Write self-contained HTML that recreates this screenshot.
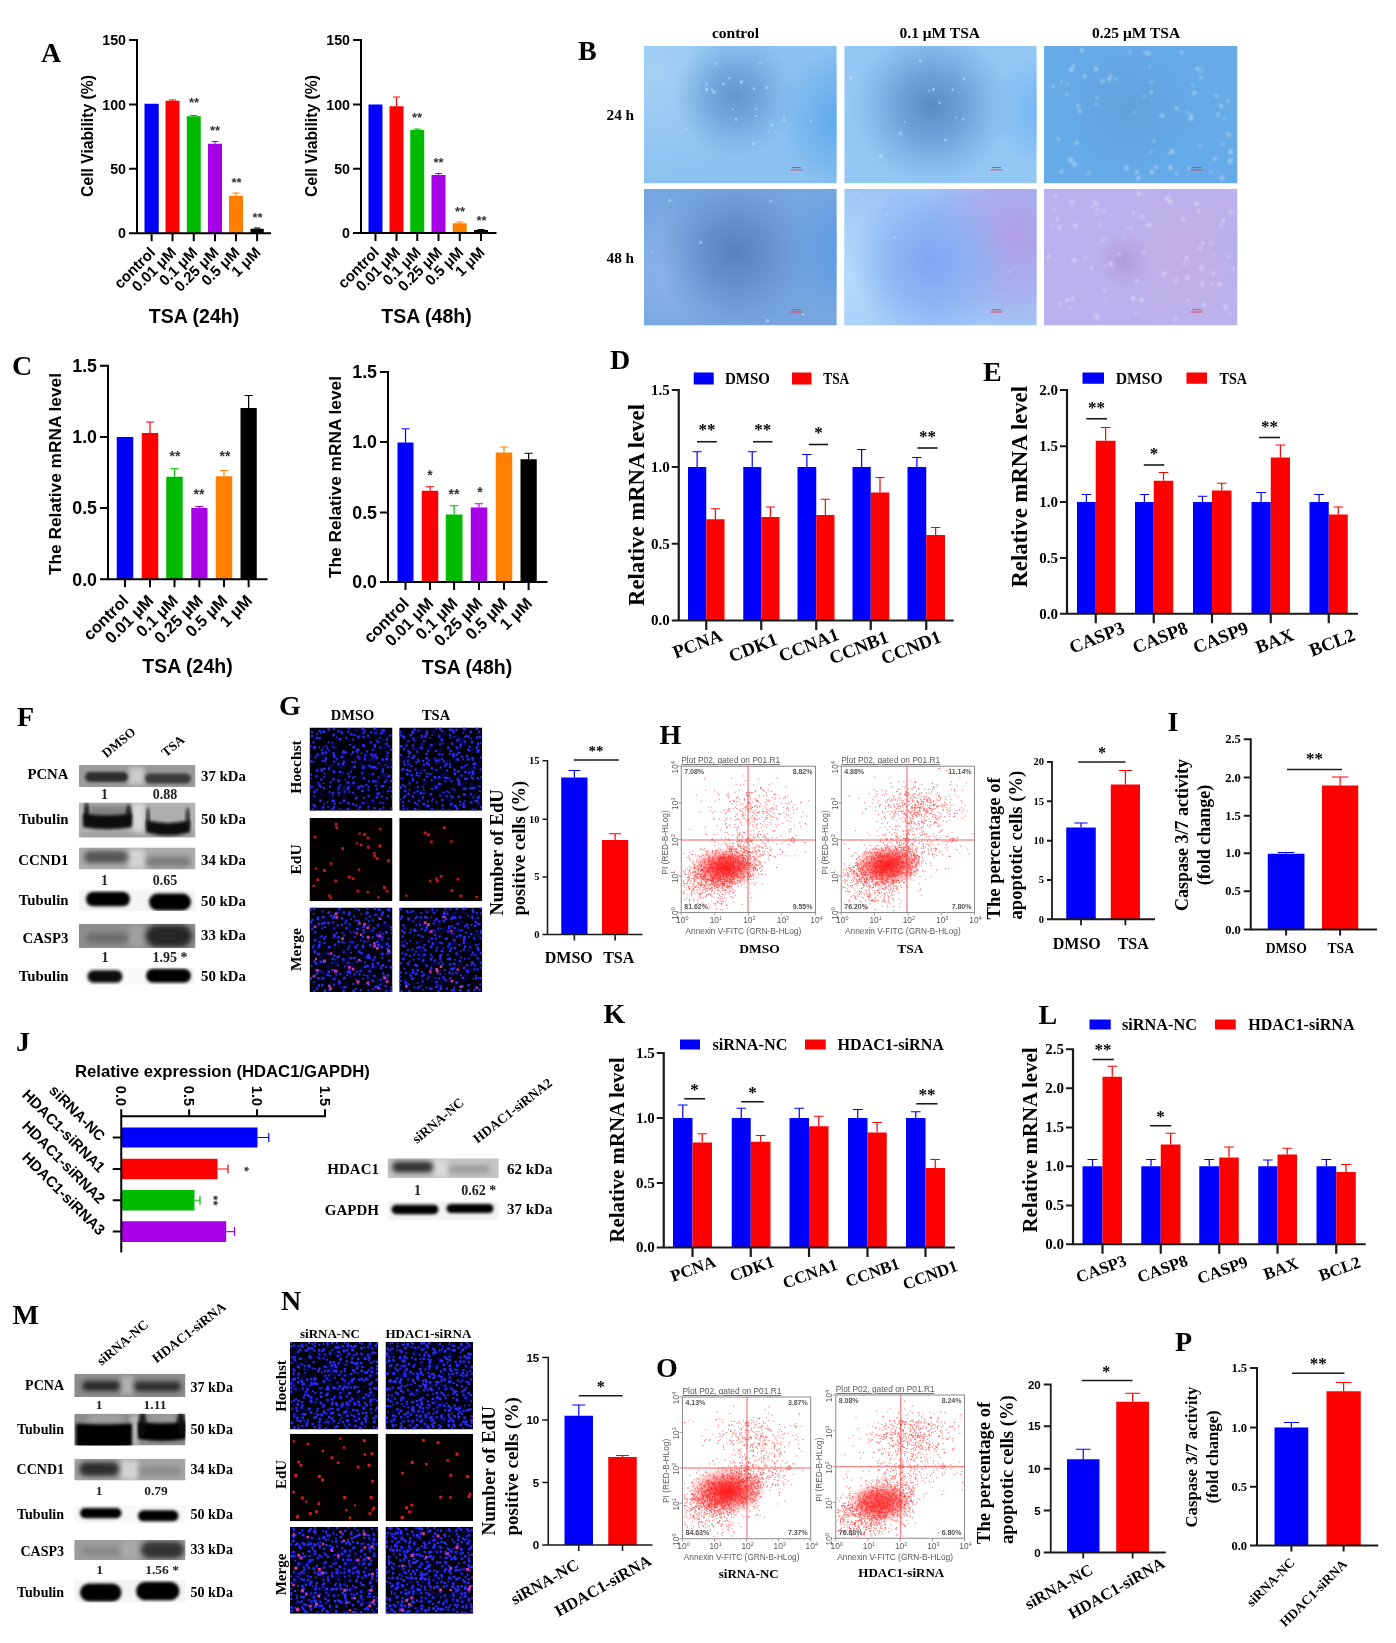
<!DOCTYPE html>
<html lang="en"><head><meta charset="utf-8"><title>Figure</title>
<style>html,body{margin:0;padding:0;background:#fff}svg{display:block;filter:blur(0.45px)}.se{font-family:"Liberation Serif",serif;font-weight:bold}.sa{font-family:"Liberation Sans",sans-serif;font-weight:bold}.san{font-family:"Liberation Sans",sans-serif;font-weight:normal}.sen{font-family:"Liberation Serif",serif;font-weight:normal}</style></head><body>
<svg width="1396" height="1643" viewBox="0 0 1396 1643">
<rect width="1396" height="1643" fill="#fff"/>
<defs><filter id="b1" x="-20%" y="-50%" width="140%" height="200%"><feGaussianBlur stdDeviation="1.6"/></filter><filter id="b2" x="-20%" y="-50%" width="140%" height="200%"><feGaussianBlur stdDeviation="2.6"/></filter><filter id="b3" x="-20%" y="-20%" width="140%" height="140%"><feGaussianBlur stdDeviation="6"/></filter><filter id="b0" x="-20%" y="-20%" width="140%" height="140%"><feGaussianBlur stdDeviation="0.6"/></filter><filter id="bd" x="-5%" y="-5%" width="110%" height="110%"><feGaussianBlur stdDeviation="0.85"/></filter><filter id="bs" x="-5%" y="-5%" width="110%" height="110%"><feGaussianBlur stdDeviation="1"/></filter></defs>
<text class="se" x="41" y="62" font-size="28">A</text>
<text class="se" x="578" y="60" font-size="28">B</text>
<text class="se" x="12" y="375" font-size="28">C</text>
<text class="se" x="610" y="369" font-size="28">D</text>
<text class="se" x="983" y="381" font-size="28">E</text>
<text class="se" x="17" y="726" font-size="28">F</text>
<text class="se" x="279" y="715" font-size="28">G</text>
<text class="se" x="659.5" y="743.75" font-size="28">H</text>
<text class="se" x="1167.5" y="731" font-size="28">I</text>
<text class="se" x="16" y="1051" font-size="28">J</text>
<text class="se" x="603.5" y="1022.5" font-size="28">K</text>
<text class="se" x="1038.5" y="1023.75" font-size="28">L</text>
<text class="se" x="12.5" y="1324" font-size="28">M</text>
<text class="se" x="281" y="1310" font-size="28">N</text>
<text class="se" x="656" y="1377" font-size="28">O</text>
<text class="se" x="1175" y="1351" font-size="28">P</text>
<rect x="144.5" y="103.75" width="14.25" height="129.45" fill="#0000FF"/>
<rect x="165.5" y="100.75" width="14" height="132.45" fill="#FF0000"/>
<path d="M172.5 100.75V100M169 100H176" stroke="#FF0000" stroke-width="1.2" fill="none"/>
<rect x="186.75" y="116.25" width="14" height="116.95" fill="#00BA00"/>
<path d="M193.75 116.25V115.5M190.25 115.5H197.25" stroke="#00BA00" stroke-width="1.2" fill="none"/>
<rect x="208" y="143.75" width="14" height="89.45" fill="#A800E6"/>
<path d="M215 143.75V141.5M211.5 141.5H218.5" stroke="#A800E6" stroke-width="1.2" fill="none"/>
<rect x="229" y="195.75" width="14" height="37.45" fill="#FF8000"/>
<path d="M236 195.75V193M232.5 193H239.5" stroke="#FF8000" stroke-width="1.2" fill="none"/>
<rect x="250.5" y="228.75" width="13.25" height="4.45" fill="#000000"/>
<path d="M257.12 228.75V228M253.81 228H260.44" stroke="#000000" stroke-width="1.2" fill="none"/>
<path d="M137 39V233.2H271M129 40H137M129 104.5H137M129 168.75H137M129 233.2H137M151.62 233.2V241.2M172.5 233.2V241.2M193.75 233.2V241.2M215 233.2V241.2M236 233.2V241.2M257.12 233.2V241.2" stroke="#000" stroke-width="2" fill="none"/>
<text class="sa" x="126" y="45.11" font-size="14.2" text-anchor="end">150</text>
<text class="sa" x="126" y="109.61" font-size="14.2" text-anchor="end">100</text>
<text class="sa" x="126" y="173.86" font-size="14.2" text-anchor="end">50</text>
<text class="sa" x="126" y="238.31" font-size="14.2" text-anchor="end">0</text>
<text class="sa" font-size="15" text-anchor="end" transform="translate(156.12 253.5) rotate(-45)">control</text>
<text class="sa" font-size="15" text-anchor="end" transform="translate(177 253.5) rotate(-45)">0.01 μM</text>
<text class="sa" font-size="15" text-anchor="end" transform="translate(198.25 253.5) rotate(-45)">0.1 μM</text>
<text class="sa" font-size="15" text-anchor="end" transform="translate(219.5 253.5) rotate(-45)">0.25 μM</text>
<text class="sa" font-size="15" text-anchor="end" transform="translate(240.5 253.5) rotate(-45)">0.5 μM</text>
<text class="sa" font-size="15" text-anchor="end" transform="translate(261.62 253.5) rotate(-45)">1 μM</text>
<text class="sa" font-size="15.7" text-anchor="middle" transform="translate(93 136) rotate(-90)">Cell Viability (%)</text>
<text class="sa" x="194" y="322.5" font-size="19.5" text-anchor="middle">TSA (24h)</text>
<text class="sa" x="194" y="107.2" font-size="13" text-anchor="middle" fill="#333">**</text>
<text class="sa" x="215" y="135.2" font-size="13" text-anchor="middle" fill="#333">**</text>
<text class="sa" x="236.5" y="187.2" font-size="13" text-anchor="middle" fill="#333">**</text>
<text class="sa" x="257.5" y="222.2" font-size="13" text-anchor="middle" fill="#333">**</text>
<rect x="368.5" y="104.5" width="14" height="128.5" fill="#0000FF"/>
<rect x="389.5" y="106.25" width="14" height="126.75" fill="#FF0000"/>
<path d="M396.5 106.25V97M393 97H400" stroke="#FF0000" stroke-width="1.2" fill="none"/>
<rect x="410.25" y="130" width="14" height="103" fill="#00BA00"/>
<path d="M417.25 130V129M413.75 129H420.75" stroke="#00BA00" stroke-width="1.2" fill="none"/>
<rect x="431.5" y="175" width="14" height="58" fill="#A800E6"/>
<path d="M438.5 175V173.5M435 173.5H442" stroke="#A800E6" stroke-width="1.2" fill="none"/>
<rect x="452.75" y="223.25" width="14" height="9.75" fill="#FF8000"/>
<path d="M459.75 223.25V222M456.25 222H463.25" stroke="#FF8000" stroke-width="1.2" fill="none"/>
<rect x="474" y="230" width="14" height="3" fill="#000000"/>
<path d="M481 230V229.5M477.5 229.5H484.5" stroke="#000000" stroke-width="1.2" fill="none"/>
<path d="M361 39V233H496.5M353 40H361M353 104.5H361M353 168.75H361M353 233H361M375.5 233V241M396.5 233V241M417.25 233V241M438.5 233V241M459.75 233V241M481 233V241" stroke="#000" stroke-width="2" fill="none"/>
<text class="sa" x="350" y="45.11" font-size="14.2" text-anchor="end">150</text>
<text class="sa" x="350" y="109.61" font-size="14.2" text-anchor="end">100</text>
<text class="sa" x="350" y="173.86" font-size="14.2" text-anchor="end">50</text>
<text class="sa" x="350" y="238.11" font-size="14.2" text-anchor="end">0</text>
<text class="sa" font-size="15" text-anchor="end" transform="translate(380 253.3) rotate(-45)">control</text>
<text class="sa" font-size="15" text-anchor="end" transform="translate(401 253.3) rotate(-45)">0.01 μM</text>
<text class="sa" font-size="15" text-anchor="end" transform="translate(421.75 253.3) rotate(-45)">0.1 μM</text>
<text class="sa" font-size="15" text-anchor="end" transform="translate(443 253.3) rotate(-45)">0.25 μM</text>
<text class="sa" font-size="15" text-anchor="end" transform="translate(464.25 253.3) rotate(-45)">0.5 μM</text>
<text class="sa" font-size="15" text-anchor="end" transform="translate(485.5 253.3) rotate(-45)">1 μM</text>
<text class="sa" font-size="15.7" text-anchor="middle" transform="translate(317 136) rotate(-90)">Cell Viability (%)</text>
<text class="sa" x="426.5" y="322.5" font-size="19.5" text-anchor="middle">TSA (48h)</text>
<text class="sa" x="417" y="122.2" font-size="13" text-anchor="middle" fill="#333">**</text>
<text class="sa" x="438.5" y="167.2" font-size="13" text-anchor="middle" fill="#333">**</text>
<text class="sa" x="460" y="216.2" font-size="13" text-anchor="middle" fill="#333">**</text>
<text class="sa" x="481.5" y="225.2" font-size="13" text-anchor="middle" fill="#333">**</text>
<rect x="116.75" y="437" width="16.5" height="142.25" fill="#0000FF"/>
<rect x="141.75" y="433" width="16.5" height="146.25" fill="#FF0000"/>
<path d="M150 433V422M145.88 422H154.12" stroke="#FF0000" stroke-width="1.2" fill="none"/>
<rect x="166.25" y="476.75" width="16.5" height="102.5" fill="#00BA00"/>
<path d="M174.5 476.75V468.75M170.38 468.75H178.62" stroke="#00BA00" stroke-width="1.2" fill="none"/>
<rect x="191.25" y="508" width="16.25" height="71.25" fill="#A800E6"/>
<path d="M199.38 508V506.5M195.31 506.5H203.44" stroke="#A800E6" stroke-width="1.2" fill="none"/>
<rect x="215.75" y="476.25" width="16.5" height="103" fill="#FF8000"/>
<path d="M224 476.25V470.5M219.88 470.5H228.12" stroke="#FF8000" stroke-width="1.2" fill="none"/>
<rect x="240.5" y="408" width="16.25" height="171.25" fill="#000000"/>
<path d="M248.62 408V395.5M244.56 395.5H252.69" stroke="#000000" stroke-width="1.2" fill="none"/>
<path d="M108 364.75V579.25H267.5M100 365.75H108M100 437H108M100 508H108M100 579.25H108M125 579.25V587.25M150 579.25V587.25M174.5 579.25V587.25M199.38 579.25V587.25M224 579.25V587.25M248.62 579.25V587.25" stroke="#000" stroke-width="2" fill="none"/>
<text class="sa" x="97" y="372.16" font-size="17.8" text-anchor="end">1.5</text>
<text class="sa" x="97" y="443.41" font-size="17.8" text-anchor="end">1.0</text>
<text class="sa" x="97" y="514.41" font-size="17.8" text-anchor="end">0.5</text>
<text class="sa" x="97" y="585.66" font-size="17.8" text-anchor="end">0.0</text>
<text class="sa" font-size="16.5" text-anchor="end" transform="translate(129.5 601.75) rotate(-45)">control</text>
<text class="sa" font-size="16.5" text-anchor="end" transform="translate(154.5 601.75) rotate(-45)">0.01 μM</text>
<text class="sa" font-size="16.5" text-anchor="end" transform="translate(179 601.75) rotate(-45)">0.1 μM</text>
<text class="sa" font-size="16.5" text-anchor="end" transform="translate(203.88 601.75) rotate(-45)">0.25 μM</text>
<text class="sa" font-size="16.5" text-anchor="end" transform="translate(228.5 601.75) rotate(-45)">0.5 μM</text>
<text class="sa" font-size="16.5" text-anchor="end" transform="translate(253.12 601.75) rotate(-45)">1 μM</text>
<text class="sa" font-size="17.3" text-anchor="middle" transform="translate(60.5 474) rotate(-90)">The Relative mRNA level</text>
<text class="sa" x="187.5" y="672.5" font-size="19.5" text-anchor="middle">TSA (24h)</text>
<text class="sa" x="175" y="461.2" font-size="14" text-anchor="middle" fill="#333">**</text>
<text class="sa" x="199" y="499.2" font-size="14" text-anchor="middle" fill="#333">**</text>
<text class="sa" x="225" y="461.2" font-size="14" text-anchor="middle" fill="#333">**</text>
<rect x="397.5" y="442.5" width="16" height="139.5" fill="#0000FF"/>
<path d="M405.5 442.5V428.75M401.5 428.75H409.5" stroke="#0000FF" stroke-width="1.2" fill="none"/>
<rect x="421.75" y="490.75" width="16.5" height="91.25" fill="#FF0000"/>
<path d="M430 490.75V486.75M425.88 486.75H434.12" stroke="#FF0000" stroke-width="1.2" fill="none"/>
<rect x="445.75" y="514.5" width="16.75" height="67.5" fill="#00BA00"/>
<path d="M454.12 514.5V505.75M449.94 505.75H458.31" stroke="#00BA00" stroke-width="1.2" fill="none"/>
<rect x="470.75" y="507.5" width="16.5" height="74.5" fill="#A800E6"/>
<path d="M479 507.5V503.75M474.88 503.75H483.12" stroke="#A800E6" stroke-width="1.2" fill="none"/>
<rect x="495.75" y="452.5" width="16.5" height="129.5" fill="#FF8000"/>
<path d="M504 452.5V447M499.88 447H508.12" stroke="#FF8000" stroke-width="1.2" fill="none"/>
<rect x="520.5" y="459.25" width="16.25" height="122.75" fill="#000000"/>
<path d="M528.62 459.25V453.25M524.56 453.25H532.69" stroke="#000000" stroke-width="1.2" fill="none"/>
<path d="M388 371V582H547.5M380 372H388M380 442H388M380 512.5H388M380 582H388M405.5 582V590M430 582V590M454.12 582V590M479 582V590M504 582V590M528.62 582V590" stroke="#000" stroke-width="2" fill="none"/>
<text class="sa" x="377" y="378.41" font-size="17.8" text-anchor="end">1.5</text>
<text class="sa" x="377" y="448.41" font-size="17.8" text-anchor="end">1.0</text>
<text class="sa" x="377" y="518.91" font-size="17.8" text-anchor="end">0.5</text>
<text class="sa" x="377" y="588.41" font-size="17.8" text-anchor="end">0.0</text>
<text class="sa" font-size="16.5" text-anchor="end" transform="translate(410 604.5) rotate(-45)">control</text>
<text class="sa" font-size="16.5" text-anchor="end" transform="translate(434.5 604.5) rotate(-45)">0.01 μM</text>
<text class="sa" font-size="16.5" text-anchor="end" transform="translate(458.62 604.5) rotate(-45)">0.1 μM</text>
<text class="sa" font-size="16.5" text-anchor="end" transform="translate(483.5 604.5) rotate(-45)">0.25 μM</text>
<text class="sa" font-size="16.5" text-anchor="end" transform="translate(508.5 604.5) rotate(-45)">0.5 μM</text>
<text class="sa" font-size="16.5" text-anchor="end" transform="translate(533.12 604.5) rotate(-45)">1 μM</text>
<text class="sa" font-size="17.3" text-anchor="middle" transform="translate(340.5 477) rotate(-90)">The Relative mRNA level</text>
<text class="sa" x="467" y="673.75" font-size="19.5" text-anchor="middle">TSA (48h)</text>
<text class="sa" x="430" y="480.2" font-size="14" text-anchor="middle" fill="#333">*</text>
<text class="sa" x="454" y="499.2" font-size="14" text-anchor="middle" fill="#333">**</text>
<text class="sa" x="480" y="496.7" font-size="14" text-anchor="middle" fill="#333">*</text>
<text class="se" x="735.5" y="37.5" font-size="15.5" text-anchor="middle">control</text>
<text class="se" x="939.75" y="37.5" font-size="15.5" text-anchor="middle">0.1 μM TSA</text>
<text class="se" x="1136" y="37.5" font-size="15.5" text-anchor="middle">0.25 μM TSA</text>
<text class="se" x="606.5" y="120" font-size="15.3">24 h</text>
<text class="se" x="606.5" y="262.5" font-size="15.3">48 h</text>
<defs>
<radialGradient id="g11" gradientUnits="userSpaceOnUse" cx="735" cy="96" r="62"><stop offset="0" stop-color="#6296cc" stop-opacity="1"/><stop offset="0.45" stop-color="#70a4da" stop-opacity="0.85"/><stop offset="1" stop-color="#78acde" stop-opacity="0"/></radialGradient>
<radialGradient id="g11b" gradientUnits="userSpaceOnUse" cx="655" cy="70" r="110"><stop offset="0" stop-color="#a6d2f5" stop-opacity="0.9"/><stop offset="1" stop-color="#a6d2f5" stop-opacity="0"/></radialGradient>
<radialGradient id="g11c" gradientUnits="userSpaceOnUse" cx="850" cy="120" r="75"><stop offset="0" stop-color="#5aa4ec" stop-opacity="1"/><stop offset="1" stop-color="#5aa4ec" stop-opacity="0"/></radialGradient>
<radialGradient id="g12" gradientUnits="userSpaceOnUse" cx="932" cy="106" r="82"><stop offset="0" stop-color="#5a8cc4" stop-opacity="1"/><stop offset="0.4" stop-color="#6a9ed4" stop-opacity="0.9"/><stop offset="1" stop-color="#76aade" stop-opacity="0"/></radialGradient>
<radialGradient id="g12c" gradientUnits="userSpaceOnUse" cx="1050" cy="110" r="60"><stop offset="0" stop-color="#6eb2f4" stop-opacity="1"/><stop offset="1" stop-color="#6eb2f4" stop-opacity="0"/></radialGradient>
<radialGradient id="g13" gradientUnits="userSpaceOnUse" cx="1130" cy="110" r="70"><stop offset="0" stop-color="#5d9ad6" stop-opacity="0.55"/><stop offset="1" stop-color="#5d9ad6" stop-opacity="0"/></radialGradient>
<radialGradient id="g21" gradientUnits="userSpaceOnUse" cx="735" cy="252" r="80"><stop offset="0" stop-color="#5582be" stop-opacity="1"/><stop offset="0.45" stop-color="#6290cc" stop-opacity="0.85"/><stop offset="1" stop-color="#6a98d4" stop-opacity="0"/></radialGradient>
<radialGradient id="g21b" gradientUnits="userSpaceOnUse" cx="670" cy="270" r="70"><stop offset="0" stop-color="#8db6ea" stop-opacity="0.9"/><stop offset="1" stop-color="#8db6ea" stop-opacity="0"/></radialGradient>
<radialGradient id="g21c" gradientUnits="userSpaceOnUse" cx="850" cy="250" r="70"><stop offset="0" stop-color="#5a98e6" stop-opacity="0.9"/><stop offset="1" stop-color="#5a98e6" stop-opacity="0"/></radialGradient>
<radialGradient id="g22" gradientUnits="userSpaceOnUse" cx="930" cy="262" r="80"><stop offset="0" stop-color="#7ea6f4" stop-opacity="1"/><stop offset="0.5" stop-color="#88b0f4" stop-opacity="0.8"/><stop offset="1" stop-color="#88b0f4" stop-opacity="0"/></radialGradient>
<radialGradient id="g22b" gradientUnits="userSpaceOnUse" cx="1015" cy="235" r="95"><stop offset="0" stop-color="#b09fe4" stop-opacity="1"/><stop offset="0.55" stop-color="#aca6ea" stop-opacity="0.75"/><stop offset="1" stop-color="#aca6ea" stop-opacity="0"/></radialGradient>
<radialGradient id="g22c" gradientUnits="userSpaceOnUse" cx="850" cy="280" r="90"><stop offset="0" stop-color="#b4dcfb" stop-opacity="1"/><stop offset="1" stop-color="#b4dcfb" stop-opacity="0"/></radialGradient>
<radialGradient id="g23" gradientUnits="userSpaceOnUse" cx="1124" cy="261" r="30"><stop offset="0" stop-color="#ab98d8" stop-opacity="0.9"/><stop offset="0.5" stop-color="#b2a2de" stop-opacity="0.6"/><stop offset="1" stop-color="#b2a2de" stop-opacity="0"/></radialGradient>
<radialGradient id="g23b" gradientUnits="userSpaceOnUse" cx="1190" cy="255" r="80"><stop offset="0" stop-color="#c4aee2" stop-opacity="0.8"/><stop offset="1" stop-color="#c4aee2" stop-opacity="0"/></radialGradient>
<radialGradient id="g23c" gradientUnits="userSpaceOnUse" cx="1245" cy="250" r="40"><stop offset="0" stop-color="#a4b0f6" stop-opacity="0.9"/><stop offset="1" stop-color="#a4b0f6" stop-opacity="0"/></radialGradient>
<clipPath id="cb11"><rect x="644" y="46" width="192.75" height="137.5"/></clipPath>
<clipPath id="cb21"><rect x="644" y="189" width="192.75" height="136.5"/></clipPath>
<clipPath id="cb12"><rect x="844.25" y="46" width="192.5" height="137.5"/></clipPath>
<clipPath id="cb22"><rect x="844.25" y="189" width="192.5" height="136.5"/></clipPath>
<clipPath id="cb13"><rect x="1044" y="46" width="193.5" height="137.5"/></clipPath>
<clipPath id="cb23"><rect x="1044" y="189" width="193.5" height="136.5"/></clipPath>
</defs>
<g clip-path="url(#cb11)">
<rect x="644" y="46" width="192.75" height="137.5" fill="#8cc2f0"/>
<rect x="644" y="46" width="192.75" height="137.5" fill="url(#g11b)"/>
<rect x="644" y="46" width="192.75" height="137.5" fill="url(#g11c)"/>
<rect x="644" y="46" width="192.75" height="137.5" fill="url(#g11)"/>
<path d="M734.49 119.32a1.55 1.55 0 1 0 3.1 0a1.55 1.55 0 1 0 -3.1 0M782.69 120.25a1.27 1.27 0 1 0 2.53 0a1.27 1.27 0 1 0 -2.53 0M782.98 116.88a0.94 0.94 0 1 0 1.87 0a0.94 0.94 0 1 0 -1.87 0M731.83 109.32a0.99 0.99 0 1 0 1.98 0a0.99 0.99 0 1 0 -1.98 0M685.66 128.95a1.02 1.02 0 1 0 2.05 0a1.02 1.02 0 1 0 -2.05 0M751.38 143.79a1.85 1.85 0 1 0 3.7 0a1.85 1.85 0 1 0 -3.7 0M711.99 91.89a1.88 1.88 0 1 0 3.75 0a1.88 1.88 0 1 0 -3.75 0M810.08 120.98a1.19 1.19 0 1 0 2.38 0a1.19 1.19 0 1 0 -2.38 0M754.6 116.04a1.21 1.21 0 1 0 2.42 0a1.21 1.21 0 1 0 -2.42 0M752.44 88.82a1.48 1.48 0 1 0 2.96 0a1.48 1.48 0 1 0 -2.96 0M721.84 84.29a1.45 1.45 0 1 0 2.9 0a1.45 1.45 0 1 0 -2.9 0M755.22 108.77a1.11 1.11 0 1 0 2.21 0a1.11 1.11 0 1 0 -2.21 0M728.13 78.21a1.21 1.21 0 1 0 2.43 0a1.21 1.21 0 1 0 -2.43 0M710.77 89.25a1.2 1.2 0 1 0 2.4 0a1.2 1.2 0 1 0 -2.4 0M758.78 63.29a1.14 1.14 0 1 0 2.29 0a1.14 1.14 0 1 0 -2.29 0M705.09 89.6a1.78 1.78 0 1 0 3.55 0a1.78 1.78 0 1 0 -3.55 0M739.4 82.12a1.88 1.88 0 1 0 3.76 0a1.88 1.88 0 1 0 -3.76 0M770.2 124.69a1.66 1.66 0 1 0 3.31 0a1.66 1.66 0 1 0 -3.31 0M767.49 131.48a0.94 0.94 0 1 0 1.88 0a0.94 0.94 0 1 0 -1.88 0M714.27 63.53a1.47 1.47 0 1 0 2.95 0a1.47 1.47 0 1 0 -2.95 0M764.95 87.87a1.6 1.6 0 1 0 3.19 0a1.6 1.6 0 1 0 -3.19 0M705.42 84.39a1.36 1.36 0 1 0 2.71 0a1.36 1.36 0 1 0 -2.71 0" fill="#c4e2ff" opacity="0.5" filter="url(#b0)"/>
<path d="M790.27 169.88h12M791.77 167.57h9" stroke="#e8304a" stroke-width="1" opacity="0.85"/>
</g>
<g clip-path="url(#cb21)">
<rect x="644" y="189" width="192.75" height="136.5" fill="#76a6e0"/>
<rect x="644" y="189" width="192.75" height="136.5" fill="url(#g21b)"/>
<rect x="644" y="189" width="192.75" height="136.5" fill="url(#g21c)"/>
<rect x="644" y="189" width="192.75" height="136.5" fill="url(#g21)"/>
<path d="M801.81 314.39a1.37 1.37 0 1 0 2.75 0a1.37 1.37 0 1 0 -2.75 0M769.1 200.8a1.6 1.6 0 1 0 3.2 0a1.6 1.6 0 1 0 -3.2 0M765.84 320.61a1.72 1.72 0 1 0 3.44 0a1.72 1.72 0 1 0 -3.44 0M699.01 242.57a1.57 1.57 0 1 0 3.14 0a1.57 1.57 0 1 0 -3.14 0M651.1 252.33a1.07 1.07 0 1 0 2.14 0a1.07 1.07 0 1 0 -2.14 0M667.97 200.58a1.67 1.67 0 1 0 3.34 0a1.67 1.67 0 1 0 -3.34 0" fill="#c4e2ff" opacity="0.5" filter="url(#b0)"/>
<path d="M790.27 311.99h12M791.77 309.69h9" stroke="#e8304a" stroke-width="1" opacity="0.85"/>
</g>
<g clip-path="url(#cb12)">
<rect x="844.25" y="46" width="192.5" height="137.5" fill="#94c8f4"/>
<rect x="844.25" y="46" width="192.5" height="137.5" fill="url(#g12c)"/>
<rect x="844.25" y="46" width="192.5" height="137.5" fill="url(#g12)"/>
<path d="M962.05 119.17a1.29 1.29 0 1 0 2.58 0a1.29 1.29 0 1 0 -2.58 0M951.4 89.63a1.35 1.35 0 1 0 2.7 0a1.35 1.35 0 1 0 -2.7 0M849.46 77.82a1.72 1.72 0 1 0 3.44 0a1.72 1.72 0 1 0 -3.44 0M962.55 78.67a1.32 1.32 0 1 0 2.63 0a1.32 1.32 0 1 0 -2.63 0M879.14 156.35a1.86 1.86 0 1 0 3.72 0a1.86 1.86 0 1 0 -3.72 0M955.21 117.7a1.13 1.13 0 1 0 2.26 0a1.13 1.13 0 1 0 -2.26 0M943.93 140.1a1.49 1.49 0 1 0 2.98 0a1.49 1.49 0 1 0 -2.98 0M938.35 103.16a1.32 1.32 0 1 0 2.64 0a1.32 1.32 0 1 0 -2.64 0M898.53 133.13a1.85 1.85 0 1 0 3.71 0a1.85 1.85 0 1 0 -3.71 0M918.7 60.78a1.52 1.52 0 1 0 3.04 0a1.52 1.52 0 1 0 -3.04 0M931.49 89.57a1.8 1.8 0 1 0 3.6 0a1.8 1.8 0 1 0 -3.6 0M955.46 29.95a1.7 1.7 0 1 0 3.4 0a1.7 1.7 0 1 0 -3.4 0M903.58 122.1a1 1 0 1 0 2.01 0a1 1 0 1 0 -2.01 0M928.31 90.62a0.97 0.97 0 1 0 1.93 0a0.97 0.97 0 1 0 -1.93 0" fill="#c4e2ff" opacity="0.5" filter="url(#b0)"/>
<path d="M990.33 169.88h12M991.83 167.57h9" stroke="#e8304a" stroke-width="1" opacity="0.85"/>
</g>
<g clip-path="url(#cb22)">
<rect x="844.25" y="189" width="192.5" height="136.5" fill="#a0c6f6"/>
<rect x="844.25" y="189" width="192.5" height="136.5" fill="url(#g22c)"/>
<rect x="844.25" y="189" width="192.5" height="136.5" fill="url(#g22b)"/>
<rect x="844.25" y="189" width="192.5" height="136.5" fill="url(#g22)"/>
<path d="M885.53 213.86a1.24 1.24 0 1 0 2.48 0a1.24 1.24 0 1 0 -2.48 0M856.9 193.03a1.05 1.05 0 1 0 2.1 0a1.05 1.05 0 1 0 -2.1 0M866.04 239.72a0.93 0.93 0 1 0 1.85 0a0.93 0.93 0 1 0 -1.85 0M1008.52 271.91a1.05 1.05 0 1 0 2.1 0a1.05 1.05 0 1 0 -2.1 0M893.53 237.64a1.26 1.26 0 1 0 2.53 0a1.26 1.26 0 1 0 -2.53 0" fill="#c4e2ff" opacity="0.5" filter="url(#b0)"/>
<path d="M990.33 311.99h12M991.83 309.69h9" stroke="#e8304a" stroke-width="1" opacity="0.85"/>
</g>
<g clip-path="url(#cb13)">
<rect x="1044" y="46" width="193.5" height="137.5" fill="#66aae8"/>
<rect x="1044" y="46" width="193.5" height="137.5" fill="url(#g13)"/>
<path d="M1068.2 159.94a2.59 2.59 0 1 0 5.18 0a2.59 2.59 0 1 0 -5.18 0M1133.03 112.66a1.41 1.41 0 1 0 2.82 0a1.41 1.41 0 1 0 -2.82 0M1065.31 94.37a1.64 1.64 0 1 0 3.29 0a1.64 1.64 0 1 0 -3.29 0M1200.42 70.91a1.33 1.33 0 1 0 2.66 0a1.33 1.33 0 1 0 -2.66 0M1222.92 118.41a1.49 1.49 0 1 0 2.98 0a1.49 1.49 0 1 0 -2.98 0M1146.77 53.5a1.99 1.99 0 1 0 3.97 0a1.99 1.99 0 1 0 -3.97 0M1227.31 161.8a2.21 2.21 0 1 0 4.41 0a2.21 2.21 0 1 0 -4.41 0M1094.92 97.49a1.52 1.52 0 1 0 3.03 0a1.52 1.52 0 1 0 -3.03 0M1188.88 118.97a2.31 2.31 0 1 0 4.63 0a2.31 2.31 0 1 0 -4.63 0M1106.8 78.88a2.35 2.35 0 1 0 4.71 0a2.35 2.35 0 1 0 -4.71 0M1228.36 160.42a2.35 2.35 0 1 0 4.7 0a2.35 2.35 0 1 0 -4.7 0M1198.21 145.81a1.59 1.59 0 1 0 3.19 0a1.59 1.59 0 1 0 -3.19 0M1142.68 96.05a1.34 1.34 0 1 0 2.68 0a1.34 1.34 0 1 0 -2.68 0M1051.55 86.18a1.64 1.64 0 1 0 3.27 0a1.64 1.64 0 1 0 -3.27 0M1174.58 173.87a1.88 1.88 0 1 0 3.76 0a1.88 1.88 0 1 0 -3.76 0M1219.28 177.95a2.54 2.54 0 1 0 5.08 0a2.54 2.54 0 1 0 -5.08 0M1114.05 78.55a1.59 1.59 0 1 0 3.19 0a1.59 1.59 0 1 0 -3.19 0M1082.38 76.47a2.11 2.11 0 1 0 4.22 0a2.11 2.11 0 1 0 -4.22 0M1213.08 158.84a1.92 1.92 0 1 0 3.85 0a1.92 1.92 0 1 0 -3.85 0M1167.72 153.55a1.41 1.41 0 1 0 2.82 0a1.41 1.41 0 1 0 -2.82 0M1168.22 167.82a2.32 2.32 0 1 0 4.63 0a2.32 2.32 0 1 0 -4.63 0M1185.62 111.91a1.53 1.53 0 1 0 3.06 0a1.53 1.53 0 1 0 -3.06 0M1192.04 93.06a2.34 2.34 0 1 0 4.68 0a2.34 2.34 0 1 0 -4.68 0M1226.42 101.26a1.82 1.82 0 1 0 3.64 0a1.82 1.82 0 1 0 -3.64 0M1222.11 143.86a1.52 1.52 0 1 0 3.04 0a1.52 1.52 0 1 0 -3.04 0M1069.09 69.57a2.48 2.48 0 1 0 4.95 0a2.48 2.48 0 1 0 -4.95 0M1195.23 68.93a2.37 2.37 0 1 0 4.75 0a2.37 2.37 0 1 0 -4.75 0M1228.09 135.12a1.76 1.76 0 1 0 3.51 0a1.76 1.76 0 1 0 -3.51 0M1148.46 66.96a1.32 1.32 0 1 0 2.64 0a1.32 1.32 0 1 0 -2.64 0M1226.12 134.13a1.98 1.98 0 1 0 3.97 0a1.98 1.98 0 1 0 -3.97 0M1218.75 106.18a2.43 2.43 0 1 0 4.87 0a2.43 2.43 0 1 0 -4.87 0M1199.62 77.33a1.63 1.63 0 1 0 3.25 0a1.63 1.63 0 1 0 -3.25 0M1100.28 81.15a2.06 2.06 0 1 0 4.12 0a2.06 2.06 0 1 0 -4.12 0M1094.64 104.26a1.47 1.47 0 1 0 2.94 0a1.47 1.47 0 1 0 -2.94 0M1214.91 95.82a1.9 1.9 0 1 0 3.79 0a1.9 1.9 0 1 0 -3.79 0M1154.36 167.11a1.85 1.85 0 1 0 3.69 0a1.85 1.85 0 1 0 -3.69 0M1216.25 114.96a1.99 1.99 0 1 0 3.98 0a1.99 1.99 0 1 0 -3.98 0M1143.24 52.42a1.87 1.87 0 1 0 3.74 0a1.87 1.87 0 1 0 -3.74 0M1079.63 50.51a2.34 2.34 0 1 0 4.68 0a2.34 2.34 0 1 0 -4.68 0M1077.73 111.32a2.24 2.24 0 1 0 4.49 0a2.24 2.24 0 1 0 -4.49 0M1149.25 92.21a1.97 1.97 0 1 0 3.95 0a1.97 1.97 0 1 0 -3.95 0M1149.6 151.56a1.44 1.44 0 1 0 2.88 0a1.44 1.44 0 1 0 -2.88 0M1150.27 82.18a1.66 1.66 0 1 0 3.32 0a1.66 1.66 0 1 0 -3.32 0M1189.22 115.75a2.03 2.03 0 1 0 4.06 0a2.03 2.03 0 1 0 -4.06 0M1187.1 168.17a1.88 1.88 0 1 0 3.75 0a1.88 1.88 0 1 0 -3.75 0M1159.66 115.47a1.97 1.97 0 1 0 3.93 0a1.97 1.97 0 1 0 -3.93 0M1174.51 108.58a1.99 1.99 0 1 0 3.99 0a1.99 1.99 0 1 0 -3.99 0M1134.47 171.92a2.21 2.21 0 1 0 4.42 0a2.21 2.21 0 1 0 -4.42 0M1208.96 172.01a1.64 1.64 0 1 0 3.27 0a1.64 1.64 0 1 0 -3.27 0M1149.4 172.15a2.39 2.39 0 1 0 4.78 0a2.39 2.39 0 1 0 -4.78 0M1071.56 65.75a1.87 1.87 0 1 0 3.75 0a1.87 1.87 0 1 0 -3.75 0M1060.06 81.16a1.4 1.4 0 1 0 2.79 0a1.4 1.4 0 1 0 -2.79 0M1169.72 151.52a2.47 2.47 0 1 0 4.93 0a2.47 2.47 0 1 0 -4.93 0M1074.49 142.74a2.16 2.16 0 1 0 4.32 0a2.16 2.16 0 1 0 -4.32 0M1071.96 164.33a2.56 2.56 0 1 0 5.12 0a2.56 2.56 0 1 0 -5.12 0M1086.92 173.35a1.82 1.82 0 1 0 3.64 0a1.82 1.82 0 1 0 -3.64 0M1136 178.19a2.38 2.38 0 1 0 4.76 0a2.38 2.38 0 1 0 -4.76 0M1075.98 105.88a1.97 1.97 0 1 0 3.94 0a1.97 1.97 0 1 0 -3.94 0M1109.19 75.35a1.71 1.71 0 1 0 3.43 0a1.71 1.71 0 1 0 -3.43 0M1179.94 52.52a2.02 2.02 0 1 0 4.04 0a2.02 2.02 0 1 0 -4.04 0M1127.97 52.34a1.73 1.73 0 1 0 3.46 0a1.73 1.73 0 1 0 -3.46 0M1162.35 116.34a1.38 1.38 0 1 0 2.77 0a1.38 1.38 0 1 0 -2.77 0M1228.17 152.09a2.56 2.56 0 1 0 5.13 0a2.56 2.56 0 1 0 -5.13 0M1066.09 84.39a1.35 1.35 0 1 0 2.7 0a1.35 1.35 0 1 0 -2.7 0M1191.04 85.02a1.47 1.47 0 1 0 2.94 0a1.47 1.47 0 1 0 -2.94 0M1123.96 168.03a2.36 2.36 0 1 0 4.73 0a2.36 2.36 0 1 0 -4.73 0M1093.48 69.34a2.49 2.49 0 1 0 4.99 0a2.49 2.49 0 1 0 -4.99 0M1152.43 140.7a1.42 1.42 0 1 0 2.83 0a1.42 1.42 0 1 0 -2.83 0M1056.82 139.12a1.85 1.85 0 1 0 3.71 0a1.85 1.85 0 1 0 -3.71 0M1059.31 171.52a2.12 2.12 0 1 0 4.25 0a2.12 2.12 0 1 0 -4.25 0" fill="#c4e2ff" opacity="0.5" filter="url(#bs)"/>
<path d="M1190.87 169.88h12M1192.37 167.57h9" stroke="#e8304a" stroke-width="1" opacity="0.85"/>
</g>
<g clip-path="url(#cb23)">
<rect x="1044" y="189" width="193.5" height="136.5" fill="#bab2ee"/>
<rect x="1044" y="189" width="193.5" height="136.5" fill="url(#g23c)"/>
<rect x="1044" y="189" width="193.5" height="136.5" fill="url(#g23b)"/>
<rect x="1044" y="189" width="193.5" height="136.5" fill="url(#g23)"/>
<path d="M1194.29 203.76a2.41 2.41 0 1 0 4.83 0a2.41 2.41 0 1 0 -4.83 0M1058.47 303.87a1.89 1.89 0 1 0 3.78 0a1.89 1.89 0 1 0 -3.78 0M1108.41 264.07a2.5 2.5 0 1 0 5.01 0a2.5 2.5 0 1 0 -5.01 0M1095.7 209.61a1.98 1.98 0 1 0 3.97 0a1.98 1.98 0 1 0 -3.97 0M1090.72 207.06a1.51 1.51 0 1 0 3.02 0a1.51 1.51 0 1 0 -3.02 0M1055.64 218.93a1.71 1.71 0 1 0 3.41 0a1.71 1.71 0 1 0 -3.41 0M1102.9 290.6a1.68 1.68 0 1 0 3.35 0a1.68 1.68 0 1 0 -3.35 0M1139.02 215.86a1.75 1.75 0 1 0 3.5 0a1.75 1.75 0 1 0 -3.5 0M1050.05 225.18a1.32 1.32 0 1 0 2.64 0a1.32 1.32 0 1 0 -2.64 0M1182.44 263.81a1.55 1.55 0 1 0 3.09 0a1.55 1.55 0 1 0 -3.09 0M1134.63 313.1a1.44 1.44 0 1 0 2.88 0a1.44 1.44 0 1 0 -2.88 0M1197.97 248.53a1.94 1.94 0 1 0 3.89 0a1.94 1.94 0 1 0 -3.89 0M1200.86 243.51a1.96 1.96 0 1 0 3.92 0a1.96 1.96 0 1 0 -3.92 0M1173.83 319.24a1.75 1.75 0 1 0 3.49 0a1.75 1.75 0 1 0 -3.49 0M1200.26 283.81a2.13 2.13 0 1 0 4.25 0a2.13 2.13 0 1 0 -4.25 0M1121.7 237.66a1.37 1.37 0 1 0 2.74 0a1.37 1.37 0 1 0 -2.74 0M1069.82 202.09a2.26 2.26 0 1 0 4.53 0a2.26 2.26 0 1 0 -4.53 0M1094 213.98a1.41 1.41 0 1 0 2.82 0a1.41 1.41 0 1 0 -2.82 0M1201.88 304.86a2.17 2.17 0 1 0 4.34 0a2.17 2.17 0 1 0 -4.34 0M1098.62 224.12a1.68 1.68 0 1 0 3.36 0a1.68 1.68 0 1 0 -3.36 0M1131.35 213.24a1.88 1.88 0 1 0 3.76 0a1.88 1.88 0 1 0 -3.76 0M1094.27 316.59a2.56 2.56 0 1 0 5.13 0a2.56 2.56 0 1 0 -5.13 0M1146.93 224.41a2.56 2.56 0 1 0 5.11 0a2.56 2.56 0 1 0 -5.11 0M1104.12 238.82a1.3 1.3 0 1 0 2.6 0a1.3 1.3 0 1 0 -2.6 0M1116.84 253.99a1.95 1.95 0 1 0 3.91 0a1.95 1.95 0 1 0 -3.91 0M1083.98 257.86a1.31 1.31 0 1 0 2.61 0a1.31 1.31 0 1 0 -2.61 0M1095.18 204.53a1.82 1.82 0 1 0 3.64 0a1.82 1.82 0 1 0 -3.64 0M1054.03 195.89a1.7 1.7 0 1 0 3.39 0a1.7 1.7 0 1 0 -3.39 0M1089.2 268.25a1.99 1.99 0 1 0 3.98 0a1.99 1.99 0 1 0 -3.98 0M1184.99 277.49a2.23 2.23 0 1 0 4.46 0a2.23 2.23 0 1 0 -4.46 0M1209.35 243.05a1.72 1.72 0 1 0 3.45 0a1.72 1.72 0 1 0 -3.45 0M1228.43 212.21a2.24 2.24 0 1 0 4.48 0a2.24 2.24 0 1 0 -4.48 0M1164.93 198.63a2.39 2.39 0 1 0 4.77 0a2.39 2.39 0 1 0 -4.77 0M1211.2 273.61a2.25 2.25 0 1 0 4.51 0a2.25 2.25 0 1 0 -4.51 0M1196.69 210.9a1.98 1.98 0 1 0 3.96 0a1.98 1.98 0 1 0 -3.96 0M1139.21 300.29a2.35 2.35 0 1 0 4.69 0a2.35 2.35 0 1 0 -4.69 0M1198.84 268.05a2.46 2.46 0 1 0 4.92 0a2.46 2.46 0 1 0 -4.92 0M1173.08 282.09a1.6 1.6 0 1 0 3.2 0a1.6 1.6 0 1 0 -3.2 0M1052.01 210.1a1.77 1.77 0 1 0 3.54 0a1.77 1.77 0 1 0 -3.54 0M1065.44 300.4a2.03 2.03 0 1 0 4.05 0a2.03 2.03 0 1 0 -4.05 0M1162.27 273.47a2.18 2.18 0 1 0 4.37 0a2.18 2.18 0 1 0 -4.37 0M1136.43 193.43a2.34 2.34 0 1 0 4.67 0a2.34 2.34 0 1 0 -4.67 0M1184.81 257.63a2 2 0 1 0 3.99 0a2 2 0 1 0 -3.99 0M1168.04 201.49a2.26 2.26 0 1 0 4.52 0a2.26 2.26 0 1 0 -4.52 0M1093.14 202.57a1.65 1.65 0 1 0 3.29 0a1.65 1.65 0 1 0 -3.29 0M1181.03 219.37a2.26 2.26 0 1 0 4.52 0a2.26 2.26 0 1 0 -4.52 0M1227.2 256.47a1.8 1.8 0 1 0 3.59 0a1.8 1.8 0 1 0 -3.59 0M1134.56 280.86a2.3 2.3 0 1 0 4.59 0a2.3 2.3 0 1 0 -4.59 0M1161.05 275.6a1.4 1.4 0 1 0 2.8 0a1.4 1.4 0 1 0 -2.8 0M1073.08 225.63a2.27 2.27 0 1 0 4.53 0a2.27 2.27 0 1 0 -4.53 0M1103.15 265.96a1.32 1.32 0 1 0 2.63 0a1.32 1.32 0 1 0 -2.63 0M1057.08 227.54a2.17 2.17 0 1 0 4.35 0a2.17 2.17 0 1 0 -4.35 0M1174.72 279.83a1.68 1.68 0 1 0 3.36 0a1.68 1.68 0 1 0 -3.36 0M1141.91 252.71a1.91 1.91 0 1 0 3.81 0a1.91 1.91 0 1 0 -3.81 0M1068.42 307.84a1.56 1.56 0 1 0 3.12 0a1.56 1.56 0 1 0 -3.12 0M1228.12 313.31a1.32 1.32 0 1 0 2.65 0a1.32 1.32 0 1 0 -2.65 0M1130.58 298.36a2.56 2.56 0 1 0 5.12 0a2.56 2.56 0 1 0 -5.12 0M1129.8 227.52a1.57 1.57 0 1 0 3.15 0a1.57 1.57 0 1 0 -3.15 0M1221.35 220.08a2.06 2.06 0 1 0 4.11 0a2.06 2.06 0 1 0 -4.11 0M1071.75 260.34a2.54 2.54 0 1 0 5.08 0a2.54 2.54 0 1 0 -5.08 0M1070.64 298.4a1.96 1.96 0 1 0 3.92 0a1.96 1.96 0 1 0 -3.92 0M1210.91 283.38a1.6 1.6 0 1 0 3.2 0a1.6 1.6 0 1 0 -3.2 0M1213.19 255.47a1.33 1.33 0 1 0 2.66 0a1.33 1.33 0 1 0 -2.66 0M1046.78 256.18a1.89 1.89 0 1 0 3.77 0a1.89 1.89 0 1 0 -3.77 0M1102.26 211.08a1.75 1.75 0 1 0 3.49 0a1.75 1.75 0 1 0 -3.49 0M1105.33 300.97a1.3 1.3 0 1 0 2.6 0a1.3 1.3 0 1 0 -2.6 0M1185.81 300.83a1.46 1.46 0 1 0 2.91 0a1.46 1.46 0 1 0 -2.91 0M1217.37 284.62a2.47 2.47 0 1 0 4.94 0a2.47 2.47 0 1 0 -4.94 0M1099.95 240.83a1.81 1.81 0 1 0 3.62 0a1.81 1.81 0 1 0 -3.62 0M1231.51 268.71a1.77 1.77 0 1 0 3.54 0a1.77 1.77 0 1 0 -3.54 0M1126.04 228.36a1.36 1.36 0 1 0 2.73 0a1.36 1.36 0 1 0 -2.73 0M1065.2 300.26a1.67 1.67 0 1 0 3.34 0a1.67 1.67 0 1 0 -3.34 0M1219.91 225.04a1.65 1.65 0 1 0 3.29 0a1.65 1.65 0 1 0 -3.29 0M1141 217.4a1.79 1.79 0 1 0 3.57 0a1.79 1.79 0 1 0 -3.57 0M1223.01 306.63a2.36 2.36 0 1 0 4.71 0a2.36 2.36 0 1 0 -4.71 0" fill="#e2e2ff" opacity="0.5" filter="url(#bs)"/>
<path d="M1190.87 311.99h12M1192.37 309.69h9" stroke="#e8304a" stroke-width="1" opacity="0.85"/>
</g>
<rect x="688" y="467" width="18.25" height="153.5" fill="#0000FF"/>
<path d="M697.12 467V451.75M692.56 451.75H701.69" stroke="#0000FF" stroke-width="1.2" fill="none"/>
<rect x="706.25" y="519.25" width="18.25" height="101.25" fill="#FF0000"/>
<path d="M715.38 519.25V508.75M710.81 508.75H719.94" stroke="#FF0000" stroke-width="1.2" fill="none"/>
<rect x="743.25" y="467" width="18" height="153.5" fill="#0000FF"/>
<path d="M752.25 467V451.75M747.75 451.75H756.75" stroke="#0000FF" stroke-width="1.2" fill="none"/>
<rect x="761.25" y="517" width="18.25" height="103.5" fill="#FF0000"/>
<path d="M770.38 517V507M765.81 507H774.94" stroke="#FF0000" stroke-width="1.2" fill="none"/>
<rect x="797.5" y="467" width="18.75" height="153.5" fill="#0000FF"/>
<path d="M806.88 467V454.5M802.19 454.5H811.56" stroke="#0000FF" stroke-width="1.2" fill="none"/>
<rect x="816.25" y="515" width="18.25" height="105.5" fill="#FF0000"/>
<path d="M825.38 515V499.25M820.81 499.25H829.94" stroke="#FF0000" stroke-width="1.2" fill="none"/>
<rect x="852.5" y="467" width="18.25" height="153.5" fill="#0000FF"/>
<path d="M861.62 467V449.5M857.06 449.5H866.19" stroke="#0000FF" stroke-width="1.2" fill="none"/>
<rect x="870.75" y="492.5" width="18.5" height="128" fill="#FF0000"/>
<path d="M880 492.5V477.5M875.38 477.5H884.62" stroke="#FF0000" stroke-width="1.2" fill="none"/>
<rect x="907.5" y="467" width="18.75" height="153.5" fill="#0000FF"/>
<path d="M916.88 467V457.5M912.19 457.5H921.56" stroke="#0000FF" stroke-width="1.2" fill="none"/>
<rect x="926.25" y="535" width="18.75" height="85.5" fill="#FF0000"/>
<path d="M935.62 535V527.5M930.94 527.5H940.31" stroke="#FF0000" stroke-width="1.2" fill="none"/>
<path d="M678.75 388.9V620.5H953.75M671.75 390H678.75M671.75 467H678.75M671.75 543.75H678.75M671.75 620.5H678.75M706.25 620.5V630M761.25 620.5V630M816.25 620.5V630M870.75 620.5V630M926.25 620.5V630" stroke="#1a1a1a" stroke-width="2.2" fill="none"/>
<text class="se" x="669.75" y="394.8" font-size="15" text-anchor="end">1.5</text>
<text class="se" x="669.75" y="471.8" font-size="15" text-anchor="end">1.0</text>
<text class="se" x="669.75" y="548.55" font-size="15" text-anchor="end">0.5</text>
<text class="se" x="669.75" y="625.3" font-size="15" text-anchor="end">0.0</text>
<path d="M697 441.75L716.75 441.75" stroke="#1a1a1a" stroke-width="1.6"/>
<text class="se" x="706.88" y="435.32" font-size="17" text-anchor="middle">**</text>
<path d="M753 441.75L772.5 441.75" stroke="#1a1a1a" stroke-width="1.6"/>
<text class="se" x="762.75" y="435.32" font-size="17" text-anchor="middle">**</text>
<path d="M808.75 444.5L828 444.5" stroke="#1a1a1a" stroke-width="1.6"/>
<text class="se" x="818.38" y="438.32" font-size="17" text-anchor="middle">*</text>
<path d="M917.5 448L937.5 448" stroke="#1a1a1a" stroke-width="1.6"/>
<text class="se" x="927.5" y="441.82" font-size="17" text-anchor="middle">**</text>
<text class="se" font-size="18.5" text-anchor="middle" transform="translate(697.5 643.75) rotate(-21.5)" dy="6.11">PCNA</text>
<text class="se" font-size="18.5" text-anchor="middle" transform="translate(753 647.5) rotate(-21.5)" dy="6.11">CDK1</text>
<text class="se" font-size="18.5" text-anchor="middle" transform="translate(808.75 645) rotate(-21.5)" dy="6.11">CCNA1</text>
<text class="se" font-size="18.5" text-anchor="middle" transform="translate(858.75 647.5) rotate(-21.5)" dy="6.11">CCNB1</text>
<text class="se" font-size="18.5" text-anchor="middle" transform="translate(911 647.5) rotate(-21.5)" dy="6.11">CCND1</text>
<text class="se" font-size="22.5" text-anchor="middle" textLength="202" lengthAdjust="spacingAndGlyphs" transform="translate(643.5 505) rotate(-90)">Relative mRNA level</text>
<rect x="693.75" y="372.5" width="20" height="12" fill="#0000FF"/>
<rect x="792" y="372.5" width="19.5" height="12" fill="#FF0000"/>
<text class="se" x="725" y="384" font-size="16" textLength="45" lengthAdjust="spacingAndGlyphs">DMSO</text>
<text class="se" x="823.25" y="384" font-size="16" textLength="26" lengthAdjust="spacingAndGlyphs">TSA</text>
<rect x="1077" y="502" width="18.75" height="111.75" fill="#0000FF"/>
<path d="M1086.38 502V494.5M1081.69 494.5H1091.06" stroke="#0000FF" stroke-width="1.2" fill="none"/>
<rect x="1095.75" y="440.75" width="19.75" height="173" fill="#FF0000"/>
<path d="M1105.62 440.75V427.5M1100.69 427.5H1110.56" stroke="#FF0000" stroke-width="1.2" fill="none"/>
<rect x="1135" y="502" width="18.75" height="111.75" fill="#0000FF"/>
<path d="M1144.38 502V494.5M1139.69 494.5H1149.06" stroke="#0000FF" stroke-width="1.2" fill="none"/>
<rect x="1153.75" y="480.75" width="19.5" height="133" fill="#FF0000"/>
<path d="M1163.5 480.75V472.5M1158.62 472.5H1168.38" stroke="#FF0000" stroke-width="1.2" fill="none"/>
<rect x="1193" y="502" width="19" height="111.75" fill="#0000FF"/>
<path d="M1202.5 502V496.25M1197.75 496.25H1207.25" stroke="#0000FF" stroke-width="1.2" fill="none"/>
<rect x="1212" y="490.5" width="19.5" height="123.25" fill="#FF0000"/>
<path d="M1221.75 490.5V483.25M1216.88 483.25H1226.62" stroke="#FF0000" stroke-width="1.2" fill="none"/>
<rect x="1251.5" y="502" width="19.25" height="111.75" fill="#0000FF"/>
<path d="M1261.12 502V492.5M1256.31 492.5H1265.94" stroke="#0000FF" stroke-width="1.2" fill="none"/>
<rect x="1270.75" y="457.5" width="19.25" height="156.25" fill="#FF0000"/>
<path d="M1280.38 457.5V445M1275.56 445H1285.19" stroke="#FF0000" stroke-width="1.2" fill="none"/>
<rect x="1309.5" y="502" width="19.25" height="111.75" fill="#0000FF"/>
<path d="M1319.12 502V494.5M1314.31 494.5H1323.94" stroke="#0000FF" stroke-width="1.2" fill="none"/>
<rect x="1328.75" y="514.5" width="19" height="99.25" fill="#FF0000"/>
<path d="M1338.25 514.5V507M1333.5 507H1343" stroke="#FF0000" stroke-width="1.2" fill="none"/>
<path d="M1067 388.9V613.75H1358M1060 390H1067M1060 446.25H1067M1060 502H1067M1060 558H1067M1060 613.75H1067M1095.75 613.75V623.25M1153.75 613.75V623.25M1212 613.75V623.25M1270.75 613.75V623.25M1328.75 613.75V623.25" stroke="#1a1a1a" stroke-width="2.2" fill="none"/>
<text class="se" x="1058" y="394.8" font-size="15" text-anchor="end">2.0</text>
<text class="se" x="1058" y="451.05" font-size="15" text-anchor="end">1.5</text>
<text class="se" x="1058" y="506.8" font-size="15" text-anchor="end">1.0</text>
<text class="se" x="1058" y="562.8" font-size="15" text-anchor="end">0.5</text>
<text class="se" x="1058" y="618.55" font-size="15" text-anchor="end">0.0</text>
<path d="M1086.25 418.75L1107 418.75" stroke="#1a1a1a" stroke-width="1.6"/>
<text class="se" x="1096.62" y="413.32" font-size="17" text-anchor="middle">**</text>
<path d="M1143.75 465L1164.25 465" stroke="#1a1a1a" stroke-width="1.6"/>
<text class="se" x="1154" y="458.57" font-size="17" text-anchor="middle">*</text>
<path d="M1259 437.5L1280 437.5" stroke="#1a1a1a" stroke-width="1.6"/>
<text class="se" x="1269.5" y="431.57" font-size="17" text-anchor="middle">**</text>
<text class="se" font-size="18.5" text-anchor="middle" transform="translate(1096.75 637.5) rotate(-21.5)" dy="6.11">CASP3</text>
<text class="se" font-size="18.5" text-anchor="middle" transform="translate(1160 637.5) rotate(-21.5)" dy="6.11">CASP8</text>
<text class="se" font-size="18.5" text-anchor="middle" transform="translate(1220.5 637.5) rotate(-21.5)" dy="6.11">CASP9</text>
<text class="se" font-size="18.5" text-anchor="middle" transform="translate(1274.5 641) rotate(-21.5)" dy="6.11">BAX</text>
<text class="se" font-size="18.5" text-anchor="middle" transform="translate(1332 642.5) rotate(-21.5)" dy="6.11">BCL2</text>
<text class="se" font-size="22.5" text-anchor="middle" textLength="201.5" lengthAdjust="spacingAndGlyphs" transform="translate(1027 486.75) rotate(-90)">Relative mRNA level</text>
<rect x="1082.5" y="372.5" width="21.5" height="11.25" fill="#0000FF"/>
<rect x="1186.5" y="372.5" width="20.5" height="11.25" fill="#FF0000"/>
<text class="se" x="1115.75" y="384" font-size="16" textLength="47" lengthAdjust="spacingAndGlyphs">DMSO</text>
<text class="se" x="1219.5" y="384" font-size="16" textLength="27.5" lengthAdjust="spacingAndGlyphs">TSA</text>
<rect x="673" y="1118" width="19.5" height="129.5" fill="#0000FF"/>
<path d="M682.75 1118V1105M677.88 1105H687.62" stroke="#0000FF" stroke-width="1.2" fill="none"/>
<rect x="692.5" y="1142.5" width="19.5" height="105" fill="#FF0000"/>
<path d="M702.25 1142.5V1133.75M697.38 1133.75H707.12" stroke="#FF0000" stroke-width="1.2" fill="none"/>
<rect x="731.75" y="1118" width="19" height="129.5" fill="#0000FF"/>
<path d="M741.25 1118V1108.25M736.5 1108.25H746" stroke="#0000FF" stroke-width="1.2" fill="none"/>
<rect x="750.75" y="1141.75" width="19.75" height="105.75" fill="#FF0000"/>
<path d="M760.62 1141.75V1135.5M755.69 1135.5H765.56" stroke="#FF0000" stroke-width="1.2" fill="none"/>
<rect x="789.5" y="1118" width="19.5" height="129.5" fill="#0000FF"/>
<path d="M799.25 1118V1108.25M794.38 1108.25H804.12" stroke="#0000FF" stroke-width="1.2" fill="none"/>
<rect x="809" y="1126.25" width="19.5" height="121.25" fill="#FF0000"/>
<path d="M818.75 1126.25V1116.25M813.88 1116.25H823.62" stroke="#FF0000" stroke-width="1.2" fill="none"/>
<rect x="848" y="1118" width="19.5" height="129.5" fill="#0000FF"/>
<path d="M857.75 1118V1109.5M852.88 1109.5H862.62" stroke="#0000FF" stroke-width="1.2" fill="none"/>
<rect x="867.5" y="1132.5" width="19.25" height="115" fill="#FF0000"/>
<path d="M877.12 1132.5V1122.5M872.31 1122.5H881.94" stroke="#FF0000" stroke-width="1.2" fill="none"/>
<rect x="906" y="1118" width="19.5" height="129.5" fill="#0000FF"/>
<path d="M915.75 1118V1111.75M910.88 1111.75H920.62" stroke="#0000FF" stroke-width="1.2" fill="none"/>
<rect x="925.5" y="1168" width="19.5" height="79.5" fill="#FF0000"/>
<path d="M935.25 1168V1159.5M930.38 1159.5H940.12" stroke="#FF0000" stroke-width="1.2" fill="none"/>
<path d="M663.75 1051.9V1247.5H955M656.75 1053H663.75M656.75 1118H663.75M656.75 1183H663.75M656.75 1247.5H663.75M692.5 1247.5V1257M750.75 1247.5V1257M809 1247.5V1257M867.5 1247.5V1257M925.5 1247.5V1257" stroke="#1a1a1a" stroke-width="2.2" fill="none"/>
<text class="se" x="654.75" y="1057.8" font-size="15" text-anchor="end">1.5</text>
<text class="se" x="654.75" y="1122.8" font-size="15" text-anchor="end">1.0</text>
<text class="se" x="654.75" y="1187.8" font-size="15" text-anchor="end">0.5</text>
<text class="se" x="654.75" y="1252.3" font-size="15" text-anchor="end">0.0</text>
<path d="M684.25 1098.75L705 1098.75" stroke="#1a1a1a" stroke-width="1.6"/>
<text class="se" x="694.62" y="1094.82" font-size="17" text-anchor="middle">*</text>
<path d="M741.25 1101.75L763.75 1101.75" stroke="#1a1a1a" stroke-width="1.6"/>
<text class="se" x="752.5" y="1098.32" font-size="17" text-anchor="middle">*</text>
<path d="M916.25 1103.75L937.5 1103.75" stroke="#1a1a1a" stroke-width="1.6"/>
<text class="se" x="926.88" y="1100.32" font-size="17" text-anchor="middle">**</text>
<text class="se" font-size="16.8" text-anchor="middle" transform="translate(693 1268.75) rotate(-20)" dy="5.54">PCNA</text>
<text class="se" font-size="16.8" text-anchor="middle" transform="translate(751.75 1268.75) rotate(-20)" dy="5.54">CDK1</text>
<text class="se" font-size="16.8" text-anchor="middle" transform="translate(810 1273.75) rotate(-20)" dy="5.54">CCNA1</text>
<text class="se" font-size="16.8" text-anchor="middle" transform="translate(872.5 1272.5) rotate(-20)" dy="5.54">CCNB1</text>
<text class="se" font-size="16.8" text-anchor="middle" transform="translate(930 1275) rotate(-20)" dy="5.54">CCND1</text>
<text class="se" font-size="20.7" text-anchor="middle" textLength="185" lengthAdjust="spacingAndGlyphs" transform="translate(623.5 1150) rotate(-90)">Relative mRNA level</text>
<rect x="680" y="1039.5" width="20" height="10" fill="#0000FF"/>
<rect x="805" y="1039.5" width="20.75" height="10" fill="#FF0000"/>
<text class="se" x="712.5" y="1050" font-size="16" textLength="75" lengthAdjust="spacingAndGlyphs">siRNA-NC</text>
<text class="se" x="837.5" y="1050" font-size="16" textLength="106.5" lengthAdjust="spacingAndGlyphs">HDAC1-siRNA</text>
<rect x="1082.5" y="1166.25" width="20" height="78" fill="#0000FF"/>
<path d="M1092.5 1166.25V1159.5M1087.5 1159.5H1097.5" stroke="#0000FF" stroke-width="1.2" fill="none"/>
<rect x="1102.5" y="1076.75" width="19.5" height="167.5" fill="#FF0000"/>
<path d="M1112.25 1076.75V1066.25M1107.38 1066.25H1117.12" stroke="#FF0000" stroke-width="1.2" fill="none"/>
<rect x="1141.25" y="1166.25" width="19.5" height="78" fill="#0000FF"/>
<path d="M1151 1166.25V1159.5M1146.12 1159.5H1155.88" stroke="#0000FF" stroke-width="1.2" fill="none"/>
<rect x="1160.75" y="1144.5" width="19.75" height="99.75" fill="#FF0000"/>
<path d="M1170.62 1144.5V1133.25M1165.69 1133.25H1175.56" stroke="#FF0000" stroke-width="1.2" fill="none"/>
<rect x="1199.25" y="1166.25" width="20" height="78" fill="#0000FF"/>
<path d="M1209.25 1166.25V1159.5M1204.25 1159.5H1214.25" stroke="#0000FF" stroke-width="1.2" fill="none"/>
<rect x="1219.25" y="1157.5" width="19.5" height="86.75" fill="#FF0000"/>
<path d="M1229 1157.5V1147M1224.12 1147H1233.88" stroke="#FF0000" stroke-width="1.2" fill="none"/>
<rect x="1258.25" y="1166.25" width="19.25" height="78" fill="#0000FF"/>
<path d="M1267.88 1166.25V1160M1263.06 1160H1272.69" stroke="#0000FF" stroke-width="1.2" fill="none"/>
<rect x="1277.5" y="1154.5" width="19.5" height="89.75" fill="#FF0000"/>
<path d="M1287.25 1154.5V1148.25M1282.38 1148.25H1292.12" stroke="#FF0000" stroke-width="1.2" fill="none"/>
<rect x="1316.5" y="1166.25" width="19.75" height="78" fill="#0000FF"/>
<path d="M1326.38 1166.25V1159.5M1321.44 1159.5H1331.31" stroke="#0000FF" stroke-width="1.2" fill="none"/>
<rect x="1336.25" y="1172" width="19.5" height="72.25" fill="#FF0000"/>
<path d="M1346 1172V1164.5M1341.12 1164.5H1350.88" stroke="#FF0000" stroke-width="1.2" fill="none"/>
<path d="M1073 1048.15V1244.25H1365.75M1066 1049.25H1073M1066 1088.25H1073M1066 1127.5H1073M1066 1166.25H1073M1066 1205.5H1073M1066 1244.25H1073M1102.5 1244.25V1253.75M1160.75 1244.25V1253.75M1219.25 1244.25V1253.75M1277.5 1244.25V1253.75M1336.25 1244.25V1253.75" stroke="#1a1a1a" stroke-width="2.2" fill="none"/>
<text class="se" x="1064" y="1054.05" font-size="15" text-anchor="end">2.5</text>
<text class="se" x="1064" y="1093.05" font-size="15" text-anchor="end">2.0</text>
<text class="se" x="1064" y="1132.3" font-size="15" text-anchor="end">1.5</text>
<text class="se" x="1064" y="1171.05" font-size="15" text-anchor="end">1.0</text>
<text class="se" x="1064" y="1210.3" font-size="15" text-anchor="end">0.5</text>
<text class="se" x="1064" y="1249.05" font-size="15" text-anchor="end">0.0</text>
<path d="M1092.5 1059.5L1113.75 1059.5" stroke="#1a1a1a" stroke-width="1.6"/>
<text class="se" x="1103.12" y="1055.32" font-size="17" text-anchor="middle">**</text>
<path d="M1150 1125.75L1171.25 1125.75" stroke="#1a1a1a" stroke-width="1.6"/>
<text class="se" x="1160.62" y="1121.57" font-size="17" text-anchor="middle">*</text>
<text class="se" font-size="16.8" text-anchor="middle" transform="translate(1101.25 1268.75) rotate(-20)" dy="5.54">CASP3</text>
<text class="se" font-size="16.8" text-anchor="middle" transform="translate(1162.5 1268.75) rotate(-20)" dy="5.54">CASP8</text>
<text class="se" font-size="16.8" text-anchor="middle" transform="translate(1222.5 1270) rotate(-20)" dy="5.54">CASP9</text>
<text class="se" font-size="16.8" text-anchor="middle" transform="translate(1280.75 1268.75) rotate(-20)" dy="5.54">BAX</text>
<text class="se" font-size="16.8" text-anchor="middle" transform="translate(1339.5 1268.75) rotate(-20)" dy="5.54">BCL2</text>
<text class="se" font-size="20.7" text-anchor="middle" textLength="185" lengthAdjust="spacingAndGlyphs" transform="translate(1037 1140) rotate(-90)">Relative mRNA level</text>
<rect x="1089.5" y="1019.5" width="21.25" height="10" fill="#0000FF"/>
<rect x="1215" y="1019.5" width="20.75" height="10" fill="#FF0000"/>
<text class="se" x="1122" y="1030" font-size="16" textLength="75" lengthAdjust="spacingAndGlyphs">siRNA-NC</text>
<text class="se" x="1248.25" y="1030" font-size="16" textLength="106.25" lengthAdjust="spacingAndGlyphs">HDAC1-siRNA</text>
<clipPath id="bl1"><rect x="78.75" y="765" width="116.75" height="22"/></clipPath>
<g clip-path="url(#bl1)">
<rect x="78.75" y="765" width="116.75" height="22" fill="#9a9a9a"/>
<rect x="129" y="767" width="15" height="18" fill="#d0d0d0" opacity="0.9" filter="url(#b2)"/>
<rect x="85" y="772" width="43" height="10" rx="5" fill="#242424" opacity="0.9" filter="url(#b1)"/>
<rect x="145" y="773.5" width="46" height="10" rx="5" fill="#2c2c2c" opacity="0.85" filter="url(#b1)"/>
</g>
<clipPath id="bl2"><rect x="78.75" y="802.5" width="116.75" height="35"/></clipPath>
<g clip-path="url(#bl2)">
<rect x="78.75" y="802.5" width="116.75" height="35" fill="#b4b4b4"/>
<rect x="88" y="805" width="40" height="12" fill="#7c7c7c" opacity="0.85" filter="url(#b2)"/>
<rect x="150" y="806" width="36" height="16" fill="#aaaaaa" opacity="0.6" filter="url(#b2)"/>
<rect x="132" y="803" width="13" height="35" fill="#dcdcdc" opacity="0.9" filter="url(#b2)"/>
<rect x="80" y="832" width="115" height="8" fill="#9a9a9a" opacity="0.8" filter="url(#b2)"/>
<path d="M84 814.75Q107.5 817.75 131 814.75L131 826.25Q107.5 830.25 84 826.25Z" fill="#080808" opacity="1" stroke="#080808" stroke-width="2" stroke-linejoin="round" filter="url(#b1)"/>
<path d="M147 821.5Q168 826.5 189 821.5L189 831.5Q168 837.5 147 831.5Z" fill="#080808" opacity="1" stroke="#080808" stroke-width="2" stroke-linejoin="round" filter="url(#b1)"/>
<rect x="84" y="802" width="5" height="20" rx="10" fill="#101010" opacity="0.9" filter="url(#b1)"/>
<rect x="126" y="804" width="5.5" height="18" rx="9" fill="#101010" opacity="0.85" filter="url(#b1)"/>
<rect x="146" y="807" width="4" height="22" rx="11" fill="#181818" opacity="0.8" filter="url(#b1)"/>
<rect x="185.5" y="807" width="4.5" height="22" rx="11" fill="#181818" opacity="0.8" filter="url(#b1)"/>
</g>
<clipPath id="bl3"><rect x="78.75" y="847.5" width="116.75" height="22"/></clipPath>
<g clip-path="url(#bl3)">
<rect x="78.75" y="847.5" width="116.75" height="22" fill="#adadad"/>
<rect x="129" y="849" width="16" height="20" fill="#d8d8d8" opacity="0.9" filter="url(#b2)"/>
<rect x="84" y="851" width="44" height="12" rx="6" fill="#404040" opacity="0.8" filter="url(#b2)"/>
<rect x="146" y="856" width="45" height="11" rx="5.5" fill="#6c6c6c" opacity="0.7" filter="url(#b2)"/>
</g>
<clipPath id="bl4"><rect x="78.75" y="890" width="116.75" height="21"/></clipPath>
<g clip-path="url(#bl4)">
<rect x="78.75" y="890" width="116.75" height="21" fill="#f4f4f4"/>
<rect x="86" y="891.7" width="44" height="14.6" rx="7.3" fill="#000" opacity="1" filter="url(#b1)"/>
<rect x="149" y="893.5" width="42" height="17" rx="8.5" fill="#000" opacity="1" filter="url(#b1)"/>
</g>
<clipPath id="bl5"><rect x="78.75" y="923.75" width="116.75" height="24.25"/></clipPath>
<g clip-path="url(#bl5)">
<rect x="78.75" y="923.75" width="116.75" height="24.25" fill="#8e8e8e"/>
<rect x="129" y="925" width="14" height="22" fill="#a8a8a8" opacity="0.7" filter="url(#b2)"/>
<rect x="86" y="933" width="42" height="10" rx="5" fill="#5e5e5e" opacity="0.7" filter="url(#b2)"/>
<rect x="146" y="925" width="46" height="22" rx="11" fill="#1a1a1a" opacity="0.9" filter="url(#b2)"/>
</g>
<clipPath id="bl6"><rect x="78.75" y="967.5" width="116.75" height="17.5"/></clipPath>
<g clip-path="url(#bl6)">
<rect x="78.75" y="967.5" width="116.75" height="17.5" fill="#fafafa"/>
<rect x="87.5" y="970.25" width="35" height="12.5" rx="6.25" fill="#0a0a0a" opacity="1" filter="url(#b1)"/>
<rect x="146" y="968.8" width="45" height="14" rx="7" fill="#050505" opacity="1" filter="url(#b1)"/>
</g>
<text class="se" x="68.5" y="778.78" font-size="14.8" text-anchor="end">PCNA</text>
<text class="se" x="68.5" y="823.78" font-size="14.8" text-anchor="end">Tubulin</text>
<text class="se" x="68.5" y="865.03" font-size="14.8" text-anchor="end">CCND1</text>
<text class="se" x="68.5" y="904.53" font-size="14.8" text-anchor="end">Tubulin</text>
<text class="se" x="68.5" y="943.03" font-size="14.8" text-anchor="end">CASP3</text>
<text class="se" x="68.5" y="980.53" font-size="14.8" text-anchor="end">Tubulin</text>
<text class="se" x="201" y="781.03" font-size="14.8">37 kDa</text>
<text class="se" x="201" y="824.03" font-size="14.8">50 kDa</text>
<text class="se" x="201" y="865.03" font-size="14.8">34 kDa</text>
<text class="se" x="201" y="906.03" font-size="14.8">50 kDa</text>
<text class="se" x="201" y="940.03" font-size="14.8">33 kDa</text>
<text class="se" x="201" y="981.03" font-size="14.8">50 kDa</text>
<text class="se" x="104.5" y="799.3" font-size="14" text-anchor="middle" fill="#222">1</text>
<text class="se" x="165" y="799.3" font-size="14" text-anchor="middle" fill="#222">0.88</text>
<text class="se" x="104.5" y="884.8" font-size="14" text-anchor="middle" fill="#222">1</text>
<text class="se" x="165" y="884.8" font-size="14" text-anchor="middle" fill="#222">0.65</text>
<text class="se" x="105" y="962.3" font-size="14" text-anchor="middle" fill="#222">1</text>
<text class="se" x="170" y="962.3" font-size="14" text-anchor="middle" fill="#222">1.95 *</text>
<text class="se" font-size="13" text-anchor="middle" transform="translate(118.75 742.5) rotate(-40)" dy="4.3">DMSO</text>
<text class="se" font-size="13" text-anchor="middle" transform="translate(173 746) rotate(-40)" dy="4.3">TSA</text>
<clipPath id="bl7"><rect x="74.25" y="1373.75" width="111.25" height="23.25"/></clipPath>
<g clip-path="url(#bl7)">
<rect x="74.25" y="1373.75" width="111.25" height="23.25" fill="#8e8e8e"/>
<rect x="121" y="1376" width="12" height="18" fill="#bcbcbc" opacity="0.8" filter="url(#b2)"/>
<rect x="82" y="1381" width="38" height="10" rx="5" fill="#1c1c1c" opacity="0.9" filter="url(#b2)"/>
<rect x="134" y="1381.5" width="47" height="10" rx="5" fill="#222" opacity="0.9" filter="url(#b2)"/>
</g>
<clipPath id="bl8"><rect x="74.25" y="1413.75" width="111.25" height="31.75"/></clipPath>
<g clip-path="url(#bl8)">
<rect x="74.25" y="1413.75" width="111.25" height="31.75" fill="#8c8c8c"/>
<rect x="130.5" y="1414" width="8" height="32" fill="#c4c4c4" opacity="0.9" filter="url(#b2)"/>
<rect x="88" y="1414" width="34" height="8" fill="#b0b0b0" opacity="0.6" filter="url(#b2)"/>
<rect x="150" y="1414" width="24" height="7" fill="#b0b0b0" opacity="0.5" filter="url(#b2)"/>
<path d="M77 1424.5Q104 1426.5 131 1424.5L131 1445.5Q104 1448.5 77 1445.5Z" fill="#030303" opacity="1" stroke="#030303" stroke-width="2" stroke-linejoin="round" filter="url(#b1)"/>
<path d="M139 1423Q162 1426 185 1423L185 1438Q162 1442 139 1438Z" fill="#030303" opacity="1" stroke="#030303" stroke-width="2" stroke-linejoin="round" filter="url(#b1)"/>
<rect x="139" y="1411" width="7" height="26" rx="13" fill="#080808" opacity="0.9" filter="url(#b1)"/>
<rect x="177" y="1411" width="8" height="26" rx="13" fill="#080808" opacity="0.9" filter="url(#b1)"/>
</g>
<clipPath id="bl9"><rect x="74.25" y="1458.75" width="111.25" height="21.75"/></clipPath>
<g clip-path="url(#bl9)">
<rect x="74.25" y="1458.75" width="111.25" height="21.75" fill="#a4a4a4"/>
<rect x="121" y="1460" width="17" height="20" fill="#d8d8d8" opacity="0.9" filter="url(#b2)"/>
<rect x="79" y="1462" width="40" height="14" rx="7" fill="#242424" opacity="0.9" filter="url(#b2)"/>
<rect x="139" y="1466" width="42" height="10" rx="5" fill="#808080" opacity="0.6" filter="url(#b2)"/>
</g>
<clipPath id="bl10"><rect x="74.25" y="1505" width="111.25" height="18.75"/></clipPath>
<g clip-path="url(#bl10)">
<rect x="74.25" y="1505" width="111.25" height="18.75" fill="#f8f8f8"/>
<rect x="80" y="1508.1" width="41.5" height="10.2" rx="5.1" fill="#000" opacity="1" filter="url(#b1)"/>
<rect x="138" y="1510.3" width="40.5" height="11" rx="5.5" fill="#000" opacity="1" filter="url(#b1)"/>
</g>
<clipPath id="bl11"><rect x="74.25" y="1540" width="111.25" height="20"/></clipPath>
<g clip-path="url(#bl11)">
<rect x="74.25" y="1540" width="111.25" height="20" fill="#9c9c9c"/>
<rect x="121" y="1541" width="17" height="18" fill="#b4b4b4" opacity="0.6" filter="url(#b2)"/>
<rect x="82" y="1547" width="38" height="8" rx="4" fill="#7c7c7c" opacity="0.6" filter="url(#b2)"/>
<rect x="141" y="1541.5" width="43" height="17" rx="8.5" fill="#2c2c2c" opacity="0.9" filter="url(#b2)"/>
</g>
<clipPath id="bl12"><rect x="74.25" y="1580" width="111.25" height="22.5"/></clipPath>
<g clip-path="url(#bl12)">
<rect x="74.25" y="1580" width="111.25" height="22.5" fill="#f4f4f4"/>
<rect x="80" y="1583.5" width="41.5" height="18" rx="9" fill="#000" opacity="1" filter="url(#b1)"/>
<rect x="136" y="1581.75" width="43.5" height="18.5" rx="9.25" fill="#000" opacity="1" filter="url(#b1)"/>
</g>
<text class="se" x="64" y="1389.76" font-size="14" text-anchor="end">PCNA</text>
<text class="se" x="64" y="1433.76" font-size="14" text-anchor="end">Tubulin</text>
<text class="se" x="64" y="1474.26" font-size="14" text-anchor="end">CCND1</text>
<text class="se" x="64" y="1519.01" font-size="14" text-anchor="end">Tubulin</text>
<text class="se" x="64" y="1555.51" font-size="14" text-anchor="end">CASP3</text>
<text class="se" x="64" y="1596.51" font-size="14" text-anchor="end">Tubulin</text>
<text class="se" x="190.5" y="1391.76" font-size="14">37 kDa</text>
<text class="se" x="190.5" y="1434.01" font-size="14">50 kDa</text>
<text class="se" x="190.5" y="1474.26" font-size="14">34 kDa</text>
<text class="se" x="190.5" y="1519.26" font-size="14">50 kDa</text>
<text class="se" x="190.5" y="1554.01" font-size="14">33 kDa</text>
<text class="se" x="190.5" y="1596.76" font-size="14">50 kDa</text>
<text class="se" x="99" y="1408.8" font-size="13.5" text-anchor="middle" fill="#222">1</text>
<text class="se" x="155" y="1408.8" font-size="13.5" text-anchor="middle" fill="#222">1.11</text>
<text class="se" x="99" y="1494.55" font-size="13.5" text-anchor="middle" fill="#222">1</text>
<text class="se" x="156" y="1494.55" font-size="13.5" text-anchor="middle" fill="#222">0.79</text>
<text class="se" x="99.5" y="1574.3" font-size="13.5" text-anchor="middle" fill="#222">1</text>
<text class="se" x="162" y="1574.3" font-size="13.5" text-anchor="middle" fill="#222">1.56 *</text>
<text class="se" font-size="13.5" text-anchor="middle" transform="translate(122.5 1342.5) rotate(-40)" dy="4.5">siRNA-NC</text>
<text class="se" font-size="13.5" text-anchor="middle" transform="translate(189 1332.5) rotate(-38)" dy="4.5">HDAC1-siRNA</text>
<clipPath id="bl13"><rect x="387.5" y="1158.25" width="111.25" height="20"/></clipPath>
<g clip-path="url(#bl13)">
<rect x="387.5" y="1158.25" width="111.25" height="20" fill="#c4c4c4"/>
<rect x="434" y="1159" width="14" height="18" fill="#dedede" opacity="0.8" filter="url(#b2)"/>
<rect x="392" y="1161.5" width="41" height="11" rx="5.5" fill="#222" opacity="0.9" filter="url(#b2)"/>
<rect x="449" y="1165.5" width="41" height="8" rx="4" fill="#8c8c8c" opacity="0.7" filter="url(#b2)"/>
</g>
<clipPath id="bl14"><rect x="387.5" y="1201.25" width="111.25" height="18.75"/></clipPath>
<g clip-path="url(#bl14)">
<rect x="387.5" y="1201.25" width="111.25" height="18.75" fill="#f3f3f3"/>
<rect x="391.5" y="1204.75" width="47" height="9.5" rx="4.75" fill="#000" opacity="1" filter="url(#b1)"/>
<rect x="446.5" y="1204" width="47" height="9" rx="4.5" fill="#000" opacity="1" filter="url(#b1)"/>
</g>
<text class="se" x="379" y="1174.35" font-size="15" text-anchor="end">HDAC1</text>
<text class="se" x="379" y="1215.1" font-size="15" text-anchor="end">GAPDH</text>
<text class="se" x="507" y="1174.1" font-size="15">62 kDa</text>
<text class="se" x="507" y="1213.85" font-size="15">37 kDa</text>
<text class="se" x="417.5" y="1194.8" font-size="14" text-anchor="middle" fill="#222">1</text>
<text class="se" x="478.75" y="1194.8" font-size="14" text-anchor="middle" fill="#222">0.62 *</text>
<text class="se" font-size="13.5" text-anchor="middle" transform="translate(438 1120.6) rotate(-40)" dy="4.5">siRNA-NC</text>
<text class="se" font-size="13.5" text-anchor="middle" transform="translate(512.5 1110.6) rotate(-38)" dy="4.5">HDAC1-siRNA2</text>
<clipPath id="fl1"><rect x="309.5" y="727.5" width="83" height="83.25"/></clipPath><g clip-path="url(#fl1)">
<rect x="309.5" y="727.5" width="83" height="83.25" fill="#010108"/>
<path d="M339.4 764.06h3.84v3.84h-3.84zM360.83 775.13h3.28v3.28h-3.28zM358.9 802.67h3.34v3.34h-3.34zM343.88 785.12h3.26v3.26h-3.26zM333.63 806.11h2.86v2.86h-2.86zM353.22 728.42h3.28v3.28h-3.28zM355.83 729.11h3.12v3.12h-3.12zM359.81 732.3h3.42v3.42h-3.42zM346.59 781.71h3.44v3.44h-3.44zM366.04 786.71h3.03v3.03h-3.03zM314.37 782.07h2.53v2.53h-2.53zM329.35 763.69h3.94v3.94h-3.94zM334.98 756.57h3.39v3.39h-3.39zM339.04 775.32h2.97v2.97h-2.97zM339.69 789.51h2.95v2.95h-2.95zM355.3 786.84h2.54v2.54h-2.54zM327.31 792.03h2.97v2.97h-2.97zM324.52 762.49h2.86v2.86h-2.86zM317.59 753.16h3.55v3.55h-3.55zM376.18 762.68h3v3h-3zM322.91 754.26h3.78v3.78h-3.78zM379.87 763.49h3.48v3.48h-3.48zM319.19 770.09h2.84v2.84h-2.84zM374.21 794.97h2.79v2.79h-2.79zM331.85 792.46h2.78v2.78h-2.78zM373.63 755.05h3.46v3.46h-3.46zM332.94 791.45h2.69v2.69h-2.69zM337.24 761h2.91v2.91h-2.91zM342.21 801.26h3.13v3.13h-3.13zM309.87 803.45h2.73v2.73h-2.73zM387.64 762h3.82v3.82h-3.82zM382.83 745.12h3.93v3.93h-3.93zM375.92 780.29h3.62v3.62h-3.62zM332.54 754.78h3.28v3.28h-3.28zM314.96 774.83h2.84v2.84h-2.84zM374.37 731.12h2.93v2.93h-2.93zM364.4 800.85h3.86v3.86h-3.86zM380.71 773.31h3.84v3.84h-3.84zM369.48 741.37h2.52v2.52h-2.52zM362.56 769.65h2.95v2.95h-2.95zM384.51 776.55h3.12v3.12h-3.12zM329.69 796.64h3.01v3.01h-3.01zM371.92 755.66h3.22v3.22h-3.22zM352.38 793.22h2.8v2.8h-2.8zM373.03 801.7h2.76v2.76h-2.76zM374.8 728.1h3.71v3.71h-3.71zM378.12 731.48h3.44v3.44h-3.44zM331.01 769.86h2.91v2.91h-2.91zM347.27 789.71h3.13v3.13h-3.13zM313.91 737.74h2.5v2.5h-2.5zM314.99 806.02h2.69v2.69h-2.69zM316.32 767.4h3.78v3.78h-3.78zM334.67 755.7h2.97v2.97h-2.97zM356.15 756.29h3.47v3.47h-3.47zM335.87 737.46h2.79v2.79h-2.79zM366.54 757.89h3.33v3.33h-3.33zM323.85 757.6h2.62v2.62h-2.62zM371.79 757.86h3.41v3.41h-3.41zM358.9 761.83h3.7v3.7h-3.7zM349.16 783.86h3.06v3.06h-3.06zM364.94 764.42h3.13v3.13h-3.13zM352.44 783.38h2.87v2.87h-2.87zM343.66 761.84h2.61v2.61h-2.61zM383.65 757.23h3.82v3.82h-3.82zM372.1 748.32h3.85v3.85h-3.85zM319.33 792.6h3.2v3.2h-3.2zM380.05 790.7h3.49v3.49h-3.49zM367.83 772.47h3.5v3.5h-3.5zM356.72 727.9h2.65v2.65h-2.65zM371.66 731.07h2.72v2.72h-2.72zM317.48 798.48h2.64v2.64h-2.64zM311.38 795.23h2.77v2.77h-2.77zM377.28 781.77h2.68v2.68h-2.68zM384.97 773.53h3.75v3.75h-3.75zM312.38 788.55h3.7v3.7h-3.7zM366.52 736.04h3.27v3.27h-3.27zM383.68 732.37h3.62v3.62h-3.62zM354.63 793.96h2.99v2.99h-2.99zM323.91 747.59h2.86v2.86h-2.86zM369.46 758.93h3.42v3.42h-3.42zM341.21 755.59h3.05v3.05h-3.05zM316.15 767.59h3.13v3.13h-3.13zM342.13 786.76h3.96v3.96h-3.96zM364.95 788.37h2.74v2.74h-2.74zM350.6 766.07h3.51v3.51h-3.51zM380.88 739.41h3.46v3.46h-3.46zM369.62 801.38h2.64v2.64h-2.64zM344.82 784.99h3.28v3.28h-3.28zM330.95 743.53h2.78v2.78h-2.78zM334.57 746.05h3.38v3.38h-3.38zM385.26 751.08h3.54v3.54h-3.54zM342.33 795.53h3.56v3.56h-3.56zM330.77 744.88h3.38v3.38h-3.38zM348.08 758.39h2.53v2.53h-2.53zM338.42 753.42h2.76v2.76h-2.76zM320.89 806.39h3.66v3.66h-3.66z" fill="#1212b0" opacity="0.5" filter="url(#bd)"/>
<path d="M310.65 730.88h2.2v2.2h-2.2zM310.75 735.11h2.16v2.16h-2.16zM312.36 741.54h2v2h-2zM309.5 745.05h1.83v1.83h-1.83zM312.8 746.69h2.56v2.56h-2.56zM309.5 754.75h1.86v1.86h-1.86zM309.5 760.3h2.5v2.5h-2.5zM312.32 760.7h2.02v2.02h-2.02zM310.13 773.56h1.89v1.89h-1.89zM310.14 777.73h1.61v1.61h-1.61zM311.55 785.68h1.81v1.81h-1.81zM309.5 786.27h2.14v2.14h-2.14zM313.43 795.24h1.71v1.71h-1.71zM312.6 803.98h1.97v1.97h-1.97zM311.74 808.47h2.28v2.28h-2.28zM318.44 729.82h2.35v2.35h-2.35zM315.93 733.09h1.71v1.71h-1.71zM316.09 736.67h2.28v2.28h-2.28zM313.77 745.89h2.23v2.23h-2.23zM318.58 746.5h1.72v1.72h-1.72zM316.25 753.61h2.32v2.32h-2.32zM314.66 756.34h2.06v2.06h-2.06zM315.91 769.4h2.35v2.35h-2.35zM315.18 775.35h1.87v1.87h-1.87zM317.53 782.01h1.85v1.85h-1.85zM316.07 789.36h2v2h-2zM313.25 790.99h2.45v2.45h-2.45zM313.75 805.25h2.33v2.33h-2.33zM322.45 730.29h2.34v2.34h-2.34zM320.22 732.11h1.75v1.75h-1.75zM318.82 737.14h2.17v2.17h-2.17zM322.73 746.2h1.63v1.63h-1.63zM321.03 749.05h1.98v1.98h-1.98zM321.55 751.93h2.58v2.58h-2.58zM321.28 759.67h2.08v2.08h-2.08zM320.53 768.14h2.26v2.26h-2.26zM320.99 770.31h1.79v1.79h-1.79zM320.25 778.2h2.25v2.25h-2.25zM318.25 784.35h2.49v2.49h-2.49zM320.03 786.27h1.65v1.65h-1.65zM319.37 799.49h2.53v2.53h-2.53zM323.01 803.15h1.73v1.73h-1.73zM322 806.19h2.32v2.32h-2.32zM327.51 728.3h2.53v2.53h-2.53zM323.18 731.03h2.09v2.09h-2.09zM325.69 744.97h1.76v1.76h-1.76zM326.48 747.34h2.02v2.02h-2.02zM324.81 751.32h2.36v2.36h-2.36zM324.62 757.39h2.32v2.32h-2.32zM323.82 760.11h2.2v2.2h-2.2zM323.24 767.69h2.38v2.38h-2.38zM323.69 772.53h1.81v1.81h-1.81zM323.41 776.09h1.63v1.63h-1.63zM322.87 782.67h1.66v1.66h-1.66zM322.72 786.97h2.3v2.3h-2.3zM328.59 791.09h1.63v1.63h-1.63zM326.45 801.59h1.76v1.76h-1.76zM327.14 806.11h1.65v1.65h-1.65zM333.06 727.7h2.07v2.07h-2.07zM332.44 734.7h1.87v1.87h-1.87zM331.73 741.75h1.69v1.69h-1.69zM327.83 741.35h1.6v1.6h-1.6zM327.95 749.66h1.64v1.64h-1.64zM333.44 753.39h1.8v1.8h-1.8zM332.88 755.24h2.52v2.52h-2.52zM333.07 760.62h2.21v2.21h-2.21zM327.91 767.23h2.45v2.45h-2.45zM332.92 770.91h2.28v2.28h-2.28zM332.34 778.08h2.33v2.33h-2.33zM329.97 781.19h1.96v1.96h-1.96zM329.03 785.67h2.08v2.08h-2.08zM331.64 791.82h2.21v2.21h-2.21zM331.87 794.73h1.75v1.75h-1.75zM331.36 799.78h2.36v2.36h-2.36zM331.11 808.31h2.44v2.44h-2.44zM337.73 730.34h2.05v2.05h-2.05zM332.78 733.25h1.97v1.97h-1.97zM335.92 736.52h1.7v1.7h-1.7zM332.7 746.51h1.84v1.84h-1.84zM332.3 751.7h2.19v2.19h-2.19zM335.82 757.93h1.82v1.82h-1.82zM337 763.34h2.2v2.2h-2.2zM332.92 770.21h1.78v1.78h-1.78zM337.83 780.4h1.8v1.8h-1.8zM337.44 788.5h1.82v1.82h-1.82zM337.42 791.49h2.36v2.36h-2.36zM332.97 799.52h2.05v2.05h-2.05zM333.37 802.43h2.41v2.41h-2.41zM332.63 806.2h2.33v2.33h-2.33zM340.72 730.54h1.67v1.67h-1.67zM340.75 731.99h2.25v2.25h-2.25zM338.94 738.02h2.6v2.6h-2.6zM342.96 750.03h1.77v1.77h-1.77zM340.62 755.76h2.59v2.59h-2.59zM342.94 760.77h2.02v2.02h-2.02zM341.85 762.62h2.08v2.08h-2.08zM338.72 770.5h2.52v2.52h-2.52zM341.73 771.93h1.7v1.7h-1.7zM337.33 779.29h2.24v2.24h-2.24zM339.28 784.27h2.03v2.03h-2.03zM337.89 786.55h1.89v1.89h-1.89zM338.3 794.37h1.68v1.68h-1.68zM342.85 799.5h2.58v2.58h-2.58zM339.22 802.3h1.76v1.76h-1.76zM339.31 808.61h2.14v2.14h-2.14zM347.43 730.78h2.06v2.06h-2.06zM347.05 730.95h1.84v1.84h-1.84zM345.27 736.65h2.13v2.13h-2.13zM344.73 751.26h2.37v2.37h-2.37zM342.01 751.23h2.58v2.58h-2.58zM342.43 763.54h1.94v1.94h-1.94zM347.02 772.6h1.85v1.85h-1.85zM344.87 778.87h1.64v1.64h-1.64zM346.73 781.03h2.51v2.51h-2.51zM346.69 787.59h2.36v2.36h-2.36zM343.71 790.52h2.15v2.15h-2.15zM347.33 801.96h2.5v2.5h-2.5zM346.75 807.66h2.53v2.53h-2.53zM347.95 727.5h2.12v2.12h-2.12zM349.99 732.99h2.59v2.59h-2.59zM351.81 738.43h2.05v2.05h-2.05zM349 743.9h1.76v1.76h-1.76zM351.76 750.93h2.45v2.45h-2.45zM350.64 753.92h1.63v1.63h-1.63zM351.33 760.89h1.88v1.88h-1.88zM350.1 770.54h1.97v1.97h-1.97zM348.03 775.45h2.24v2.24h-2.24zM352 776.81h1.98v1.98h-1.98zM352.41 781.43h2.55v2.55h-2.55zM347.83 786.26h1.88v1.88h-1.88zM348.52 790.95h1.68v1.68h-1.68zM351.88 803.03h2.34v2.34h-2.34zM348.88 809.14h1.61v1.61h-1.61zM353.44 734.08h2.08v2.08h-2.08zM352.45 745.82h2.56v2.56h-2.56zM355.64 749.13h2.59v2.59h-2.59zM356.63 751.64h1.65v1.65h-1.65zM356.94 755.38h2.42v2.42h-2.42zM354.1 760.77h2.13v2.13h-2.13zM353.26 765.59h2.59v2.59h-2.59zM354.13 775.68h1.73v1.73h-1.73zM357.62 785.46h2.54v2.54h-2.54zM357.63 787.65h1.95v1.95h-1.95zM352.03 791.71h1.91v1.91h-1.91zM355.11 797.1h2.38v2.38h-2.38zM355.07 804.41h2.04v2.04h-2.04zM357.41 808.56h2.19v2.19h-2.19zM361.54 727.5h2.56v2.56h-2.56zM357.16 736.85h1.8v1.8h-1.8zM357.19 735.55h2.47v2.47h-2.47zM362.54 744.57h2.39v2.39h-2.39zM357.11 748.6h2.37v2.37h-2.37zM360.5 752.49h1.75v1.75h-1.75zM358.68 757.48h1.97v1.97h-1.97zM362.11 765.14h2.58v2.58h-2.58zM362.71 766.78h1.89v1.89h-1.89zM361.12 772.01h2.1v2.1h-2.1zM362.65 777.69h1.88v1.88h-1.88zM361.97 785.7h2.13v2.13h-2.13zM360.46 785.08h2.04v2.04h-2.04zM361.22 789.71h2.45v2.45h-2.45zM362.69 796.71h1.98v1.98h-1.98zM362.01 801.91h2.15v2.15h-2.15zM358.77 805.93h2.31v2.31h-2.31zM363.88 729.87h2v2h-2zM362.41 732.05h2.18v2.18h-2.18zM362.36 736.09h2.21v2.21h-2.21zM361.86 743.93h1.88v1.88h-1.88zM366.02 750.46h2.13v2.13h-2.13zM364.04 754.29h2.51v2.51h-2.51zM363.67 757.94h2.48v2.48h-2.48zM362.83 765.25h1.89v1.89h-1.89zM361.95 767.38h1.68v1.68h-1.68zM363.39 777.35h1.78v1.78h-1.78zM365.41 783.77h2.03v2.03h-2.03zM367.7 789.03h1.7v1.7h-1.7zM367.45 794.7h2.35v2.35h-2.35zM367.02 808.73h2.02v2.02h-2.02zM370.02 731.27h2.02v2.02h-2.02zM367.04 734.71h1.99v1.99h-1.99zM369.91 741.06h2.12v2.12h-2.12zM371.66 748.74h2.07v2.07h-2.07zM370.22 753.32h2.58v2.58h-2.58zM372 756.15h1.9v1.9h-1.9zM368.54 764.75h2.22v2.22h-2.22zM370.74 766.1h2.46v2.46h-2.46zM367.72 780.22h1.91v1.91h-1.91zM371.97 780.3h2.42v2.42h-2.42zM367.79 785.81h2v2h-2zM371.66 799.54h1.98v1.98h-1.98zM367.58 805.79h1.99v1.99h-1.99zM373.3 727.5h2.29v2.29h-2.29zM374.78 732.28h2.04v2.04h-2.04zM375.54 739.5h1.82v1.82h-1.82zM373.6 743.7h2.35v2.35h-2.35zM373.95 745.73h2.23v2.23h-2.23zM374.12 753.68h2.46v2.46h-2.46zM375.29 756.39h2.5v2.5h-2.5zM373.19 765.94h2.59v2.59h-2.59zM375.84 767.26h1.78v1.78h-1.78zM371.94 773.1h2.18v2.18h-2.18zM374.61 780.09h2.08v2.08h-2.08zM374.87 784.74h2.09v2.09h-2.09zM376.15 788.19h1.69v1.69h-1.69zM376.49 792.62h2.49v2.49h-2.49zM375.7 796.02h2.44v2.44h-2.44zM373.34 807h2.34v2.34h-2.34zM380.57 729.4h1.85v1.85h-1.85zM379.77 732.9h1.71v1.71h-1.71zM378.77 737.01h1.77v1.77h-1.77zM376.83 740.85h2.18v2.18h-2.18zM379.42 746.61h1.8v1.8h-1.8zM381.26 758.16h2.52v2.52h-2.52zM378.11 762.27h1.67v1.67h-1.67zM382.15 768.13h1.72v1.72h-1.72zM382.16 771.18h1.86v1.86h-1.86zM377.42 776.18h2.11v2.11h-2.11zM380.51 785.07h2.39v2.39h-2.39zM377.46 792.17h2.35v2.35h-2.35zM380.92 795.51h1.93v1.93h-1.93zM379.41 801.69h1.87v1.87h-1.87zM379.15 808.27h2.34v2.34h-2.34zM382.51 729.01h2.4v2.4h-2.4zM381.44 731.85h1.99v1.99h-1.99zM385.83 738.87h1.81v1.81h-1.81zM385.33 742.64h2.45v2.45h-2.45zM386.55 751.46h2.35v2.35h-2.35zM385.34 757.95h2.58v2.58h-2.58zM384.57 764.38h1.75v1.75h-1.75zM382.1 769h1.76v1.76h-1.76zM381.32 770.62h1.74v1.74h-1.74zM383.91 780.92h1.99v1.99h-1.99zM385.46 779.86h1.86v1.86h-1.86zM382.03 784.73h2.3v2.3h-2.3zM387.07 790.23h1.93v1.93h-1.93zM386.03 797.18h1.99v1.99h-1.99zM382.55 802.15h1.93v1.93h-1.93zM382.57 806.82h1.95v1.95h-1.95zM389.25 734.35h2.17v2.17h-2.17zM386.38 737.95h1.62v1.62h-1.62zM387.55 745.15h2.17v2.17h-2.17zM390.24 748.54h2.26v2.26h-2.26zM386.46 755.27h1.91v1.91h-1.91zM390.8 758.98h1.7v1.7h-1.7zM386.78 766.24h2.04v2.04h-2.04zM390.53 765.85h1.97v1.97h-1.97zM387.49 775.56h2.08v2.08h-2.08zM389.09 775.11h1.61v1.61h-1.61zM390.03 779.84h2.47v2.47h-2.47zM388.94 786.55h1.9v1.9h-1.9zM389.95 790.25h1.73v1.73h-1.73zM390.86 795.81h1.64v1.64h-1.64zM390.37 807.29h2.13v2.13h-2.13z" fill="#2a2cff" filter="url(#b0)"/>
</g>
<clipPath id="fl2"><rect x="309.5" y="818" width="83" height="83.25"/></clipPath><g clip-path="url(#fl2)">
<rect x="309.5" y="818" width="83" height="83.25" fill="#030000"/>
<path d="M329.82 862.18h2.5v2.5h-2.5zM358 868.42h2.25v2.25h-2.25zM312.51 884.64h2.41v2.41h-2.41zM329.54 896.75h2.58v2.58h-2.58zM375.91 856.98h2.71v2.71h-2.71zM323.1 869.12h2.89v2.89h-2.89zM351.78 877.27h2.74v2.74h-2.74zM316.43 878.57h2.67v2.67h-2.67zM334.7 822.87h2.89v2.89h-2.89zM347.9 875.55h2.9v2.9h-2.9zM366.49 891.04h2.52v2.52h-2.52zM373.17 854.55h2.95v2.95h-2.95zM379.17 827.96h2.31v2.31h-2.31zM328.21 894.44h2.55v2.55h-2.55zM359.75 843.55h2.61v2.61h-2.61zM341.21 847.37h2.67v2.67h-2.67zM356.49 889.75h2.75v2.75h-2.75zM383.03 886.09h2.99v2.99h-2.99zM363.19 832.99h2.89v2.89h-2.89zM385.78 889.79h2.66v2.66h-2.66zM366.46 836.67h2.87v2.87h-2.87zM355.66 842.32h2.25v2.25h-2.25zM377.25 896.31h2.27v2.27h-2.27zM373.15 851.93h2.32v2.32h-2.32zM334.13 879.38h2.9v2.9h-2.9zM314.9 867.56h2.24v2.24h-2.24zM366.82 845.85h2.9v2.9h-2.9zM387.01 859.21h3v3h-3zM335.34 826.39h2.68v2.68h-2.68zM313.92 835.62h2.53v2.53h-2.53zM358.51 832.46h2.23v2.23h-2.23zM378.32 844.53h2.97v2.97h-2.97z" fill="#c41818" filter="url(#b0)"/>
</g>
<clipPath id="fl3"><rect x="309.5" y="907.5" width="83" height="84.5"/></clipPath><g clip-path="url(#fl3)">
<rect x="309.5" y="907.5" width="83" height="84.5" fill="#010108"/>
<path d="M316.08 962.12h3.45v3.45h-3.45zM386.22 908h3.27v3.27h-3.27zM363.87 983.35h2.6v2.6h-2.6zM366.28 953.11h3.13v3.13h-3.13zM346.69 956.48h3.09v3.09h-3.09zM334.09 967.99h2.54v2.54h-2.54zM347.41 928.45h2.89v2.89h-2.89zM361.52 968.08h3.04v3.04h-3.04zM347.2 923.84h3.94v3.94h-3.94zM314.18 927.02h3.01v3.01h-3.01zM358.16 927.09h3.38v3.38h-3.38zM317.37 922.1h2.77v2.77h-2.77zM329.85 979.3h3.25v3.25h-3.25zM336.6 942.48h3.35v3.35h-3.35zM368.45 969.04h2.56v2.56h-2.56zM367.51 929.69h3.05v3.05h-3.05zM327.8 923.56h2.83v2.83h-2.83zM360.61 966.51h3.41v3.41h-3.41zM371.07 946.64h2.66v2.66h-2.66zM349.71 942.74h3.07v3.07h-3.07zM341.18 960.28h2.8v2.8h-2.8zM382.18 923.23h3.57v3.57h-3.57zM372.86 965.01h3.84v3.84h-3.84zM320.4 970.04h3.97v3.97h-3.97zM319.16 955.46h3.85v3.85h-3.85zM332.67 976.42h3.92v3.92h-3.92zM343.93 919.21h3.86v3.86h-3.86zM376.03 941.98h2.82v2.82h-2.82zM344.94 983.17h2.97v2.97h-2.97zM310.97 984.97h2.88v2.88h-2.88zM340.35 987.06h2.98v2.98h-2.98zM316.37 979.92h2.92v2.92h-2.92zM327.26 984.05h2.87v2.87h-2.87zM381.73 934.7h2.84v2.84h-2.84zM326.78 951.72h2.95v2.95h-2.95zM341.23 948.68h3.34v3.34h-3.34zM376.56 983.66h2.95v2.95h-2.95zM374.57 913.22h3.63v3.63h-3.63zM325.82 920.14h2.88v2.88h-2.88zM381.06 981.13h3.95v3.95h-3.95zM318.78 942.16h3.34v3.34h-3.34zM382.25 929.25h2.58v2.58h-2.58zM385.23 923.85h2.93v2.93h-2.93zM334.12 961.1h3.88v3.88h-3.88zM381.68 940.12h2.66v2.66h-2.66zM361.84 955.85h3.02v3.02h-3.02zM319.45 954.47h2.88v2.88h-2.88zM379.62 935.67h2.54v2.54h-2.54zM335.81 916.8h2.75v2.75h-2.75zM352.97 940.67h2.97v2.97h-2.97zM332.76 947.15h3v3h-3zM344.23 969.57h3.67v3.67h-3.67zM319.1 921.34h3.22v3.22h-3.22zM347.47 938.37h3.77v3.77h-3.77zM376.97 937.99h3.27v3.27h-3.27zM338.76 908.38h3.04v3.04h-3.04zM347.68 947.75h3.32v3.32h-3.32zM347.21 965.68h3.18v3.18h-3.18zM388.23 916.87h2.78v2.78h-2.78zM323.36 971.67h3.8v3.8h-3.8zM315.77 951.62h2.89v2.89h-2.89zM376.5 978.31h3.76v3.76h-3.76zM313.7 938.02h3.97v3.97h-3.97zM370.17 944.45h2.66v2.66h-2.66zM372.67 988.3h3.62v3.62h-3.62zM379.07 951.92h3.52v3.52h-3.52zM381.13 914.96h2.62v2.62h-2.62zM376.23 930.47h2.63v2.63h-2.63zM311.78 924.58h3.49v3.49h-3.49zM312.49 948.82h3.57v3.57h-3.57zM326.45 964.3h3.91v3.91h-3.91zM358.72 969.48h3.62v3.62h-3.62zM310.63 923.03h3.55v3.55h-3.55zM386.79 925.12h3.3v3.3h-3.3zM319.72 976.19h3.38v3.38h-3.38zM351.17 961.94h3.17v3.17h-3.17zM368.02 972.93h2.7v2.7h-2.7zM331.79 926.41h3.79v3.79h-3.79zM381.68 943.31h2.75v2.75h-2.75zM351.09 964.37h3.08v3.08h-3.08zM336.41 969.96h2.98v2.98h-2.98zM332.98 913.45h3.67v3.67h-3.67zM367.23 955.4h3.89v3.89h-3.89zM386.1 942.55h3.11v3.11h-3.11zM317.55 936.17h2.82v2.82h-2.82zM338.52 984.31h3.4v3.4h-3.4zM345.94 961h3.47v3.47h-3.47zM358.66 947.66h3.4v3.4h-3.4zM348.66 975.02h3.28v3.28h-3.28zM372.5 931.88h2.79v2.79h-2.79zM315.27 946.65h3.77v3.77h-3.77zM366.31 923.96h3.16v3.16h-3.16zM320.15 953.32h2.89v2.89h-2.89zM309.54 921.93h3.36v3.36h-3.36zM386.27 944.67h2.8v2.8h-2.8zM332.57 961.04h3.35v3.35h-3.35z" fill="#1212b0" opacity="0.5" filter="url(#bd)"/>
<path d="M309.5 908.48h2.27v2.27h-2.27zM312.87 913.02h1.64v1.64h-1.64zM311.34 918.79h2.23v2.23h-2.23zM309.93 921.15h2.12v2.12h-2.12zM311.18 927.95h1.96v1.96h-1.96zM313.22 944.43h1.69v1.69h-1.69zM311.6 945.9h2.31v2.31h-2.31zM314.04 951.6h1.83v1.83h-1.83zM313.21 960.73h1.85v1.85h-1.85zM310.63 965.03h1.75v1.75h-1.75zM313.33 974.61h2.44v2.44h-2.44zM309.5 977.09h2.58v2.58h-2.58zM312.86 981.16h1.78v1.78h-1.78zM313.23 990h2v2h-2zM312.83 907.5h2.45v2.45h-2.45zM316.84 916.28h2.03v2.03h-2.03zM316.75 917.78h2.53v2.53h-2.53zM317.56 922.92h2.35v2.35h-2.35zM314.07 931.12h2.21v2.21h-2.21zM313.93 939.2h2.09v2.09h-2.09zM317.87 944.03h2.56v2.56h-2.56zM313.55 950.53h2.48v2.48h-2.48zM317.1 952.76h2.59v2.59h-2.59zM313.95 960.15h2.25v2.25h-2.25zM314.74 962.23h2.43v2.43h-2.43zM314.96 968.87h2.26v2.26h-2.26zM315.8 972.16h2.24v2.24h-2.24zM317.15 976.96h2.49v2.49h-2.49zM317.61 984.32h2.33v2.33h-2.33zM315.8 987.57h2.32v2.32h-2.32zM321.58 910.51h2.05v2.05h-2.05zM321.28 916.85h1.71v1.71h-1.71zM322.75 915.95h2.18v2.18h-2.18zM321.1 922.62h2.22v2.22h-2.22zM321 927.51h1.73v1.73h-1.73zM320.34 935.21h2.4v2.4h-2.4zM318.59 940.95h2.12v2.12h-2.12zM318 945.57h2.36v2.36h-2.36zM317.99 953.19h2.09v2.09h-2.09zM319.47 960.52h2.22v2.22h-2.22zM319.86 960.81h2.5v2.5h-2.5zM319.38 970.47h1.67v1.67h-1.67zM321.02 977.41h2.46v2.46h-2.46zM320.97 984.11h2.43v2.43h-2.43zM323.68 989.99h2.01v2.01h-2.01zM327.45 912.2h1.83v1.83h-1.83zM323.4 921.69h2.37v2.37h-2.37zM327.27 921.84h2.5v2.5h-2.5zM323.9 926.06h2.01v2.01h-2.01zM324.32 935.81h2.16v2.16h-2.16zM323.07 937.86h2.04v2.04h-2.04zM323.44 942.11h2.1v2.1h-2.1zM327.99 946.1h1.88v1.88h-1.88zM327.43 952.71h2.22v2.22h-2.22zM322.6 961.15h2.23v2.23h-2.23zM327.51 970.47h2.48v2.48h-2.48zM326.55 973.72h2.48v2.48h-2.48zM323.29 977.22h1.62v1.62h-1.62zM328.58 984.16h1.72v1.72h-1.72zM323.68 989.51h2.49v2.49h-2.49zM328.27 910.9h1.87v1.87h-1.87zM329.72 914.39h2.4v2.4h-2.4zM331.94 921.35h2.02v2.02h-2.02zM333.5 927.43h1.63v1.63h-1.63zM333.01 933.45h2.42v2.42h-2.42zM332.54 936.45h1.89v1.89h-1.89zM327.72 946.4h2.19v2.19h-2.19zM329.18 946h1.67v1.67h-1.67zM333.27 954.38h2.31v2.31h-2.31zM331.56 957.77h2.42v2.42h-2.42zM330.88 961.96h1.76v1.76h-1.76zM330.99 968.96h1.92v1.92h-1.92zM329.12 974.89h1.76v1.76h-1.76zM333.15 977.75h2.27v2.27h-2.27zM333.05 983.6h2.21v2.21h-2.21zM328.48 988.48h2.28v2.28h-2.28zM336.29 911.48h2.06v2.06h-2.06zM332.99 915h2.41v2.41h-2.41zM332.07 916.64h2.54v2.54h-2.54zM336.61 924.48h1.97v1.97h-1.97zM335.71 931.84h2.04v2.04h-2.04zM333.97 934.95h2.39v2.39h-2.39zM337.48 936.05h2.34v2.34h-2.34zM333.79 943.45h2.21v2.21h-2.21zM336.41 955.76h2.44v2.44h-2.44zM334.77 958.81h1.71v1.71h-1.71zM336.84 964.23h1.9v1.9h-1.9zM332.58 969.01h2.39v2.39h-2.39zM335.4 973.9h1.64v1.64h-1.64zM337.97 980.34h1.98v1.98h-1.98zM338.34 983.19h1.6v1.6h-1.6zM338.13 908.05h2.3v2.3h-2.3zM341.19 916.74h1.95v1.95h-1.95zM340.88 917.64h2.23v2.23h-2.23zM340.64 923.72h2.25v2.25h-2.25zM341.63 931.91h1.8v1.8h-1.8zM337.41 940.47h2.59v2.59h-2.59zM341.19 940.91h1.67v1.67h-1.67zM342.85 951.25h1.9v1.9h-1.9zM338.13 955.31h2v2h-2zM339.24 973.35h1.85v1.85h-1.85zM342.94 977.58h2.01v2.01h-2.01zM338.45 981.3h2.46v2.46h-2.46zM342.65 990.08h1.92v1.92h-1.92zM342.74 911.32h1.93v1.93h-1.93zM343.19 912.3h1.94v1.94h-1.94zM345.58 919.83h1.73v1.73h-1.73zM344.45 921.95h2.1v2.1h-2.1zM345.26 927.09h2.5v2.5h-2.5zM343.22 934.71h1.8v1.8h-1.8zM342.67 941.67h2.17v2.17h-2.17zM348.1 945.61h1.94v1.94h-1.94zM347.41 948.3h1.68v1.68h-1.68zM342.11 958.14h2.53v2.53h-2.53zM343.96 965.41h1.93v1.93h-1.93zM346.97 970.54h2.6v2.6h-2.6zM346.35 974.19h1.79v1.79h-1.79zM343.86 976.63h2.17v2.17h-2.17zM342.75 986.5h1.97v1.97h-1.97zM344.01 986.21h2.28v2.28h-2.28zM348.41 911.31h2.43v2.43h-2.43zM347.81 913.36h2.5v2.5h-2.5zM350.26 918.22h1.75v1.75h-1.75zM348.94 922.89h1.82v1.82h-1.82zM349.65 931.21h1.68v1.68h-1.68zM353.08 931.5h1.86v1.86h-1.86zM349.82 941.21h1.62v1.62h-1.62zM351.86 941.23h1.89v1.89h-1.89zM350.32 951.69h1.69v1.69h-1.69zM349.49 957.07h2.45v2.45h-2.45zM347.17 961.91h2.3v2.3h-2.3zM348.58 969.55h2.11v2.11h-2.11zM348.85 971.63h2.5v2.5h-2.5zM352.41 983.12h1.82v1.82h-1.82zM352.55 989.44h2.56v2.56h-2.56zM354.95 907.53h1.93v1.93h-1.93zM353.41 915.59h1.81v1.81h-1.81zM354.69 919.6h2.05v2.05h-2.05zM357.15 923.86h1.62v1.62h-1.62zM356.16 927.67h2.56v2.56h-2.56zM354.1 936.31h2.04v2.04h-2.04zM356.54 944.03h1.85v1.85h-1.85zM354.35 945.98h2.43v2.43h-2.43zM354.63 956.41h1.65v1.65h-1.65zM352.66 956.96h2.25v2.25h-2.25zM355.73 960.73h1.97v1.97h-1.97zM355.85 970.63h2.03v2.03h-2.03zM353.4 973.22h2.2v2.2h-2.2zM355.14 978.76h1.65v1.65h-1.65zM356.92 982.69h1.85v1.85h-1.85zM355.07 987.95h1.88v1.88h-1.88zM358.09 909.05h1.92v1.92h-1.92zM360.47 912.93h1.69v1.69h-1.69zM357.26 919.87h2.54v2.54h-2.54zM362.18 926.56h1.71v1.71h-1.71zM362.54 929.09h2.24v2.24h-2.24zM361.81 935.91h2.25v2.25h-2.25zM360.14 939.46h1.81v1.81h-1.81zM361.65 944.7h2.46v2.46h-2.46zM357.77 950.5h2.3v2.3h-2.3zM360.27 952.1h2.5v2.5h-2.5zM359.45 959.8h2.2v2.2h-2.2zM359.39 970.09h2.03v2.03h-2.03zM358.49 973.37h2.04v2.04h-2.04zM357.25 980.78h2.43v2.43h-2.43zM359.96 989.07h1.97v1.97h-1.97zM366.32 907.5h1.92v1.92h-1.92zM365.45 912.79h1.91v1.91h-1.91zM365.28 917.83h1.98v1.98h-1.98zM362.65 925.29h2.38v2.38h-2.38zM362.85 931.61h1.84v1.84h-1.84zM366.45 936.62h1.73v1.73h-1.73zM363.23 940.39h2.38v2.38h-2.38zM362.34 944.68h2.07v2.07h-2.07zM361.95 946.28h1.89v1.89h-1.89zM365.82 955.86h2.6v2.6h-2.6zM364.09 961.6h1.73v1.73h-1.73zM366.29 964.67h2.59v2.59h-2.59zM363.96 965.5h2.51v2.51h-2.51zM363.46 974.35h1.61v1.61h-1.61zM362.27 977.78h1.85v1.85h-1.85zM367.23 980.8h2.19v2.19h-2.19zM367.41 989.49h1.68v1.68h-1.68zM366.31 911.26h2.41v2.41h-2.41zM368.83 915.36h2.23v2.23h-2.23zM368.08 920.37h1.88v1.88h-1.88zM368.78 924.44h1.76v1.76h-1.76zM371.51 929.64h2.19v2.19h-2.19zM371.81 936.6h1.9v1.9h-1.9zM367.21 940.58h1.62v1.62h-1.62zM369.41 943.87h2.32v2.32h-2.32zM367.45 954.1h2.6v2.6h-2.6zM368.5 956.95h2.25v2.25h-2.25zM371.55 962.79h2.53v2.53h-2.53zM368.57 970h2.41v2.41h-2.41zM366.6 975.09h1.8v1.8h-1.8zM367.06 977.63h1.64v1.64h-1.64zM367.49 983.9h2.33v2.33h-2.33zM371.7 988.15h1.95v1.95h-1.95zM373.7 907.5h2.27v2.27h-2.27zM374.51 913.76h2.35v2.35h-2.35zM371.88 919.26h1.9v1.9h-1.9zM377.47 923.27h1.7v1.7h-1.7zM372.85 926.91h2.37v2.37h-2.37zM375.97 934.07h2.58v2.58h-2.58zM376.17 940.68h2.38v2.38h-2.38zM376.94 944.02h2.43v2.43h-2.43zM373.83 956.17h2.25v2.25h-2.25zM372.15 958.69h2.3v2.3h-2.3zM376.59 961.95h2.52v2.52h-2.52zM371.64 965.7h2.58v2.58h-2.58zM373.19 974.72h2.33v2.33h-2.33zM371.42 979.53h2.41v2.41h-2.41zM376.46 985.35h2.3v2.3h-2.3zM374.45 985.87h2.47v2.47h-2.47zM378.04 908.54h2.53v2.53h-2.53zM380.91 913.63h2.29v2.29h-2.29zM377.64 916.98h1.68v1.68h-1.68zM376.64 924.66h2.13v2.13h-2.13zM379.33 931.84h1.63v1.63h-1.63zM381.31 938.47h1.96v1.96h-1.96zM377.71 943.65h2.44v2.44h-2.44zM380.23 945.69h2.59v2.59h-2.59zM381.17 952.64h2.55v2.55h-2.55zM380.92 956.79h1.87v1.87h-1.87zM380.51 964.92h1.87v1.87h-1.87zM380.01 967.15h2.12v2.12h-2.12zM381.95 972.16h2.23v2.23h-2.23zM379.83 978.44h2.11v2.11h-2.11zM379.44 983.47h1.8v1.8h-1.8zM378.98 987.72h2.05v2.05h-2.05zM386.72 907.5h2.59v2.59h-2.59zM381.38 911.15h2.55v2.55h-2.55zM383.72 921.37h2.11v2.11h-2.11zM385.02 931.11h2.59v2.59h-2.59zM382.28 932.67h1.91v1.91h-1.91zM381.45 935.99h1.97v1.97h-1.97zM385.86 942.64h2.45v2.45h-2.45zM385.84 947.47h2.14v2.14h-2.14zM386.17 952.72h2.15v2.15h-2.15zM381.97 964.2h2.48v2.48h-2.48zM385 966.25h1.87v1.87h-1.87zM383.41 975.09h2.19v2.19h-2.19zM385.82 980.21h1.88v1.88h-1.88zM384.49 984.93h2.19v2.19h-2.19zM385.15 989.88h1.87v1.87h-1.87zM387.69 909.05h2.5v2.5h-2.5zM387.04 914.89h2.2v2.2h-2.2zM390.22 926.08h2.05v2.05h-2.05zM390.67 928.78h1.83v1.83h-1.83zM390.86 932.34h1.64v1.64h-1.64zM387.5 937.56h1.91v1.91h-1.91zM388.14 945.29h2.13v2.13h-2.13zM388.04 949.61h2.53v2.53h-2.53zM388.29 951.66h2.32v2.32h-2.32zM388.03 959.59h2.26v2.26h-2.26zM390 966h2.5v2.5h-2.5zM386.7 974.09h2.38v2.38h-2.38zM386.29 977.31h1.82v1.82h-1.82zM390.31 986.35h2.19v2.19h-2.19zM390.05 989.21h2.45v2.45h-2.45z" fill="#2a2cff" filter="url(#b0)"/>
<path d="M329.82 952.34h2.5v2.5h-2.5zM358 958.68h2.25v2.25h-2.25zM312.51 975.14h2.41v2.41h-2.41zM329.54 987.44h2.58v2.58h-2.58zM375.91 947.07h2.71v2.71h-2.71zM323.1 959.39h2.89v2.89h-2.89zM351.78 967.66h2.74v2.74h-2.74zM316.43 968.98h2.67v2.67h-2.67zM334.7 912.45h2.89v2.89h-2.89zM347.9 965.92h2.9v2.9h-2.9zM366.49 981.64h2.52v2.52h-2.52zM373.17 944.6h2.95v2.95h-2.95zM379.17 917.61h2.31v2.31h-2.31zM328.21 985.09h2.55v2.55h-2.55zM359.75 933.44h2.61v2.61h-2.61zM341.21 937.31h2.67v2.67h-2.67zM356.49 980.33h2.75v2.75h-2.75zM383.03 976.61h2.99v2.99h-2.99zM363.19 922.71h2.89v2.89h-2.89zM385.78 980.37h2.66v2.66h-2.66zM366.46 926.45h2.87v2.87h-2.87zM355.66 932.19h2.25v2.25h-2.25zM377.25 986.98h2.27v2.27h-2.27zM373.15 941.94h2.32v2.32h-2.32zM334.13 969.8h2.9v2.9h-2.9zM314.9 957.81h2.24v2.24h-2.24zM366.82 935.76h2.9v2.9h-2.9zM387.01 949.33h3v3h-3zM335.34 916.02h2.68v2.68h-2.68zM313.92 925.38h2.53v2.53h-2.53zM358.51 922.18h2.23v2.23h-2.23zM378.32 934.43h2.97v2.97h-2.97z" fill="#c834a2" filter="url(#b0)"/>
</g>
<clipPath id="fl4"><rect x="399.25" y="727.5" width="83" height="83.25"/></clipPath><g clip-path="url(#fl4)">
<rect x="399.25" y="727.5" width="83" height="83.25" fill="#010108"/>
<path d="M433.33 783.69h2.99v2.99h-2.99zM444.08 773.06h2.97v2.97h-2.97zM436.54 760.95h3.69v3.69h-3.69zM435.96 785.96h3.33v3.33h-3.33zM413.53 730.6h2.66v2.66h-2.66zM467.04 775.56h3.12v3.12h-3.12zM473.67 793.05h3.45v3.45h-3.45zM417.04 770.67h2.94v2.94h-2.94zM447.04 733.87h2.84v2.84h-2.84zM456.94 747.93h3.09v3.09h-3.09zM459.34 743.09h2.72v2.72h-2.72zM447.77 798.08h3.85v3.85h-3.85zM438.22 748.12h3.3v3.3h-3.3zM475.92 745.16h2.59v2.59h-2.59zM474.2 770.79h2.62v2.62h-2.62zM472.43 785.98h3.37v3.37h-3.37zM421.93 780.25h2.89v2.89h-2.89zM417.15 747.41h3.52v3.52h-3.52zM403.99 791.86h3.26v3.26h-3.26zM411.25 773.73h3.49v3.49h-3.49zM406.33 761.83h3.39v3.39h-3.39zM435.34 785.34h3.69v3.69h-3.69zM479.26 781.23h2.85v2.85h-2.85zM400.13 755.93h3.34v3.34h-3.34zM434.59 741.8h2.5v2.5h-2.5zM423.75 739.12h2.87v2.87h-2.87zM439.59 738.29h2.93v2.93h-2.93zM474.86 785.13h3.34v3.34h-3.34zM407.85 779.92h3.93v3.93h-3.93zM474.17 767.36h2.86v2.86h-2.86zM460.89 738.06h3.58v3.58h-3.58zM464.38 793.51h2.65v2.65h-2.65zM401.21 729.44h3.15v3.15h-3.15zM454.38 757.22h3.7v3.7h-3.7zM463.47 728.07h3.52v3.52h-3.52zM476.89 796.71h3.62v3.62h-3.62zM434.08 775.67h3.83v3.83h-3.83zM462.91 780.68h2.67v2.67h-2.67zM403.21 741.86h3.11v3.11h-3.11zM472.82 765.29h3.1v3.1h-3.1zM414.08 747.62h3.8v3.8h-3.8zM422.29 791.43h2.85v2.85h-2.85zM424.84 782.13h3.05v3.05h-3.05zM469.4 783.22h3.17v3.17h-3.17zM433.12 758.89h3.75v3.75h-3.75zM478.09 803.09h3.18v3.18h-3.18zM438.56 733.27h3.35v3.35h-3.35zM447.57 760.24h3.79v3.79h-3.79zM437.03 784.55h2.75v2.75h-2.75zM420.51 768.58h2.9v2.9h-2.9zM399.81 732.52h3.24v3.24h-3.24zM455.94 758.12h3.06v3.06h-3.06zM418.84 743.26h2.52v2.52h-2.52zM417.33 805.59h3.65v3.65h-3.65zM413.67 729.02h2.93v2.93h-2.93zM440.39 790h3.24v3.24h-3.24zM442.41 731.73h3.5v3.5h-3.5zM418.86 746.11h3.89v3.89h-3.89zM446.42 780.21h2.76v2.76h-2.76zM419.82 728.38h2.97v2.97h-2.97zM455.91 737.06h3.39v3.39h-3.39zM459.48 784.58h2.86v2.86h-2.86zM478.58 785.22h2.71v2.71h-2.71zM424.74 804.51h3.57v3.57h-3.57zM450.09 806.19h3.16v3.16h-3.16zM413.18 737.84h3.75v3.75h-3.75zM408.83 798.71h2.81v2.81h-2.81zM437.2 756.99h3.31v3.31h-3.31zM434.11 785.53h3.25v3.25h-3.25zM468.5 795.28h3.12v3.12h-3.12zM458.64 741.2h3.8v3.8h-3.8zM466.38 756.05h3.13v3.13h-3.13zM416.08 793.38h3.36v3.36h-3.36zM428.18 793.09h3v3h-3zM399.79 761.74h2.63v2.63h-2.63zM408.25 758.92h3.17v3.17h-3.17zM469.34 800.9h3.65v3.65h-3.65zM405.12 756.59h3.69v3.69h-3.69zM401.5 790.01h3.17v3.17h-3.17zM461.71 781.77h2.92v2.92h-2.92zM426.65 763.65h2.9v2.9h-2.9zM400.18 761.42h2.79v2.79h-2.79zM419.66 790.78h2.84v2.84h-2.84zM431.87 729.47h3.61v3.61h-3.61zM420.13 735.49h3.65v3.65h-3.65zM471.12 747.88h3.63v3.63h-3.63zM469.98 769.04h3.32v3.32h-3.32zM411.73 729.72h3.02v3.02h-3.02zM463.51 741.93h3.84v3.84h-3.84zM414.54 787.11h3.47v3.47h-3.47zM454.9 770.35h3.06v3.06h-3.06zM445 780.25h2.62v2.62h-2.62zM402.2 749.27h2.57v2.57h-2.57zM476.85 763.1h3.58v3.58h-3.58zM455.53 749.19h3.79v3.79h-3.79zM466.72 766.14h3.17v3.17h-3.17zM456.81 739.35h3.26v3.26h-3.26zM440.76 772.94h3.19v3.19h-3.19zM420.79 765.27h3.54v3.54h-3.54zM407.5 790.49h3.19v3.19h-3.19zM443.51 760.07h3.94v3.94h-3.94zM435.49 757.19h3.05v3.05h-3.05zM475.21 756.93h2.91v2.91h-2.91zM452.08 727.93h2.82v2.82h-2.82zM444.1 793.22h3.03v3.03h-3.03zM403.42 805.2h2.95v2.95h-2.95zM432.92 768.79h2.52v2.52h-2.52zM427.4 746.67h3.98v3.98h-3.98z" fill="#1212b0" opacity="0.5" filter="url(#bd)"/>
<path d="M399.25 731.12h1.98v1.98h-1.98zM399.25 734.23h2.33v2.33h-2.33zM403.25 736.91h1.83v1.83h-1.83zM400.08 744.89h2.54v2.54h-2.54zM402.96 747.88h2.04v2.04h-2.04zM399.57 753.96h2.13v2.13h-2.13zM402.9 760.46h1.93v1.93h-1.93zM402.41 768.12h2.02v2.02h-2.02zM400.79 769.15h1.85v1.85h-1.85zM399.25 777.74h1.61v1.61h-1.61zM401.29 777.13h1.84v1.84h-1.84zM401.71 783.8h2.21v2.21h-2.21zM399.31 786.31h2.42v2.42h-2.42zM399.25 798.62h1.88v1.88h-1.88zM402.11 801.27h2.03v2.03h-2.03zM402.4 808.22h2.53v2.53h-2.53zM403.09 736.14h2.16v2.16h-2.16zM402.19 735.35h2.58v2.58h-2.58zM405.55 744.4h2.21v2.21h-2.21zM407.81 752.7h1.92v1.92h-1.92zM407.67 755.49h1.73v1.73h-1.73zM406.77 760.16h2.02v2.02h-2.02zM403.62 763.52h2.2v2.2h-2.2zM406.03 768.63h2.31v2.31h-2.31zM406.11 773.03h2.44v2.44h-2.44zM403.72 785.54h2.31v2.31h-2.31zM404.25 789.79h2.23v2.23h-2.23zM404.17 794.93h1.98v1.98h-1.98zM402.79 796.82h1.89v1.89h-1.89zM402.39 804.8h1.96v1.96h-1.96zM406.75 807.65h1.67v1.67h-1.67zM411.41 730.79h2.43v2.43h-2.43zM409.55 734.1h2.41v2.41h-2.41zM407.23 740.02h2.23v2.23h-2.23zM411.65 744.48h2.17v2.17h-2.17zM407.31 750.08h2.03v2.03h-2.03zM409.03 751.37h2.46v2.46h-2.46zM411.31 756.99h2.15v2.15h-2.15zM407.39 763.15h2.13v2.13h-2.13zM410.31 764.92h1.96v1.96h-1.96zM408.62 769.83h2.39v2.39h-2.39zM410.5 774.07h2.11v2.11h-2.11zM411.97 778.74h2.19v2.19h-2.19zM408.67 782.87h1.81v1.81h-1.81zM408.72 788.91h1.7v1.7h-1.7zM407.48 792.8h2.26v2.26h-2.26zM407.74 800.17h1.74v1.74h-1.74zM413.3 728.19h2.44v2.44h-2.44zM411.52 731.43h2.49v2.49h-2.49zM412.17 737.57h2.24v2.24h-2.24zM413.59 740.34h1.66v1.66h-1.66zM412.64 748.16h1.61v1.61h-1.61zM413.39 754.66h2.17v2.17h-2.17zM412.59 756.48h1.95v1.95h-1.95zM415.4 761.12h2.32v2.32h-2.32zM414.66 768.42h2v2h-2zM416.04 771.96h2.07v2.07h-2.07zM415.86 774.34h2v2h-2zM411.9 778.25h2.14v2.14h-2.14zM416.22 781.55h1.85v1.85h-1.85zM413.26 791.42h2.12v2.12h-2.12zM412.37 796.02h1.9v1.9h-1.9zM411.81 795.32h2.12v2.12h-2.12zM414.05 801.71h2.29v2.29h-2.29zM413.94 808.1h1.97v1.97h-1.97zM417.46 729.76h1.94v1.94h-1.94zM420.66 734.38h1.78v1.78h-1.78zM421.05 736.18h1.74v1.74h-1.74zM416.16 750.69h1.98v1.98h-1.98zM416.95 758.52h2.07v2.07h-2.07zM418.03 759.84h1.87v1.87h-1.87zM419.98 772.44h1.87v1.87h-1.87zM418.29 774.98h1.89v1.89h-1.89zM416.82 786.27h1.91v1.91h-1.91zM416.52 790.2h2.09v2.09h-2.09zM419.6 791.83h2.48v2.48h-2.48zM418.07 799.79h2.19v2.19h-2.19zM416.52 803.59h1.74v1.74h-1.74zM416.54 808.99h1.76v1.76h-1.76zM425.63 730.41h2.46v2.46h-2.46zM424.04 735.15h2.54v2.54h-2.54zM422.94 740.38h1.92v1.92h-1.92zM421.12 743.16h1.7v1.7h-1.7zM420.54 746.45h2.55v2.55h-2.55zM425.41 752.69h2.21v2.21h-2.21zM425.4 756.87h2.57v2.57h-2.57zM421.95 759.72h2.13v2.13h-2.13zM422.95 763.41h2.04v2.04h-2.04zM423.53 769.6h1.93v1.93h-1.93zM425.93 775.46h2.38v2.38h-2.38zM423.47 778.77h1.97v1.97h-1.97zM422.17 785.98h1.73v1.73h-1.73zM423.03 788.9h1.67v1.67h-1.67zM422.82 792.43h1.83v1.83h-1.83zM422 796.37h2.11v2.11h-2.11zM422.68 802.74h2.49v2.49h-2.49zM425.54 732.91h2.55v2.55h-2.55zM428.91 736.89h1.61v1.61h-1.61zM430.2 744.09h2.42v2.42h-2.42zM427.01 750.14h2.16v2.16h-2.16zM427.68 759.15h2.02v2.02h-2.02zM425.97 762.05h2.46v2.46h-2.46zM428.1 763.71h1.99v1.99h-1.99zM426.46 772.41h2.01v2.01h-2.01zM429.22 773.01h2.23v2.23h-2.23zM430.89 787.88h2.09v2.09h-2.09zM430.08 793.02h2.25v2.25h-2.25zM426.75 800.54h1.96v1.96h-1.96zM426.14 804.92h2.04v2.04h-2.04zM427.57 804.86h2.35v2.35h-2.35zM435.48 727.5h1.71v1.71h-1.71zM431.43 734.5h1.6v1.6h-1.6zM434.37 757.67h1.83v1.83h-1.83zM435.26 759.82h2.53v2.53h-2.53zM430.9 767.3h2.29v2.29h-2.29zM433.44 775.94h2.51v2.51h-2.51zM430.6 778.98h2.01v2.01h-2.01zM434.8 786.8h2.41v2.41h-2.41zM434.89 785.94h2.49v2.49h-2.49zM430.58 793.39h1.7v1.7h-1.7zM431.92 798.2h1.78v1.78h-1.78zM431.1 800.16h1.72v1.72h-1.72zM430.74 808.16h2.59v2.59h-2.59zM438.95 727.5h2.46v2.46h-2.46zM438.06 735.26h2.43v2.43h-2.43zM439.09 743.17h2v2h-2zM434.67 749.75h2.13v2.13h-2.13zM438.16 753.17h2.25v2.25h-2.25zM438.37 759.42h1.84v1.84h-1.84zM435.33 759.91h2.4v2.4h-2.4zM439.65 766.42h2.16v2.16h-2.16zM435.58 769.08h2.03v2.03h-2.03zM438.06 775.88h2.51v2.51h-2.51zM434.91 777.11h1.62v1.62h-1.62zM437.6 782.42h2.58v2.58h-2.58zM435.51 801.29h1.94v1.94h-1.94zM435.5 809.02h1.73v1.73h-1.73zM440.71 729.83h2.23v2.23h-2.23zM440.64 738.61h2.46v2.46h-2.46zM441.77 742.59h1.71v1.71h-1.71zM441.24 753.41h2.02v2.02h-2.02zM440.93 758.11h2.01v2.01h-2.01zM442.65 760.22h2.11v2.11h-2.11zM444.02 764.58h2.18v2.18h-2.18zM443.69 776.38h2.19v2.19h-2.19zM444.16 780.38h1.96v1.96h-1.96zM439.86 782.88h1.77v1.77h-1.77zM442.78 791.61h1.93v1.93h-1.93zM439.12 794.55h2.26v2.26h-2.26zM441.01 798.82h2.38v2.38h-2.38zM441.49 804.49h2.38v2.38h-2.38zM442 808.55h2.13v2.13h-2.13zM448.86 728.51h2.57v2.57h-2.57zM449.13 734.27h1.71v1.71h-1.71zM447.15 746.58h2.38v2.38h-2.38zM448.95 752.64h2.08v2.08h-2.08zM448.91 763.33h1.68v1.68h-1.68zM445.6 763.28h2.03v2.03h-2.03zM446.06 769.54h1.94v1.94h-1.94zM445.75 776.65h2.46v2.46h-2.46zM448.43 777.4h1.87v1.87h-1.87zM446.11 790.46h2.07v2.07h-2.07zM448.43 791.45h1.97v1.97h-1.97zM446.01 795.4h2.01v2.01h-2.01zM447.73 809.04h1.71v1.71h-1.71zM451.58 729.32h2.35v2.35h-2.35zM453.12 731.44h2.08v2.08h-2.08zM449.49 736.44h2.13v2.13h-2.13zM451.14 742.57h2.24v2.24h-2.24zM449.57 749.71h2.23v2.23h-2.23zM452.29 752.74h2.38v2.38h-2.38zM452.2 754.35h2.58v2.58h-2.58zM448.75 763.37h2.03v2.03h-2.03zM448.95 765.93h2.02v2.02h-2.02zM453.66 772.44h2.42v2.42h-2.42zM453.79 773.5h2v2h-2zM450.44 779.99h2.16v2.16h-2.16zM451.07 787.64h1.62v1.62h-1.62zM449.59 794.88h1.86v1.86h-1.86zM451.23 795.92h2.44v2.44h-2.44zM449.88 802.83h2.6v2.6h-2.6zM453.79 804.65h2.55v2.55h-2.55zM455.22 728.66h2.41v2.41h-2.41zM453.44 735.91h1.61v1.61h-1.61zM456.2 739.48h2.04v2.04h-2.04zM456.8 740h1.68v1.68h-1.68zM455.56 746.35h2.42v2.42h-2.42zM458.11 752.03h2.29v2.29h-2.29zM455.67 753.56h2.29v2.29h-2.29zM456.44 758.23h2.56v2.56h-2.56zM453.12 768.44h2.36v2.36h-2.36zM457.05 770.32h2.11v2.11h-2.11zM456.6 777.62h2.08v2.08h-2.08zM457.34 779.26h2.59v2.59h-2.59zM458.04 782.92h2.51v2.51h-2.51zM453.37 788.81h1.95v1.95h-1.95zM457.62 795.45h2.13v2.13h-2.13zM458.29 795.86h1.9v1.9h-1.9zM455.38 805.19h1.68v1.68h-1.68zM455.94 807.26h2.59v2.59h-2.59zM462.78 727.85h2.09v2.09h-2.09zM462.27 731.71h1.9v1.9h-1.9zM458.24 738.62h1.72v1.72h-1.72zM459.8 743.76h2.31v2.31h-2.31zM459.33 745.78h1.93v1.93h-1.93zM461.04 755.54h2.14v2.14h-2.14zM462.3 758.43h1.93v1.93h-1.93zM460.7 766.35h2.5v2.5h-2.5zM458.31 770.61h1.74v1.74h-1.74zM460.35 774.61h2.14v2.14h-2.14zM457.8 780.34h2.48v2.48h-2.48zM462.28 787.97h1.86v1.86h-1.86zM463.05 793.35h2.11v2.11h-2.11zM459.02 800.67h2.1v2.1h-2.1zM458.96 804.19h1.75v1.75h-1.75zM463.01 805.76h2.19v2.19h-2.19zM463.29 727.5h2.37v2.37h-2.37zM465.04 734.7h2.02v2.02h-2.02zM464.23 736.19h1.85v1.85h-1.85zM463.71 740.5h2.2v2.2h-2.2zM467.32 748.13h1.69v1.69h-1.69zM467.28 749.39h1.61v1.61h-1.61zM466.13 754.78h2.13v2.13h-2.13zM465.7 763.93h1.86v1.86h-1.86zM463.76 765.4h1.76v1.76h-1.76zM464.29 770.74h2.4v2.4h-2.4zM464.02 777.57h2.09v2.09h-2.09zM465.85 778.12h1.92v1.92h-1.92zM464.14 787.48h2.43v2.43h-2.43zM463.69 793.65h2.2v2.2h-2.2zM464.27 800.21h1.64v1.64h-1.64zM462.51 802.57h2.35v2.35h-2.35zM462.15 805.15h2.25v2.25h-2.25zM469.47 730.62h2.52v2.52h-2.52zM467.01 735.26h2.59v2.59h-2.59zM469.96 737.68h1.82v1.82h-1.82zM470.74 740.96h2.54v2.54h-2.54zM468.68 745.68h2.04v2.04h-2.04zM468.64 749.77h1.86v1.86h-1.86zM471.37 756.96h2.55v2.55h-2.55zM467.12 758.32h2.54v2.54h-2.54zM472.5 763.03h2.13v2.13h-2.13zM468.17 771.77h2.39v2.39h-2.39zM470.78 775.06h1.69v1.69h-1.69zM470.78 777.01h1.75v1.75h-1.75zM469.36 787.3h1.95v1.95h-1.95zM469.7 792.74h2.01v2.01h-2.01zM472.31 796.54h1.77v1.77h-1.77zM470.28 801.28h2.03v2.03h-2.03zM471.45 808.44h1.82v1.82h-1.82zM475.76 727.5h2.59v2.59h-2.59zM476.26 736.01h1.7v1.7h-1.7zM476.29 737.38h1.64v1.64h-1.64zM476.65 742.58h2.42v2.42h-2.42zM475.63 746.31h2.51v2.51h-2.51zM476.62 751.26h2.02v2.02h-2.02zM472.26 759.2h1.64v1.64h-1.64zM474.02 762.32h2.33v2.33h-2.33zM473.41 766.71h1.74v1.74h-1.74zM471.55 770.53h2.54v2.54h-2.54zM472.14 772.64h2.33v2.33h-2.33zM472.03 777.54h2.01v2.01h-2.01zM473.31 787.03h1.63v1.63h-1.63zM471.4 786.99h2.45v2.45h-2.45zM475.78 799.91h2.17v2.17h-2.17zM474.24 800.28h1.71v1.71h-1.71zM474.14 808.77h1.98v1.98h-1.98zM478.2 730.85h2.2v2.2h-2.2zM478.77 736.1h1.81v1.81h-1.81zM478.61 735.87h2.51v2.51h-2.51zM479.63 742.15h1.81v1.81h-1.81zM478.26 749.33h1.97v1.97h-1.97zM476.47 749.52h2.6v2.6h-2.6zM480.15 756.31h2.1v2.1h-2.1zM480.4 767.66h1.85v1.85h-1.85zM479.45 768.85h1.71v1.71h-1.71zM479.93 776.44h1.75v1.75h-1.75zM476.69 777.03h2.18v2.18h-2.18zM478.76 785.5h1.68v1.68h-1.68zM478.88 790.09h1.86v1.86h-1.86zM478.25 795.52h1.91v1.91h-1.91zM476.74 796.9h2.37v2.37h-2.37zM477.07 802.3h1.83v1.83h-1.83zM479.99 806.25h2.26v2.26h-2.26z" fill="#2a2cff" filter="url(#b0)"/>
</g>
<clipPath id="fl5"><rect x="399.25" y="818" width="83" height="83.25"/></clipPath><g clip-path="url(#fl5)">
<rect x="399.25" y="818" width="83" height="83.25" fill="#030000"/>
<path d="M426.95 833.94h2.55v2.55h-2.55zM429.93 840.45h2.74v2.74h-2.74zM450.16 840.29h2.34v2.34h-2.34zM439.68 874.95h2.73v2.73h-2.73zM450.6 889.19h2.81v2.81h-2.81zM435.3 877.61h2.73v2.73h-2.73zM427.52 833.31h2.5v2.5h-2.5zM456.54 878h2.44v2.44h-2.44zM442.95 826.23h2.68v2.68h-2.68zM435.82 879.31h2.89v2.89h-2.89zM405.3 894.42h2.34v2.34h-2.34zM475.47 895.96h2.38v2.38h-2.38zM423.71 831.62h2.93v2.93h-2.93zM459.51 894.5h2.85v2.85h-2.85zM428.95 879.78h2.48v2.48h-2.48z" fill="#c41818" filter="url(#b0)"/>
</g>
<clipPath id="fl6"><rect x="399.25" y="907.5" width="83" height="84.5"/></clipPath><g clip-path="url(#fl6)">
<rect x="399.25" y="907.5" width="83" height="84.5" fill="#010108"/>
<path d="M418.61 947.69h2.96v2.96h-2.96zM463.8 942.13h2.69v2.69h-2.69zM439.93 942.68h2.56v2.56h-2.56zM423.55 962.23h2.79v2.79h-2.79zM446.96 928.2h4v4h-4zM425.38 927.18h2.55v2.55h-2.55zM435.17 930.29h3.13v3.13h-3.13zM473.89 985.02h2.75v2.75h-2.75zM472.97 953.45h3.59v3.59h-3.59zM434.27 961.1h3.61v3.61h-3.61zM455.23 971.83h3.77v3.77h-3.77zM426.68 972.57h3.42v3.42h-3.42zM417.8 920.88h3.84v3.84h-3.84zM418.94 922.31h2.51v2.51h-2.51zM412.56 933.39h2.8v2.8h-2.8zM476.35 913.24h2.75v2.75h-2.75zM473.42 938.85h2.52v2.52h-2.52zM424.58 908.6h3.62v3.62h-3.62zM473.47 911.57h2.56v2.56h-2.56zM420.21 959.9h3.17v3.17h-3.17zM463.85 924.94h3.07v3.07h-3.07zM477.34 950.68h3.31v3.31h-3.31zM403.13 978.43h3.93v3.93h-3.93zM478.92 964.54h3.09v3.09h-3.09zM460.86 921.17h2.88v2.88h-2.88zM458.27 921.07h3.29v3.29h-3.29zM466.85 922.95h2.59v2.59h-2.59zM436.64 923.21h3.64v3.64h-3.64zM428.73 928.69h3.79v3.79h-3.79zM477.52 934.21h3.85v3.85h-3.85zM407.85 971.36h3.96v3.96h-3.96zM418.68 939.74h3.38v3.38h-3.38zM453.19 941.92h2.98v2.98h-2.98zM452.5 935.8h3.14v3.14h-3.14zM438.9 978.39h2.62v2.62h-2.62zM420.87 982.09h2.86v2.86h-2.86zM476.26 932.29h2.74v2.74h-2.74zM457.24 980.24h2.81v2.81h-2.81zM420.84 917.96h3.2v3.2h-3.2zM455.95 968.22h2.51v2.51h-2.51zM437.15 969.86h2.97v2.97h-2.97zM453.34 981.81h3.55v3.55h-3.55zM477.23 958.65h2.86v2.86h-2.86zM453.77 932.37h2.98v2.98h-2.98zM464.99 973.15h3.12v3.12h-3.12zM463.47 977.71h3.4v3.4h-3.4zM405.29 984.07h3.08v3.08h-3.08zM435.02 915.84h2.59v2.59h-2.59zM461.42 910.35h3.31v3.31h-3.31zM431.4 961.89h3.24v3.24h-3.24zM452.51 912.36h3.85v3.85h-3.85zM436.4 920.72h3.03v3.03h-3.03zM427.75 936.51h3.79v3.79h-3.79zM442.31 973.42h2.82v2.82h-2.82zM439.36 931.8h2.67v2.67h-2.67zM431.23 959.66h2.59v2.59h-2.59zM478.47 964.48h3.42v3.42h-3.42zM456.77 962.69h3.89v3.89h-3.89zM467.71 968.38h3.85v3.85h-3.85zM421.83 978.04h2.99v2.99h-2.99zM430.61 976.16h2.54v2.54h-2.54zM439.11 935.84h2.94v2.94h-2.94zM465.2 912.33h3.46v3.46h-3.46zM467.62 941.1h3.11v3.11h-3.11zM420.69 948.13h3.97v3.97h-3.97zM468.91 946.72h2.76v2.76h-2.76zM453.8 928.75h3.74v3.74h-3.74zM404.61 982.21h3.78v3.78h-3.78zM418.7 954h3.68v3.68h-3.68zM436.7 984.74h3.02v3.02h-3.02zM445.64 911.16h3.18v3.18h-3.18zM437.56 942.01h2.59v2.59h-2.59zM444.37 979.12h3.9v3.9h-3.9zM473.43 933.44h3.36v3.36h-3.36zM459.74 961.2h2.54v2.54h-2.54zM416.58 946.03h2.79v2.79h-2.79zM452.23 942.34h3.85v3.85h-3.85zM426.96 939.49h3.36v3.36h-3.36zM455.05 909.46h2.77v2.77h-2.77zM406.29 919.06h3.29v3.29h-3.29zM467.74 948.71h3.64v3.64h-3.64zM455.3 950.92h3.94v3.94h-3.94zM399.93 915.36h3.41v3.41h-3.41zM428.98 985.6h3.62v3.62h-3.62zM421.91 924.78h2.89v2.89h-2.89zM442.45 928.17h3.9v3.9h-3.9zM446.11 908.77h2.6v2.6h-2.6zM411.8 969.02h3.79v3.79h-3.79zM422.16 954.71h3.79v3.79h-3.79zM435.5 940.87h3.53v3.53h-3.53zM419.55 953.16h3.83v3.83h-3.83zM445.06 987.07h2.51v2.51h-2.51zM458 934.09h3.09v3.09h-3.09zM430.69 979.18h3.07v3.07h-3.07zM402.86 952.05h2.99v2.99h-2.99zM447.49 945.52h3.37v3.37h-3.37zM456.57 927.81h2.95v2.95h-2.95zM413.53 912.27h2.89v2.89h-2.89zM453.39 939.91h2.81v2.81h-2.81zM417.69 928.47h3.19v3.19h-3.19zM473.85 918.85h3.53v3.53h-3.53zM475.56 951.63h3.53v3.53h-3.53zM413.57 970.78h3.84v3.84h-3.84zM416.62 915.4h2.66v2.66h-2.66zM460.29 936.16h2.5v2.5h-2.5zM457.84 928.05h3.04v3.04h-3.04zM413.9 986.25h3.79v3.79h-3.79zM438.85 983.02h3.81v3.81h-3.81z" fill="#1212b0" opacity="0.5" filter="url(#bd)"/>
<path d="M399.25 908.07h2.55v2.55h-2.55zM400.85 915.61h2.04v2.04h-2.04zM399.25 917.84h2.16v2.16h-2.16zM400.97 929.66h2.22v2.22h-2.22zM403.19 931.81h1.88v1.88h-1.88zM401.65 935.6h2.11v2.11h-2.11zM401.04 941.14h1.68v1.68h-1.68zM401.31 944.49h1.76v1.76h-1.76zM401.53 952.59h1.71v1.71h-1.71zM402.07 957.71h2.43v2.43h-2.43zM400.05 962.19h2.05v2.05h-2.05zM403.48 967.79h1.84v1.84h-1.84zM399.25 971.25h2.43v2.43h-2.43zM399.34 975.65h1.9v1.9h-1.9zM399.25 979.58h2.35v2.35h-2.35zM399.25 984.5h1.83v1.83h-1.83zM400.59 990.06h1.94v1.94h-1.94zM405.92 910.23h2.18v2.18h-2.18zM407.33 911.15h1.83v1.83h-1.83zM407.28 917.18h2.34v2.34h-2.34zM402.43 924.24h2.3v2.3h-2.3zM404.27 927.37h1.74v1.74h-1.74zM403.08 931.43h2.56v2.56h-2.56zM403.71 939.72h1.65v1.65h-1.65zM405.97 942.61h1.8v1.8h-1.8zM402.6 944.86h2.45v2.45h-2.45zM404.69 953.2h2.4v2.4h-2.4zM407.09 962.87h2.38v2.38h-2.38zM406.85 963.03h2.09v2.09h-2.09zM404.87 972.09h1.91v1.91h-1.91zM404.4 981.4h2.41v2.41h-2.41zM405.21 983.2h1.83v1.83h-1.83zM405.02 986.03h2.31v2.31h-2.31zM410.65 910.84h1.78v1.78h-1.78zM410.23 911.38h1.65v1.65h-1.65zM408 918.78h1.81v1.81h-1.81zM412.35 920.42h2.04v2.04h-2.04zM410.03 928.65h1.92v1.92h-1.92zM409.09 931.38h2.03v2.03h-2.03zM409.52 940.3h1.63v1.63h-1.63zM411.33 948.4h2.3v2.3h-2.3zM407.03 949.11h1.88v1.88h-1.88zM409.1 954.95h1.98v1.98h-1.98zM408.63 960.42h1.79v1.79h-1.79zM407.73 962.59h1.66v1.66h-1.66zM411.83 969.17h2.25v2.25h-2.25zM409.79 974.61h2.39v2.39h-2.39zM410.94 977.98h2.28v2.28h-2.28zM407.63 983.07h1.81v1.81h-1.81zM408.36 990.01h1.99v1.99h-1.99zM412 910.16h1.88v1.88h-1.88zM415.29 916.1h2.32v2.32h-2.32zM414.36 917.77h1.72v1.72h-1.72zM415.24 924.25h1.76v1.76h-1.76zM413.39 928.52h2.22v2.22h-2.22zM413.91 929.38h2.56v2.56h-2.56zM416.05 941.83h1.69v1.69h-1.69zM416.35 946.63h2.01v2.01h-2.01zM414.8 950.8h2.07v2.07h-2.07zM413.15 953.58h2.01v2.01h-2.01zM412.76 958.69h1.78v1.78h-1.78zM414.2 963.63h2.51v2.51h-2.51zM411.8 971.64h2.06v2.06h-2.06zM414.86 972.78h2.59v2.59h-2.59zM412.62 977.34h1.71v1.71h-1.71zM416.81 982.02h1.73v1.73h-1.73zM413.44 986.4h1.74v1.74h-1.74zM420.35 911.76h1.88v1.88h-1.88zM419.64 916.34h2.07v2.07h-2.07zM419.01 924.1h2v2h-2zM420.8 928.1h1.99v1.99h-1.99zM417.38 934.24h1.79v1.79h-1.79zM419.64 934.66h1.76v1.76h-1.76zM418.52 945.95h2.16v2.16h-2.16zM417.78 953.64h1.98v1.98h-1.98zM418.34 957.94h1.78v1.78h-1.78zM416.22 964.58h2.21v2.21h-2.21zM416.64 969.33h2.17v2.17h-2.17zM420.89 974.91h2.4v2.4h-2.4zM421.73 980.52h2.01v2.01h-2.01zM420.23 985.06h1.76v1.76h-1.76zM417.2 986.19h2.49v2.49h-2.49zM426.38 911.34h1.82v1.82h-1.82zM424.06 915.74h2.41v2.41h-2.41zM426.52 916.97h1.8v1.8h-1.8zM425.57 925.87h2.25v2.25h-2.25zM424.21 929.29h2.43v2.43h-2.43zM421.55 936.02h1.97v1.97h-1.97zM423.45 944.09h1.92v1.92h-1.92zM422.67 946.7h1.97v1.97h-1.97zM424.28 949.09h2.32v2.32h-2.32zM423.42 953.53h2.4v2.4h-2.4zM422.07 959.21h2.46v2.46h-2.46zM425.34 964.4h2.34v2.34h-2.34zM421.12 971.06h1.83v1.83h-1.83zM422.37 973.4h2.48v2.48h-2.48zM426.48 978.45h1.63v1.63h-1.63zM422.33 988.8h1.72v1.72h-1.72zM431.17 907.5h1.79v1.79h-1.79zM430.58 916.43h1.6v1.6h-1.6zM426.08 927.47h1.94v1.94h-1.94zM428.43 930.96h1.68v1.68h-1.68zM430.99 937.59h2.09v2.09h-2.09zM428.05 940.39h1.9v1.9h-1.9zM429.88 945.62h2.53v2.53h-2.53zM429.94 953.77h1.9v1.9h-1.9zM431.2 956.37h1.68v1.68h-1.68zM429.74 957.95h2.45v2.45h-2.45zM430.37 966.54h1.97v1.97h-1.97zM430.05 972.19h1.74v1.74h-1.74zM427.97 976.6h1.71v1.71h-1.71zM425.8 986.81h1.77v1.77h-1.77zM429.25 987.5h2.53v2.53h-2.53zM431.56 909.29h1.97v1.97h-1.97zM432.69 911.63h2.19v2.19h-2.19zM433.62 919.57h1.89v1.89h-1.89zM432.51 922.4h2.18v2.18h-2.18zM433.36 929.77h1.66v1.66h-1.66zM433.88 933.93h2.08v2.08h-2.08zM434.53 937.59h2.2v2.2h-2.2zM431.64 942.28h2.6v2.6h-2.6zM435.08 949.45h2.15v2.15h-2.15zM433.87 959.36h2.03v2.03h-2.03zM429.93 967.78h2.45v2.45h-2.45zM434.71 977.36h1.68v1.68h-1.68zM435.41 980.75h2.17v2.17h-2.17zM435.19 986.09h2.06v2.06h-2.06zM430.29 987.96h2.18v2.18h-2.18zM435.9 909.41h1.64v1.64h-1.64zM435.47 918.04h2.35v2.35h-2.35zM438.46 920.34h2.13v2.13h-2.13zM437.28 927.44h2.13v2.13h-2.13zM438.63 935.61h1.95v1.95h-1.95zM439.31 941.8h2.06v2.06h-2.06zM436.17 946.56h2.04v2.04h-2.04zM440.36 953.89h1.87v1.87h-1.87zM439.2 956.48h2.17v2.17h-2.17zM439.11 957.9h2.1v2.1h-2.1zM437.97 962.58h1.68v1.68h-1.68zM436.67 972.77h1.73v1.73h-1.73zM439.19 972.88h1.97v1.97h-1.97zM438.08 977.54h2.02v2.02h-2.02zM436.29 983.49h1.66v1.66h-1.66zM437.65 990.1h1.9v1.9h-1.9zM443.37 911.16h2.32v2.32h-2.32zM442.72 912.73h2.24v2.24h-2.24zM441.37 916.16h1.79v1.79h-1.79zM442.62 919.86h2.5v2.5h-2.5zM440.48 927.68h1.66v1.66h-1.66zM444.57 937.72h2.29v2.29h-2.29zM441.1 942.54h1.83v1.83h-1.83zM442.31 947.38h1.79v1.79h-1.79zM440.65 950.05h2.31v2.31h-2.31zM439.15 954.4h2.55v2.55h-2.55zM440.42 960.47h2.11v2.11h-2.11zM441.66 963.16h2.15v2.15h-2.15zM443.84 968.95h1.93v1.93h-1.93zM442.97 977.39h1.85v1.85h-1.85zM442.15 976.17h2.41v2.41h-2.41zM439.61 985.74h1.98v1.98h-1.98zM439.68 987.58h2.54v2.54h-2.54zM444.55 908.12h1.95v1.95h-1.95zM446.29 913.03h2.09v2.09h-2.09zM445.09 917.98h2.28v2.28h-2.28zM448.11 925.23h2.38v2.38h-2.38zM448.11 926.57h2.44v2.44h-2.44zM447 930.3h2.08v2.08h-2.08zM446.3 937.2h1.93v1.93h-1.93zM448.48 942.39h2.58v2.58h-2.58zM447.31 945.47h2.14v2.14h-2.14zM446.86 953.9h1.91v1.91h-1.91zM449.06 958.31h2.02v2.02h-2.02zM446.92 957.93h2.3v2.3h-2.3zM448.81 963.28h2.48v2.48h-2.48zM448.51 971.74h2.42v2.42h-2.42zM444.64 979.32h1.94v1.94h-1.94zM446.08 987.61h2.03v2.03h-2.03zM449.23 907.5h2.11v2.11h-2.11zM451.6 916.07h1.62v1.62h-1.62zM450.29 917.7h2.48v2.48h-2.48zM451.24 925.35h2.04v2.04h-2.04zM451.31 932.66h1.9v1.9h-1.9zM453.78 939.7h1.89v1.89h-1.89zM452.87 939.01h2.21v2.21h-2.21zM450.26 947.44h2.05v2.05h-2.05zM448.78 949.47h2.49v2.49h-2.49zM449.22 956.95h1.74v1.74h-1.74zM452.57 962.7h1.73v1.73h-1.73zM449.92 967.46h2.22v2.22h-2.22zM451.3 968.1h2.41v2.41h-2.41zM451.99 972.49h1.98v1.98h-1.98zM449.13 977.22h2.15v2.15h-2.15zM453.1 986.74h2.05v2.05h-2.05zM450.72 989.15h2.24v2.24h-2.24zM455.71 907.5h2.47v2.47h-2.47zM452.99 916.19h2.44v2.44h-2.44zM454.58 916.73h2.1v2.1h-2.1zM456.47 922.76h2.33v2.33h-2.33zM453.84 926.9h2.02v2.02h-2.02zM458.62 929.7h1.62v1.62h-1.62zM456.15 935.68h1.89v1.89h-1.89zM458.34 944.34h1.64v1.64h-1.64zM453.66 946.98h2.3v2.3h-2.3zM455.47 952.56h2.4v2.4h-2.4zM454.1 958.84h1.63v1.63h-1.63zM454.11 963.26h1.74v1.74h-1.74zM453.31 966.92h2.04v2.04h-2.04zM455.07 971.74h2.02v2.02h-2.02zM455.37 981.22h2.47v2.47h-2.47zM455.52 982.17h1.93v1.93h-1.93zM452.98 989.39h2.12v2.12h-2.12zM462.33 907.94h1.95v1.95h-1.95zM458.91 915.93h2.46v2.46h-2.46zM460.7 929.22h2.22v2.22h-2.22zM459.01 934.2h2.47v2.47h-2.47zM462.89 938.51h2.5v2.5h-2.5zM462.83 941.35h2.06v2.06h-2.06zM458.37 943.91h2.07v2.07h-2.07zM460.15 950.22h1.61v1.61h-1.61zM460.18 956.61h1.96v1.96h-1.96zM458.71 959.87h2.08v2.08h-2.08zM462.81 966.65h2.54v2.54h-2.54zM459.81 974.37h1.97v1.97h-1.97zM461.22 976.88h1.61v1.61h-1.61zM461.19 985.29h2.53v2.53h-2.53zM459.03 989.04h2.51v2.51h-2.51zM464.62 907.5h2.12v2.12h-2.12zM467.5 915.41h1.63v1.63h-1.63zM465.62 923.61h2.48v2.48h-2.48zM464.17 925.23h1.99v1.99h-1.99zM464.8 931.68h1.81v1.81h-1.81zM463.27 936.07h2.59v2.59h-2.59zM462.55 942.09h1.96v1.96h-1.96zM463.95 945.23h2.4v2.4h-2.4zM462.87 948.44h2.23v2.23h-2.23zM467.68 957.68h1.85v1.85h-1.85zM463.89 957.84h1.68v1.68h-1.68zM466.32 964.28h2.16v2.16h-2.16zM465.95 969.66h2.47v2.47h-2.47zM462.22 976.79h2.11v2.11h-2.11zM467.17 984.56h1.97v1.97h-1.97zM467.03 989.2h2.59v2.59h-2.59zM471.99 910.12h1.83v1.83h-1.83zM472.32 911.07h2.01v2.01h-2.01zM471.01 916.09h2.54v2.54h-2.54zM470.56 924.13h1.82v1.82h-1.82zM467.23 926.65h2v2h-2zM470.1 932.66h2.34v2.34h-2.34zM468.23 936.11h1.62v1.62h-1.62zM469.25 945.94h1.92v1.92h-1.92zM471.93 951.41h2.12v2.12h-2.12zM470.74 953.73h2.05v2.05h-2.05zM470.75 961.3h2.56v2.56h-2.56zM470.25 964.71h1.61v1.61h-1.61zM467.12 971.01h1.99v1.99h-1.99zM472.7 977.87h1.69v1.69h-1.69zM468.72 983.63h1.62v1.62h-1.62zM471.55 908.42h2.25v2.25h-2.25zM475.88 911.82h2.02v2.02h-2.02zM475 920.97h2.09v2.09h-2.09zM476.55 922.76h2.33v2.33h-2.33zM473.9 924.73h2.38v2.38h-2.38zM475.86 930.55h1.74v1.74h-1.74zM472.97 937.36h2.12v2.12h-2.12zM475.01 944.31h1.92v1.92h-1.92zM476.5 946.91h2.48v2.48h-2.48zM474.49 954.16h1.83v1.83h-1.83zM471.64 962.06h2.57v2.57h-2.57zM473.99 964.3h2.12v2.12h-2.12zM473.18 968.2h2.19v2.19h-2.19zM475.18 974.97h1.79v1.79h-1.79zM474.92 977.57h2.24v2.24h-2.24zM476.18 986.53h1.7v1.7h-1.7zM473.23 988.85h2.11v2.11h-2.11zM479.39 907.5h2.1v2.1h-2.1zM480.1 912.19h2.15v2.15h-2.15zM476.77 917.06h1.93v1.93h-1.93zM478.67 923.09h1.97v1.97h-1.97zM479.92 929.78h2.22v2.22h-2.22zM480.08 931.91h2.17v2.17h-2.17zM479.87 937.67h1.68v1.68h-1.68zM477.63 943.38h1.67v1.67h-1.67zM477.3 948.73h2.27v2.27h-2.27zM479.81 951.83h2.44v2.44h-2.44zM476.66 957.12h2.26v2.26h-2.26zM479.67 961.8h2.21v2.21h-2.21zM480.51 967.01h1.74v1.74h-1.74zM476.61 968.32h2.15v2.15h-2.15zM480.16 977.1h2.09v2.09h-2.09zM477.98 976.94h1.92v1.92h-1.92zM479.32 983.5h1.98v1.98h-1.98zM478.3 988.44h2.36v2.36h-2.36z" fill="#2a2cff" filter="url(#b0)"/>
<path d="M426.95 923.68h2.55v2.55h-2.55zM429.93 930.29h2.74v2.74h-2.74zM450.16 930.12h2.34v2.34h-2.34zM439.68 965.3h2.73v2.73h-2.73zM450.6 979.76h2.81v2.81h-2.81zM435.3 968.01h2.73v2.73h-2.73zM427.52 923.04h2.5v2.5h-2.5zM456.54 968.4h2.44v2.44h-2.44zM442.95 915.85h2.68v2.68h-2.68zM435.82 969.73h2.89v2.89h-2.89zM405.3 985.06h2.34v2.34h-2.34zM475.47 986.63h2.38v2.38h-2.38zM423.71 921.33h2.93v2.93h-2.93zM459.51 985.15h2.85v2.85h-2.85zM428.95 970.21h2.48v2.48h-2.48z" fill="#c834a2" filter="url(#b0)"/>
</g>
<text class="se" x="352.5" y="720" font-size="14.5" text-anchor="middle">DMSO</text>
<text class="se" x="436" y="720" font-size="14.5" text-anchor="middle">TSA</text>
<text class="se" font-size="15.5" text-anchor="middle" transform="translate(301 767) rotate(-90)">Hoechst</text>
<text class="se" font-size="15.5" text-anchor="middle" transform="translate(301 859.5) rotate(-90)">EdU</text>
<text class="se" font-size="15.5" text-anchor="middle" transform="translate(301 949.5) rotate(-90)">Merge</text>
<rect x="561.25" y="777.5" width="26.25" height="157" fill="#0000FF"/>
<path d="M574.38 777.5V770.5M568.47 770.5H580.28" stroke="#0000FF" stroke-width="1.2" fill="none"/>
<rect x="602" y="840" width="26.25" height="94.5" fill="#FF0000"/>
<path d="M615.12 840V833.75M609.22 833.75H621.03" stroke="#FF0000" stroke-width="1.2" fill="none"/>
<path d="M547.5 759.95V934.5H642.5M542.5 760.75H547.5M542.5 819.25H547.5M542.5 877H547.5M542.5 934.5H547.5M574.38 934.5V940.5M615.12 934.5V940.5" stroke="#1a1a1a" stroke-width="1.6" fill="none"/>
<text class="se" x="539.5" y="764.22" font-size="10.5" text-anchor="end">15</text>
<text class="se" x="539.5" y="822.72" font-size="10.5" text-anchor="end">10</text>
<text class="se" x="539.5" y="880.47" font-size="10.5" text-anchor="end">5</text>
<text class="se" x="539.5" y="937.97" font-size="10.5" text-anchor="end">0</text>
<path d="M573.75 760L618.75 760" stroke="#1a1a1a" stroke-width="1.5"/>
<text class="se" x="596" y="755.65" font-size="15" text-anchor="middle">**</text>
<text class="se" font-size="18.5" transform="translate(502.5 915.5) rotate(-90)">Number of EdU</text>
<text class="se" font-size="18.5" transform="translate(525 915.5) rotate(-90)">positive cells (%)</text>
<text class="se" x="568.75" y="962.5" font-size="16" text-anchor="middle">DMSO</text>
<text class="se" x="618.75" y="962.5" font-size="16" text-anchor="middle">TSA</text>
<clipPath id="fl7"><rect x="290" y="1342" width="88.25" height="87.5"/></clipPath><g clip-path="url(#fl7)">
<rect x="290" y="1342" width="88.25" height="87.5" fill="#010108"/>
<path d="M310.21 1392.12h3.11v3.11h-3.11zM328.51 1377.33h3.74v3.74h-3.74zM368.48 1344.78h2.58v2.58h-2.58zM361.27 1353h3.24v3.24h-3.24zM370.4 1394.89h3.6v3.6h-3.6zM299.02 1378.42h3.68v3.68h-3.68zM362.25 1366.99h2.72v2.72h-2.72zM375.01 1413.86h3.18v3.18h-3.18zM328.23 1382.78h3.96v3.96h-3.96zM330.55 1366.42h3.59v3.59h-3.59zM302.47 1373.82h3.11v3.11h-3.11zM370.88 1394.36h3.98v3.98h-3.98zM318.77 1349.51h3.25v3.25h-3.25zM356.74 1415.37h2.91v2.91h-2.91zM356.98 1407.45h3.04v3.04h-3.04zM346.25 1405.78h3.54v3.54h-3.54zM350.02 1365.72h3.05v3.05h-3.05zM355.45 1400.22h3.23v3.23h-3.23zM370.66 1396.94h2.94v2.94h-2.94zM290.98 1388.02h3.37v3.37h-3.37zM347.34 1381.18h2.88v2.88h-2.88zM344.72 1408.82h3.73v3.73h-3.73zM344.89 1404.33h3.02v3.02h-3.02zM319.58 1412.6h3.74v3.74h-3.74zM348.13 1423.7h3.8v3.8h-3.8zM333.69 1386.23h3.93v3.93h-3.93zM361.53 1421.44h2.75v2.75h-2.75zM348.79 1402.66h3.22v3.22h-3.22zM304.55 1407.48h3.6v3.6h-3.6zM346.49 1377.4h3.37v3.37h-3.37zM355.71 1395.54h3.44v3.44h-3.44zM292.34 1355.43h3.58v3.58h-3.58zM345.32 1360.47h3.16v3.16h-3.16zM343.45 1345.52h3.53v3.53h-3.53zM309.24 1346.56h3.21v3.21h-3.21zM317.15 1357.4h2.7v2.7h-2.7zM293.05 1381.42h2.79v2.79h-2.79zM342.11 1391.83h3.07v3.07h-3.07zM367.13 1342.06h2.86v2.86h-2.86zM313.71 1376.6h3.11v3.11h-3.11zM361.15 1373.72h2.67v2.67h-2.67zM342.58 1350.05h2.55v2.55h-2.55zM318.82 1390.9h3.32v3.32h-3.32zM359.01 1377.02h3.94v3.94h-3.94zM344.29 1372.95h3.72v3.72h-3.72zM340.97 1389.81h2.71v2.71h-2.71zM371.62 1392.86h3.94v3.94h-3.94zM366.14 1342.08h3.03v3.03h-3.03zM338.43 1394.19h2.66v2.66h-2.66zM343.84 1417.57h2.71v2.71h-2.71zM326.77 1361.11h3.06v3.06h-3.06zM372.96 1374.12h2.94v2.94h-2.94zM367.04 1391.78h3.94v3.94h-3.94zM373.74 1383.99h2.89v2.89h-2.89zM317.17 1425.05h3.12v3.12h-3.12zM314.35 1382.19h3.24v3.24h-3.24zM343.2 1379.61h2.68v2.68h-2.68zM356.69 1411.91h2.94v2.94h-2.94zM335.66 1365.27h2.52v2.52h-2.52zM355.95 1362.54h3.9v3.9h-3.9zM303.21 1425.65h2.9v2.9h-2.9zM341.87 1382.13h2.94v2.94h-2.94zM341.2 1404.48h3.47v3.47h-3.47zM355.07 1367.51h2.68v2.68h-2.68zM318.55 1366.99h3.3v3.3h-3.3zM329.45 1372.4h3.29v3.29h-3.29zM340 1345.06h3.62v3.62h-3.62zM328.9 1419.56h2.88v2.88h-2.88zM336.06 1343.22h3.83v3.83h-3.83zM326.18 1390.26h3.67v3.67h-3.67zM343.54 1382.45h3.56v3.56h-3.56zM322.53 1374.77h3.87v3.87h-3.87zM306.6 1366.82h3.78v3.78h-3.78zM295.58 1412.04h3.75v3.75h-3.75zM326.66 1366.04h3.54v3.54h-3.54zM367.02 1353.96h3.67v3.67h-3.67zM336.69 1383.95h3.22v3.22h-3.22zM303.09 1391.51h3v3h-3zM295.78 1361.27h3.72v3.72h-3.72zM356.92 1397.59h3.73v3.73h-3.73zM351.94 1425.15h2.54v2.54h-2.54zM349.08 1346.08h4v4h-4zM308.52 1396.07h3.76v3.76h-3.76zM350.07 1353.25h3.93v3.93h-3.93zM368.32 1354.66h2.94v2.94h-2.94zM325.12 1355.55h3.42v3.42h-3.42zM293.69 1351.1h3.43v3.43h-3.43zM296.13 1346.86h3.07v3.07h-3.07zM353.01 1415.91h3.36v3.36h-3.36zM326.93 1368.68h2.7v2.7h-2.7zM331.54 1420.93h3.4v3.4h-3.4zM294.75 1400.88h3.06v3.06h-3.06zM343.99 1384.88h2.73v2.73h-2.73zM336.82 1393.93h3.87v3.87h-3.87zM337.09 1363.51h2.89v2.89h-2.89zM333.75 1353.22h3.63v3.63h-3.63zM321.7 1404.36h2.85v2.85h-2.85zM350.97 1397.5h2.77v2.77h-2.77zM347.19 1349.74h2.63v2.63h-2.63zM340.82 1362.24h2.69v2.69h-2.69zM330.57 1369.05h3.82v3.82h-3.82zM292.49 1402.76h3.69v3.69h-3.69zM302.92 1422.85h2.58v2.58h-2.58zM308.9 1351.75h3.52v3.52h-3.52zM346.06 1410.55h3.96v3.96h-3.96zM343.45 1372.04h2.71v2.71h-2.71zM318.46 1393.95h2.85v2.85h-2.85zM322.88 1353.52h3.02v3.02h-3.02zM344.75 1409.38h3.75v3.75h-3.75zM362.47 1385.65h3.15v3.15h-3.15zM338.65 1404.26h3.39v3.39h-3.39zM298.26 1344.8h3.09v3.09h-3.09zM293.37 1417.32h2.8v2.8h-2.8zM354.65 1342.04h3.22v3.22h-3.22zM365.67 1394.22h3.21v3.21h-3.21zM329.62 1350.41h3.14v3.14h-3.14zM303.6 1373.76h2.73v2.73h-2.73zM364.98 1354.84h3.08v3.08h-3.08zM313.68 1355.67h2.88v2.88h-2.88zM310.06 1382.77h2.93v2.93h-2.93zM369.23 1373.34h2.55v2.55h-2.55zM348 1398.33h3.91v3.91h-3.91zM370.4 1351.94h3.21v3.21h-3.21zM314.67 1398.65h3.5v3.5h-3.5zM303.82 1358.87h3.59v3.59h-3.59zM309.75 1348.64h2.54v2.54h-2.54zM372.9 1372.74h3.1v3.1h-3.1zM329.92 1365.93h2.97v2.97h-2.97zM350.77 1355.71h3.6v3.6h-3.6zM347.4 1421.6h2.86v2.86h-2.86zM326.51 1423.97h3.47v3.47h-3.47zM295.22 1408.23h2.51v2.51h-2.51zM293.83 1388.28h3.12v3.12h-3.12zM333.73 1371.23h3.98v3.98h-3.98zM296.1 1418.27h2.64v2.64h-2.64zM369.55 1346.53h3.24v3.24h-3.24zM294.31 1375.63h2.87v2.87h-2.87zM311.88 1376.6h2.59v2.59h-2.59zM294.38 1345.18h2.96v2.96h-2.96zM305.12 1384.49h3.96v3.96h-3.96zM335.24 1349.12h3.1v3.1h-3.1zM299.21 1387.81h2.97v2.97h-2.97zM340.48 1413.64h3.88v3.88h-3.88zM291.49 1387.7h2.82v2.82h-2.82zM338.58 1373.74h3.23v3.23h-3.23zM351.54 1418.75h3.44v3.44h-3.44zM328.3 1411.86h2.96v2.96h-2.96z" fill="#1212b0" opacity="0.5" filter="url(#bd)"/>
<path d="M290.21 1342h1.82v1.82h-1.82zM290 1345.08h2.52v2.52h-2.52zM290.84 1356.09h1.78v1.78h-1.78zM292.27 1357.53h1.76v1.76h-1.76zM290.45 1361.85h1.99v1.99h-1.99zM292.41 1368.37h2.01v2.01h-2.01zM292.28 1372.46h2.35v2.35h-2.35zM291.65 1378.51h2.52v2.52h-2.52zM290 1382h2.4v2.4h-2.4zM290 1383.13h1.83v1.83h-1.83zM290 1386.47h2.38v2.38h-2.38zM290 1390.63h2.26v2.26h-2.26zM292.95 1399.54h2.06v2.06h-2.06zM290.77 1400.74h1.93v1.93h-1.93zM291.68 1407.42h1.71v1.71h-1.71zM291.36 1408.15h1.8v1.8h-1.8zM293.31 1415.37h2.15v2.15h-2.15zM290.59 1421.6h2.61v2.61h-2.61zM293.14 1426.35h2.47v2.47h-2.47zM293.09 1344.56h2.3v2.3h-2.3zM297.92 1344.96h1.75v1.75h-1.75zM297.2 1350.77h2.18v2.18h-2.18zM293.76 1355.92h1.98v1.98h-1.98zM293.73 1358.76h2.45v2.45h-2.45zM296.74 1365.38h2.68v2.68h-2.68zM293.39 1369.75h2.1v2.1h-2.1zM293.71 1370.31h1.74v1.74h-1.74zM293.44 1377.65h2.6v2.6h-2.6zM297 1381.03h2.38v2.38h-2.38zM292.71 1384.77h2.08v2.08h-2.08zM294.78 1388.03h1.88v1.88h-1.88zM295.14 1398.26h2.08v2.08h-2.08zM296.61 1403.27h2.68v2.68h-2.68zM295.31 1406.94h2.37v2.37h-2.37zM296.09 1409.72h2.29v2.29h-2.29zM293.26 1413.28h1.78v1.78h-1.78zM296.19 1416.86h2.46v2.46h-2.46zM296.44 1420.05h1.97v1.97h-1.97zM297.5 1427.13h2.37v2.37h-2.37zM300.48 1343.39h2.54v2.54h-2.54zM301.46 1345.79h2.22v2.22h-2.22zM298.83 1348.73h2.24v2.24h-2.24zM300.36 1357.71h1.88v1.88h-1.88zM298.76 1357.57h2.31v2.31h-2.31zM300.5 1363.14h2.25v2.25h-2.25zM298.54 1366.93h1.91v1.91h-1.91zM297.47 1372.64h2.6v2.6h-2.6zM297.26 1376.79h1.92v1.92h-1.92zM300.4 1379.86h2.58v2.58h-2.58zM301.5 1383.61h2.23v2.23h-2.23zM301.78 1387.15h2.31v2.31h-2.31zM297.71 1399.66h2.3v2.3h-2.3zM300.32 1406.59h2.35v2.35h-2.35zM301.62 1412.71h2.53v2.53h-2.53zM301.56 1416.51h2.35v2.35h-2.35zM299.11 1419.92h2.54v2.54h-2.54zM297.46 1424.69h1.86v1.86h-1.86zM305.15 1344.4h1.8v1.8h-1.8zM304.57 1349.19h2.5v2.5h-2.5zM305.97 1349.2h2.33v2.33h-2.33zM303.46 1364.81h2.07v2.07h-2.07zM303.31 1368.42h1.78v1.78h-1.78zM304.31 1371.69h1.82v1.82h-1.82zM306.02 1378.62h2.2v2.2h-2.2zM302.43 1382.56h2.42v2.42h-2.42zM304.92 1391.05h2.05v2.05h-2.05zM303.71 1394.11h1.99v1.99h-1.99zM302.51 1396.27h2.28v2.28h-2.28zM301.26 1400.9h2.22v2.22h-2.22zM301.3 1404.22h2.37v2.37h-2.37zM303.58 1412.99h2.68v2.68h-2.68zM303.06 1419.79h1.79v1.79h-1.79zM301.16 1425.1h2.06v2.06h-2.06zM307.96 1342h2.08v2.08h-2.08zM307.27 1346.77h2.67v2.67h-2.67zM308.56 1355.3h2.65v2.65h-2.65zM307.33 1364.16h2.48v2.48h-2.48zM308.45 1365.51h2.35v2.35h-2.35zM309.8 1378.04h2.11v2.11h-2.11zM310.47 1381.87h2.08v2.08h-2.08zM309.45 1384.42h1.85v1.85h-1.85zM306.09 1388.16h2.69v2.69h-2.69zM306.71 1393.86h2.17v2.17h-2.17zM307.76 1395.11h1.87v1.87h-1.87zM309.62 1399.55h2.6v2.6h-2.6zM308.1 1407.54h2.66v2.66h-2.66zM309.88 1411.18h2.62v2.62h-2.62zM306.63 1419.33h2.13v2.13h-2.13zM305.86 1422.11h2.48v2.48h-2.48zM305.57 1424.21h2.4v2.4h-2.4zM311.39 1342.93h2.07v2.07h-2.07zM310.43 1347.27h2.67v2.67h-2.67zM313.2 1349.4h2.25v2.25h-2.25zM309.35 1356.78h2.41v2.41h-2.41zM312.59 1361.16h2.2v2.2h-2.2zM311.65 1367.42h1.74v1.74h-1.74zM312.85 1378.54h2.15v2.15h-2.15zM313.11 1382.73h2.23v2.23h-2.23zM310.74 1382.68h2.69v2.69h-2.69zM311.96 1390.25h1.78v1.78h-1.78zM314.28 1392h2.09v2.09h-2.09zM309.96 1396.22h2.53v2.53h-2.53zM310.46 1401.05h2.27v2.27h-2.27zM314.63 1412.77h1.84v1.84h-1.84zM313.13 1416.61h2.48v2.48h-2.48zM311.37 1422.75h2.33v2.33h-2.33zM314.09 1426.12h1.96v1.96h-1.96zM314.49 1342h1.88v1.88h-1.88zM313.63 1344.76h2.26v2.26h-2.26zM318.15 1348.94h2.19v2.19h-2.19zM317.56 1356.25h1.82v1.82h-1.82zM318.69 1357.78h1.92v1.92h-1.92zM314.16 1367.98h1.79v1.79h-1.79zM317.17 1369.73h2.59v2.59h-2.59zM314.07 1377.46h2.54v2.54h-2.54zM313.72 1381.92h2v2h-2zM315.83 1382.67h2.6v2.6h-2.6zM318.66 1387.41h1.96v1.96h-1.96zM316.04 1397.99h1.78v1.78h-1.78zM314.5 1401.43h1.87v1.87h-1.87zM316.62 1407.64h2.15v2.15h-2.15zM316.3 1409.95h1.97v1.97h-1.97zM317.03 1413.37h2.26v2.26h-2.26zM314.97 1415.79h2.54v2.54h-2.54zM318.32 1421h2.06v2.06h-2.06zM318.52 1424.26h2.34v2.34h-2.34zM318.43 1343.75h2.04v2.04h-2.04zM318.03 1349.55h2.28v2.28h-2.28zM321.52 1350.01h2.34v2.34h-2.34zM318.4 1353.32h2.03v2.03h-2.03zM322.39 1357.44h2.11v2.11h-2.11zM322.89 1365.48h1.88v1.88h-1.88zM318.35 1367.55h2.21v2.21h-2.21zM320.99 1371.3h1.73v1.73h-1.73zM322.53 1380.09h2.63v2.63h-2.63zM320.81 1386.86h1.81v1.81h-1.81zM320.07 1391.78h2.24v2.24h-2.24zM319.81 1395.41h2.67v2.67h-2.67zM319.59 1401.8h2.62v2.62h-2.62zM322.13 1405.72h2.03v2.03h-2.03zM322.93 1409.7h1.75v1.75h-1.75zM320.59 1413.61h2.62v2.62h-2.62zM319.03 1417.71h2.44v2.44h-2.44zM318.46 1420.56h2.3v2.3h-2.3zM318.23 1427.07h2.43v2.43h-2.43zM322.65 1342.87h1.87v1.87h-1.87zM322.69 1348h2.56v2.56h-2.56zM324 1353.3h1.95v1.95h-1.95zM326.19 1358.99h1.82v1.82h-1.82zM324.49 1365.68h2.34v2.34h-2.34zM323.86 1370.04h1.98v1.98h-1.98zM324.22 1374.65h2.12v2.12h-2.12zM325.88 1377.42h2.36v2.36h-2.36zM326.55 1385.58h2.01v2.01h-2.01zM325.37 1387.82h2.54v2.54h-2.54zM325.72 1393.57h2.21v2.21h-2.21zM324.76 1394.74h1.86v1.86h-1.86zM326.24 1398.82h2.47v2.47h-2.47zM322.65 1403.96h2.18v2.18h-2.18zM323.08 1411.17h2.55v2.55h-2.55zM325.43 1412.47h2.08v2.08h-2.08zM325.68 1418.65h1.71v1.71h-1.71zM324.28 1421.15h2.2v2.2h-2.2zM325.19 1427.43h2.07v2.07h-2.07zM326.44 1342h2.39v2.39h-2.39zM326.69 1344.82h1.85v1.85h-1.85zM328.8 1351.2h1.81v1.81h-1.81zM328.95 1353.04h2.18v2.18h-2.18zM329.33 1361.25h2.47v2.47h-2.47zM330.54 1364.32h2.42v2.42h-2.42zM327.02 1369.66h2.69v2.69h-2.69zM328.34 1374.39h1.8v1.8h-1.8zM328.7 1379.7h1.7v1.7h-1.7zM327.14 1387.05h2.09v2.09h-2.09zM327.25 1388.22h2.39v2.39h-2.39zM326.4 1392.8h2.11v2.11h-2.11zM330.6 1398h2.39v2.39h-2.39zM330.81 1402.65h2.57v2.57h-2.57zM329.57 1407.38h2.36v2.36h-2.36zM327.24 1408.79h2.14v2.14h-2.14zM330.14 1412.13h2.38v2.38h-2.38zM327.95 1415.72h2.54v2.54h-2.54zM327.04 1421.12h2.06v2.06h-2.06zM331 1342h2.13v2.13h-2.13zM334.54 1346.02h2.66v2.66h-2.66zM331.41 1348.98h1.78v1.78h-1.78zM332.78 1361.09h2.46v2.46h-2.46zM333.38 1363.8h2.62v2.62h-2.62zM332.75 1369.69h2.13v2.13h-2.13zM334.78 1370.04h1.99v1.99h-1.99zM334.03 1376.94h1.92v1.92h-1.92zM332.14 1386.54h2.11v2.11h-2.11zM334.05 1386.97h2.01v2.01h-2.01zM333.97 1395.34h1.78v1.78h-1.78zM333.32 1397.22h1.74v1.74h-1.74zM332.04 1401.23h1.85v1.85h-1.85zM332.06 1407.66h1.94v1.94h-1.94zM331.72 1411.51h2.63v2.63h-2.63zM330.66 1416.95h2.65v2.65h-2.65zM332.73 1419.98h2.38v2.38h-2.38zM334.08 1426.16h2.03v2.03h-2.03zM336.03 1342.1h1.76v1.76h-1.76zM337.08 1346.2h2.52v2.52h-2.52zM337.42 1350.89h2.55v2.55h-2.55zM336.68 1355.05h2.32v2.32h-2.32zM339.23 1358.68h2.14v2.14h-2.14zM337.65 1362.09h2.3v2.3h-2.3zM334.72 1365.85h2.43v2.43h-2.43zM334.77 1369.78h2.61v2.61h-2.61zM338.15 1374.02h1.98v1.98h-1.98zM336.52 1381.65h1.86v1.86h-1.86zM338.83 1385.09h2.55v2.55h-2.55zM337.26 1388.05h1.88v1.88h-1.88zM339.43 1392.51h1.81v1.81h-1.81zM339.3 1396.36h2.64v2.64h-2.64zM335.05 1402.35h2.7v2.7h-2.7zM336.09 1403.82h2.16v2.16h-2.16zM336.5 1408.17h2.63v2.63h-2.63zM337.85 1413.61h2.14v2.14h-2.14zM339.12 1419.04h1.74v1.74h-1.74zM337.65 1422.17h2.2v2.2h-2.2zM336.08 1425.34h2.48v2.48h-2.48zM343.86 1342h1.86v1.86h-1.86zM341.68 1344.92h1.97v1.97h-1.97zM342.69 1349.63h2.69v2.69h-2.69zM339.69 1354.12h1.73v1.73h-1.73zM340.21 1357.5h2.01v2.01h-2.01zM343.5 1369.6h2.44v2.44h-2.44zM339.83 1371.08h1.96v1.96h-1.96zM341.27 1377.84h2.42v2.42h-2.42zM343.08 1385.66h2.55v2.55h-2.55zM341.52 1388.01h2.61v2.61h-2.61zM339.12 1391.85h1.98v1.98h-1.98zM339.43 1396.03h1.82v1.82h-1.82zM341.13 1402.83h2.66v2.66h-2.66zM340.46 1404.88h2.29v2.29h-2.29zM343.21 1411.08h2.33v2.33h-2.33zM339.05 1414.43h1.85v1.85h-1.85zM340.65 1416.83h1.71v1.71h-1.71zM341.79 1420.94h2.36v2.36h-2.36zM343.77 1424.49h1.91v1.91h-1.91zM346.74 1342.81h2.4v2.4h-2.4zM346.56 1344.91h2.33v2.33h-2.33zM345.89 1349.24h2.17v2.17h-2.17zM345.58 1355.67h2.05v2.05h-2.05zM346.04 1360.29h2v2h-2zM344.57 1363.76h2.01v2.01h-2.01zM343.65 1367.63h2.34v2.34h-2.34zM343.71 1374.52h1.89v1.89h-1.89zM343.29 1379.4h1.99v1.99h-1.99zM347.82 1382.53h2.1v2.1h-2.1zM346.19 1386.24h2.39v2.39h-2.39zM347.8 1392.79h1.98v1.98h-1.98zM345.56 1395.35h2.18v2.18h-2.18zM345.4 1401.4h2.42v2.42h-2.42zM345.99 1402.9h2.66v2.66h-2.66zM344.67 1410.52h2.36v2.36h-2.36zM346.17 1414.64h2.32v2.32h-2.32zM346.62 1418.93h2.41v2.41h-2.41zM346.2 1419.82h2.31v2.31h-2.31zM345.73 1426.58h1.93v1.93h-1.93zM349.54 1345.12h2.47v2.47h-2.47zM352.36 1346.21h2.27v2.27h-2.27zM347.44 1352.52h2.66v2.66h-2.66zM351.32 1357.32h2.24v2.24h-2.24zM350.44 1360.68h2.19v2.19h-2.19zM351.39 1361.42h2.5v2.5h-2.5zM351.95 1369.1h2.61v2.61h-2.61zM349.86 1372.88h2.47v2.47h-2.47zM350.77 1378.56h2.57v2.57h-2.57zM350.66 1380.81h2.19v2.19h-2.19zM349.92 1386.54h2.02v2.02h-2.02zM348.46 1391.73h2.63v2.63h-2.63zM350.84 1397.63h1.94v1.94h-1.94zM348.95 1400.08h2.18v2.18h-2.18zM348.1 1403.92h1.7v1.7h-1.7zM352 1408.76h2.47v2.47h-2.47zM350.61 1413.81h1.99v1.99h-1.99zM348.1 1423.74h1.97v1.97h-1.97zM354.13 1344.78h2.47v2.47h-2.47zM351.44 1348.97h2.65v2.65h-2.65zM353.03 1354.09h1.7v1.7h-1.7zM355.54 1352.81h2.44v2.44h-2.44zM356.19 1361.78h2.17v2.17h-2.17zM354.08 1362.56h2.69v2.69h-2.69zM353.78 1371.16h2.22v2.22h-2.22zM353.05 1377.76h2.18v2.18h-2.18zM352.01 1379.17h2.12v2.12h-2.12zM354.1 1385.48h2.32v2.32h-2.32zM353.33 1386.98h2.22v2.22h-2.22zM351.53 1398.1h2.11v2.11h-2.11zM353.2 1401.41h1.93v1.93h-1.93zM353.77 1403.08h2.55v2.55h-2.55zM352.91 1414.88h2.28v2.28h-2.28zM354.68 1419.61h2.64v2.64h-2.64zM354.36 1424.64h2.54v2.54h-2.54zM358.57 1342h1.76v1.76h-1.76zM360.13 1346.91h2.6v2.6h-2.6zM360.76 1353.39h1.83v1.83h-1.83zM356.99 1357.77h2.59v2.59h-2.59zM359.78 1361.68h2.62v2.62h-2.62zM357.3 1364.83h1.77v1.77h-1.77zM355.75 1367.11h2.38v2.38h-2.38zM356.97 1372.4h1.87v1.87h-1.87zM357.9 1378.74h1.97v1.97h-1.97zM360.37 1377.93h2.45v2.45h-2.45zM356.86 1386.09h1.8v1.8h-1.8zM358.06 1389.91h2.31v2.31h-2.31zM356.93 1391.14h1.89v1.89h-1.89zM357.23 1400.64h2.65v2.65h-2.65zM358.06 1403.64h2.48v2.48h-2.48zM355.66 1409.22h2.63v2.63h-2.63zM357.43 1412.7h2.34v2.34h-2.34zM358.2 1417.87h2.31v2.31h-2.31zM360.58 1421.85h2.17v2.17h-2.17zM358.66 1426.56h2.63v2.63h-2.63zM360.74 1342.45h2.41v2.41h-2.41zM363.66 1346.5h1.72v1.72h-1.72zM360.19 1352.44h1.73v1.73h-1.73zM363.39 1357.62h2.14v2.14h-2.14zM365.13 1358.16h1.92v1.92h-1.92zM361.26 1365.75h2.34v2.34h-2.34zM360.45 1369.6h2.41v2.41h-2.41zM363.62 1371.17h2.32v2.32h-2.32zM365.02 1377.22h2.03v2.03h-2.03zM363.22 1379.22h2.26v2.26h-2.26zM364.88 1393.56h2.3v2.3h-2.3zM362.18 1396.5h2.69v2.69h-2.69zM363.86 1401.77h2.07v2.07h-2.07zM362.35 1406.54h2.66v2.66h-2.66zM362.79 1407.61h2.29v2.29h-2.29zM361.54 1411.78h2.43v2.43h-2.43zM363.69 1417.28h2.45v2.45h-2.45zM360.83 1422.89h2.46v2.46h-2.46zM359.96 1426.9h1.97v1.97h-1.97zM369.12 1342h2.29v2.29h-2.29zM367.09 1346.16h2.14v2.14h-2.14zM367.18 1353.41h2.25v2.25h-2.25zM367.43 1356.14h2.2v2.2h-2.2zM367.71 1359.18h1.97v1.97h-1.97zM367.69 1368.86h2.06v2.06h-2.06zM365.58 1371.22h2.52v2.52h-2.52zM366.17 1378.24h2.38v2.38h-2.38zM368.44 1382.89h2.56v2.56h-2.56zM368.9 1387.91h2.23v2.23h-2.23zM369.13 1392.08h2.34v2.34h-2.34zM367.79 1395.12h1.82v1.82h-1.82zM365.21 1403.82h1.85v1.85h-1.85zM365.71 1404.03h2.45v2.45h-2.45zM364.8 1411.5h2.68v2.68h-2.68zM365.33 1414.92h2.38v2.38h-2.38zM365.14 1418.5h2.29v2.29h-2.29zM364.77 1420.57h2.29v2.29h-2.29zM364.27 1425.89h1.75v1.75h-1.75zM368.63 1343.29h2.19v2.19h-2.19zM371.36 1347.38h2.02v2.02h-2.02zM371.53 1351.61h2.28v2.28h-2.28zM369.04 1357.57h1.8v1.8h-1.8zM373.15 1360.46h1.71v1.71h-1.71zM370.1 1361.72h2.4v2.4h-2.4zM370.59 1366.69h2.41v2.41h-2.41zM370.44 1370.43h2.64v2.64h-2.64zM368.92 1374.51h2.68v2.68h-2.68zM370.77 1381.49h2.09v2.09h-2.09zM369.26 1383.16h2.29v2.29h-2.29zM372.94 1387.01h2.13v2.13h-2.13zM370.15 1391.07h1.96v1.96h-1.96zM369.89 1398.65h2.68v2.68h-2.68zM369.1 1400.86h2.4v2.4h-2.4zM370.11 1403.88h1.95v1.95h-1.95zM369.75 1408.37h2.22v2.22h-2.22zM370.72 1411.81h1.81v1.81h-1.81zM372.39 1416.9h1.96v1.96h-1.96zM372.86 1420.52h2.65v2.65h-2.65zM372.86 1426.15h2.17v2.17h-2.17zM376.29 1342.42h1.96v1.96h-1.96zM374.57 1344.62h2.41v2.41h-2.41zM374.41 1351.79h2.12v2.12h-2.12zM375.66 1360.43h2.59v2.59h-2.59zM375.95 1365.26h2.3v2.3h-2.3zM376.05 1368.25h2.2v2.2h-2.2zM376 1372.19h2.01v2.01h-2.01zM375.55 1378.4h2.7v2.7h-2.7zM375.19 1387.4h2.53v2.53h-2.53zM373.38 1398.6h1.83v1.83h-1.83zM375.84 1399.57h1.87v1.87h-1.87zM375.9 1406.58h2.35v2.35h-2.35zM374.76 1409.15h1.97v1.97h-1.97zM374.51 1415.16h2.61v2.61h-2.61zM373.75 1418.59h1.78v1.78h-1.78zM373.88 1421.65h1.93v1.93h-1.93zM376.13 1426.92h2.12v2.12h-2.12z" fill="#2a2cff" filter="url(#b0)"/>
</g>
<clipPath id="fl8"><rect x="290" y="1433.75" width="88.25" height="87.5"/></clipPath><g clip-path="url(#fl8)">
<rect x="290" y="1433.75" width="88.25" height="87.5" fill="#030000"/>
<path d="M343.23 1496.09h2.92v2.92h-2.92zM369.52 1495.94h3.03v3.03h-3.03zM294.39 1473.86h3.05v3.05h-3.05zM345.38 1508.9h2.3v2.3h-2.3zM330.58 1456.22h2.69v2.69h-2.69zM339.21 1437.43h2.4v2.4h-2.4zM314.99 1510.14h2.89v2.89h-2.89zM305.13 1500.55h2.32v2.32h-2.32zM342.79 1446.57h2.2v2.2h-2.2zM363.67 1453.24h2.39v2.39h-2.39zM372.8 1506.6h2.46v2.46h-2.46zM371.08 1479.78h2.81v2.81h-2.81zM308.84 1512.12h2.82v2.82h-2.82zM371.5 1508.32h2.47v2.47h-2.47zM321.71 1449.73h2.33v2.33h-2.33zM297.36 1460.63h2.74v2.74h-2.74zM292.28 1490.95h2.5v2.5h-2.5zM317.49 1502.27h2.63v2.63h-2.63zM317.97 1475.11h2.83v2.83h-2.83zM296.69 1514.87h2.22v2.22h-2.22zM353.67 1504.39h2.22v2.22h-2.22zM356.79 1465.85h2.72v2.72h-2.72zM292.75 1440.14h2.36v2.36h-2.36zM370.56 1452.19h2.88v2.88h-2.88zM368.46 1512.21h2.51v2.51h-2.51zM321.18 1478.61h2.9v2.9h-2.9zM300.89 1496.62h2.92v2.92h-2.92zM362.71 1439.32h3.05v3.05h-3.05zM299.5 1463.8h2.75v2.75h-2.75zM367.51 1463.74h3.03v3.03h-3.03zM336.84 1461.53h2.49v2.49h-2.49zM306.6 1442.67h2.33v2.33h-2.33zM348.68 1516.61h2.35v2.35h-2.35zM295.99 1515.8h2.68v2.68h-2.68z" fill="#e01a1a" filter="url(#b0)"/>
</g>
<clipPath id="fl9"><rect x="290" y="1527" width="88.25" height="86.75"/></clipPath><g clip-path="url(#fl9)">
<rect x="290" y="1527" width="88.25" height="86.75" fill="#010108"/>
<path d="M319.36 1569.56h2.92v2.92h-2.92zM323.52 1532.45h2.74v2.74h-2.74zM363.51 1601.84h3.48v3.48h-3.48zM322.64 1573.67h3.4v3.4h-3.4zM304.99 1572.08h3.33v3.33h-3.33zM306.77 1563.98h3.25v3.25h-3.25zM344.2 1554.31h3.75v3.75h-3.75zM343.82 1573.37h2.86v2.86h-2.86zM330.19 1561.09h2.95v2.95h-2.95zM364.49 1558.06h3.44v3.44h-3.44zM337.74 1582.68h3.31v3.31h-3.31zM311.08 1604.38h2.87v2.87h-2.87zM348.25 1548.86h2.72v2.72h-2.72zM328.37 1546.97h3.24v3.24h-3.24zM371.84 1530.24h2.76v2.76h-2.76zM353.2 1558.2h2.71v2.71h-2.71zM356.34 1609.41h2.79v2.79h-2.79zM350.4 1560.28h2.81v2.81h-2.81zM340.28 1601.05h4v4h-4zM301.16 1563.78h3.49v3.49h-3.49zM302.95 1534.32h3.56v3.56h-3.56zM367.83 1580.86h3.99v3.99h-3.99zM350.05 1610.22h2.6v2.6h-2.6zM350.5 1563.54h3.67v3.67h-3.67zM368.56 1568.61h3.45v3.45h-3.45zM302.44 1607.13h2.61v2.61h-2.61zM369.2 1539.31h3.56v3.56h-3.56zM348.47 1563.01h2.66v2.66h-2.66zM309.79 1590.77h3.19v3.19h-3.19zM351.4 1562.71h3.67v3.67h-3.67zM323.63 1565.87h3.24v3.24h-3.24zM329.98 1607.6h2.99v2.99h-2.99zM301.43 1582.69h3.7v3.7h-3.7zM319.14 1600.8h3.73v3.73h-3.73zM295.96 1578.79h3.91v3.91h-3.91zM329.73 1572.88h3.07v3.07h-3.07zM343.28 1600.7h3.79v3.79h-3.79zM358.04 1559.86h2.87v2.87h-2.87zM358.65 1575.48h2.77v2.77h-2.77zM366.31 1568.25h2.84v2.84h-2.84zM373.5 1554.2h3.51v3.51h-3.51zM336.41 1550.81h3.32v3.32h-3.32zM372.06 1585.19h3.3v3.3h-3.3zM348.33 1578.6h2.9v2.9h-2.9zM347.18 1558.46h3.05v3.05h-3.05zM322.8 1595.47h3.67v3.67h-3.67zM304.65 1554.6h2.95v2.95h-2.95zM364.86 1610.7h2.69v2.69h-2.69zM310.44 1600.75h3.12v3.12h-3.12zM310.64 1552.35h3.78v3.78h-3.78zM301.23 1544.6h3.25v3.25h-3.25zM300.17 1539.08h3.1v3.1h-3.1zM315.51 1603.29h3.41v3.41h-3.41zM346.49 1549.76h3.94v3.94h-3.94zM318.66 1599.3h3.64v3.64h-3.64zM348.88 1589.78h3.14v3.14h-3.14zM353.75 1555.48h3.55v3.55h-3.55zM321.51 1607.54h2.73v2.73h-2.73zM314.18 1553.05h2.56v2.56h-2.56zM364.08 1541.37h3.16v3.16h-3.16zM291.52 1555.57h2.66v2.66h-2.66zM328.33 1580.72h3.59v3.59h-3.59zM320.63 1561.02h3.27v3.27h-3.27zM371.57 1588.68h2.56v2.56h-2.56zM307.37 1592.87h2.65v2.65h-2.65zM353.63 1589.76h3.26v3.26h-3.26zM360.35 1543.91h2.72v2.72h-2.72zM353.92 1595.51h2.71v2.71h-2.71zM322.87 1588.53h2.95v2.95h-2.95zM327.94 1610.16h2.94v2.94h-2.94zM370.71 1601.58h2.69v2.69h-2.69zM310.66 1543.41h4v4h-4zM304.55 1604.29h3.16v3.16h-3.16zM361.47 1567.98h3.36v3.36h-3.36zM371.25 1537.44h3.25v3.25h-3.25zM363.15 1576.44h2.84v2.84h-2.84zM374.16 1591.13h3.67v3.67h-3.67zM353.74 1571.35h3.42v3.42h-3.42zM317.78 1604.6h2.83v2.83h-2.83zM292.73 1580.54h3.29v3.29h-3.29zM342.75 1567.73h3.99v3.99h-3.99zM343.65 1578.38h3.18v3.18h-3.18zM366.81 1601.06h3.23v3.23h-3.23zM351.35 1586.71h3.67v3.67h-3.67zM331.92 1549.38h2.8v2.8h-2.8zM371.17 1546.38h2.81v2.81h-2.81zM360.49 1560.6h3.72v3.72h-3.72zM305.2 1581.35h2.54v2.54h-2.54zM320.05 1576.86h3.56v3.56h-3.56zM346.25 1592.67h2.74v2.74h-2.74zM337.61 1574.64h3.67v3.67h-3.67zM312.84 1561.24h2.5v2.5h-2.5zM296.29 1607.55h2.61v2.61h-2.61zM337.65 1584.38h3.53v3.53h-3.53zM343.62 1562.42h3.8v3.8h-3.8zM372.65 1606.82h3.09v3.09h-3.09zM359.99 1581h2.73v2.73h-2.73zM349.2 1549.99h3.02v3.02h-3.02zM337.31 1575.63h3.62v3.62h-3.62zM367.38 1607.46h2.58v2.58h-2.58zM314.82 1587.05h3.64v3.64h-3.64zM336.77 1556.04h2.67v2.67h-2.67zM314.63 1532.91h3.21v3.21h-3.21zM310.21 1541.65h3.15v3.15h-3.15zM300.62 1528.85h3v3h-3zM294.66 1600.94h3.96v3.96h-3.96zM300.26 1562.87h3.13v3.13h-3.13zM294.73 1572.31h3.26v3.26h-3.26zM315.6 1586.89h2.51v2.51h-2.51zM305.04 1560.75h3.77v3.77h-3.77zM316.57 1536.77h3.92v3.92h-3.92zM363.9 1555.92h2.87v2.87h-2.87zM369.48 1578.75h3.5v3.5h-3.5zM331.09 1554.33h2.8v2.8h-2.8zM342.3 1608.53h3.22v3.22h-3.22zM333.08 1594.49h3.53v3.53h-3.53zM306.42 1582.96h3.26v3.26h-3.26zM308.11 1559.6h2.91v2.91h-2.91zM292.74 1557.13h3.23v3.23h-3.23zM332.98 1557.47h3.94v3.94h-3.94zM349.41 1569.02h3.19v3.19h-3.19zM339.43 1550.04h3.11v3.11h-3.11zM325.92 1585.71h3.52v3.52h-3.52zM344.41 1543.43h3.02v3.02h-3.02zM331.86 1528.27h3.23v3.23h-3.23zM329.39 1591.32h2.69v2.69h-2.69zM361.34 1593.93h3.72v3.72h-3.72zM306.5 1539.51h3.95v3.95h-3.95zM357.8 1542.94h2.71v2.71h-2.71zM301.81 1603.14h2.98v2.98h-2.98zM310.12 1576.89h2.81v2.81h-2.81zM293.26 1575.24h3.55v3.55h-3.55zM337.08 1570.02h3.29v3.29h-3.29zM359.55 1598.5h3.7v3.7h-3.7zM293.56 1566.42h3v3h-3zM344.56 1567.41h2.54v2.54h-2.54zM360.52 1587.9h3.62v3.62h-3.62zM318.2 1587.42h3.54v3.54h-3.54zM308.57 1599.38h3.46v3.46h-3.46zM335.16 1543.51h3.21v3.21h-3.21zM330.03 1588.61h3.75v3.75h-3.75zM333.86 1575.56h3.76v3.76h-3.76zM310.21 1593.77h3.2v3.2h-3.2zM292.93 1529.74h3.88v3.88h-3.88zM296.79 1563.64h3.2v3.2h-3.2zM310.53 1591.94h3.01v3.01h-3.01zM368.23 1543.21h3.37v3.37h-3.37z" fill="#1212b0" opacity="0.5" filter="url(#bd)"/>
<path d="M292.36 1527.54h2.32v2.32h-2.32zM291.41 1534.55h2.09v2.09h-2.09zM292.57 1535.69h2.54v2.54h-2.54zM292 1539.68h2.53v2.53h-2.53zM290 1543.17h2.43v2.43h-2.43zM291.67 1550.77h2.39v2.39h-2.39zM293.01 1550.91h2.18v2.18h-2.18zM290 1554.86h2.69v2.69h-2.69zM292.72 1571.04h2.11v2.11h-2.11zM290 1575.24h1.96v1.96h-1.96zM290.83 1581.91h2.04v2.04h-2.04zM290 1588.06h1.81v1.81h-1.81zM290 1591.94h2.24v2.24h-2.24zM290 1593.37h2.27v2.27h-2.27zM290 1597.63h2.27v2.27h-2.27zM290.25 1606.12h2.52v2.52h-2.52zM290.46 1609.89h2.41v2.41h-2.41zM293.1 1528.79h2v2h-2zM294.62 1534.3h1.75v1.75h-1.75zM293.32 1535.19h2.11v2.11h-2.11zM295.84 1542.55h2.62v2.62h-2.62zM294.59 1544.02h1.77v1.77h-1.77zM293.09 1554.54h2.6v2.6h-2.6zM294.34 1559.78h1.87v1.87h-1.87zM295.24 1566.79h1.73v1.73h-1.73zM296.89 1575.66h1.83v1.83h-1.83zM293.32 1578.63h2.23v2.23h-2.23zM297.35 1584.8h2v2h-2zM293.85 1589.89h2.2v2.2h-2.2zM295.62 1594.4h1.86v1.86h-1.86zM295.88 1596.73h2.04v2.04h-2.04zM296.82 1600.87h1.94v1.94h-1.94zM294.37 1606.88h1.77v1.77h-1.77zM297.44 1609.8h1.82v1.82h-1.82zM301.23 1529.28h2.1v2.1h-2.1zM298.52 1532.08h2.25v2.25h-2.25zM301.4 1541.88h2.54v2.54h-2.54zM298.17 1544.66h2.5v2.5h-2.5zM299.25 1546.74h2.64v2.64h-2.64zM297.85 1554.46h2.32v2.32h-2.32zM301.31 1555.88h2.32v2.32h-2.32zM297.82 1562h2.27v2.27h-2.27zM297.6 1563.56h1.9v1.9h-1.9zM300.75 1570.85h2.61v2.61h-2.61zM298.37 1572.58h2.5v2.5h-2.5zM300.17 1578h1.96v1.96h-1.96zM301.28 1585.23h2.5v2.5h-2.5zM301.76 1591.09h1.74v1.74h-1.74zM299.89 1595.75h2.15v2.15h-2.15zM300.88 1600.28h1.88v1.88h-1.88zM299.42 1601.33h2.25v2.25h-2.25zM300.97 1606.11h1.98v1.98h-1.98zM297.34 1608.31h2.66v2.66h-2.66zM302.05 1534.59h1.73v1.73h-1.73zM302.01 1533.63h2.42v2.42h-2.42zM303.16 1542.98h2.65v2.65h-2.65zM302.03 1552.52h2.02v2.02h-2.02zM304.01 1555.37h2.04v2.04h-2.04zM306.04 1563.44h1.74v1.74h-1.74zM303.09 1566.43h2.17v2.17h-2.17zM303.21 1568.66h2.41v2.41h-2.41zM302.94 1572.24h1.88v1.88h-1.88zM302.45 1578.57h2.56v2.56h-2.56zM304.9 1583.8h2.17v2.17h-2.17zM302.35 1587.69h2.51v2.51h-2.51zM304.84 1591.69h2.47v2.47h-2.47zM302.3 1595.86h2.62v2.62h-2.62zM303.17 1603.17h2.52v2.52h-2.52zM301.82 1607.46h2.54v2.54h-2.54zM303.58 1609.9h2.49v2.49h-2.49zM309.15 1527.75h2.69v2.69h-2.69zM307.65 1530.02h2.57v2.57h-2.57zM307.13 1536.76h1.83v1.83h-1.83zM309.41 1542.58h2.34v2.34h-2.34zM306.66 1543.49h2.65v2.65h-2.65zM307.61 1549.9h2.68v2.68h-2.68zM308.51 1555.09h2.01v2.01h-2.01zM307.97 1560.42h2.57v2.57h-2.57zM305.96 1564.4h2.14v2.14h-2.14zM307.72 1566.7h2.34v2.34h-2.34zM306.87 1575.1h1.78v1.78h-1.78zM307.1 1578.71h2.39v2.39h-2.39zM309.26 1581.9h2.28v2.28h-2.28zM309.38 1583.91h1.96v1.96h-1.96zM309.99 1592.71h1.75v1.75h-1.75zM307.84 1598.91h1.96v1.96h-1.96zM310.25 1600.51h2.24v2.24h-2.24zM305.91 1604.11h1.9v1.9h-1.9zM305.18 1611.09h2.66v2.66h-2.66zM314.15 1527h1.91v1.91h-1.91zM312.96 1530.66h2.37v2.37h-2.37zM310.87 1536.7h2.33v2.33h-2.33zM313.42 1543.05h1.73v1.73h-1.73zM311.09 1546.4h2.27v2.27h-2.27zM312.23 1548.53h1.8v1.8h-1.8zM314.39 1553.08h1.9v1.9h-1.9zM309.48 1558.92h2.45v2.45h-2.45zM311.89 1558.77h1.96v1.96h-1.96zM312.28 1567.36h2.67v2.67h-2.67zM313.62 1571.27h2.57v2.57h-2.57zM309.59 1575.71h2.21v2.21h-2.21zM310.26 1580.85h2.3v2.3h-2.3zM311.74 1585.44h1.71v1.71h-1.71zM314.25 1591.73h2.4v2.4h-2.4zM312.96 1595.48h2.31v2.31h-2.31zM312.69 1597.33h2.03v2.03h-2.03zM313.14 1600.15h2.11v2.11h-2.11zM314.2 1605.4h2.67v2.67h-2.67zM309.72 1608.16h2.68v2.68h-2.68zM313.53 1529.45h2.69v2.69h-2.69zM314.37 1532.14h2.18v2.18h-2.18zM318.45 1537.61h1.9v1.9h-1.9zM316.67 1542.54h2.32v2.32h-2.32zM313.7 1543.89h2.59v2.59h-2.59zM313.91 1550.18h2.45v2.45h-2.45zM318.46 1554.57h2.34v2.34h-2.34zM316.4 1556.91h2.33v2.33h-2.33zM315.68 1564.8h2.39v2.39h-2.39zM317.46 1570.89h2.09v2.09h-2.09zM316.91 1573.37h1.93v1.93h-1.93zM314.81 1576.44h1.79v1.79h-1.79zM315.46 1582.07h2.48v2.48h-2.48zM314.98 1584.98h2.24v2.24h-2.24zM314.05 1587.79h2.58v2.58h-2.58zM316.97 1594.62h2.14v2.14h-2.14zM314.21 1599.84h2.61v2.61h-2.61zM315.37 1602.61h1.78v1.78h-1.78zM318.62 1604.82h2.28v2.28h-2.28zM316.65 1611.48h2.27v2.27h-2.27zM322.09 1529.67h1.8v1.8h-1.8zM321.63 1537.1h1.71v1.71h-1.71zM319.36 1541.2h1.79v1.79h-1.79zM318.55 1544.95h2.51v2.51h-2.51zM319.02 1546.86h1.74v1.74h-1.74zM323.13 1552.26h1.74v1.74h-1.74zM320.51 1555.65h2.12v2.12h-2.12zM322.96 1562.59h1.91v1.91h-1.91zM323.16 1566.13h1.8v1.8h-1.8zM320.1 1571.56h2.27v2.27h-2.27zM318.32 1573.33h2.65v2.65h-2.65zM322.61 1578.99h1.88v1.88h-1.88zM321.46 1583.72h2v2h-2zM322.28 1586.35h1.98v1.98h-1.98zM318.49 1587.68h1.94v1.94h-1.94zM319.06 1593.34h1.82v1.82h-1.82zM319.3 1600.78h1.9v1.9h-1.9zM320.57 1604.62h2.32v2.32h-2.32zM322.14 1607.46h2.63v2.63h-2.63zM321.06 1609.8h2.03v2.03h-2.03zM327.34 1527h1.97v1.97h-1.97zM324.87 1530.51h2.44v2.44h-2.44zM322.91 1536.09h2.58v2.58h-2.58zM324.51 1538.64h2.19v2.19h-2.19zM325.44 1543.89h2.3v2.3h-2.3zM323.01 1547.94h2.08v2.08h-2.08zM324.51 1553.39h2.56v2.56h-2.56zM327.03 1555.54h2.35v2.35h-2.35zM324.86 1561.36h2.45v2.45h-2.45zM322.42 1567.39h1.72v1.72h-1.72zM324.27 1571.16h2.3v2.3h-2.3zM325.41 1572.01h2.07v2.07h-2.07zM326.94 1577.89h1.86v1.86h-1.86zM322.81 1582.34h2.68v2.68h-2.68zM326.32 1587.98h1.83v1.83h-1.83zM325.28 1588.09h2.37v2.37h-2.37zM325.43 1591.72h2.03v2.03h-2.03zM324.47 1597.74h2.22v2.22h-2.22zM325.62 1601.82h1.72v1.72h-1.72zM325.81 1610.07h2.37v2.37h-2.37zM328.69 1534.45h2.3v2.3h-2.3zM326.36 1534.34h2.22v2.22h-2.22zM327.28 1538.51h1.89v1.89h-1.89zM328.73 1544.76h2.29v2.29h-2.29zM329.87 1548.06h2.57v2.57h-2.57zM328.79 1565.47h1.73v1.73h-1.73zM331.22 1571.7h2v2h-2zM331.16 1574.42h2.24v2.24h-2.24zM327.16 1575.69h1.84v1.84h-1.84zM327.25 1579.47h2.31v2.31h-2.31zM330.82 1587.82h2.16v2.16h-2.16zM330.63 1588.93h1.96v1.96h-1.96zM327.41 1594.25h2.23v2.23h-2.23zM327.29 1599.49h2.5v2.5h-2.5zM328.75 1604.52h1.71v1.71h-1.71zM328.98 1605.71h1.95v1.95h-1.95zM327.2 1611.76h1.99v1.99h-1.99zM332.24 1532.46h2.02v2.02h-2.02zM334.92 1537.47h1.86v1.86h-1.86zM331.17 1540.58h1.87v1.87h-1.87zM331.55 1546.25h2.42v2.42h-2.42zM331.06 1546.96h2.17v2.17h-2.17zM333.89 1554.08h1.77v1.77h-1.77zM332.83 1562.94h1.94v1.94h-1.94zM330.54 1565.41h2.09v2.09h-2.09zM335.38 1568.29h1.99v1.99h-1.99zM335.19 1571.07h2.37v2.37h-2.37zM331 1575.42h2.36v2.36h-2.36zM334.14 1584.15h2.04v2.04h-2.04zM335.65 1588.06h2.13v2.13h-2.13zM333.13 1587.92h2.17v2.17h-2.17zM332.79 1594.39h2.41v2.41h-2.41zM333.95 1600.09h2.32v2.32h-2.32zM335.43 1604.63h2.16v2.16h-2.16zM335.17 1611.48h1.87v1.87h-1.87zM336.19 1527h2.05v2.05h-2.05zM335.7 1533.93h1.81v1.81h-1.81zM339.58 1535.74h2.56v2.56h-2.56zM335.01 1540.23h2.6v2.6h-2.6zM336.21 1545.45h1.82v1.82h-1.82zM337.39 1554.05h2.45v2.45h-2.45zM337.26 1556.11h2.55v2.55h-2.55zM334.87 1562.05h2.16v2.16h-2.16zM336.91 1569h1.92v1.92h-1.92zM336.39 1571.95h2.34v2.34h-2.34zM337.88 1578.92h1.77v1.77h-1.77zM335.29 1582.63h1.73v1.73h-1.73zM339.69 1586.76h2.33v2.33h-2.33zM335.63 1587.71h2.66v2.66h-2.66zM337.82 1594.47h1.73v1.73h-1.73zM337.01 1599.16h2.31v2.31h-2.31zM338.03 1600.12h2.5v2.5h-2.5zM335.56 1605.71h2.37v2.37h-2.37zM335.17 1609.6h1.97v1.97h-1.97zM343.82 1529.6h2.47v2.47h-2.47zM341.25 1532.46h2.68v2.68h-2.68zM340.46 1540.75h2.54v2.54h-2.54zM341.25 1547.23h2.13v2.13h-2.13zM340.75 1552.64h2.65v2.65h-2.65zM341.95 1558.55h2.4v2.4h-2.4zM338.72 1565.55h2.67v2.67h-2.67zM340.58 1571.84h1.82v1.82h-1.82zM343.35 1571.42h2.17v2.17h-2.17zM338.96 1583.34h2.32v2.32h-2.32zM340.04 1587.92h2.3v2.3h-2.3zM341.45 1591.77h2.7v2.7h-2.7zM343.68 1593.69h2.31v2.31h-2.31zM343.77 1596.05h2.67v2.67h-2.67zM339.79 1600.83h2.46v2.46h-2.46zM343.39 1611.97h1.78v1.78h-1.78zM347.44 1527h1.81v1.81h-1.81zM347.05 1538.9h1.84v1.84h-1.84zM347.73 1541.1h2.12v2.12h-2.12zM345.26 1542.07h2.39v2.39h-2.39zM343.62 1549.47h2.45v2.45h-2.45zM343.88 1550.64h2.14v2.14h-2.14zM346.62 1558.57h2.41v2.41h-2.41zM344.2 1562.3h2.45v2.45h-2.45zM343.3 1567.45h1.82v1.82h-1.82zM347.78 1568.68h2.57v2.57h-2.57zM343.64 1575.42h1.77v1.77h-1.77zM344.15 1575.49h1.96v1.96h-1.96zM343.42 1583.44h1.97v1.97h-1.97zM346.14 1585.28h1.87v1.87h-1.87zM345.87 1588.76h2.16v2.16h-2.16zM343.9 1593.42h2.66v2.66h-2.66zM344.84 1598.87h2.15v2.15h-2.15zM345.53 1604.96h1.85v1.85h-1.85zM345.73 1611.68h2.07v2.07h-2.07zM350.78 1530.68h1.77v1.77h-1.77zM349.69 1532.8h2.64v2.64h-2.64zM350.49 1537.05h2.47v2.47h-2.47zM351.95 1541.04h1.95v1.95h-1.95zM348.96 1543.09h2.33v2.33h-2.33zM349.24 1549.23h1.91v1.91h-1.91zM348.85 1554.32h1.79v1.79h-1.79zM347.81 1554.72h2.18v2.18h-2.18zM349.7 1558.86h2.14v2.14h-2.14zM352.07 1567.38h2.22v2.22h-2.22zM348.37 1570.98h2.21v2.21h-2.21zM348.33 1574.73h2.01v2.01h-2.01zM348.98 1579.7h2.14v2.14h-2.14zM352.05 1584.64h2.02v2.02h-2.02zM348.69 1588.24h2.55v2.55h-2.55zM350.45 1593.29h1.78v1.78h-1.78zM351.02 1597.2h1.81v1.81h-1.81zM347.99 1601.32h2.42v2.42h-2.42zM351.78 1603.95h2.39v2.39h-2.39zM351.91 1610.66h2.05v2.05h-2.05zM353.92 1527.31h1.86v1.86h-1.86zM353.35 1535.78h2.59v2.59h-2.59zM356.21 1541.39h2.65v2.65h-2.65zM353.27 1546.1h2.06v2.06h-2.06zM352.07 1547.06h2.52v2.52h-2.52zM354.61 1552.46h2.04v2.04h-2.04zM355.89 1559.23h1.71v1.71h-1.71zM355.12 1559.61h2.05v2.05h-2.05zM354.38 1566.29h2.5v2.5h-2.5zM356 1570.47h2.47v2.47h-2.47zM351.76 1571.76h2.41v2.41h-2.41zM356.16 1578.86h1.79v1.79h-1.79zM354.97 1580.02h2.59v2.59h-2.59zM354.6 1586.13h2.38v2.38h-2.38zM355.98 1592.4h2.02v2.02h-2.02zM352.74 1594.1h2.14v2.14h-2.14zM351.81 1597.05h2.37v2.37h-2.37zM354.35 1608.04h2.01v2.01h-2.01zM353.83 1611.16h2.59v2.59h-2.59zM356.56 1529.54h2.02v2.02h-2.02zM358 1533.23h2.65v2.65h-2.65zM355.8 1534.42h2.63v2.63h-2.63zM360.84 1543.1h1.77v1.77h-1.77zM360.54 1548.68h2.49v2.49h-2.49zM359.56 1550.58h2.12v2.12h-2.12zM359.54 1555.91h1.91v1.91h-1.91zM358.41 1562.75h1.93v1.93h-1.93zM357.65 1569.98h1.92v1.92h-1.92zM357.87 1572.32h2.18v2.18h-2.18zM356.76 1575.5h2.44v2.44h-2.44zM359.69 1582.07h1.97v1.97h-1.97zM359.76 1590.49h2.63v2.63h-2.63zM359.48 1595.72h2.69v2.69h-2.69zM356.93 1600.27h2.59v2.59h-2.59zM360.48 1603.09h2.52v2.52h-2.52zM359.61 1604.53h1.81v1.81h-1.81zM360.05 1611.24h2.51v2.51h-2.51zM362.33 1529.84h2.3v2.3h-2.3zM363.62 1533.57h2.11v2.11h-2.11zM363.37 1536.65h2.07v2.07h-2.07zM362.68 1542.68h1.85v1.85h-1.85zM360.51 1549.61h2.29v2.29h-2.29zM363.89 1552.85h1.73v1.73h-1.73zM362.85 1558.19h2.62v2.62h-2.62zM363.36 1562.17h2.44v2.44h-2.44zM361.95 1563.57h1.93v1.93h-1.93zM362.98 1570.66h2.38v2.38h-2.38zM363.94 1574.02h2.31v2.31h-2.31zM361.56 1576.68h1.99v1.99h-1.99zM360.98 1584.03h2.08v2.08h-2.08zM361.88 1583.64h2.61v2.61h-2.61zM360.46 1594.8h1.73v1.73h-1.73zM361.84 1598.87h1.74v1.74h-1.74zM361.18 1602.41h2.07v2.07h-2.07zM363.73 1608.03h2.29v2.29h-2.29zM366.21 1533.96h2.19v2.19h-2.19zM368.22 1537.31h2.18v2.18h-2.18zM367.05 1543.78h2.56v2.56h-2.56zM368.62 1547.44h2.23v2.23h-2.23zM364.12 1553.62h2.08v2.08h-2.08zM365.77 1556.54h2.03v2.03h-2.03zM367.6 1563.05h2.67v2.67h-2.67zM365.08 1567.12h1.73v1.73h-1.73zM367.89 1573.11h2.69v2.69h-2.69zM364.86 1574.84h2.54v2.54h-2.54zM369.02 1581.53h2.62v2.62h-2.62zM367.48 1589.33h2.14v2.14h-2.14zM368.02 1592.6h2.55v2.55h-2.55zM366.89 1595.92h1.74v1.74h-1.74zM368.95 1602.41h2.09v2.09h-2.09zM365.95 1606.61h2.46v2.46h-2.46zM366.84 1608.33h2.1v2.1h-2.1zM371.05 1528.09h1.77v1.77h-1.77zM368.36 1534.46h2.06v2.06h-2.06zM373.5 1537.5h2.01v2.01h-2.01zM371.99 1542.14h2.01v2.01h-2.01zM372.82 1543.07h2.15v2.15h-2.15zM368.22 1546.67h2.68v2.68h-2.68zM368.88 1550.21h2.38v2.38h-2.38zM372.75 1554.4h2.69v2.69h-2.69zM370.19 1560.02h2.14v2.14h-2.14zM369.16 1562.8h2.1v2.1h-2.1zM371.12 1575.67h2.43v2.43h-2.43zM370.85 1577.42h2.59v2.59h-2.59zM369.08 1581.84h2.33v2.33h-2.33zM370.79 1585.84h2.19v2.19h-2.19zM369.13 1592.57h2.01v2.01h-2.01zM372.67 1595.63h1.98v1.98h-1.98zM369.37 1595.83h1.98v1.98h-1.98zM373.1 1602.79h2.61v2.61h-2.61zM371.32 1609.09h1.75v1.75h-1.75zM373.34 1611.38h1.72v1.72h-1.72zM376.47 1528.61h1.78v1.78h-1.78zM372.68 1532.87h2.01v2.01h-2.01zM373.42 1534.31h1.86v1.86h-1.86zM372.78 1538.64h2.48v2.48h-2.48zM375.64 1543.02h1.94v1.94h-1.94zM372.86 1547.75h2.28v2.28h-2.28zM373.26 1552.35h1.94v1.94h-1.94zM375.73 1568.58h2.52v2.52h-2.52zM375.73 1571.82h2.52v2.52h-2.52zM375.65 1574.99h2.6v2.6h-2.6zM375.42 1579.18h2.47v2.47h-2.47zM372.92 1595.73h2.3v2.3h-2.3zM375.68 1597.16h1.84v1.84h-1.84zM376.34 1600.41h1.91v1.91h-1.91zM376.1 1607.54h1.84v1.84h-1.84zM372.72 1611.9h1.85v1.85h-1.85z" fill="#2a2cff" filter="url(#b0)"/>
<path d="M343.23 1588.8h2.92v2.92h-2.92zM369.52 1588.65h3.03v3.03h-3.03zM294.39 1566.76h3.05v3.05h-3.05zM345.38 1601.5h2.3v2.3h-2.3zM330.58 1549.28h2.69v2.69h-2.69zM339.21 1530.65h2.4v2.4h-2.4zM314.99 1602.74h2.89v2.89h-2.89zM305.13 1593.22h2.32v2.32h-2.32zM342.79 1539.71h2.2v2.2h-2.2zM363.67 1546.32h2.39v2.39h-2.39zM372.8 1599.23h2.46v2.46h-2.46zM371.08 1572.64h2.81v2.81h-2.81zM308.84 1604.7h2.82v2.82h-2.82zM371.5 1600.93h2.47v2.47h-2.47zM321.71 1542.85h2.33v2.33h-2.33zM297.36 1553.65h2.74v2.74h-2.74zM292.28 1583.71h2.5v2.5h-2.5zM317.49 1594.93h2.63v2.63h-2.63zM317.97 1568.01h2.83v2.83h-2.83zM296.69 1607.43h2.22v2.22h-2.22zM353.67 1597.03h2.22v2.22h-2.22zM356.79 1558.83h2.72v2.72h-2.72zM292.75 1533.33h2.36v2.36h-2.36zM370.56 1545.29h2.88v2.88h-2.88zM368.46 1604.79h2.51v2.51h-2.51zM321.18 1571.48h2.9v2.9h-2.9zM300.89 1589.33h2.92v2.92h-2.92zM362.71 1532.53h3.05v3.05h-3.05zM299.5 1556.8h2.75v2.75h-2.75zM367.51 1556.73h3.03v3.03h-3.03zM336.84 1554.54h2.49v2.49h-2.49zM306.6 1535.84h2.33v2.33h-2.33zM348.68 1609.15h2.35v2.35h-2.35zM295.99 1608.35h2.68v2.68h-2.68z" fill="#e436a4" filter="url(#b0)"/>
</g>
<clipPath id="fl10"><rect x="385.5" y="1342" width="87.5" height="87.5"/></clipPath><g clip-path="url(#fl10)">
<rect x="385.5" y="1342" width="87.5" height="87.5" fill="#010108"/>
<path d="M431.4 1342.76h2.93v2.93h-2.93zM433.36 1420.25h3.01v3.01h-3.01zM460.42 1359.31h3.53v3.53h-3.53zM403.8 1363.07h3.81v3.81h-3.81zM406.07 1343.03h3.49v3.49h-3.49zM390.91 1395.67h3.55v3.55h-3.55zM428.46 1418.25h2.66v2.66h-2.66zM402.73 1417.22h3.13v3.13h-3.13zM425.19 1403.75h3.88v3.88h-3.88zM387.16 1361.03h2.87v2.87h-2.87zM451.45 1354.17h3.39v3.39h-3.39zM410.74 1364.04h2.71v2.71h-2.71zM448.8 1372.78h3.03v3.03h-3.03zM440.31 1418.74h3.62v3.62h-3.62zM467.29 1373.39h3.38v3.38h-3.38zM402.32 1359.22h3.32v3.32h-3.32zM457.6 1418.25h3.03v3.03h-3.03zM415.18 1369.64h3.19v3.19h-3.19zM424.16 1425.56h3.35v3.35h-3.35zM415.72 1389.41h3.53v3.53h-3.53zM466.38 1357.53h3.2v3.2h-3.2zM409.23 1374.91h3.71v3.71h-3.71zM406.76 1369.09h2.56v2.56h-2.56zM439.1 1352.3h2.9v2.9h-2.9zM431.4 1387.05h2.96v2.96h-2.96zM400.09 1363.92h3.38v3.38h-3.38zM468.55 1356.12h3.65v3.65h-3.65zM460.2 1426.69h2.63v2.63h-2.63zM466.79 1392.16h3.1v3.1h-3.1zM389.07 1343.84h3.85v3.85h-3.85zM424.62 1351.01h3.76v3.76h-3.76zM385.6 1358.22h3.66v3.66h-3.66zM447.77 1385.1h3.61v3.61h-3.61zM435.54 1363.84h3.41v3.41h-3.41zM438.03 1361.77h3.03v3.03h-3.03zM462.35 1394.58h3.68v3.68h-3.68zM409.57 1391.88h2.75v2.75h-2.75zM418.71 1343.57h3.17v3.17h-3.17zM417.13 1351.6h3.08v3.08h-3.08zM450.15 1422.62h3.98v3.98h-3.98zM443.23 1402.81h2.87v2.87h-2.87zM435.83 1403.15h2.87v2.87h-2.87zM431.37 1363.29h3.39v3.39h-3.39zM412.67 1384.32h2.9v2.9h-2.9zM402.9 1346.81h3.13v3.13h-3.13zM415.3 1415.97h3.99v3.99h-3.99zM399.1 1357.68h3.84v3.84h-3.84zM385.74 1360.73h2.85v2.85h-2.85zM444.43 1356.56h3.42v3.42h-3.42zM439.65 1402.9h3.29v3.29h-3.29zM449.04 1349.3h3.53v3.53h-3.53zM446.98 1379.89h2.69v2.69h-2.69zM446.55 1406.82h3.56v3.56h-3.56zM421.18 1417.64h3.57v3.57h-3.57zM426 1411.24h3.51v3.51h-3.51zM414.63 1392.19h3.01v3.01h-3.01zM401.4 1366.26h3.97v3.97h-3.97zM440.68 1382.48h2.65v2.65h-2.65zM415.62 1372.91h3.22v3.22h-3.22zM398.87 1382.3h3.37v3.37h-3.37zM428.75 1384.06h2.72v2.72h-2.72zM412.11 1409.51h3.12v3.12h-3.12zM430.13 1423.71h2.85v2.85h-2.85zM421.01 1399.65h3.05v3.05h-3.05zM451.32 1416.76h3.25v3.25h-3.25zM428.03 1382.07h2.85v2.85h-2.85zM439.22 1358.16h3.19v3.19h-3.19zM406.28 1378.85h2.92v2.92h-2.92zM410.77 1421.99h2.97v2.97h-2.97zM412.05 1350.18h3.43v3.43h-3.43zM436.09 1389.99h3.45v3.45h-3.45zM436.92 1409.71h2.57v2.57h-2.57zM441.79 1371.79h3.35v3.35h-3.35zM407.47 1406.52h3.07v3.07h-3.07zM430.81 1384.79h3.62v3.62h-3.62zM467.79 1345.29h2.94v2.94h-2.94zM411.45 1409.5h3.35v3.35h-3.35zM434.37 1402.3h3.95v3.95h-3.95zM469.3 1380.25h2.81v2.81h-2.81zM387.78 1369.74h3.81v3.81h-3.81zM399.94 1342.82h3.55v3.55h-3.55zM444.36 1414.86h2.99v2.99h-2.99zM435.8 1415.65h2.78v2.78h-2.78zM438.92 1383.16h3.64v3.64h-3.64zM408.83 1389.75h2.84v2.84h-2.84zM444.86 1362.97h2.95v2.95h-2.95zM403.22 1399.69h3.44v3.44h-3.44zM460.06 1377.08h3.83v3.83h-3.83zM397.17 1374.83h3.89v3.89h-3.89zM418.45 1346.69h2.93v2.93h-2.93zM435.88 1405.35h3.04v3.04h-3.04zM463.35 1398.91h3.17v3.17h-3.17zM455.85 1371.83h3.61v3.61h-3.61zM425.92 1366.1h3.65v3.65h-3.65zM444.82 1346.1h3.5v3.5h-3.5zM465.61 1344.8h3.57v3.57h-3.57zM421.07 1419.8h3.92v3.92h-3.92zM423.91 1397.35h3.09v3.09h-3.09zM405.25 1397.53h2.95v2.95h-2.95zM387.66 1366.55h3.01v3.01h-3.01zM447.05 1353.19h3.84v3.84h-3.84zM436.04 1356.67h3.26v3.26h-3.26zM467.11 1397.11h3.73v3.73h-3.73zM419.42 1362.82h3.68v3.68h-3.68zM458.96 1403.74h3.51v3.51h-3.51zM470.08 1418.75h2.73v2.73h-2.73zM403.48 1356.46h3.54v3.54h-3.54zM451.94 1388.63h2.68v2.68h-2.68zM400.04 1372.12h3.98v3.98h-3.98zM457.45 1406.73h2.92v2.92h-2.92zM427.1 1364.59h3.59v3.59h-3.59zM395.14 1402.14h3.1v3.1h-3.1zM430.9 1415.27h3.41v3.41h-3.41zM438.83 1351.13h2.7v2.7h-2.7zM440.7 1385.36h2.88v2.88h-2.88zM404.3 1372.07h3.81v3.81h-3.81zM410.55 1399.03h3.07v3.07h-3.07zM419.31 1408.35h3v3h-3zM440.99 1384.07h2.62v2.62h-2.62zM422.67 1356.44h3.12v3.12h-3.12zM446.44 1369.47h2.69v2.69h-2.69zM402.58 1395.34h2.87v2.87h-2.87zM436.48 1344.06h3.55v3.55h-3.55zM420.51 1356.86h3.16v3.16h-3.16zM419.32 1412.77h3.62v3.62h-3.62zM405.82 1415.1h3.24v3.24h-3.24zM415.11 1372.81h2.59v2.59h-2.59zM439.65 1367.56h2.66v2.66h-2.66zM461.65 1345.42h3.91v3.91h-3.91zM441.98 1401.8h2.79v2.79h-2.79zM414.01 1425.45h2.84v2.84h-2.84zM415.95 1400.72h3.9v3.9h-3.9zM440.33 1377.03h3.96v3.96h-3.96zM434.18 1398.44h3.9v3.9h-3.9zM390.01 1351.09h3.85v3.85h-3.85zM409.04 1424.48h2.6v2.6h-2.6zM415.98 1392.44h3.57v3.57h-3.57zM426.57 1371.24h3.16v3.16h-3.16zM447.99 1346.88h3.89v3.89h-3.89zM464.26 1374.4h3.41v3.41h-3.41zM389.77 1387.64h2.69v2.69h-2.69zM431.81 1399.74h3.06v3.06h-3.06zM436.74 1392.3h3.15v3.15h-3.15zM428.99 1359.72h3.36v3.36h-3.36zM442.58 1421.36h2.91v2.91h-2.91zM389.92 1380.27h2.66v2.66h-2.66zM459.09 1360.5h3.91v3.91h-3.91zM391.61 1409.73h3.42v3.42h-3.42zM465.58 1372.19h2.6v2.6h-2.6zM414.45 1351.69h2.96v2.96h-2.96zM403.33 1344.76h3.04v3.04h-3.04zM455.78 1405.89h3.2v3.2h-3.2zM395.75 1380.46h3.31v3.31h-3.31zM424.55 1416.49h2.88v2.88h-2.88zM430.66 1381.7h2.79v2.79h-2.79zM391.42 1419.21h3.16v3.16h-3.16zM403.63 1414.37h3.84v3.84h-3.84zM457.89 1368.04h3.18v3.18h-3.18zM469.35 1372.68h2.58v2.58h-2.58zM404.29 1370.3h2.56v2.56h-2.56zM466.47 1365h3.75v3.75h-3.75z" fill="#1212b0" opacity="0.5" filter="url(#bd)"/>
<path d="M388.98 1342.95h1.82v1.82h-1.82zM386.55 1347.59h2.01v2.01h-2.01zM385.99 1352.39h2.47v2.47h-2.47zM385.5 1353.87h2.31v2.31h-2.31zM388.03 1359.61h2.57v2.57h-2.57zM385.5 1360.88h1.84v1.84h-1.84zM388.92 1364.87h1.99v1.99h-1.99zM385.5 1372.37h2.01v2.01h-2.01zM386.32 1372.82h2.18v2.18h-2.18zM388.17 1380.14h2.45v2.45h-2.45zM388.62 1380.79h1.89v1.89h-1.89zM387.41 1387.3h2.25v2.25h-2.25zM385.8 1388.26h2.41v2.41h-2.41zM387.42 1394.08h2.28v2.28h-2.28zM386.79 1398.29h2.55v2.55h-2.55zM385.96 1405.09h1.8v1.8h-1.8zM387.19 1405.2h2.16v2.16h-2.16zM386.65 1410.67h1.94v1.94h-1.94zM385.58 1416.77h2.46v2.46h-2.46zM385.5 1416.13h2.09v2.09h-2.09zM385.5 1420.55h2.31v2.31h-2.31zM385.5 1426.59h1.83v1.83h-1.83zM391.37 1342.07h2.04v2.04h-2.04zM390.95 1347.49h2.5v2.5h-2.5zM388.22 1349.11h2.21v2.21h-2.21zM388 1355.89h2.36v2.36h-2.36zM392.21 1358.7h2.3v2.3h-2.3zM390.77 1364.23h1.73v1.73h-1.73zM389.69 1364.31h2.62v2.62h-2.62zM392.3 1372.28h2.69v2.69h-2.69zM389.17 1379.06h2.62v2.62h-2.62zM392.49 1380.71h2.08v2.08h-2.08zM391.55 1386.42h2.45v2.45h-2.45zM389.28 1388.5h1.89v1.89h-1.89zM391.01 1394.61h2v2h-2zM388.61 1400.18h1.97v1.97h-1.97zM390.64 1400.4h2.05v2.05h-2.05zM389.58 1405.45h2.04v2.04h-2.04zM391.78 1414.26h2.37v2.37h-2.37zM390.59 1420.06h2.1v2.1h-2.1zM389.66 1420.26h2.17v2.17h-2.17zM391.58 1423.83h2.55v2.55h-2.55zM396.54 1342.43h1.83v1.83h-1.83zM396.18 1349.27h1.72v1.72h-1.72zM392.72 1355.97h1.75v1.75h-1.75zM392.39 1359h2.42v2.42h-2.42zM395.92 1363.59h2.51v2.51h-2.51zM394.21 1367.26h2.21v2.21h-2.21zM393.39 1372.52h1.89v1.89h-1.89zM396 1377.26h1.82v1.82h-1.82zM394.62 1379.27h1.74v1.74h-1.74zM394.21 1380.65h2.31v2.31h-2.31zM396.76 1386.63h2.17v2.17h-2.17zM394.85 1391.38h2.36v2.36h-2.36zM394.14 1397.74h1.9v1.9h-1.9zM392.37 1403.95h1.79v1.79h-1.79zM394.4 1414.97h2.09v2.09h-2.09zM392.94 1418.01h2.62v2.62h-2.62zM394.79 1424.32h1.89v1.89h-1.89zM392.46 1426.1h1.86v1.86h-1.86zM396.36 1345.13h2.34v2.34h-2.34zM398.82 1349.22h2.15v2.15h-2.15zM400.66 1351.38h2.05v2.05h-2.05zM399.06 1356.02h2.01v2.01h-2.01zM398.64 1356.55h2.55v2.55h-2.55zM400.64 1365.19h1.82v1.82h-1.82zM399.02 1367.62h1.81v1.81h-1.81zM396.3 1369.06h2.56v2.56h-2.56zM398.8 1380.51h2.18v2.18h-2.18zM399.15 1381.97h2.03v2.03h-2.03zM398.78 1386.93h2.11v2.11h-2.11zM399.68 1389.31h2.67v2.67h-2.67zM396.95 1392.86h2.3v2.3h-2.3zM399.93 1398.77h2.29v2.29h-2.29zM396.07 1401.65h2.16v2.16h-2.16zM396.2 1408.37h2.34v2.34h-2.34zM399.4 1409.48h2.55v2.55h-2.55zM397.98 1412.34h2.07v2.07h-2.07zM399.93 1416.23h2.39v2.39h-2.39zM400.06 1422.44h1.94v1.94h-1.94zM399.4 1426.73h2.31v2.31h-2.31zM402.4 1343.43h2.5v2.5h-2.5zM404.24 1346.98h2.57v2.57h-2.57zM400.21 1349.9h2.58v2.58h-2.58zM403.62 1355.22h2.29v2.29h-2.29zM401.46 1359.49h2.48v2.48h-2.48zM403.58 1360.41h2.17v2.17h-2.17zM403.15 1364.7h2.43v2.43h-2.43zM403.27 1372.88h2.34v2.34h-2.34zM399.96 1378.31h2.37v2.37h-2.37zM400.29 1384.82h2.33v2.33h-2.33zM402.34 1391.15h2.01v2.01h-2.01zM400.37 1396.59h1.72v1.72h-1.72zM401.71 1396.72h2.64v2.64h-2.64zM401.26 1403.21h1.78v1.78h-1.78zM403.26 1405.51h1.78v1.78h-1.78zM400.81 1409.59h1.89v1.89h-1.89zM403.63 1412.94h2.58v2.58h-2.58zM402.41 1420.57h2.24v2.24h-2.24zM400.53 1424.88h2.2v2.2h-2.2zM403.38 1426.98h2.52v2.52h-2.52zM406.55 1342.98h2.45v2.45h-2.45zM407.08 1345.11h1.75v1.75h-1.75zM405.38 1352.25h1.81v1.81h-1.81zM406.38 1357.14h1.89v1.89h-1.89zM404.1 1357.39h1.79v1.79h-1.79zM407.87 1362.74h2.35v2.35h-2.35zM405.47 1368.17h2.53v2.53h-2.53zM404.14 1370.85h1.81v1.81h-1.81zM403.81 1374.37h2.68v2.68h-2.68zM407.25 1378.21h2.01v2.01h-2.01zM406.92 1383.72h1.77v1.77h-1.77zM404.39 1385.12h2.04v2.04h-2.04zM406.86 1389.05h2.08v2.08h-2.08zM408.91 1393.65h1.77v1.77h-1.77zM406.15 1401.07h1.86v1.86h-1.86zM406.08 1403.33h1.7v1.7h-1.7zM407.39 1406.44h1.74v1.74h-1.74zM406.58 1411.56h2.67v2.67h-2.67zM406.98 1416.02h1.78v1.78h-1.78zM407.44 1419.91h2.29v2.29h-2.29zM408.8 1424.45h1.93v1.93h-1.93zM410.59 1342h1.79v1.79h-1.79zM410.73 1346.02h2.05v2.05h-2.05zM411.01 1356.75h2.08v2.08h-2.08zM412.29 1365.52h2.34v2.34h-2.34zM409.4 1370.85h2.67v2.67h-2.67zM411.74 1379.07h2.5v2.5h-2.5zM410.07 1383.46h1.84v1.84h-1.84zM410.58 1392.5h2.56v2.56h-2.56zM411.07 1401.01h1.94v1.94h-1.94zM411.32 1400.88h2.66v2.66h-2.66zM410.99 1408.48h2.37v2.37h-2.37zM411.87 1407.92h2.47v2.47h-2.47zM409.97 1413.61h2.21v2.21h-2.21zM411.48 1419.87h2.56v2.56h-2.56zM412.26 1427.45h2.05v2.05h-2.05zM412.02 1342.66h1.97v1.97h-1.97zM414.15 1346.76h2.47v2.47h-2.47zM412.72 1353.08h1.89v1.89h-1.89zM414.26 1358.37h2.24v2.24h-2.24zM414 1363.78h1.76v1.76h-1.76zM416.36 1372.83h2.62v2.62h-2.62zM412.27 1372.64h2.01v2.01h-2.01zM411.98 1379.81h2.18v2.18h-2.18zM413.67 1381.78h2.34v2.34h-2.34zM415.71 1388.74h2.69v2.69h-2.69zM412.92 1394.21h1.72v1.72h-1.72zM415.49 1399.76h2.51v2.51h-2.51zM416.25 1403.98h2.34v2.34h-2.34zM411.55 1405.95h2.7v2.7h-2.7zM412.3 1410.15h2.45v2.45h-2.45zM415.58 1414.26h2.32v2.32h-2.32zM416.17 1419.01h1.88v1.88h-1.88zM415.69 1424.04h2.61v2.61h-2.61zM414.04 1426.5h1.9v1.9h-1.9zM420.27 1342h2.39v2.39h-2.39zM417.69 1346.27h1.94v1.94h-1.94zM418.59 1353.98h1.91v1.91h-1.91zM419.47 1358.36h1.71v1.71h-1.71zM420.46 1361.43h1.93v1.93h-1.93zM418.9 1367.88h2.6v2.6h-2.6zM420 1372.1h2.62v2.62h-2.62zM416.28 1376.12h2.63v2.63h-2.63zM417 1378.08h2.36v2.36h-2.36zM418.53 1384.69h1.82v1.82h-1.82zM419.88 1385.62h1.88v1.88h-1.88zM418.91 1398.71h2.66v2.66h-2.66zM420.5 1403.09h2.45v2.45h-2.45zM418.87 1405.77h2.7v2.7h-2.7zM417.48 1409.9h2.59v2.59h-2.59zM418.99 1415.02h2.65v2.65h-2.65zM420.29 1420.14h2.45v2.45h-2.45zM419.13 1420.43h1.79v1.79h-1.79zM420.38 1427.38h2.12v2.12h-2.12zM422.9 1342h2.24v2.24h-2.24zM423.56 1347.54h1.75v1.75h-1.75zM420.98 1348.44h2.61v2.61h-2.61zM423.28 1353.83h2.38v2.38h-2.38zM422.53 1357.54h2.51v2.51h-2.51zM424.43 1368.53h2v2h-2zM419.98 1371.06h1.91v1.91h-1.91zM422.02 1374.29h1.79v1.79h-1.79zM421.91 1379.6h2.29v2.29h-2.29zM421.98 1382.97h2.43v2.43h-2.43zM424.32 1384.04h2.6v2.6h-2.6zM422.86 1389.29h2.23v2.23h-2.23zM421.78 1396.68h2.12v2.12h-2.12zM419.97 1397.77h2.15v2.15h-2.15zM420.55 1401.58h2.09v2.09h-2.09zM422.05 1407.23h2.16v2.16h-2.16zM421.81 1410.59h2.17v2.17h-2.17zM424.65 1416.07h2.06v2.06h-2.06zM420.98 1419.22h1.84v1.84h-1.84zM423.75 1422.96h2.15v2.15h-2.15zM425.36 1344.23h2.61v2.61h-2.61zM426.78 1346.25h2.34v2.34h-2.34zM424.77 1351.37h1.83v1.83h-1.83zM427.27 1353.69h1.72v1.72h-1.72zM427.32 1358.32h2.2v2.2h-2.2zM428.47 1362.15h2.01v2.01h-2.01zM428.42 1367.79h2.02v2.02h-2.02zM427.29 1372h1.81v1.81h-1.81zM427.78 1375.35h2.07v2.07h-2.07zM424.49 1378.69h2.31v2.31h-2.31zM424.98 1380.67h2.7v2.7h-2.7zM424.23 1386.41h2.41v2.41h-2.41zM426.39 1388.65h2.14v2.14h-2.14zM426.44 1393.67h2.07v2.07h-2.07zM426.94 1400.14h2.12v2.12h-2.12zM427.82 1403.55h2.2v2.2h-2.2zM426.43 1406.83h2.19v2.19h-2.19zM427.82 1412.36h2.12v2.12h-2.12zM424.38 1413.68h2.46v2.46h-2.46zM428.74 1417.3h1.73v1.73h-1.73zM426.3 1424.54h2.27v2.27h-2.27zM427.12 1426.15h2.66v2.66h-2.66zM427.77 1342h2.51v2.51h-2.51zM432.14 1347.6h2.4v2.4h-2.4zM432.32 1352.11h2.56v2.56h-2.56zM428.13 1355.06h2.48v2.48h-2.48zM429.26 1359.07h2.24v2.24h-2.24zM429.12 1361.28h2.15v2.15h-2.15zM428.1 1364.98h2.64v2.64h-2.64zM430.4 1372.97h2.52v2.52h-2.52zM428.56 1376.1h2.11v2.11h-2.11zM432.34 1377.18h1.94v1.94h-1.94zM428.76 1381.1h2.56v2.56h-2.56zM429.22 1387.33h2.61v2.61h-2.61zM430.8 1388.69h2.47v2.47h-2.47zM431.92 1392.68h1.86v1.86h-1.86zM431.73 1397.85h2.2v2.2h-2.2zM431.26 1401.77h1.85v1.85h-1.85zM429.15 1405.1h1.72v1.72h-1.72zM430.01 1416.37h2.54v2.54h-2.54zM430.48 1419.44h2.19v2.19h-2.19zM430.95 1423.33h1.96v1.96h-1.96zM431.84 1424.67h2.13v2.13h-2.13zM433.13 1349h2.49v2.49h-2.49zM434.99 1351.3h1.95v1.95h-1.95zM435.6 1367.69h1.73v1.73h-1.73zM432.54 1372.99h1.96v1.96h-1.96zM434.01 1375.02h2v2h-2zM432.95 1376.6h2.23v2.23h-2.23zM434.96 1381.11h2.51v2.51h-2.51zM435.11 1384.34h2.19v2.19h-2.19zM435.49 1391.94h2.49v2.49h-2.49zM436.03 1396.73h1.95v1.95h-1.95zM436.14 1396.15h2.23v2.23h-2.23zM432.77 1402.35h1.89v1.89h-1.89zM432.74 1408.32h1.96v1.96h-1.96zM435.47 1411.29h2.14v2.14h-2.14zM432.45 1412.41h2.09v2.09h-2.09zM431.97 1418.7h2.02v2.02h-2.02zM432.88 1421.48h2.61v2.61h-2.61zM432.29 1425.7h2.38v2.38h-2.38zM438.85 1342.64h2.41v2.41h-2.41zM438.29 1349.6h1.95v1.95h-1.95zM439.62 1359.37h2.32v2.32h-2.32zM435.9 1365.87h1.95v1.95h-1.95zM438.04 1374.52h2.39v2.39h-2.39zM440.34 1379.63h2.17v2.17h-2.17zM436.48 1381.01h2.56v2.56h-2.56zM437.97 1387.51h2.06v2.06h-2.06zM440.33 1391.6h2.25v2.25h-2.25zM436.82 1396.4h2.32v2.32h-2.32zM439.02 1397.61h2.61v2.61h-2.61zM438.81 1404.09h2.49v2.49h-2.49zM436.73 1406.74h1.87v1.87h-1.87zM436.21 1410.49h2.07v2.07h-2.07zM440.35 1414.4h2.52v2.52h-2.52zM435.81 1416.26h1.9v1.9h-1.9zM437.73 1424.18h1.94v1.94h-1.94zM438.62 1426.95h2.55v2.55h-2.55zM441.61 1345.37h1.97v1.97h-1.97zM440.92 1348.43h2.05v2.05h-2.05zM443.63 1355.52h1.91v1.91h-1.91zM440.63 1359.64h2.57v2.57h-2.57zM442.53 1363.45h2.47v2.47h-2.47zM442.86 1368.33h2.16v2.16h-2.16zM439.82 1370.53h2.33v2.33h-2.33zM440.33 1375.92h2.4v2.4h-2.4zM440.5 1379.21h1.82v1.82h-1.82zM444.04 1384.99h1.72v1.72h-1.72zM444.47 1384.66h1.95v1.95h-1.95zM442.19 1393.06h2.05v2.05h-2.05zM443.34 1394.2h2.05v2.05h-2.05zM444.7 1396.57h1.76v1.76h-1.76zM443.17 1404.52h2.4v2.4h-2.4zM444.16 1409.12h2.21v2.21h-2.21zM440.53 1416.77h2.03v2.03h-2.03zM443.13 1417.99h1.73v1.73h-1.73zM439.77 1425.27h1.99v1.99h-1.99zM448.66 1343.43h1.87v1.87h-1.87zM447.18 1347.6h2.51v2.51h-2.51zM443.8 1349.96h2.57v2.57h-2.57zM444.77 1357.01h2.46v2.46h-2.46zM446.51 1358.15h1.77v1.77h-1.77zM446.39 1361.61h1.79v1.79h-1.79zM444.62 1368.52h1.85v1.85h-1.85zM443.86 1368.63h2.14v2.14h-2.14zM447.94 1373.51h2v2h-2zM443.47 1378.32h2.63v2.63h-2.63zM448.21 1380.29h2.35v2.35h-2.35zM445.44 1387.6h2.13v2.13h-2.13zM443.93 1388.58h1.8v1.8h-1.8zM447.25 1394.46h1.86v1.86h-1.86zM444.47 1397.27h1.91v1.91h-1.91zM445.86 1402.59h1.73v1.73h-1.73zM447.61 1405.06h2.47v2.47h-2.47zM447.96 1409.21h2.68v2.68h-2.68zM447.94 1414.84h1.9v1.9h-1.9zM448.53 1416.85h1.87v1.87h-1.87zM447.7 1419.89h2.59v2.59h-2.59zM447.5 1424.32h2.61v2.61h-2.61zM448.5 1342.62h1.82v1.82h-1.82zM451.88 1344.47h2.16v2.16h-2.16zM452.05 1349.08h2.42v2.42h-2.42zM448.55 1355.62h2.19v2.19h-2.19zM448.57 1358.82h2.66v2.66h-2.66zM448.69 1364.52h2.37v2.37h-2.37zM449.02 1367.73h2.41v2.41h-2.41zM450.22 1369.71h2.56v2.56h-2.56zM448.79 1376.49h2.26v2.26h-2.26zM449.54 1380.59h2.05v2.05h-2.05zM447.83 1381.39h1.82v1.82h-1.82zM450.19 1387.38h2.31v2.31h-2.31zM452.32 1392.66h2.18v2.18h-2.18zM452.49 1396.93h1.97v1.97h-1.97zM449.73 1406.7h2.56v2.56h-2.56zM450.82 1412.44h1.84v1.84h-1.84zM447.54 1413.56h2.46v2.46h-2.46zM449.96 1418.24h2.61v2.61h-2.61zM452.62 1423.87h1.87v1.87h-1.87zM450.73 1427.36h2.14v2.14h-2.14zM453.21 1344.68h2.22v2.22h-2.22zM452.71 1349.18h2.13v2.13h-2.13zM453.44 1349.19h2.46v2.46h-2.46zM454.62 1360.74h2.32v2.32h-2.32zM455.87 1364.05h2.62v2.62h-2.62zM454.01 1368.47h1.96v1.96h-1.96zM455.57 1371.64h2.52v2.52h-2.52zM451.66 1372.97h2.32v2.32h-2.32zM452.64 1382.03h2.09v2.09h-2.09zM452.61 1389.18h1.89v1.89h-1.89zM453.35 1390.71h2.68v2.68h-2.68zM456.2 1394.57h1.8v1.8h-1.8zM453.18 1404.17h2.5v2.5h-2.5zM454.45 1407.55h2.56v2.56h-2.56zM456.04 1408.06h2.58v2.58h-2.58zM453.3 1414.93h2.69v2.69h-2.69zM451.92 1419.98h2.5v2.5h-2.5zM452.97 1424.03h2.41v2.41h-2.41zM453.91 1425.89h1.8v1.8h-1.8zM460.01 1343.5h2.67v2.67h-2.67zM457.29 1346.68h2.33v2.33h-2.33zM459.79 1351.41h1.72v1.72h-1.72zM459.29 1356.27h2.14v2.14h-2.14zM459.29 1360.3h2.45v2.45h-2.45zM456.89 1364.09h2.21v2.21h-2.21zM456.13 1369.06h1.79v1.79h-1.79zM460.19 1374.11h2.17v2.17h-2.17zM456.79 1379.35h2.11v2.11h-2.11zM456.09 1384h2.18v2.18h-2.18zM455.8 1390.71h1.95v1.95h-1.95zM455.87 1393.99h2.17v2.17h-2.17zM455.7 1398.62h2.7v2.7h-2.7zM458.45 1407h2.55v2.55h-2.55zM458.4 1410.67h2.41v2.41h-2.41zM457.13 1413.36h2.23v2.23h-2.23zM457.37 1415.98h2.62v2.62h-2.62zM459.59 1423.35h2.47v2.47h-2.47zM459.88 1424.28h1.85v1.85h-1.85zM460.33 1343.01h1.93v1.93h-1.93zM461.82 1348.66h2.55v2.55h-2.55zM461.18 1349.71h1.74v1.74h-1.74zM463.36 1354.98h2.61v2.61h-2.61zM462.93 1360.39h2.4v2.4h-2.4zM462.37 1368.9h2.26v2.26h-2.26zM461.6 1371.79h2.44v2.44h-2.44zM462.7 1375.24h1.87v1.87h-1.87zM461.72 1379.71h1.84v1.84h-1.84zM459.79 1381.1h1.75v1.75h-1.75zM461.02 1385.24h2.1v2.1h-2.1zM461.29 1390.31h2.33v2.33h-2.33zM462.64 1393.84h2.08v2.08h-2.08zM462.45 1409.66h2.31v2.31h-2.31zM460.78 1412.47h2.29v2.29h-2.29zM462.37 1420.57h2.4v2.4h-2.4zM462.43 1427.72h1.78v1.78h-1.78zM466.22 1342h2.27v2.27h-2.27zM464.69 1346.62h2.15v2.15h-2.15zM466.95 1352.91h2.05v2.05h-2.05zM467.95 1356.33h2.48v2.48h-2.48zM465.31 1356.59h2.64v2.64h-2.64zM464.77 1365.06h1.94v1.94h-1.94zM466.5 1371.02h1.8v1.8h-1.8zM465.19 1373.77h2.57v2.57h-2.57zM465.49 1380.7h2.23v2.23h-2.23zM467.91 1383.09h2.03v2.03h-2.03zM465.46 1386.75h1.89v1.89h-1.89zM463.37 1388.67h2.49v2.49h-2.49zM464.83 1396.46h2.04v2.04h-2.04zM464.44 1397.47h1.86v1.86h-1.86zM463.95 1404.71h1.8v1.8h-1.8zM467.77 1408.68h2.33v2.33h-2.33zM465.88 1408.99h2.17v2.17h-2.17zM463.47 1416.54h2.67v2.67h-2.67zM465.16 1420.51h2.46v2.46h-2.46zM464.27 1422.45h2.27v2.27h-2.27zM466.34 1424.05h2.4v2.4h-2.4zM468.02 1344.62h2.29v2.29h-2.29zM468.3 1352.43h2.64v2.64h-2.64zM470.22 1353.53h1.75v1.75h-1.75zM467.58 1361.09h2.22v2.22h-2.22zM470.52 1365.96h2.48v2.48h-2.48zM469.34 1369.8h2.1v2.1h-2.1zM471.17 1372.8h1.83v1.83h-1.83zM469.96 1378.42h2.2v2.2h-2.2zM467.95 1381.58h1.85v1.85h-1.85zM467.49 1391.82h2.42v2.42h-2.42zM469.51 1393.65h2.68v2.68h-2.68zM470.2 1400.22h1.99v1.99h-1.99zM468.34 1404.26h1.82v1.82h-1.82zM469.21 1408.14h2.4v2.4h-2.4zM470.63 1415.36h2.37v2.37h-2.37zM470.36 1419.08h2.64v2.64h-2.64zM470.83 1421.7h2.17v2.17h-2.17zM469.48 1424.83h2.41v2.41h-2.41z" fill="#2a2cff" filter="url(#b0)"/>
</g>
<clipPath id="fl11"><rect x="385.5" y="1433.75" width="87.5" height="87.5"/></clipPath><g clip-path="url(#fl11)">
<rect x="385.5" y="1433.75" width="87.5" height="87.5" fill="#030000"/>
<path d="M436.59 1441.24h2.77v2.77h-2.77zM455.43 1452.78h3.05v3.05h-3.05zM401.23 1471.78h2.59v2.59h-2.59zM465.99 1475.04h2.86v2.86h-2.86zM446.35 1459.13h2.61v2.61h-2.61zM425.06 1463.05h2.38v2.38h-2.38zM400.87 1515.97h3.03v3.03h-3.03zM400.61 1516.37h2.51v2.51h-2.51zM449.41 1474.02h2.62v2.62h-2.62zM422.17 1439.05h2.67v2.67h-2.67zM408.17 1510.43h2.77v2.77h-2.77zM410.44 1503.77h2.72v2.72h-2.72zM439.27 1495.7h2.86v2.86h-2.86zM405.11 1506.26h2.87v2.87h-2.87zM449.36 1496.23h2.41v2.41h-2.41zM467.45 1494.9h3.02v3.02h-3.02zM410.68 1461.08h2.99v2.99h-2.99zM468.83 1492.6h2.33v2.33h-2.33z" fill="#e01a1a" filter="url(#b0)"/>
</g>
<clipPath id="fl12"><rect x="385.5" y="1527" width="87.5" height="86.75"/></clipPath><g clip-path="url(#fl12)">
<rect x="385.5" y="1527" width="87.5" height="86.75" fill="#010108"/>
<path d="M452.49 1569.3h3.57v3.57h-3.57zM422.72 1581.77h2.73v2.73h-2.73zM433.09 1575h3.83v3.83h-3.83zM450.32 1566.24h3.39v3.39h-3.39zM391.26 1550.44h2.57v2.57h-2.57zM436.47 1604.84h3.56v3.56h-3.56zM410.83 1596.74h3.93v3.93h-3.93zM454.75 1589.44h3.5v3.5h-3.5zM456.45 1599.09h3.29v3.29h-3.29zM465.33 1584.38h2.72v2.72h-2.72zM385.99 1555.9h2.65v2.65h-2.65zM418.64 1608.9h3.66v3.66h-3.66zM440.14 1569.93h2.54v2.54h-2.54zM433.56 1548.48h3.35v3.35h-3.35zM400.05 1560.95h2.94v2.94h-2.94zM395.87 1603.89h3.27v3.27h-3.27zM392.28 1550.47h3.42v3.42h-3.42zM440.74 1558.44h2.65v2.65h-2.65zM414.56 1538.64h3.13v3.13h-3.13zM394.13 1543.43h3.79v3.79h-3.79zM463.16 1531.26h3.4v3.4h-3.4zM445.63 1584.44h3.32v3.32h-3.32zM435.8 1604.43h3.64v3.64h-3.64zM408.14 1587.58h3.45v3.45h-3.45zM421.54 1540.23h2.7v2.7h-2.7zM438.7 1598.49h2.56v2.56h-2.56zM400.86 1584.12h2.95v2.95h-2.95zM434.83 1580.32h3.46v3.46h-3.46zM423.01 1606.99h2.56v2.56h-2.56zM463.02 1545.84h3v3h-3zM402.43 1567.83h2.75v2.75h-2.75zM448.45 1593.99h3.7v3.7h-3.7zM461.92 1598.12h3.42v3.42h-3.42zM396.93 1528.45h2.91v2.91h-2.91zM398.91 1572.04h2.98v2.98h-2.98zM435.44 1533.86h2.87v2.87h-2.87zM411.66 1594.92h2.86v2.86h-2.86zM464.24 1586.89h3.43v3.43h-3.43zM424.97 1544.92h3.92v3.92h-3.92zM465.81 1587.3h2.81v2.81h-2.81zM451.33 1593.34h3.32v3.32h-3.32zM397.45 1533.26h2.56v2.56h-2.56zM396.51 1586.71h3.13v3.13h-3.13zM449.26 1584.62h3.12v3.12h-3.12zM461.99 1565.21h2.97v2.97h-2.97zM419.06 1534.58h2.54v2.54h-2.54zM447.48 1528.59h2.89v2.89h-2.89zM460.04 1567.62h3.83v3.83h-3.83zM443.5 1567.66h3.51v3.51h-3.51zM458.38 1587.77h2.74v2.74h-2.74zM468.96 1588.56h3v3h-3zM399.29 1600.39h2.6v2.6h-2.6zM414.04 1545.9h3.59v3.59h-3.59zM410.82 1569.64h3.14v3.14h-3.14zM396.4 1531.09h2.78v2.78h-2.78zM428.2 1537.71h3.59v3.59h-3.59zM404.12 1554.8h3.08v3.08h-3.08zM415.45 1591.43h3.62v3.62h-3.62zM442.86 1608.89h3.29v3.29h-3.29zM466.81 1543.24h3.28v3.28h-3.28zM445.18 1529.09h3.52v3.52h-3.52zM420.09 1574.06h3.61v3.61h-3.61zM452.46 1530.87h3.46v3.46h-3.46zM464.09 1578.79h3.2v3.2h-3.2zM417.07 1553.84h3.18v3.18h-3.18zM391.57 1610.73h2.6v2.6h-2.6zM448.26 1547.14h2.76v2.76h-2.76zM410.55 1588.54h3.36v3.36h-3.36zM455.19 1590.47h3.98v3.98h-3.98zM439.58 1576.93h3.23v3.23h-3.23zM457.65 1545.34h2.97v2.97h-2.97zM400.32 1583.18h3.16v3.16h-3.16zM448.23 1564.45h2.62v2.62h-2.62zM446.01 1605.16h3.72v3.72h-3.72zM391.75 1588.3h3.38v3.38h-3.38zM391.82 1538.53h3.14v3.14h-3.14zM445.4 1605.38h3.11v3.11h-3.11zM466.52 1592.54h3.04v3.04h-3.04zM420.29 1604.14h3.05v3.05h-3.05zM469.49 1529.16h2.61v2.61h-2.61zM429.35 1593.14h3.77v3.77h-3.77zM435.48 1593.02h3.78v3.78h-3.78zM424.55 1592.19h3.35v3.35h-3.35zM421.73 1556.33h3.09v3.09h-3.09zM454.58 1578.76h3.35v3.35h-3.35zM390.95 1571.51h2.55v2.55h-2.55zM394.82 1536.32h3.32v3.32h-3.32zM410.11 1546.71h2.61v2.61h-2.61zM436.58 1536.27h3.55v3.55h-3.55zM427.07 1580.94h2.97v2.97h-2.97zM416.96 1529.05h3.13v3.13h-3.13zM445.78 1597.06h2.62v2.62h-2.62zM429.88 1591.51h3.61v3.61h-3.61zM452.96 1531.97h2.71v2.71h-2.71zM426.45 1560.48h3.4v3.4h-3.4zM449.96 1575.64h3.57v3.57h-3.57zM390.39 1534.66h3.38v3.38h-3.38zM419.56 1551.24h2.51v2.51h-2.51zM407.03 1532.94h2.78v2.78h-2.78zM428.34 1604.3h2.66v2.66h-2.66zM448.01 1529.36h3.5v3.5h-3.5zM466.72 1600.15h3.27v3.27h-3.27zM411.41 1548.76h2.57v2.57h-2.57zM399.21 1546.92h2.78v2.78h-2.78zM414.2 1607.38h2.68v2.68h-2.68zM450.45 1599.81h3.81v3.81h-3.81zM432.73 1550.13h2.87v2.87h-2.87zM389.07 1586.65h2.99v2.99h-2.99zM402.73 1570.32h3.08v3.08h-3.08zM402.7 1609.08h3.05v3.05h-3.05zM399.58 1539.13h3.45v3.45h-3.45zM468.47 1541.01h3.76v3.76h-3.76zM413.46 1541.16h3.32v3.32h-3.32zM410.4 1579.76h3.46v3.46h-3.46zM434.26 1562.04h3.42v3.42h-3.42zM466.72 1530.52h2.61v2.61h-2.61zM420.07 1605.17h2.72v2.72h-2.72zM413.36 1534.1h3.31v3.31h-3.31zM438.77 1610.01h2.85v2.85h-2.85zM462.33 1606.33h3.94v3.94h-3.94zM391.16 1582.51h2.92v2.92h-2.92zM428.99 1596.01h2.52v2.52h-2.52zM404.62 1546.41h2.9v2.9h-2.9zM436.86 1549.93h3.33v3.33h-3.33zM427.35 1563.79h3.71v3.71h-3.71zM424.24 1556.05h2.53v2.53h-2.53zM458.99 1598.08h2.74v2.74h-2.74zM402.43 1591.35h2.87v2.87h-2.87zM462.34 1604.83h3.25v3.25h-3.25zM413.66 1570.45h3.48v3.48h-3.48zM456.77 1551.54h3.39v3.39h-3.39zM415.96 1592.17h3.13v3.13h-3.13zM418.39 1529.05h2.95v2.95h-2.95zM399.04 1607.19h3.78v3.78h-3.78zM386.72 1555.1h2.58v2.58h-2.58zM462.02 1606.59h3.06v3.06h-3.06zM422.05 1547.94h2.7v2.7h-2.7zM402.96 1549.72h3.39v3.39h-3.39zM454.55 1607h3.23v3.23h-3.23zM447.22 1545.47h3.43v3.43h-3.43zM427 1546.47h3.13v3.13h-3.13zM386.56 1576.85h2.73v2.73h-2.73zM421.1 1581.79h3.35v3.35h-3.35zM407.23 1580.13h3.64v3.64h-3.64zM405.13 1594.89h3.69v3.69h-3.69zM406.53 1549.6h2.72v2.72h-2.72zM415.69 1566.54h3.37v3.37h-3.37zM397.69 1582.7h3.74v3.74h-3.74zM390.24 1602.75h2.58v2.58h-2.58zM450.36 1608.16h2.87v2.87h-2.87zM455.73 1608.31h3.45v3.45h-3.45zM455.73 1588.3h3.6v3.6h-3.6zM412.52 1586.56h3.79v3.79h-3.79zM455.17 1534.71h3.57v3.57h-3.57zM462.92 1591.82h3.05v3.05h-3.05zM424.6 1598.58h3.58v3.58h-3.58zM399.18 1537.13h3.05v3.05h-3.05zM387.58 1606.73h3.4v3.4h-3.4zM398.87 1585.89h2.67v2.67h-2.67zM442.69 1563.85h2.53v2.53h-2.53zM452.94 1556.05h3.46v3.46h-3.46z" fill="#1212b0" opacity="0.5" filter="url(#bd)"/>
<path d="M388.23 1527h2.2v2.2h-2.2zM386.66 1531.63h2.67v2.67h-2.67zM385.5 1535.41h2.01v2.01h-2.01zM385.5 1540.35h1.88v1.88h-1.88zM385.5 1541.72h2.1v2.1h-2.1zM385.5 1545.46h2.57v2.57h-2.57zM387.96 1561.05h2.24v2.24h-2.24zM387.84 1563.15h2.15v2.15h-2.15zM385.5 1566.84h1.73v1.73h-1.73zM385.5 1571.61h2.15v2.15h-2.15zM388.41 1577.17h1.86v1.86h-1.86zM386.33 1580.97h2.06v2.06h-2.06zM388.92 1582.27h2.01v2.01h-2.01zM385.5 1597.23h2.39v2.39h-2.39zM388.55 1597.71h2.68v2.68h-2.68zM385.89 1602.92h1.8v1.8h-1.8zM385.5 1607.28h2.27v2.27h-2.27zM386.08 1611.25h2.5v2.5h-2.5zM390.29 1527.32h2.32v2.32h-2.32zM390.53 1532.78h2.47v2.47h-2.47zM391.72 1535.53h2.17v2.17h-2.17zM390.86 1540.43h2.18v2.18h-2.18zM390.42 1545.72h1.84v1.84h-1.84zM389.12 1548.3h2.55v2.55h-2.55zM392.98 1553.59h1.7v1.7h-1.7zM388.01 1555.7h2.57v2.57h-2.57zM388.11 1559.16h1.85v1.85h-1.85zM390.41 1561.43h2.12v2.12h-2.12zM390.7 1566.33h2.34v2.34h-2.34zM388.23 1570.62h1.73v1.73h-1.73zM391.37 1576.69h2.66v2.66h-2.66zM391.5 1584.57h2.52v2.52h-2.52zM390.5 1585.08h2.31v2.31h-2.31zM390.47 1590.7h1.82v1.82h-1.82zM390.5 1592.84h1.8v1.8h-1.8zM388.91 1599.11h1.89v1.89h-1.89zM388.85 1604.56h2.59v2.59h-2.59zM391.39 1609.08h2.01v2.01h-2.01zM390.09 1608.21h2.49v2.49h-2.49zM396.15 1527h1.94v1.94h-1.94zM393.88 1532.48h2.44v2.44h-2.44zM394.37 1537.34h2.3v2.3h-2.3zM396.05 1541.39h2.26v2.26h-2.26zM393.92 1544.33h2.65v2.65h-2.65zM391.92 1549.05h2.67v2.67h-2.67zM395.74 1548.86h2.66v2.66h-2.66zM395.31 1556.59h1.75v1.75h-1.75zM392.76 1563.02h2.16v2.16h-2.16zM392.5 1568.21h1.92v1.92h-1.92zM391.93 1572.28h2.28v2.28h-2.28zM396.41 1577.2h2.21v2.21h-2.21zM396.08 1576.73h2.7v2.7h-2.7zM396.55 1581.71h2.64v2.64h-2.64zM394.73 1587.37h2.64v2.64h-2.64zM393.65 1592.48h2.05v2.05h-2.05zM395.28 1596.13h2.06v2.06h-2.06zM396.24 1597.21h1.87v1.87h-1.87zM392.8 1603.63h2.47v2.47h-2.47zM394.24 1605.32h2.23v2.23h-2.23zM393.41 1610.75h2.48v2.48h-2.48zM397.56 1528.01h2.13v2.13h-2.13zM396.43 1531.63h2.45v2.45h-2.45zM400.57 1536.6h2.37v2.37h-2.37zM398.06 1540.85h1.9v1.9h-1.9zM395.89 1545.26h2.19v2.19h-2.19zM399.04 1549.59h1.96v1.96h-1.96zM398.69 1553.39h2.27v2.27h-2.27zM399.19 1559.24h2.47v2.47h-2.47zM398.04 1565.17h2.12v2.12h-2.12zM398.63 1573.65h2.22v2.22h-2.22zM399.97 1578.23h1.76v1.76h-1.76zM396.32 1582.73h2.51v2.51h-2.51zM395.97 1586.08h2.57v2.57h-2.57zM400.08 1591.13h2.33v2.33h-2.33zM396.9 1595.2h1.85v1.85h-1.85zM396.89 1601.18h2.24v2.24h-2.24zM399.64 1603.87h2.27v2.27h-2.27zM399.15 1607.85h2v2h-2zM398.72 1609.97h1.74v1.74h-1.74zM399.83 1529.87h2.61v2.61h-2.61zM399.97 1532.04h2.63v2.63h-2.63zM400.35 1538.25h1.74v1.74h-1.74zM403.03 1538.44h2.35v2.35h-2.35zM400.54 1546.11h2.6v2.6h-2.6zM402.82 1550.49h2.22v2.22h-2.22zM403.82 1553.95h2.25v2.25h-2.25zM402.86 1558.45h2.23v2.23h-2.23zM404.18 1565.12h1.88v1.88h-1.88zM402.29 1568.28h1.96v1.96h-1.96zM403.49 1571.29h2.33v2.33h-2.33zM401.06 1575.67h1.7v1.7h-1.7zM402.38 1579.25h2.62v2.62h-2.62zM401.23 1583.94h2.51v2.51h-2.51zM402.58 1585.86h1.82v1.82h-1.82zM401.45 1596.95h2.28v2.28h-2.28zM401.1 1600.53h2.64v2.64h-2.64zM401.18 1604.67h2.03v2.03h-2.03zM403.73 1604.57h2.08v2.08h-2.08zM402.46 1610.2h2.33v2.33h-2.33zM404.73 1527.78h2.65v2.65h-2.65zM406.54 1533.02h1.87v1.87h-1.87zM404.6 1540.17h2.24v2.24h-2.24zM407.95 1542.72h1.79v1.79h-1.79zM406.54 1549.56h2.53v2.53h-2.53zM405.66 1550.73h2.43v2.43h-2.43zM404.46 1556.31h2.54v2.54h-2.54zM408 1559.79h2.39v2.39h-2.39zM408.16 1562.67h1.98v1.98h-1.98zM407.68 1569.36h2.35v2.35h-2.35zM404.98 1572.04h1.98v1.98h-1.98zM405.58 1576.26h1.94v1.94h-1.94zM407.09 1577.29h1.76v1.76h-1.76zM406.27 1583.57h1.72v1.72h-1.72zM404.7 1588.94h2.08v2.08h-2.08zM407.74 1591.26h2.66v2.66h-2.66zM404.74 1592.49h2.7v2.7h-2.7zM406.87 1598.14h2.11v2.11h-2.11zM403.94 1604.57h2.19v2.19h-2.19zM407.77 1605.11h1.91v1.91h-1.91zM406.36 1610.26h2.68v2.68h-2.68zM411.11 1530.49h2.59v2.59h-2.59zM408.76 1537.16h2.62v2.62h-2.62zM408.73 1540.57h2.5v2.5h-2.5zM408.01 1545.35h2.25v2.25h-2.25zM409.08 1547.52h2.13v2.13h-2.13zM412.36 1552.56h2.63v2.63h-2.63zM410.04 1553.94h1.85v1.85h-1.85zM411.65 1561.55h2.63v2.63h-2.63zM409.21 1565.15h2.42v2.42h-2.42zM409.82 1573.04h2.11v2.11h-2.11zM409.49 1576.48h2.64v2.64h-2.64zM410.55 1576.85h2.64v2.64h-2.64zM411.59 1584.74h2.28v2.28h-2.28zM410.88 1586.85h2.26v2.26h-2.26zM412.29 1593.31h1.72v1.72h-1.72zM411.05 1600.36h2.37v2.37h-2.37zM410.62 1605.09h2v2h-2zM408.15 1606h1.98v1.98h-1.98zM409.04 1609.99h1.79v1.79h-1.79zM415.15 1527h1.94v1.94h-1.94zM415.99 1533.87h2.51v2.51h-2.51zM412.64 1534.37h2.02v2.02h-2.02zM413.34 1541.52h2.11v2.11h-2.11zM412.83 1542.79h2.64v2.64h-2.64zM415.91 1548.84h2.39v2.39h-2.39zM415.54 1553.81h2.06v2.06h-2.06zM412.79 1557.54h2.42v2.42h-2.42zM414.18 1561.08h2.64v2.64h-2.64zM413.86 1561.12h2.7v2.7h-2.7zM416.06 1568.94h2.13v2.13h-2.13zM411.89 1570.22h2.34v2.34h-2.34zM414.06 1572.87h2.03v2.03h-2.03zM414.56 1577.35h2.5v2.5h-2.5zM416.42 1581h1.93v1.93h-1.93zM416.46 1588.03h1.95v1.95h-1.95zM412.15 1590.4h2.59v2.59h-2.59zM415.97 1599.62h2.16v2.16h-2.16zM412.43 1601.28h2.42v2.42h-2.42zM414.76 1607.33h1.95v1.95h-1.95zM415.31 1611.8h1.95v1.95h-1.95zM417.94 1527h2.68v2.68h-2.68zM419.7 1532.95h1.74v1.74h-1.74zM417.35 1535.78h2.25v2.25h-2.25zM419.29 1537.65h2.02v2.02h-2.02zM417.51 1547.23h2.32v2.32h-2.32zM417.65 1553.28h1.98v1.98h-1.98zM419.03 1554.37h2.63v2.63h-2.63zM416.25 1559.56h2.45v2.45h-2.45zM418.36 1565.07h1.78v1.78h-1.78zM418.36 1565.7h2.56v2.56h-2.56zM419.65 1573.37h2.51v2.51h-2.51zM420.37 1573.95h2.59v2.59h-2.59zM419.25 1577.62h2.68v2.68h-2.68zM417.45 1583.48h1.93v1.93h-1.93zM418.65 1588.51h2.47v2.47h-2.47zM416.91 1588.99h1.89v1.89h-1.89zM419.23 1600.68h1.84v1.84h-1.84zM420.31 1604.75h2.42v2.42h-2.42zM420.21 1607.86h1.96v1.96h-1.96zM416.65 1609.97h1.97v1.97h-1.97zM420.52 1527.72h2.61v2.61h-2.61zM420.04 1531.95h2.25v2.25h-2.25zM423.22 1541.87h2.15v2.15h-2.15zM420.83 1545.28h2.07v2.07h-2.07zM423.46 1546.26h2.59v2.59h-2.59zM423.63 1550.96h2.16v2.16h-2.16zM422.16 1554.91h1.9v1.9h-1.9zM424.09 1557.88h2.03v2.03h-2.03zM420.3 1562.44h2.68v2.68h-2.68zM423.86 1567.98h2.14v2.14h-2.14zM420.49 1571.02h2.08v2.08h-2.08zM422.81 1573.21h2.21v2.21h-2.21zM421.11 1576.57h2.56v2.56h-2.56zM420.37 1585.33h1.85v1.85h-1.85zM424.25 1588.34h2.09v2.09h-2.09zM420.06 1592.25h2.16v2.16h-2.16zM420.43 1596.5h2.15v2.15h-2.15zM420.4 1599.75h2.43v2.43h-2.43zM421.32 1605.1h2.11v2.11h-2.11zM421.25 1608.4h2.14v2.14h-2.14zM424.28 1609.08h2.6v2.6h-2.6zM426.85 1527h1.83v1.83h-1.83zM426.94 1530.98h1.81v1.81h-1.81zM423.93 1543.28h2.5v2.5h-2.5zM428.19 1551.12h2.67v2.67h-2.67zM427.64 1555.72h1.93v1.93h-1.93zM426.08 1560.72h2.21v2.21h-2.21zM426.53 1565.5h2.64v2.64h-2.64zM425.21 1567.56h1.87v1.87h-1.87zM425.63 1572.82h2.11v2.11h-2.11zM423.81 1573.65h2.04v2.04h-2.04zM423.9 1577.82h2.66v2.66h-2.66zM428.28 1584.5h1.91v1.91h-1.91zM423.87 1585.69h2.1v2.1h-2.1zM425.22 1591.46h2.02v2.02h-2.02zM427.72 1592.77h1.73v1.73h-1.73zM424.64 1597.18h2.1v2.1h-2.1zM428.07 1607.06h2.03v2.03h-2.03zM425.23 1610.54h2.03v2.03h-2.03zM427.84 1529.72h2.59v2.59h-2.59zM428.95 1529.47h2.67v2.67h-2.67zM432.27 1535.55h2v2h-2zM431.78 1539.38h2.09v2.09h-2.09zM428.16 1541.67h2.48v2.48h-2.48zM432.03 1546.37h1.84v1.84h-1.84zM429.73 1550.56h2.63v2.63h-2.63zM429.12 1554.76h2.7v2.7h-2.7zM431.3 1557.83h2.6v2.6h-2.6zM428.08 1564.08h2.58v2.58h-2.58zM428.27 1569.47h2.59v2.59h-2.59zM427.83 1570.6h1.99v1.99h-1.99zM428.43 1576.39h1.81v1.81h-1.81zM427.84 1578.64h2.29v2.29h-2.29zM427.92 1581.95h2.41v2.41h-2.41zM429.63 1585.84h2.21v2.21h-2.21zM429.49 1588.76h1.83v1.83h-1.83zM427.63 1593.45h2.35v2.35h-2.35zM429.5 1600.28h2.01v2.01h-2.01zM427.8 1600.69h2.29v2.29h-2.29zM432.19 1607.28h2.66v2.66h-2.66zM427.79 1608.66h2.28v2.28h-2.28zM433.49 1527h2.08v2.08h-2.08zM433.83 1532.33h2.54v2.54h-2.54zM433.35 1538.5h2.49v2.49h-2.49zM433.46 1543.51h2.51v2.51h-2.51zM432.86 1545.89h2.49v2.49h-2.49zM435.73 1550.99h2.12v2.12h-2.12zM432.58 1555.77h2.16v2.16h-2.16zM436.4 1561.09h1.92v1.92h-1.92zM433.04 1569.39h2.21v2.21h-2.21zM434.31 1574.23h2.63v2.63h-2.63zM432.62 1579.14h1.84v1.84h-1.84zM436.24 1582.02h1.71v1.71h-1.71zM433.09 1586.54h2.57v2.57h-2.57zM432.44 1597.24h2.05v2.05h-2.05zM431.93 1596.54h1.99v1.99h-1.99zM432.09 1602.82h1.96v1.96h-1.96zM435.12 1605.31h1.73v1.73h-1.73zM434.93 1609.67h2.51v2.51h-2.51zM436.78 1529.41h1.92v1.92h-1.92zM437.48 1535.62h2.24v2.24h-2.24zM436.33 1541.82h2.05v2.05h-2.05zM437.07 1541.74h2.29v2.29h-2.29zM438.03 1545.82h1.72v1.72h-1.72zM439.91 1550.53h2.24v2.24h-2.24zM439.57 1556.23h1.96v1.96h-1.96zM439.08 1561.53h2.27v2.27h-2.27zM436.06 1561.92h2.28v2.28h-2.28zM435.84 1570.5h2.57v2.57h-2.57zM440.42 1573.95h2.41v2.41h-2.41zM437.54 1577.07h1.92v1.92h-1.92zM435.81 1584.96h2.51v2.51h-2.51zM437.07 1586.13h2.25v2.25h-2.25zM439.41 1590.77h2.14v2.14h-2.14zM439.8 1596.34h1.92v1.92h-1.92zM437.78 1600.8h2.31v2.31h-2.31zM437.13 1601.71h1.89v1.89h-1.89zM436.81 1607.46h2.35v2.35h-2.35zM439.58 1608.01h2.68v2.68h-2.68zM439.79 1529.5h2.52v2.52h-2.52zM443.3 1533.36h2.68v2.68h-2.68zM440.19 1537.14h2.48v2.48h-2.48zM440.38 1541.09h2.17v2.17h-2.17zM442.79 1541.41h2.06v2.06h-2.06zM439.86 1546.3h2.33v2.33h-2.33zM444.21 1551.12h2.37v2.37h-2.37zM444.56 1556.98h1.97v1.97h-1.97zM441.23 1565.37h2.08v2.08h-2.08zM444.01 1569.01h2.17v2.17h-2.17zM443.7 1570.81h1.95v1.95h-1.95zM440.89 1575.38h2.12v2.12h-2.12zM440.4 1580.66h2.34v2.34h-2.34zM443.71 1581.84h2.3v2.3h-2.3zM442.76 1585.6h2.37v2.37h-2.37zM443.52 1594.3h2.51v2.51h-2.51zM442.99 1600.63h1.73v1.73h-1.73zM442.04 1602.46h2.43v2.43h-2.43zM440.5 1607.81h2.24v2.24h-2.24zM442.52 1608.5h1.81v1.81h-1.81zM443.9 1535.26h2.2v2.2h-2.2zM443.7 1541.39h2.34v2.34h-2.34zM445.27 1543.11h1.79v1.79h-1.79zM446.6 1547.87h1.97v1.97h-1.97zM444.91 1553.57h2.29v2.29h-2.29zM446.46 1556.86h2.01v2.01h-2.01zM444.2 1561h2.29v2.29h-2.29zM444.78 1561.82h2.62v2.62h-2.62zM445.28 1568.23h2.08v2.08h-2.08zM447.89 1569.92h2.38v2.38h-2.38zM447.89 1576.58h2.67v2.67h-2.67zM447.26 1580.4h1.75v1.75h-1.75zM445.85 1584.81h1.97v1.97h-1.97zM445.32 1599.24h2.09v2.09h-2.09zM445.81 1601.56h1.89v1.89h-1.89zM445.36 1606.27h1.88v1.88h-1.88zM447.17 1608.85h1.99v1.99h-1.99zM447.87 1528.28h1.85v1.85h-1.85zM448.65 1529.51h2.09v2.09h-2.09zM448.4 1535.31h1.83v1.83h-1.83zM451.5 1538.82h1.89v1.89h-1.89zM448.36 1548.53h1.92v1.92h-1.92zM449.82 1549.97h2.7v2.7h-2.7zM448.59 1554.62h2.39v2.39h-2.39zM450.49 1557.54h2.66v2.66h-2.66zM448.19 1564.96h1.92v1.92h-1.92zM449.07 1568.9h2.29v2.29h-2.29zM449.33 1571.8h2.41v2.41h-2.41zM449.84 1577.93h1.74v1.74h-1.74zM451.92 1584.51h2.46v2.46h-2.46zM451.32 1585.44h2.51v2.51h-2.51zM451.98 1592.62h2.18v2.18h-2.18zM452.46 1594.92h2.22v2.22h-2.22zM452.26 1598.42h2.09v2.09h-2.09zM449.42 1604.22h1.9v1.9h-1.9zM448.26 1606.49h1.83v1.83h-1.83zM455.43 1528.66h1.71v1.71h-1.71zM455.23 1530.05h2.11v2.11h-2.11zM453.35 1541.11h1.8v1.8h-1.8zM456.32 1544.6h2.36v2.36h-2.36zM452.42 1548.01h1.84v1.84h-1.84zM454.54 1550.89h2.59v2.59h-2.59zM453.44 1555.62h2.63v2.63h-2.63zM453.56 1557.64h2.56v2.56h-2.56zM456.08 1565.42h2.17v2.17h-2.17zM454.49 1566.22h2.2v2.2h-2.2zM454.79 1568.95h2.63v2.63h-2.63zM452.78 1575.41h2.64v2.64h-2.64zM455.53 1578.03h2.59v2.59h-2.59zM451.96 1581.93h2.34v2.34h-2.34zM454.12 1587.41h2.43v2.43h-2.43zM454.68 1590.68h1.93v1.93h-1.93zM456.07 1599.25h2.63v2.63h-2.63zM453.77 1603.67h2.29v2.29h-2.29zM455.99 1606.08h1.8v1.8h-1.8zM452.46 1608.73h2.01v2.01h-2.01zM457.6 1527h2v2h-2zM456.28 1532.94h2.04v2.04h-2.04zM457.58 1535.45h2.37v2.37h-2.37zM456.8 1538.48h2.65v2.65h-2.65zM456.6 1542.92h2.16v2.16h-2.16zM460.07 1547.75h2.27v2.27h-2.27zM459.53 1552.41h1.91v1.91h-1.91zM460.31 1553.52h1.7v1.7h-1.7zM455.76 1557.85h1.74v1.74h-1.74zM457.97 1562.48h1.86v1.86h-1.86zM459.82 1568.53h1.89v1.89h-1.89zM457.31 1569.16h2.15v2.15h-2.15zM458.25 1576.88h2.35v2.35h-2.35zM457.37 1577.21h2.39v2.39h-2.39zM456.76 1585.28h2.59v2.59h-2.59zM457.22 1588.44h2.36v2.36h-2.36zM455.95 1589.91h1.84v1.84h-1.84zM459.25 1596.43h2.09v2.09h-2.09zM456.57 1603.83h2.34v2.34h-2.34zM455.95 1611.29h2.28v2.28h-2.28zM460 1528.35h2.4v2.4h-2.4zM461.82 1537.32h1.87v1.87h-1.87zM463.1 1538.78h2.02v2.02h-2.02zM460.46 1541.21h2.29v2.29h-2.29zM460.81 1549.29h2.05v2.05h-2.05zM461.93 1552.03h2.09v2.09h-2.09zM460.59 1557.4h1.86v1.86h-1.86zM460.97 1557.7h2.4v2.4h-2.4zM463.25 1561.37h2.48v2.48h-2.48zM463.09 1568.29h2.08v2.08h-2.08zM460.58 1572.53h2.21v2.21h-2.21zM462.04 1578.95h2v2h-2zM460.33 1585.08h2.39v2.39h-2.39zM464.27 1585.23h2v2h-2zM460.28 1592.49h2.6v2.6h-2.6zM463.45 1595.59h2.23v2.23h-2.23zM461.02 1600.77h2.34v2.34h-2.34zM461.34 1605.51h2.6v2.6h-2.6zM460.79 1610.88h1.93v1.93h-1.93zM466.15 1527.91h2.47v2.47h-2.47zM467.64 1534.28h2.12v2.12h-2.12zM465.77 1535.39h1.89v1.89h-1.89zM465.31 1538.33h2.03v2.03h-2.03zM466.41 1541.88h2.59v2.59h-2.59zM467.89 1547.86h2.68v2.68h-2.68zM466.76 1551.71h1.92v1.92h-1.92zM464.07 1554.95h2.44v2.44h-2.44zM467.95 1559.79h2.68v2.68h-2.68zM467.28 1564.02h2.3v2.3h-2.3zM466.36 1567.97h2.14v2.14h-2.14zM466.5 1573.58h2.05v2.05h-2.05zM464.59 1576.12h1.99v1.99h-1.99zM463.3 1580.7h2.67v2.67h-2.67zM466.67 1581.65h2.44v2.44h-2.44zM464.03 1586.97h2.69v2.69h-2.69zM463.71 1592.05h2.27v2.27h-2.27zM464.38 1594.7h2.4v2.4h-2.4zM468.01 1599.74h2.05v2.05h-2.05zM465.33 1604.2h1.92v1.92h-1.92zM465.3 1606.18h2.35v2.35h-2.35zM464.41 1611.41h2.34v2.34h-2.34zM470.83 1529.19h2.17v2.17h-2.17zM467.94 1530.2h2.06v2.06h-2.06zM468.5 1534.54h2.02v2.02h-2.02zM467.97 1539.51h2.42v2.42h-2.42zM470.79 1545.09h1.94v1.94h-1.94zM469.53 1546.65h2.35v2.35h-2.35zM470.73 1553.41h2.27v2.27h-2.27zM468.36 1554.37h1.73v1.73h-1.73zM467.71 1557.19h2.28v2.28h-2.28zM470.31 1565.45h2.69v2.69h-2.69zM468.13 1565.67h2.21v2.21h-2.21zM468.24 1569.22h2.42v2.42h-2.42zM470.91 1576.59h2.09v2.09h-2.09zM467.5 1577.93h2.21v2.21h-2.21zM470.59 1584.66h2.41v2.41h-2.41zM469.29 1586.42h1.85v1.85h-1.85zM467.53 1590.2h2.38v2.38h-2.38zM470.89 1597.23h2.11v2.11h-2.11zM467.61 1597.91h2.44v2.44h-2.44zM469.89 1603.32h2.29v2.29h-2.29zM470.28 1606.11h2.42v2.42h-2.42zM470.44 1609.38h2.56v2.56h-2.56z" fill="#2a2cff" filter="url(#b0)"/>
<path d="M436.59 1534.42h2.77v2.77h-2.77zM455.43 1545.87h3.05v3.05h-3.05zM401.23 1564.71h2.59v2.59h-2.59zM465.99 1567.93h2.86v2.86h-2.86zM446.35 1552.16h2.61v2.61h-2.61zM425.06 1556.05h2.38v2.38h-2.38zM400.87 1608.51h3.03v3.03h-3.03zM400.61 1608.91h2.51v2.51h-2.51zM449.41 1566.92h2.62v2.62h-2.62zM422.17 1532.25h2.67v2.67h-2.67zM408.17 1603.02h2.77v2.77h-2.77zM410.44 1596.42h2.72v2.72h-2.72zM439.27 1588.42h2.86v2.86h-2.86zM405.11 1598.88h2.87v2.87h-2.87zM449.36 1588.94h2.41v2.41h-2.41zM467.45 1587.63h3.02v3.02h-3.02zM410.68 1554.1h2.99v2.99h-2.99zM468.83 1585.35h2.33v2.33h-2.33z" fill="#e436a4" filter="url(#b0)"/>
</g>
<text class="se" x="330" y="1338" font-size="13" text-anchor="middle">siRNA-NC</text>
<text class="se" x="428.4" y="1338" font-size="13" text-anchor="middle">HDAC1-siRNA</text>
<text class="se" font-size="15" text-anchor="middle" transform="translate(286 1386) rotate(-90)">Hoechst</text>
<text class="se" font-size="15" text-anchor="middle" transform="translate(286 1474.5) rotate(-90)">EdU</text>
<text class="se" font-size="15" text-anchor="middle" transform="translate(286 1574.5) rotate(-90)">Merge</text>
<rect x="564.5" y="1415.75" width="28.5" height="129.25" fill="#0000FF"/>
<path d="M578.75 1415.75V1405M572.34 1405H585.16" stroke="#0000FF" stroke-width="1.2" fill="none"/>
<rect x="608.25" y="1457" width="28.5" height="88" fill="#FF0000"/>
<path d="M622.5 1457V1455.5M616.09 1455.5H628.91" stroke="#FF0000" stroke-width="1.2" fill="none"/>
<path d="M548.25 1356.7V1545H652.5M542.25 1357.5H548.25M542.25 1420H548.25M542.25 1482.5H548.25M542.25 1545H548.25M578.75 1545V1551M622.5 1545V1551" stroke="#1a1a1a" stroke-width="1.6" fill="none"/>
<text class="sa" x="539.25" y="1361.64" font-size="11.5" text-anchor="end">15</text>
<text class="sa" x="539.25" y="1424.14" font-size="11.5" text-anchor="end">10</text>
<text class="sa" x="539.25" y="1486.64" font-size="11.5" text-anchor="end">5</text>
<text class="sa" x="539.25" y="1549.14" font-size="11.5" text-anchor="end">0</text>
<path d="M578.75 1395.75L622.5 1395.75" stroke="#1a1a1a" stroke-width="1.5"/>
<text class="se" x="600.75" y="1391.86" font-size="16" text-anchor="middle">*</text>
<text class="se" font-size="19" transform="translate(494.5 1535.5) rotate(-90)">Number of EdU</text>
<text class="se" font-size="19" transform="translate(517.5 1535.5) rotate(-90)">positive cells (%)</text>
<text class="se" font-size="16.3" text-anchor="end" transform="translate(580 1568) rotate(-29.5)">siRNA-NC</text>
<text class="se" font-size="16.3" text-anchor="end" transform="translate(652.5 1564) rotate(-29.5)">HDAC1-siRNA</text>
<rect x="1066.25" y="827.5" width="29.5" height="91.75" fill="#0000FF"/>
<path d="M1081 827.5V823M1074.36 823H1087.64" stroke="#0000FF" stroke-width="1.2" fill="none"/>
<rect x="1110.75" y="784.5" width="29.25" height="134.75" fill="#FF0000"/>
<path d="M1125.38 784.5V770.5M1118.79 770.5H1131.96" stroke="#FF0000" stroke-width="1.2" fill="none"/>
<path d="M1052 761.1V919.25H1155M1047 762H1052M1047 801.25H1052M1047 840.75H1052M1047 880H1052M1047 919.25H1052M1081 919.25V925.25M1125.38 919.25V925.25" stroke="#1a1a1a" stroke-width="1.8" fill="none"/>
<text class="se" x="1044" y="765.47" font-size="10.5" text-anchor="end">20</text>
<text class="se" x="1044" y="804.72" font-size="10.5" text-anchor="end">15</text>
<text class="se" x="1044" y="844.22" font-size="10.5" text-anchor="end">10</text>
<text class="se" x="1044" y="883.47" font-size="10.5" text-anchor="end">5</text>
<text class="se" x="1044" y="922.72" font-size="10.5" text-anchor="end">0</text>
<path d="M1078.25 762L1125.5 762" stroke="#1a1a1a" stroke-width="1.5"/>
<text class="se" x="1102" y="758.11" font-size="16" text-anchor="middle">*</text>
<text class="se" font-size="18.6" transform="translate(1000 919.5) rotate(-90)">The percentage of</text>
<text class="se" font-size="18.6" transform="translate(1021.5 919.5) rotate(-90)">apoptotic cells (%)</text>
<text class="se" x="1076.75" y="949.25" font-size="16" text-anchor="middle">DMSO</text>
<text class="se" x="1133.25" y="949.25" font-size="16" text-anchor="middle">TSA</text>
<rect x="1267.75" y="853.75" width="36.75" height="75.75" fill="#0000FF"/>
<path d="M1286.12 853.75V852.5M1277.86 852.5H1294.39" stroke="#0000FF" stroke-width="1.2" fill="none"/>
<rect x="1322" y="785.5" width="36.25" height="144" fill="#FF0000"/>
<path d="M1340.12 785.5V777M1331.97 777H1348.28" stroke="#FF0000" stroke-width="1.2" fill="none"/>
<path d="M1250.75 738.25V929.5H1377M1243.75 739.25H1250.75M1243.75 777.5H1250.75M1243.75 815.75H1250.75M1243.75 853.25H1250.75M1243.75 891.25H1250.75M1243.75 929.5H1250.75M1286.12 929.5V935.5M1340.12 929.5V935.5" stroke="#1a1a1a" stroke-width="2" fill="none"/>
<text class="se" x="1240.75" y="743.38" font-size="12.5" text-anchor="end">2.5</text>
<text class="se" x="1240.75" y="781.62" font-size="12.5" text-anchor="end">2.0</text>
<text class="se" x="1240.75" y="819.88" font-size="12.5" text-anchor="end">1.5</text>
<text class="se" x="1240.75" y="857.38" font-size="12.5" text-anchor="end">1.0</text>
<text class="se" x="1240.75" y="895.38" font-size="12.5" text-anchor="end">0.5</text>
<text class="se" x="1240.75" y="933.62" font-size="12.5" text-anchor="end">0.0</text>
<path d="M1287 769.5L1342 769.5" stroke="#1a1a1a" stroke-width="1.5"/>
<text class="se" x="1314.5" y="763.82" font-size="17" text-anchor="middle">**</text>
<text class="se" font-size="18" text-anchor="middle" transform="translate(1188 835) rotate(-90)">Caspase 3/7 activity</text>
<text class="se" font-size="18" text-anchor="middle" transform="translate(1209.5 835) rotate(-90)">(fold change)</text>
<text class="se" x="1286.25" y="953" font-size="13.7" text-anchor="middle">DMSO</text>
<text class="se" x="1340.75" y="953" font-size="13.7" text-anchor="middle">TSA</text>
<rect x="1067" y="1459.25" width="32.5" height="93.25" fill="#0000FF"/>
<path d="M1083.25 1459.25V1449.25M1075.94 1449.25H1090.56" stroke="#0000FF" stroke-width="1.2" fill="none"/>
<rect x="1116.25" y="1401.75" width="32.75" height="150.75" fill="#FF0000"/>
<path d="M1132.62 1401.75V1393.25M1125.26 1393.25H1139.99" stroke="#FF0000" stroke-width="1.2" fill="none"/>
<path d="M1050.75 1383.6V1552.5H1165.75M1043.75 1384.5H1050.75M1043.75 1426.25H1050.75M1043.75 1468.75H1050.75M1043.75 1510.5H1050.75M1043.75 1552.5H1050.75M1083.25 1552.5V1558.5M1132.62 1552.5V1558.5" stroke="#1a1a1a" stroke-width="1.8" fill="none"/>
<text class="sa" x="1040.75" y="1388.64" font-size="11.5" text-anchor="end">20</text>
<text class="sa" x="1040.75" y="1430.39" font-size="11.5" text-anchor="end">15</text>
<text class="sa" x="1040.75" y="1472.89" font-size="11.5" text-anchor="end">10</text>
<text class="sa" x="1040.75" y="1514.64" font-size="11.5" text-anchor="end">5</text>
<text class="sa" x="1040.75" y="1556.64" font-size="11.5" text-anchor="end">0</text>
<path d="M1081.75 1380.5L1132.5 1380.5" stroke="#1a1a1a" stroke-width="1.5"/>
<text class="se" x="1106.25" y="1377.36" font-size="16" text-anchor="middle">*</text>
<text class="se" font-size="18.6" transform="translate(990 1544) rotate(-90)">The percentage of</text>
<text class="se" font-size="18.6" transform="translate(1012.5 1544) rotate(-90)">apoptotic cells (%)</text>
<text class="se" font-size="16.3" text-anchor="end" transform="translate(1094 1573) rotate(-29.5)">siRNA-NC</text>
<text class="se" font-size="16.3" text-anchor="end" transform="translate(1166 1566.5) rotate(-29.5)">HDAC1-siRNA</text>
<rect x="1274.5" y="1427.5" width="33.75" height="118" fill="#0000FF"/>
<path d="M1291.38 1427.5V1422.5M1283.78 1422.5H1298.97" stroke="#0000FF" stroke-width="1.2" fill="none"/>
<rect x="1326.5" y="1391.25" width="34.25" height="154.25" fill="#FF0000"/>
<path d="M1343.62 1391.25V1382.5M1335.92 1382.5H1351.33" stroke="#FF0000" stroke-width="1.2" fill="none"/>
<path d="M1257 1367V1545.5H1378.25M1250 1368H1257M1250 1427.5H1257M1250 1486.75H1257M1250 1545.5H1257M1291.38 1545.5V1551.5M1343.62 1545.5V1551.5" stroke="#1a1a1a" stroke-width="2" fill="none"/>
<text class="se" x="1247" y="1372.12" font-size="12.5" text-anchor="end">1.5</text>
<text class="se" x="1247" y="1431.62" font-size="12.5" text-anchor="end">1.0</text>
<text class="se" x="1247" y="1490.88" font-size="12.5" text-anchor="end">0.5</text>
<text class="se" x="1247" y="1549.62" font-size="12.5" text-anchor="end">0.0</text>
<path d="M1292 1373.25L1344.5 1373.25" stroke="#1a1a1a" stroke-width="1.5"/>
<text class="se" x="1318.25" y="1368.57" font-size="17" text-anchor="middle">**</text>
<text class="se" font-size="16.7" text-anchor="middle" transform="translate(1197 1457) rotate(-90)">Caspase 3/7 activity</text>
<text class="se" font-size="16.7" text-anchor="middle" transform="translate(1218 1457) rotate(-90)">(fold change)</text>
<text class="se" font-size="13.4" text-anchor="end" transform="translate(1295.67 1563.5) rotate(-45)">siRNA-NC</text>
<text class="se" font-size="13.4" text-anchor="end" transform="translate(1347.92 1565) rotate(-45)">HDAC1-siRNA</text>
<clipPath id="fc1"><rect x="682.25" y="767.25" width="132.25" height="144.25"/></clipPath>
<radialGradient id="fg1" gradientUnits="userSpaceOnUse" cx="725" cy="867.5" r="33.15" gradientTransform="translate(725 867.5) scale(1 0.62) translate(-725 -867.5)"><stop offset="0" stop-color="#ff1010" stop-opacity="0.95"/><stop offset="0.45" stop-color="#ff2020" stop-opacity="0.55"/><stop offset="1" stop-color="#ff3030" stop-opacity="0"/></radialGradient>
<g clip-path="url(#fc1)">
<rect x="687.6" y="842" width="74.8" height="51" fill="url(#fg1)"/>
<path d="M732.2 866.4h1M715.2 874.8h1M736.6 875.0h1M703.2 884.6h1M721.6 874.1h1M760.0 823.7h1M753.9 849.1h1M683.1 880.7h1M734.9 866.7h1M715.6 889.5h1M701.6 869.6h1M741.8 857.0h1M721.6 885.7h1M717.6 867.8h1M705.9 867.2h1M737.0 868.0h1M729.3 845.7h1M717.9 881.1h1M729.1 878.7h1M744.3 807.2h1M720.5 849.8h1M734.1 862.2h1M729.2 849.6h1M765.2 817.1h1M699.7 885.0h1M743.3 877.8h1M720.3 909.6h1M690.9 893.8h1M700.5 868.7h1M725.1 873.9h1M689.2 870.0h1M715.5 874.8h1M754.6 851.2h1M706.2 875.3h1M729.6 850.8h1M696.6 891.3h1M697.6 867.4h1M735.6 870.2h1M737.8 858.1h1M703.8 868.0h1M740.9 848.5h1M686.3 908.9h1M737.3 858.0h1M791.0 801.2h1M715.0 863.2h1M744.1 871.9h1M694.6 872.0h1M702.8 887.1h1M755.2 868.7h1M770.2 855.3h1M719.1 864.8h1M704.0 862.2h1M729.0 869.0h1M687.3 894.7h1M734.1 859.9h1M726.9 857.6h1M795.9 835.7h1M725.0 824.1h1M701.1 885.6h1M729.7 879.6h1M758.4 850.1h1M723.0 864.6h1M737.9 827.0h1M700.7 874.7h1M724.5 856.0h1M720.2 863.1h1M744.5 852.6h1M741.7 869.1h1M698.1 882.4h1M744.9 808.2h1M715.1 873.4h1M749.2 873.5h1M720.2 871.1h1M727.7 838.6h1M722.3 883.3h1M710.9 900.9h1M761.2 874.0h1M696.0 877.8h1M783.4 812.2h1M705.4 882.3h1M762.2 848.7h1M716.3 867.5h1M733.0 869.0h1M742.8 859.0h1M695.1 887.3h1M722.2 872.0h1M714.6 857.4h1M724.8 873.8h1M742.8 859.9h1M696.7 866.5h1M736.7 798.2h1M696.2 861.8h1M744.9 864.4h1M728.6 866.2h1M726.6 887.9h1M733.8 801.7h1M705.3 873.4h1M795.7 809.7h1M754.4 873.9h1M730.9 855.0h1M700.0 874.2h1M747.1 859.8h1M717.1 864.4h1M723.1 866.2h1M730.0 882.1h1M726.0 860.9h1M718.5 873.3h1M697.6 878.0h1M725.4 867.5h1M728.1 869.6h1M739.4 864.8h1M780.4 835.5h1M728.8 875.1h1M737.8 861.8h1M766.3 799.8h1M715.6 878.3h1M728.9 892.1h1M712.5 881.5h1M733.7 875.3h1M696.5 885.8h1M725.3 881.3h1M731.5 874.1h1M710.7 876.4h1M712.4 812.8h1M737.8 862.7h1M720.1 880.1h1M703.5 870.4h1M721.8 884.1h1M736.7 830.8h1M722.4 870.9h1M718.1 878.1h1M701.6 860.4h1M728.1 869.6h1M722.1 887.5h1M752.2 874.3h1M728.7 871.7h1M717.2 870.6h1M717.0 874.4h1M756.9 869.8h1M736.9 862.5h1M701.1 862.0h1M736.2 851.9h1M728.7 869.1h1M729.2 847.1h1M733.5 861.5h1M736.8 870.5h1M732.0 873.8h1M724.3 870.8h1M717.6 878.7h1M738.9 871.6h1M749.5 893.1h1M731.3 848.4h1M759.6 835.0h1M731.5 881.5h1M733.0 872.8h1M695.5 857.0h1M708.2 870.2h1M768.6 784.4h1M746.1 868.2h1M776.1 867.6h1M739.6 881.2h1M705.0 879.7h1M749.9 869.3h1M746.4 851.4h1M716.0 884.8h1M712.2 859.0h1M723.6 882.0h1M734.6 820.2h1M713.0 877.2h1M685.6 889.5h1M704.9 874.9h1M703.7 889.5h1M697.4 873.3h1M770.6 816.7h1M749.0 851.7h1M698.4 863.9h1M689.4 867.5h1M718.0 868.1h1M736.6 851.0h1M728.8 871.4h1M749.5 855.9h1M704.9 896.4h1M730.5 871.3h1M735.1 850.1h1M763.8 791.4h1M704.5 827.1h1M702.8 874.5h1M762.0 842.3h1M721.3 883.6h1M713.7 840.9h1M706.3 894.6h1M688.9 899.9h1M726.0 860.3h1M749.3 858.4h1M716.5 870.8h1M748.2 874.5h1M742.7 874.7h1M718.6 858.4h1M727.4 873.5h1M722.1 887.3h1M717.6 869.7h1M725.5 870.0h1M711.4 839.5h1M747.8 860.8h1M730.6 871.4h1M753.9 860.2h1M732.2 871.6h1M758.6 831.6h1M729.5 874.3h1M762.3 855.2h1M742.7 860.8h1M688.5 886.0h1M741.2 871.0h1M719.9 875.6h1M750.5 871.4h1M758.8 851.5h1M726.3 868.2h1M699.2 883.8h1M758.2 833.6h1M730.3 861.0h1M739.4 864.3h1M727.6 877.2h1M735.0 861.8h1M727.1 858.4h1M724.8 870.0h1M722.2 876.8h1M767.6 790.3h1M744.8 850.3h1M701.6 873.4h1M721.5 883.9h1M739.9 867.8h1M730.4 862.1h1M715.0 882.9h1M742.3 873.9h1M743.6 867.9h1M701.8 855.0h1M759.6 864.2h1M726.1 879.4h1M714.8 882.9h1M695.0 875.7h1M720.9 859.3h1M717.2 872.7h1M763.1 795.6h1M735.7 875.5h1M727.0 872.2h1M723.8 868.2h1M720.1 879.7h1M732.7 858.4h1M720.4 855.3h1M752.2 864.3h1M775.9 837.8h1M770.7 824.1h1M747.6 822.5h1M734.8 858.1h1M756.1 824.6h1M710.6 878.8h1M739.9 832.9h1M698.2 868.7h1M712.3 879.2h1M742.7 804.1h1M701.2 869.5h1M709.7 880.5h1M719.2 861.6h1M732.2 876.4h1M716.8 793.3h1M744.7 815.0h1M731.6 882.2h1M693.5 900.3h1M712.3 880.5h1M727.7 868.4h1M766.2 812.3h1M710.1 871.8h1M749.3 859.6h1M755.4 805.9h1M721.6 858.7h1M749.1 845.2h1M727.8 867.7h1M710.2 877.6h1M743.1 852.8h1M719.3 862.4h1M708.9 856.4h1M730.5 877.5h1M771.0 791.3h1M750.7 852.4h1M712.3 868.5h1M710.9 881.8h1M698.8 858.0h1M746.6 862.0h1M715.2 870.2h1M725.9 873.9h1M745.6 848.0h1M731.9 891.9h1M785.3 855.8h1M726.8 869.4h1M733.6 867.4h1M704.5 880.7h1M772.0 807.9h1M756.1 854.3h1M729.5 878.5h1M752.4 792.7h1M741.8 863.5h1M715.8 875.0h1M682.6 883.0h1M700.5 876.4h1M705.8 865.6h1M765.2 838.7h1M713.9 884.8h1M729.0 840.2h1M718.5 853.0h1M737.5 838.8h1M709.3 857.8h1M729.0 808.8h1M746.3 872.9h1M752.8 861.1h1M690.4 869.4h1M728.1 810.7h1M725.5 863.3h1M694.5 870.2h1M706.3 886.2h1M730.1 871.4h1M698.7 861.1h1M753.7 867.6h1M705.3 851.1h1M744.5 865.5h1M717.6 901.1h1M725.9 876.3h1M747.3 873.8h1M728.9 851.7h1M722.5 872.6h1M719.6 858.4h1M762.3 790.1h1M694.9 854.9h1M718.6 860.0h1M733.3 892.6h1M743.8 850.4h1M727.3 858.5h1M718.3 868.2h1M742.1 867.7h1M688.8 899.9h1M707.8 885.0h1M749.2 883.8h1M724.1 884.5h1M743.3 784.8h1M713.7 893.8h1M725.2 839.5h1M804.6 823.5h1M700.8 856.7h1M755.7 851.3h1M739.9 805.1h1M723.1 878.1h1M742.3 871.8h1M694.7 874.3h1M764.9 845.8h1M719.9 877.1h1M707.4 859.3h1M737.4 841.5h1M737.9 853.4h1M746.5 862.1h1M771.1 819.9h1M715.3 882.6h1M713.7 862.3h1M723.3 858.4h1M718.0 872.2h1M730.2 879.8h1M753.2 818.7h1M698.9 868.3h1M734.9 866.9h1M694.1 867.3h1M694.2 886.4h1M745.9 864.7h1M687.7 872.9h1M691.5 890.8h1M718.9 858.5h1M729.0 870.4h1M736.8 859.9h1M733.6 877.3h1M700.0 885.0h1M754.7 813.8h1M736.5 819.3h1M689.1 858.5h1M738.6 856.0h1M727.0 871.2h1M781.8 843.0h1M742.6 855.9h1M701.1 903.4h1M735.5 851.9h1M715.6 884.4h1M713.2 882.5h1M711.0 863.6h1M686.5 857.3h1M736.7 852.5h1M696.8 882.6h1M736.1 797.7h1M694.1 890.0h1M720.0 858.4h1M764.6 825.1h1M759.8 854.5h1M745.2 851.9h1M689.1 888.5h1M747.6 865.5h1M683.3 893.8h1M708.3 807.1h1M709.8 867.9h1M748.3 872.6h1M717.8 879.3h1M711.8 858.5h1M774.3 830.9h1M709.4 867.9h1M720.2 871.5h1M741.7 904.5h1M788.2 844.3h1M733.5 859.4h1M720.1 858.0h1M729.0 868.0h1M751.8 807.4h1M788.5 802.2h1M686.6 868.6h1M691.1 895.8h1M760.3 856.0h1M726.5 869.0h1M786.7 820.6h1M708.4 904.2h1M741.0 862.5h1M741.6 841.4h1M719.8 887.9h1M727.2 810.1h1M693.4 881.9h1M708.8 864.9h1M693.6 893.4h1M791.9 807.5h1M761.5 817.4h1M689.3 852.1h1M716.3 850.8h1M746.4 853.6h1M753.5 866.6h1M698.8 864.9h1M743.2 844.7h1M714.9 905.4h1M693.1 872.8h1M759.0 868.3h1M684.0 884.1h1M774.1 799.2h1M753.7 857.8h1M747.5 879.0h1M691.9 888.2h1M712.3 838.9h1M766.8 812.4h1M712.4 879.4h1M743.4 855.7h1M736.5 877.0h1M739.7 875.5h1M719.6 864.1h1M738.1 846.3h1M762.3 825.2h1M733.0 868.1h1M711.0 880.5h1M727.0 877.6h1M719.7 884.2h1M747.7 852.8h1M740.9 850.4h1M737.1 869.2h1M750.5 857.5h1M719.7 884.1h1M721.6 857.8h1M719.2 884.4h1M686.1 897.4h1M706.6 879.7h1M714.9 874.5h1M740.5 803.7h1M727.4 885.5h1M713.5 884.2h1M750.0 876.0h1M758.2 862.0h1M705.3 790.2h1M738.3 877.1h1M726.6 865.4h1M727.8 886.7h1M730.4 852.3h1M709.6 884.7h1M702.7 863.0h1M697.2 865.9h1M762.3 851.7h1M705.4 891.2h1M743.4 866.1h1M751.1 841.6h1M737.4 845.1h1M712.2 873.3h1M751.7 802.1h1M722.8 874.6h1M723.3 870.5h1M762.4 847.3h1M747.3 795.5h1M747.7 804.4h1M738.9 859.3h1M735.8 873.9h1M693.7 867.8h1M724.5 857.3h1M693.0 888.9h1M747.8 852.5h1M752.1 856.4h1M716.9 894.1h1M699.4 895.0h1M728.9 894.4h1M743.1 860.2h1M718.8 819.0h1M713.0 871.9h1M719.5 876.6h1M708.7 864.7h1M718.6 855.8h1M713.3 818.4h1M713.7 819.4h1M749.0 802.8h1M808.1 800.9h1M686.9 877.5h1M715.4 853.3h1M739.7 843.1h1M700.7 870.8h1M772.7 841.4h1M723.2 863.9h1M719.8 870.0h1M718.5 859.4h1M760.6 827.3h1M718.7 872.4h1M727.3 874.3h1M698.7 856.4h1M734.3 792.4h1M719.9 862.9h1M711.4 894.1h1M701.2 881.3h1M694.5 880.8h1M735.1 858.7h1M704.2 878.9h1M714.3 876.9h1M751.9 864.9h1M706.2 895.5h1M790.3 831.1h1M726.4 827.9h1M736.9 859.1h1M722.6 859.0h1M727.8 872.1h1M763.2 821.2h1M723.7 883.4h1M699.9 884.3h1M718.1 870.1h1M739.6 882.6h1M725.8 812.2h1M704.0 778.7h1M766.2 804.6h1M729.7 891.6h1M726.2 883.8h1M731.4 860.3h1M727.3 862.6h1M732.3 858.6h1M731.5 884.9h1M713.1 874.3h1M721.7 862.4h1M720.5 869.0h1M753.0 870.2h1M750.4 792.6h1M756.4 860.0h1M724.5 820.5h1M724.4 856.6h1M709.7 864.3h1M708.1 894.1h1M728.3 808.3h1M722.7 884.2h1M748.1 819.6h1M720.8 904.8h1M732.2 862.2h1M729.0 858.0h1M704.9 882.6h1M751.9 815.9h1M693.8 878.9h1M754.9 790.3h1M701.2 866.1h1M764.4 843.9h1M769.8 815.4h1M744.3 865.7h1M712.1 871.4h1M767.1 848.3h1M752.2 840.8h1M752.5 836.3h1M729.7 801.5h1M683.1 871.6h1M713.0 870.4h1M735.4 859.2h1M705.0 861.1h1M708.1 858.4h1M717.2 874.2h1M784.6 817.0h1M712.5 870.0h1M730.5 876.1h1M732.2 864.0h1M749.0 877.2h1M765.2 848.8h1M718.4 885.9h1M793.4 805.1h1M733.3 881.7h1M743.1 848.3h1M741.0 834.8h1M714.5 877.6h1M710.4 888.6h1M725.0 858.0h1M758.8 856.3h1M729.0 883.0h1M729.0 863.9h1M734.0 890.7h1M755.3 866.4h1M695.3 871.8h1M730.8 866.9h1M745.6 863.7h1M740.5 864.3h1M723.1 870.4h1M725.0 873.1h1M693.2 862.0h1M717.9 870.7h1M736.8 833.0h1M754.7 826.8h1M754.1 858.2h1M737.2 844.5h1M708.4 869.1h1M701.9 870.3h1M714.4 845.3h1M729.1 865.9h1M747.8 851.7h1M805.8 824.2h1M752.1 843.7h1M730.5 882.4h1M734.4 868.9h1M711.6 877.0h1M695.3 879.2h1M719.0 862.6h1M696.2 795.1h1M718.1 858.3h1M697.9 871.1h1M747.1 803.4h1M705.2 872.1h1M726.3 871.0h1M703.9 860.6h1M715.9 878.6h1M739.0 867.9h1M745.4 806.0h1M727.2 858.9h1M731.6 854.4h1M731.3 863.9h1M727.8 865.7h1M700.4 885.1h1M742.5 846.5h1M721.1 881.9h1M782.1 851.8h1M711.8 860.3h1M720.1 869.4h1M740.5 871.4h1M761.0 847.6h1M717.3 867.1h1M749.7 863.8h1M702.1 892.8h1M715.4 866.4h1M728.0 856.5h1M716.6 869.4h1M802.7 811.9h1M743.0 863.7h1M710.0 874.5h1M712.4 868.5h1M735.5 858.5h1M750.7 859.4h1M746.3 841.3h1M693.9 883.8h1M735.6 848.8h1M738.4 860.6h1M756.6 864.7h1M717.0 886.5h1M766.5 815.4h1M724.9 832.3h1M801.1 817.0h1M753.9 806.4h1M739.6 854.9h1M728.3 863.6h1M735.1 871.5h1M746.7 868.8h1M732.1 877.5h1M735.2 859.2h1M717.0 868.1h1M708.4 860.8h1M753.1 852.7h1M758.4 837.3h1M768.4 814.1h1M745.0 859.5h1M689.7 875.0h1M694.2 864.4h1M759.2 862.8h1M736.6 866.2h1M705.9 890.3h1M690.5 894.2h1M705.1 892.2h1M755.6 861.4h1M716.6 877.9h1M731.0 851.7h1M724.4 852.4h1M725.7 866.0h1M714.1 790.9h1M736.2 863.8h1M706.6 851.2h1M696.1 869.0h1M716.8 888.0h1M729.4 860.1h1M726.1 870.5h1M704.5 858.2h1M748.2 811.3h1M710.6 862.7h1M685.7 874.8h1M719.5 865.0h1M743.3 845.9h1M726.1 867.7h1M722.8 885.6h1M744.2 847.0h1M727.5 872.1h1M755.4 819.5h1M782.7 798.4h1M724.0 873.7h1M767.2 833.8h1M724.8 859.7h1M730.2 896.7h1M750.9 876.3h1M714.7 903.3h1M690.0 873.2h1M694.4 887.8h1M749.4 867.7h1M728.5 874.4h1M731.4 881.7h1M765.5 792.4h1M727.0 874.2h1M723.5 810.1h1M741.7 866.0h1M769.7 808.5h1M728.6 870.7h1M754.2 817.2h1M725.0 861.8h1M698.7 894.3h1M729.9 856.7h1M698.8 873.6h1M716.3 864.0h1M719.4 879.7h1M753.3 785.0h1M705.2 877.4h1M715.5 866.8h1M712.2 850.8h1M709.0 864.8h1M721.2 866.2h1M717.3 880.8h1M728.4 860.5h1M700.9 878.2h1M731.0 850.5h1M703.8 859.9h1M750.1 855.3h1M751.4 792.5h1M688.3 856.1h1M722.5 866.8h1M709.9 895.5h1M713.5 872.3h1M733.5 866.4h1M746.3 863.4h1M736.2 852.5h1M733.4 869.8h1M709.4 867.9h1M804.0 842.5h1" stroke="#ff2020" stroke-width="1" opacity="0.72"/>
<path d="M717.4 880.7h1M748.2 864.1h1M743.0 858.3h1M682.3 876.0h1M725.2 890.1h1M764.7 819.4h1M765.8 794.0h1M755.6 800.7h1M699.3 811.9h1M726.1 827.3h1M720.8 859.4h1M737.5 835.1h1M716.9 856.3h1M778.9 814.5h1M742.4 878.6h1M724.4 890.4h1M700.8 801.0h1M733.6 879.5h1M799.9 826.2h1M739.6 820.8h1M719.7 868.1h1M731.1 860.2h1M713.8 892.9h1M723.4 885.8h1M741.7 814.1h1M718.3 872.5h1M713.5 871.8h1M710.1 893.7h1M746.7 872.8h1M717.7 888.0h1M735.7 875.9h1M711.8 890.8h1M733.8 876.6h1M724.1 868.8h1M718.5 860.8h1M722.1 854.5h1M722.2 862.8h1M728.7 851.8h1M741.7 859.8h1M731.4 858.3h1M771.5 808.2h1M719.7 880.3h1M701.0 869.6h1M730.2 867.7h1M710.3 864.2h1M725.6 893.0h1M696.6 880.0h1M732.8 871.1h1M693.9 881.4h1M712.4 883.9h1M722.6 882.3h1M742.3 866.6h1M724.3 885.8h1M738.1 866.5h1M743.6 875.8h1M712.4 856.3h1M683.2 881.7h1M737.3 842.8h1M716.9 870.7h1M738.2 868.8h1M732.9 863.7h1M715.2 871.6h1M728.1 863.6h1M740.3 862.4h1M735.2 862.6h1M725.6 890.4h1M729.6 849.0h1M729.1 801.6h1M741.2 825.0h1M743.8 867.4h1M700.9 883.2h1M737.1 880.7h1M718.8 877.7h1M703.5 866.8h1M718.5 893.9h1M728.9 843.9h1M695.7 886.8h1M703.5 868.4h1M786.2 808.6h1M738.2 867.0h1M755.0 853.4h1M762.7 809.1h1M734.5 869.5h1M745.0 867.0h1M715.4 874.6h1M765.3 808.1h1M720.7 845.0h1M717.4 901.5h1M706.8 880.4h1M703.9 886.0h1M733.5 878.7h1M746.1 806.4h1M770.2 811.2h1M718.3 872.2h1M723.2 884.0h1M743.0 832.6h1M775.4 857.3h1M769.2 822.5h1M720.9 903.5h1M720.6 872.3h1M737.8 858.1h1M732.1 865.6h1M749.9 840.8h1M692.7 868.7h1M736.5 837.2h1M734.9 858.5h1M731.4 849.6h1M726.5 876.7h1M722.0 909.8h1M701.2 870.4h1M717.4 857.1h1M734.7 807.2h1M764.2 843.6h1M768.1 800.1h1M774.8 797.9h1M777.0 854.6h1M726.9 878.1h1M719.2 860.0h1M743.7 883.2h1M733.9 848.8h1M718.8 866.8h1M702.3 876.6h1M723.8 881.3h1M709.6 860.5h1M733.2 849.5h1M758.4 845.8h1M686.3 883.7h1M694.4 874.7h1M726.9 881.5h1M716.9 887.5h1M733.7 865.1h1M684.4 905.6h1M741.0 861.9h1M720.7 861.9h1M727.5 892.7h1M767.5 841.6h1M743.8 832.6h1M689.7 904.5h1M737.1 852.7h1M726.2 854.7h1M733.2 902.0h1M696.2 876.4h1M689.3 829.5h1M756.4 870.2h1M732.6 870.4h1M714.5 886.3h1M734.2 875.6h1M751.2 865.5h1M713.5 862.3h1M767.8 853.6h1M705.8 896.8h1M780.3 854.4h1M776.2 805.8h1M784.8 798.0h1M743.4 868.8h1M723.0 873.4h1M741.4 880.4h1M697.2 870.4h1M738.8 789.9h1M761.7 884.2h1M728.2 881.1h1M737.4 864.3h1M716.2 868.6h1M704.9 877.2h1M713.0 868.5h1M729.6 847.0h1M730.2 858.5h1M747.9 856.0h1M717.9 890.7h1M707.2 870.7h1M731.3 876.1h1M742.9 857.4h1M699.2 893.5h1M770.4 851.3h1M731.5 871.4h1M703.1 876.5h1M733.7 800.9h1M698.6 878.7h1M725.1 862.4h1M700.5 893.0h1M733.8 874.0h1M774.5 809.1h1M741.3 858.9h1M726.2 870.0h1M703.4 878.2h1M729.4 871.5h1M715.3 850.6h1M729.0 872.7h1M736.4 841.7h1M747.3 863.9h1M714.3 888.2h1M722.5 873.3h1M763.4 836.9h1M733.7 875.4h1M707.1 881.0h1M715.7 850.4h1M715.0 866.0h1M740.1 864.0h1M765.2 874.4h1M718.3 853.0h1M711.2 807.7h1M734.6 867.4h1M728.1 872.8h1M732.6 893.3h1M732.1 865.8h1M696.5 859.8h1M770.5 849.6h1M775.5 806.1h1M779.8 849.9h1M736.6 883.8h1M713.7 854.0h1M760.0 839.8h1M732.2 800.4h1M714.3 868.8h1M745.1 846.2h1M724.2 843.6h1M724.1 890.3h1M724.3 879.5h1M741.1 857.3h1M724.1 857.7h1M729.7 870.0h1M780.8 803.3h1M737.3 876.0h1M742.4 776.0h1M741.5 863.5h1M712.0 876.0h1M704.3 886.6h1M766.3 817.7h1M702.6 849.8h1M728.4 861.5h1M786.0 814.4h1M719.3 869.1h1M787.1 796.0h1M723.7 897.8h1M714.1 875.7h1M697.2 877.1h1M737.3 869.6h1M707.9 861.1h1M728.4 796.1h1M716.2 870.2h1M688.9 902.9h1M743.3 865.0h1M732.5 874.3h1M701.2 870.4h1M721.7 903.8h1M754.1 863.1h1M684.0 873.7h1M755.2 868.4h1M710.6 866.6h1M696.4 874.5h1M738.7 834.6h1M714.6 876.0h1M712.7 882.9h1M721.1 862.8h1M702.5 890.6h1M687.3 881.4h1M717.8 861.5h1M731.5 872.2h1M765.9 846.1h1M723.2 883.6h1M726.6 883.3h1M738.3 846.0h1M703.7 881.3h1M725.2 868.8h1M714.4 885.0h1M732.6 851.3h1M709.9 880.0h1M699.8 893.9h1M743.1 861.9h1M755.4 819.1h1M716.4 869.1h1M757.9 812.5h1M765.2 819.4h1M712.5 878.5h1M699.6 888.9h1M703.9 905.3h1M720.3 878.2h1M736.7 867.9h1M725.6 860.0h1M721.5 894.4h1M711.5 883.2h1M744.8 869.7h1M785.6 803.6h1M739.0 867.7h1M717.7 883.2h1M735.4 867.9h1M708.4 879.9h1M767.2 824.9h1M697.1 872.9h1M708.5 894.1h1M747.9 820.3h1M757.3 800.7h1M748.9 796.6h1M717.3 875.5h1M744.4 880.1h1M704.4 876.8h1M736.0 848.9h1M730.6 873.3h1M749.9 823.4h1M737.6 886.9h1M722.8 859.8h1M756.1 877.7h1M731.3 861.0h1M734.3 855.1h1M740.4 873.4h1M748.1 866.3h1M749.0 866.6h1M731.6 803.9h1M692.3 862.0h1M752.9 830.4h1M723.5 854.3h1M700.0 862.6h1M724.5 881.5h1M719.9 869.8h1M759.2 811.4h1M778.3 813.6h1M744.9 854.9h1M731.4 863.7h1M731.3 886.2h1M732.8 857.1h1M699.7 898.3h1M707.2 880.3h1M727.3 862.4h1M716.7 874.9h1M724.3 865.4h1M760.4 834.9h1M726.6 871.2h1M740.6 847.0h1M694.3 866.2h1M721.1 858.7h1M768.4 859.8h1M725.3 861.7h1M725.9 844.7h1M706.5 859.5h1M693.4 865.4h1M739.7 857.3h1M756.4 852.1h1M716.7 881.5h1M726.1 877.0h1M718.9 863.2h1M711.6 868.3h1M715.4 874.8h1M743.5 867.9h1M728.8 882.4h1M711.9 852.3h1M724.4 875.3h1M712.8 880.6h1M738.4 880.5h1M735.3 862.7h1M719.4 875.9h1M704.5 887.9h1M725.9 869.3h1M716.9 873.4h1M741.0 873.3h1M727.2 846.9h1M726.6 869.9h1M709.2 861.4h1M725.1 858.9h1M708.4 867.7h1M717.2 863.5h1M775.4 824.2h1M726.0 880.6h1M739.8 845.1h1M735.3 871.4h1M733.2 856.6h1M686.5 879.9h1M722.0 874.2h1M730.0 857.3h1M699.9 886.8h1M699.8 896.7h1M743.1 864.2h1M698.0 869.5h1M724.3 864.8h1M743.3 864.8h1M753.9 819.0h1M730.0 857.0h1M768.9 855.0h1M747.1 876.7h1M733.3 873.7h1M697.1 889.6h1M764.3 853.6h1M725.3 876.1h1M750.2 797.7h1M739.3 856.6h1M697.6 897.4h1M713.1 873.3h1M732.5 866.6h1M748.1 875.0h1M719.3 869.9h1M754.3 837.5h1M703.7 878.9h1M714.8 885.3h1M710.6 866.8h1M737.1 877.5h1M696.7 889.7h1M758.0 874.4h1M725.7 877.5h1M709.2 861.3h1M753.3 868.3h1M688.6 871.4h1M706.6 871.5h1M719.9 876.2h1M743.6 867.9h1M776.4 844.1h1M706.4 883.9h1M697.1 900.0h1M714.9 880.3h1M729.5 851.9h1M756.4 801.3h1M716.8 834.1h1M701.0 865.7h1M711.3 875.1h1M723.8 868.6h1M707.5 872.5h1M739.6 881.4h1M740.5 864.4h1M742.8 867.4h1M749.8 864.2h1M717.9 862.9h1M738.8 870.7h1M739.7 845.7h1M721.3 886.8h1M727.2 861.0h1M744.3 865.1h1M710.3 864.5h1M711.5 887.4h1M792.8 810.1h1M692.8 878.9h1M731.5 859.9h1M720.1 857.8h1M706.1 870.3h1M745.6 807.2h1M698.1 873.6h1M744.5 843.0h1M722.7 877.9h1M736.3 866.0h1M722.7 857.3h1M709.4 889.0h1M747.1 798.9h1M732.3 864.3h1M755.2 869.9h1M715.5 864.5h1M712.2 862.6h1M765.1 802.9h1M806.2 816.0h1M754.6 848.0h1M718.5 897.8h1M732.6 879.2h1M727.7 875.3h1M730.2 875.5h1M734.3 860.8h1M754.0 865.8h1M796.6 808.3h1M717.4 864.6h1M732.2 855.8h1M703.1 875.9h1M706.8 879.5h1M703.5 872.0h1M712.6 857.9h1M722.0 871.0h1M732.0 879.2h1M708.4 878.7h1M719.2 874.5h1M716.6 851.6h1M710.3 875.5h1M744.2 876.5h1M731.8 846.5h1M728.4 886.5h1M701.7 873.4h1M730.5 869.6h1M759.2 850.8h1M692.9 884.8h1M790.5 817.8h1M729.1 864.2h1M702.4 879.1h1M739.8 868.3h1M719.9 869.8h1M731.4 843.1h1M693.8 877.0h1M728.7 873.1h1M722.1 857.3h1M749.2 818.7h1M744.8 842.5h1M725.8 854.5h1M701.8 878.9h1M735.7 874.6h1M744.5 857.5h1M747.3 843.3h1M728.0 861.8h1M693.2 899.1h1M751.2 817.3h1M738.7 852.6h1M766.0 809.4h1M791.0 828.7h1M713.7 875.1h1M730.7 856.1h1M731.2 864.5h1M765.4 837.8h1M756.2 805.4h1M721.1 872.6h1M717.5 884.4h1M694.0 868.1h1M701.2 870.7h1M682.9 893.1h1M698.5 887.7h1M742.9 861.5h1M737.7 869.0h1M703.9 885.0h1M731.4 847.0h1M726.8 875.1h1M708.6 893.8h1M713.0 876.4h1M782.8 807.6h1M708.4 908.8h1M745.0 780.7h1M746.2 863.4h1M739.2 860.1h1M730.9 864.8h1M738.0 863.7h1M708.0 887.9h1M706.7 869.2h1M753.2 810.6h1M705.6 883.8h1M698.8 883.2h1M737.4 835.4h1M747.9 820.5h1M743.7 869.9h1M723.0 879.4h1M714.8 801.2h1M701.3 892.7h1M725.8 867.2h1M760.0 804.0h1M718.0 859.4h1M714.3 871.0h1M745.7 856.3h1M720.8 812.4h1M692.7 889.2h1M715.0 863.1h1M728.5 864.6h1M707.1 881.1h1M738.0 866.3h1M739.0 864.0h1M716.0 887.5h1M727.4 861.3h1M726.5 871.5h1M751.7 821.5h1M708.3 885.7h1M767.7 840.1h1M752.0 851.2h1M725.1 875.9h1M737.6 860.6h1M787.9 839.0h1M713.5 862.9h1M729.4 857.1h1M731.5 867.2h1M701.3 849.6h1M727.7 864.5h1M757.6 856.1h1M708.7 879.8h1M751.8 839.2h1M715.2 853.0h1M726.9 866.8h1M736.5 805.1h1M726.3 826.7h1M728.0 855.3h1M718.4 849.0h1M718.0 890.2h1M762.8 811.8h1M705.0 884.2h1M718.5 794.6h1M699.3 890.8h1M739.0 868.9h1M760.2 871.5h1M740.0 785.0h1M723.2 856.9h1M692.4 878.1h1M703.9 872.2h1M704.4 885.9h1M750.8 865.9h1M703.3 877.1h1M723.4 861.2h1M713.3 903.7h1M747.9 851.7h1M721.4 857.7h1M773.6 831.1h1M712.2 869.3h1M720.0 864.7h1M711.0 887.1h1M732.6 864.3h1M734.2 873.2h1M749.2 848.7h1M716.5 866.2h1M769.5 849.3h1M716.2 864.8h1M719.8 856.9h1M742.0 877.2h1M733.7 868.8h1M732.7 808.7h1M731.8 897.3h1M733.6 863.0h1M719.8 867.9h1M753.2 834.8h1M718.7 875.8h1M708.2 857.4h1M726.1 869.7h1M752.5 824.3h1M739.5 839.9h1M705.0 888.0h1M708.4 880.1h1M734.6 858.9h1M764.6 836.4h1M788.6 855.9h1M702.5 897.7h1M752.4 847.9h1M748.1 851.6h1M709.5 886.0h1M731.3 888.0h1M746.0 850.5h1M732.8 869.3h1M732.5 863.1h1M724.7 870.1h1M714.6 864.3h1M733.7 884.0h1M720.5 896.4h1M730.1 874.9h1M726.1 905.3h1M710.4 868.8h1M711.3 840.1h1M730.1 871.6h1M687.9 877.3h1M752.6 852.7h1M706.0 882.1h1M733.4 872.5h1M757.4 857.5h1M727.6 847.0h1M759.4 807.0h1M709.1 889.8h1M730.1 859.0h1M726.1 869.8h1M738.4 819.3h1M739.3 810.2h1M749.9 805.8h1M731.6 874.5h1M749.2 863.8h1M717.4 864.1h1M740.9 841.8h1M730.1 857.0h1M717.7 865.1h1M748.3 802.6h1M738.5 870.5h1M733.2 863.2h1M737.6 866.8h1M743.4 832.1h1M746.5 809.2h1M732.4 866.5h1M712.9 878.1h1M719.5 862.3h1M741.6 862.2h1M736.6 870.0h1M715.9 881.0h1M699.7 880.4h1M709.0 873.7h1M739.6 855.4h1M711.7 885.2h1M728.2 797.8h1M732.7 897.9h1M722.3 861.3h1M729.9 859.3h1M701.5 876.5h1M726.7 860.6h1M726.8 832.4h1M799.2 823.0h1M694.0 880.2h1M722.3 874.3h1M784.5 796.8h1M683.0 853.3h1M733.0 877.5h1M736.5 829.2h1M739.6 810.1h1M754.4 850.7h1M719.8 860.4h1M724.8 860.2h1M760.1 788.4h1M738.7 840.5h1M702.7 898.3h1M741.6 855.0h1M745.3 855.5h1M718.7 866.7h1M726.1 887.3h1M737.4 861.5h1M753.7 859.3h1M689.4 888.0h1M710.1 865.0h1M702.9 855.6h1M712.4 879.1h1M742.7 877.3h1M730.8 874.0h1M782.2 852.0h1M704.0 848.9h1M773.3 803.9h1M727.4 874.5h1M732.6 857.8h1M726.2 857.5h1M702.7 869.7h1M714.4 882.7h1M737.3 856.6h1M720.0 892.1h1M737.0 882.8h1M722.1 888.8h1M759.2 796.9h1M740.8 862.8h1M688.9 865.5h1M711.5 888.4h1M695.5 876.9h1M718.8 799.4h1M742.7 858.2h1M747.6 864.3h1M755.6 858.8h1M692.6 872.0h1M733.1 861.5h1M724.8 813.7h1M708.2 870.6h1M767.3 851.7h1M700.3 894.3h1M714.7 854.6h1M720.2 863.3h1M749.1 876.5h1M745.0 810.3h1M744.2 858.6h1M691.9 854.4h1M761.3 867.6h1M727.3 873.0h1M753.2 876.0h1M721.4 879.2h1M698.7 905.2h1M733.4 873.6h1M742.8 815.2h1M751.0 840.3h1M711.9 871.2h1M688.0 886.6h1M720.9 873.4h1M719.9 865.1h1M687.9 880.4h1M729.1 880.1h1M725.5 881.4h1M743.5 798.9h1M785.1 797.3h1M695.1 868.1h1M718.0 873.4h1M699.5 869.8h1M742.1 816.3h1M788.3 808.9h1M697.6 903.6h1M717.8 898.1h1M729.3 870.1h1M714.6 857.9h1M747.7 879.7h1M711.6 863.1h1M730.1 818.8h1M706.3 864.5h1M725.7 875.1h1M693.7 878.9h1M718.1 875.9h1M708.5 867.4h1M738.5 871.2h1M769.5 846.9h1M732.9 872.1h1" stroke="#ff2020" stroke-width="1" opacity="0.72"/>
<path d="M711.2 884.1h1M691.4 866.9h1M753.4 870.8h1M730.3 868.6h1M725.9 852.0h1M717.5 865.4h1M737.6 869.8h1M714.2 878.5h1M742.4 814.9h1M727.3 869.9h1M740.7 865.3h1M769.6 855.4h1M687.0 883.3h1M683.8 873.0h1M734.3 827.5h1M793.3 813.2h1M741.9 848.1h1M750.9 808.3h1M761.0 788.1h1M713.3 863.2h1M722.6 862.9h1M740.0 870.5h1M733.7 866.4h1M729.3 858.6h1M745.8 867.5h1M744.8 861.7h1M731.6 848.0h1M730.3 860.6h1M772.9 856.4h1M703.1 879.8h1M720.1 875.9h1M762.8 813.6h1M716.0 863.3h1M690.4 880.5h1M753.1 869.3h1M714.9 872.4h1M710.1 876.2h1M715.9 874.3h1M723.5 873.6h1M695.2 876.1h1M732.1 835.1h1M706.0 852.0h1M720.4 830.0h1M724.7 873.1h1M756.4 846.6h1M731.8 868.4h1M697.1 893.1h1M745.8 869.2h1M722.0 882.1h1M735.7 875.0h1M728.7 875.1h1M717.0 881.5h1M766.4 811.0h1M693.4 876.8h1M723.5 885.8h1M713.5 834.3h1M761.7 870.8h1M724.7 837.6h1M788.2 815.7h1M727.9 864.3h1M738.2 876.4h1M716.5 903.0h1M743.1 861.5h1M730.0 869.8h1M741.3 885.1h1M757.9 865.5h1M740.0 867.3h1M723.0 876.3h1M746.4 869.2h1M742.2 873.3h1M738.0 863.7h1M712.6 866.2h1M718.5 867.7h1M742.3 808.5h1M756.2 828.5h1M740.6 857.4h1M742.4 868.8h1M750.2 879.5h1M729.5 810.9h1M717.5 873.5h1M706.0 879.2h1M734.6 860.4h1M713.6 888.1h1M724.5 889.4h1M705.3 874.7h1M726.7 908.3h1M767.3 801.4h1M739.0 840.7h1M723.0 865.8h1M704.0 874.4h1M740.3 822.5h1M700.1 871.3h1M734.4 882.5h1M727.3 868.4h1M702.8 859.3h1M718.3 886.8h1M708.3 850.7h1M704.5 873.7h1M726.0 862.1h1M719.1 903.4h1M720.0 867.7h1M723.1 875.9h1M759.5 846.4h1M756.4 815.8h1M712.5 877.6h1M707.5 888.2h1M739.8 877.8h1M730.5 881.3h1M708.8 871.1h1M726.9 885.7h1M719.1 868.8h1M740.5 878.0h1M712.6 881.3h1M708.9 883.8h1M757.4 819.7h1M743.6 858.6h1M702.0 870.3h1M729.1 862.5h1M724.1 858.7h1M716.1 882.6h1M746.6 862.6h1M700.5 874.7h1M736.3 872.2h1M737.1 877.5h1M706.3 871.1h1M748.4 802.2h1M777.6 818.7h1M731.8 883.0h1M761.9 865.6h1M693.3 871.8h1M749.8 799.1h1M758.3 779.2h1M703.7 862.5h1M692.9 871.9h1M750.1 875.0h1M725.5 851.7h1M707.3 879.6h1M794.2 855.9h1M729.4 890.5h1M712.1 878.5h1M757.1 807.2h1M715.8 908.8h1M754.8 859.9h1M729.9 886.5h1M737.9 846.3h1M691.2 854.5h1M711.5 858.0h1M728.4 866.7h1M724.6 894.0h1M720.9 838.9h1M732.0 873.5h1M743.8 866.1h1M728.9 884.1h1M754.0 847.4h1M707.2 875.9h1M702.7 868.0h1M775.3 794.4h1M689.2 900.1h1M705.0 868.7h1M728.5 887.1h1M736.6 866.1h1M701.0 884.1h1M739.6 861.0h1M691.8 886.3h1M716.5 869.1h1M712.4 897.0h1M701.8 870.2h1M727.8 858.3h1M723.8 874.0h1M744.4 850.4h1M747.3 865.9h1M684.7 883.6h1M737.5 796.8h1M740.0 846.9h1M733.5 873.5h1M706.0 834.7h1M717.0 874.7h1M730.9 778.2h1M751.6 867.6h1M711.5 890.5h1M714.4 842.1h1M778.1 824.1h1M749.9 863.0h1M714.6 871.6h1M774.9 857.0h1M737.0 873.9h1M756.5 869.6h1M735.7 871.2h1M773.4 794.8h1M697.2 884.8h1M752.9 868.2h1M719.5 867.0h1M699.7 876.4h1M711.0 881.8h1M762.1 854.9h1M740.2 878.6h1M752.9 868.7h1M724.0 871.1h1M772.1 830.9h1M787.5 804.1h1M718.9 869.2h1M730.6 862.0h1M751.5 882.9h1M720.7 901.0h1M746.3 881.5h1M750.4 862.4h1M732.8 873.0h1M718.9 864.6h1M730.6 863.5h1M730.7 888.0h1M701.0 864.8h1M701.5 880.0h1M727.7 793.4h1M729.8 858.7h1M732.3 864.6h1M728.4 839.8h1M721.4 879.5h1M754.4 837.9h1M695.2 872.0h1M745.0 865.5h1M748.2 809.6h1M711.7 887.0h1M740.5 871.0h1M763.9 851.5h1M717.9 869.6h1M712.0 878.2h1M744.1 858.6h1M707.3 888.6h1M758.6 795.3h1M715.4 863.1h1M757.5 860.7h1M729.0 866.6h1M739.0 863.5h1M691.8 875.3h1M727.3 881.1h1M741.6 853.8h1M711.1 896.1h1M711.9 880.3h1M685.1 874.5h1M736.4 855.0h1M732.3 889.3h1M720.6 872.0h1M689.1 878.1h1M734.4 873.2h1M711.7 870.9h1M746.6 876.7h1M732.5 845.8h1M728.8 824.8h1M708.0 862.4h1M730.8 880.3h1M711.9 851.1h1M716.3 860.7h1M743.5 818.6h1M736.2 856.6h1M740.6 871.5h1M759.5 868.3h1M756.6 845.1h1M714.4 877.8h1M767.5 838.2h1M748.1 879.5h1M737.0 875.9h1M722.6 876.8h1M737.4 813.8h1M718.3 872.5h1M747.5 863.1h1M721.1 868.8h1M730.7 857.7h1M739.5 868.6h1M763.2 790.2h1M752.2 826.2h1M713.5 868.0h1M751.1 897.5h1M750.1 810.1h1M745.6 861.4h1M721.7 901.8h1M715.9 872.2h1M711.7 871.7h1M763.7 812.0h1M688.0 888.0h1M737.0 819.1h1M699.8 866.3h1M712.6 881.3h1M747.7 825.3h1M695.6 876.5h1M755.3 882.5h1M741.6 855.0h1M718.6 877.9h1M734.2 854.2h1M717.6 872.3h1M730.3 867.8h1M710.4 866.4h1M698.0 874.2h1M762.1 830.8h1M729.6 886.0h1M733.6 862.0h1M771.5 837.4h1M774.2 794.5h1M717.9 876.2h1M764.3 834.8h1M752.6 876.0h1M749.5 803.3h1M732.7 868.7h1M727.6 834.5h1M725.3 866.2h1M725.9 818.6h1M729.0 855.7h1M713.2 866.6h1M726.4 886.5h1M761.3 874.5h1M726.1 873.0h1M697.9 874.5h1M698.0 883.1h1M730.8 876.6h1M720.9 885.0h1M704.5 877.3h1M749.7 852.6h1M731.2 868.4h1M688.9 870.5h1M724.1 885.1h1M749.8 851.6h1M711.8 867.9h1M757.2 801.8h1M776.1 818.9h1M724.9 877.9h1M707.4 871.8h1M749.9 875.7h1M773.2 817.3h1M733.3 860.8h1M741.9 869.2h1M716.4 825.7h1M718.9 895.4h1M721.4 867.5h1M736.9 862.5h1M804.9 851.7h1M756.5 807.9h1M745.6 847.5h1M740.4 863.9h1M730.1 849.2h1M713.7 886.4h1M743.8 852.1h1M688.1 875.1h1M705.1 889.2h1M719.8 882.1h1M753.7 856.5h1M760.2 787.6h1M736.5 866.0h1M727.0 880.1h1M713.5 877.1h1M771.6 816.2h1M727.9 858.2h1M758.2 849.7h1M775.8 826.9h1M755.3 864.4h1M729.4 866.3h1M722.2 863.4h1M741.4 864.1h1M756.4 800.6h1M736.5 814.7h1M758.7 847.1h1M693.7 867.6h1M785.6 786.9h1M701.3 885.4h1M708.4 872.0h1M732.5 866.0h1M723.3 854.7h1M782.2 823.4h1M692.4 850.9h1M732.8 857.4h1M725.4 842.9h1M718.8 880.0h1M722.9 864.4h1M690.4 872.1h1M732.1 879.8h1M788.8 832.2h1M706.7 853.9h1M725.7 795.0h1M697.6 887.6h1M717.4 863.6h1M730.4 862.0h1M743.1 849.3h1M703.5 866.5h1M752.9 879.2h1M759.1 806.1h1M739.1 865.5h1M726.3 870.6h1M727.1 861.8h1M719.8 878.0h1M717.8 878.7h1M739.3 836.1h1M733.6 847.9h1M741.8 854.8h1M747.8 811.9h1M748.9 863.7h1M741.5 811.5h1M713.8 860.7h1M756.8 836.7h1M723.1 854.7h1M707.6 867.7h1M723.8 861.3h1M720.8 868.6h1M737.9 868.3h1M748.9 852.7h1M716.5 878.9h1M766.2 795.8h1M780.6 813.9h1M778.8 798.6h1M700.7 865.5h1M759.5 865.1h1M733.7 872.1h1M725.6 898.1h1M733.1 870.1h1M756.8 834.5h1M757.5 823.7h1M707.1 890.4h1M726.3 867.5h1M737.3 866.4h1M724.1 880.1h1M763.8 806.2h1M705.0 869.6h1M734.9 883.8h1M712.8 863.5h1M757.7 865.8h1M730.4 873.6h1M761.1 866.3h1M689.0 889.4h1M757.2 835.5h1M742.2 851.9h1M715.0 869.1h1M725.4 823.6h1M709.7 811.0h1M716.8 872.0h1M746.4 820.3h1M711.6 877.4h1M682.6 886.0h1M716.9 858.5h1M787.7 810.9h1M740.0 868.8h1M732.4 869.8h1M707.5 864.1h1M743.9 858.8h1M737.0 837.8h1M771.8 797.8h1M728.0 875.0h1M688.3 876.7h1M727.3 795.4h1M734.1 824.4h1M735.2 855.6h1M721.5 868.2h1M717.3 890.5h1M728.8 871.3h1M716.8 902.4h1M697.5 855.1h1M779.8 849.4h1M709.9 873.6h1M733.4 864.2h1M711.4 872.0h1M699.9 877.6h1M745.6 887.1h1M733.0 843.6h1M735.9 860.7h1M716.9 869.5h1M702.5 887.8h1M726.3 851.1h1M721.1 864.2h1M724.3 875.1h1M715.7 876.7h1M758.5 801.8h1M709.3 907.0h1M751.9 807.6h1M719.9 875.1h1M726.3 904.9h1M689.0 878.1h1M723.0 866.4h1M789.7 821.7h1M724.1 878.8h1M772.8 809.4h1M709.6 866.6h1M718.3 885.5h1M732.1 883.3h1M730.3 880.4h1M702.5 902.9h1M722.8 861.0h1M717.9 873.0h1M729.3 881.8h1M730.6 875.5h1M717.9 881.4h1M739.1 833.8h1M739.1 865.1h1M736.5 860.6h1M756.5 851.8h1M751.6 812.4h1M715.5 866.5h1M729.7 872.0h1M760.0 862.7h1M740.2 850.3h1M750.5 804.4h1M689.5 883.0h1M725.9 876.3h1M729.4 868.4h1M705.8 881.6h1M735.5 849.6h1M691.6 883.4h1M740.6 861.5h1M714.8 855.0h1M753.9 884.4h1M755.1 868.5h1M757.1 812.6h1M753.8 820.1h1M747.3 858.7h1M756.3 799.1h1M742.3 861.3h1M698.3 885.1h1M793.4 843.1h1M712.7 862.6h1M701.1 878.0h1M727.8 859.3h1M736.8 827.8h1M749.8 806.9h1M723.0 856.3h1M707.9 868.2h1M721.5 861.4h1M732.0 853.4h1M755.8 864.4h1M729.8 860.5h1M730.5 866.4h1M743.4 812.9h1M708.9 884.1h1M736.1 808.4h1M711.7 868.9h1M705.5 888.4h1M738.3 865.5h1M739.5 855.3h1M699.6 848.4h1M769.5 801.3h1M753.5 812.3h1M739.1 799.7h1M800.2 802.5h1M759.0 818.4h1M733.4 856.9h1M739.0 869.6h1M771.3 849.1h1M722.2 888.6h1M721.4 856.4h1M714.2 878.5h1M715.9 879.1h1M747.5 862.5h1M734.2 862.0h1M764.5 862.4h1M722.5 890.5h1M738.3 868.5h1M754.3 822.0h1M701.7 884.7h1M715.8 875.6h1M706.9 870.3h1M684.9 870.5h1M692.4 890.3h1M710.3 866.6h1M713.8 874.9h1M724.9 902.0h1M728.2 872.3h1M720.3 869.7h1M739.3 862.0h1M713.5 859.8h1M695.1 872.2h1M727.8 868.5h1M746.9 862.1h1M723.8 874.0h1M707.0 878.9h1M708.4 855.6h1M742.0 855.5h1M744.0 863.8h1M741.8 865.1h1M722.2 883.6h1M744.0 861.8h1M730.1 861.2h1M723.5 865.1h1M689.7 860.2h1M762.3 837.3h1M729.6 826.0h1M710.1 860.8h1M722.3 876.1h1M708.4 868.4h1M776.1 809.4h1M764.1 835.3h1M731.3 848.9h1M754.3 798.8h1M741.1 811.4h1M705.4 834.1h1M750.6 831.0h1M729.2 865.2h1M707.1 868.6h1M705.2 855.1h1M702.5 889.2h1M729.5 883.7h1M736.6 857.3h1M709.6 867.9h1M701.1 882.4h1M727.0 886.8h1M750.3 808.4h1M723.5 884.0h1M710.8 869.6h1M743.4 875.7h1M768.3 857.3h1M719.1 861.9h1M721.7 872.0h1M703.7 864.2h1M746.8 857.4h1M684.6 899.5h1M744.0 799.1h1M701.5 883.0h1M743.8 867.2h1M751.3 853.0h1M708.3 873.4h1M714.1 861.9h1M747.2 853.1h1M742.1 836.7h1M719.3 878.9h1M724.4 879.7h1M726.8 857.3h1M711.7 881.3h1M728.6 849.0h1M684.1 891.8h1M710.0 879.8h1M723.3 863.2h1M704.2 875.3h1M702.6 879.4h1M738.2 861.3h1M684.6 887.2h1M728.2 870.2h1M737.7 801.6h1M726.3 845.7h1M735.0 895.8h1M720.4 867.5h1M785.6 841.0h1M710.7 864.6h1M688.0 879.4h1M739.8 873.4h1M725.8 881.3h1M703.4 871.5h1M711.7 864.7h1M749.4 865.3h1M712.5 868.8h1M741.7 838.2h1M767.8 840.2h1M787.0 807.6h1M724.5 859.9h1M706.0 854.8h1M742.2 857.3h1M729.3 867.3h1M719.5 867.1h1M730.1 849.1h1M735.5 784.4h1M740.4 876.2h1M682.4 891.8h1M728.6 879.1h1M730.0 864.2h1M727.5 888.5h1M737.7 865.5h1M697.3 877.9h1M711.2 884.4h1M722.7 858.5h1M711.5 864.8h1M722.7 900.8h1M696.2 874.3h1M704.6 876.0h1M773.9 813.3h1M721.0 857.5h1M771.3 783.8h1M719.5 857.0h1M727.9 856.6h1M704.4 875.3h1M750.2 834.7h1M710.4 880.5h1M726.1 862.7h1M718.9 857.9h1M794.0 825.3h1M729.4 854.6h1M718.6 865.1h1M740.9 862.8h1M722.7 853.5h1M724.6 863.2h1M791.9 837.5h1M754.9 858.0h1M721.3 871.2h1M700.8 878.0h1M718.2 843.9h1M699.2 878.1h1M690.9 878.7h1M710.1 888.9h1M730.8 849.6h1M772.4 812.7h1M736.5 868.8h1M743.3 849.8h1M700.0 875.5h1M747.3 830.7h1M767.2 818.1h1M731.3 856.5h1M753.6 867.8h1M722.8 881.4h1M716.8 868.4h1M743.9 848.0h1M719.9 856.3h1M728.9 886.6h1M702.2 878.1h1M743.3 852.6h1M749.3 856.5h1M718.4 885.8h1M739.8 865.9h1M709.2 858.6h1M721.8 868.8h1M747.7 808.7h1M715.0 882.1h1M711.4 866.8h1M692.3 863.8h1M732.5 863.9h1M741.0 855.0h1M703.5 876.4h1M726.9 867.0h1M715.7 875.6h1M731.7 855.1h1M721.6 872.9h1M741.8 870.3h1M713.4 879.6h1M732.8 879.2h1M735.0 816.6h1M755.1 791.6h1M711.3 879.0h1M706.1 871.7h1M734.9 851.2h1M750.7 842.1h1M763.1 854.6h1M741.5 841.8h1M734.0 870.2h1M720.5 879.8h1M744.2 800.2h1M733.6 871.8h1M759.2 861.0h1M705.6 866.7h1M738.7 873.2h1M721.9 851.8h1M765.9 827.0h1M758.1 812.8h1M755.4 810.1h1M720.0 898.8h1M737.6 856.9h1M749.0 854.8h1M715.9 874.3h1M703.5 872.5h1M700.6 864.6h1M743.4 852.1h1M715.2 886.2h1M709.1 870.6h1M768.6 810.5h1M691.1 891.8h1M746.0 871.7h1M722.0 894.1h1M727.5 848.6h1M741.4 861.1h1M761.9 811.5h1M712.9 883.8h1M735.0 857.5h1M714.6 811.3h1M694.0 875.9h1M745.0 860.8h1M739.1 867.0h1M744.3 849.1h1M721.3 860.1h1M710.9 891.7h1M748.2 869.6h1M713.7 866.5h1M721.7 898.2h1M789.0 829.7h1M728.1 857.1h1M729.6 869.8h1M710.1 869.8h1M691.9 873.1h1M716.8 884.6h1M735.7 801.3h1M701.6 869.6h1M721.1 862.0h1M776.5 778.2h1" stroke="#ff2020" stroke-width="1" opacity="0.72"/>
</g>
<rect x="681.25" y="766.25" width="134.25" height="146.25" fill="none" stroke="#8a8a8a" stroke-width="1"/>
<path d="M748 766.25V912.5M681.25 840H815.5" stroke="#f03030" stroke-width="0.9" opacity="0.85"/>
<g fill="none" stroke="#f03030" stroke-width="0.8" opacity="0.8"><circle cx="748" cy="840" r="2"/><circle cx="748" cy="794.04" r="2"/><circle cx="792.68" cy="840" r="2"/></g>
<text class="san" x="681.25" y="763.25" font-size="8.35" fill="#5a5a5a" text-decoration="underline">Plot P02, gated on P01.R1</text>
<text class="sa" x="684.25" y="774.25" font-size="7" fill="#555">7.08%</text>
<text class="sa" x="812.5" y="774.25" font-size="7" text-anchor="end" fill="#555">8.82%</text>
<text class="sa" x="684.25" y="909" font-size="7" fill="#555">81.62%</text>
<text class="sa" x="812.5" y="909" font-size="7" text-anchor="end" fill="#555">9.55%</text>
<text class="san" fill="#5a5a5a" font-size="8.4" text-anchor="middle" x="682.25" y="923">10<tspan font-size="5.4" dy="-3.2">0</tspan></text>
<text class="san" fill="#5a5a5a" font-size="8.4" text-anchor="middle" transform="translate(677.75 913.5) rotate(-90)">10<tspan font-size="5.4" dy="-3.2">0</tspan></text>
<text class="san" fill="#5a5a5a" font-size="8.4" text-anchor="middle" x="715.81" y="923">10<tspan font-size="5.4" dy="-3.2">1</tspan></text>
<text class="san" fill="#5a5a5a" font-size="8.4" text-anchor="middle" transform="translate(677.75 876.94) rotate(-90)">10<tspan font-size="5.4" dy="-3.2">1</tspan></text>
<text class="san" fill="#5a5a5a" font-size="8.4" text-anchor="middle" x="749.38" y="923">10<tspan font-size="5.4" dy="-3.2">2</tspan></text>
<text class="san" fill="#5a5a5a" font-size="8.4" text-anchor="middle" transform="translate(677.75 840.38) rotate(-90)">10<tspan font-size="5.4" dy="-3.2">2</tspan></text>
<text class="san" fill="#5a5a5a" font-size="8.4" text-anchor="middle" x="782.94" y="923">10<tspan font-size="5.4" dy="-3.2">3</tspan></text>
<text class="san" fill="#5a5a5a" font-size="8.4" text-anchor="middle" transform="translate(677.75 803.81) rotate(-90)">10<tspan font-size="5.4" dy="-3.2">3</tspan></text>
<text class="san" fill="#5a5a5a" font-size="8.4" text-anchor="middle" x="816.5" y="923">10<tspan font-size="5.4" dy="-3.2">4</tspan></text>
<text class="san" fill="#5a5a5a" font-size="8.4" text-anchor="middle" transform="translate(677.75 767.25) rotate(-90)">10<tspan font-size="5.4" dy="-3.2">4</tspan></text>
<path d="M681.25 912.5v3M681.25 912.5h-3M714.81 912.5v3M681.25 875.94h-3M748.38 912.5v3M681.25 839.38h-3M781.94 912.5v3M681.25 802.81h-3M815.5 912.5v3M681.25 766.25h-3" stroke="#8a8a8a" stroke-width="0.8"/>
<text class="san" x="743.38" y="934" font-size="8.3" text-anchor="middle" fill="#5a5a5a">Annexin V-FITC (GRN-B-HLog)</text>
<text class="san" font-size="8.3" text-anchor="middle" fill="#5a5a5a" transform="translate(667.75 842.38) rotate(-90)">PI (RED-B-HLog)</text>
<text class="se" x="759.5" y="952.5" font-size="13.5" text-anchor="middle">DMSO</text>
<clipPath id="fc2"><rect x="842.25" y="767.25" width="131.25" height="144.25"/></clipPath>
<radialGradient id="fg2" gradientUnits="userSpaceOnUse" cx="887.5" cy="865" r="33.15" gradientTransform="translate(887.5 865) scale(1 0.62) translate(-887.5 -865)"><stop offset="0" stop-color="#ff1010" stop-opacity="0.95"/><stop offset="0.45" stop-color="#ff2020" stop-opacity="0.55"/><stop offset="1" stop-color="#ff3030" stop-opacity="0"/></radialGradient>
<g clip-path="url(#fc2)">
<rect x="850.1" y="839.5" width="74.8" height="51" fill="url(#fg2)"/>
<path d="M881.0 892.7h1M885.5 875.3h1M870.7 865.1h1M889.3 876.2h1M927.0 825.1h1M914.6 804.3h1M888.3 848.9h1M871.7 874.1h1M899.8 867.7h1M905.1 860.0h1M878.4 866.4h1M880.7 838.7h1M879.4 857.6h1M886.5 881.5h1M929.6 842.3h1M877.2 861.1h1M905.7 856.2h1M884.9 883.6h1M909.7 781.0h1M887.3 866.2h1M887.7 850.5h1M939.4 805.8h1M884.3 863.0h1M922.3 857.2h1M901.7 880.1h1M881.7 866.6h1M882.5 866.8h1M877.7 868.7h1M890.8 873.4h1M885.0 793.1h1M865.1 877.5h1M923.3 810.3h1M887.8 896.5h1M887.1 847.1h1M919.5 876.6h1M892.9 898.7h1M898.5 863.1h1M876.2 882.0h1M882.3 868.4h1M877.2 891.0h1M902.3 856.8h1M877.0 868.1h1M895.6 852.9h1M915.5 828.4h1M850.0 885.8h1M889.7 863.2h1M920.1 888.9h1M881.0 876.7h1M854.8 873.7h1M897.4 880.6h1M875.1 868.3h1M898.9 794.1h1M858.6 880.1h1M918.0 813.0h1M900.6 862.0h1M903.9 804.3h1M938.9 800.8h1M905.9 863.3h1M941.8 806.7h1M932.9 787.0h1M895.1 853.1h1M888.1 876.3h1M902.6 852.5h1M935.1 848.7h1M869.1 871.8h1M929.1 808.5h1M900.2 806.5h1M871.5 871.2h1M855.0 863.0h1M885.5 889.2h1M921.8 806.9h1M900.8 868.6h1M907.4 861.8h1M873.7 859.9h1M880.1 856.4h1M891.9 858.0h1M927.8 812.0h1M873.4 871.6h1M925.3 820.5h1M882.1 879.3h1M850.5 882.7h1M884.1 883.8h1M880.2 873.4h1M892.1 864.8h1M940.9 805.8h1M909.7 798.9h1M889.2 852.7h1M895.1 881.8h1M878.7 872.7h1M957.6 796.3h1M903.4 850.2h1M917.0 855.1h1M910.5 862.7h1M865.1 866.8h1M912.8 818.7h1M925.6 799.2h1M853.7 871.9h1M870.9 859.1h1M885.1 864.2h1M876.8 852.7h1M910.0 813.3h1M873.9 874.6h1M953.3 805.0h1M857.8 865.7h1M886.0 892.1h1M912.5 858.3h1M925.0 879.7h1M866.1 865.4h1M905.8 850.1h1M942.0 829.7h1M901.6 856.2h1M930.8 805.2h1M911.2 807.5h1M922.5 834.7h1M909.6 865.5h1M863.4 909.1h1M862.9 877.9h1M914.2 855.0h1M937.4 820.0h1M898.0 870.8h1M872.7 871.3h1M875.5 870.6h1M905.0 803.3h1M874.6 872.2h1M887.0 874.9h1M876.0 879.0h1M863.6 881.6h1M877.3 856.7h1M910.3 845.3h1M886.4 865.5h1M882.3 885.3h1M927.2 810.5h1M898.5 852.0h1M926.4 810.8h1M950.9 781.7h1M882.4 884.3h1M865.9 852.5h1M877.7 872.0h1M910.1 872.2h1M855.5 893.2h1M875.2 810.3h1M904.1 874.9h1M850.2 868.0h1M912.3 843.4h1M924.2 833.9h1M881.1 859.4h1M892.4 874.9h1M888.7 891.0h1M892.6 882.6h1M885.4 863.4h1M918.8 810.3h1M887.0 882.4h1M884.0 870.4h1M869.1 903.8h1M870.8 857.5h1M870.5 853.1h1M896.2 867.9h1M889.3 826.5h1M931.8 808.7h1M914.9 865.2h1M877.4 859.1h1M880.0 869.7h1M859.7 868.9h1M922.3 839.3h1M863.7 851.9h1M871.7 871.8h1M895.7 881.7h1M930.9 791.9h1M884.0 895.1h1M875.5 873.7h1M857.1 865.4h1M908.0 830.5h1M918.4 825.8h1M859.1 870.9h1M865.1 901.1h1M893.2 873.7h1M896.1 866.7h1M909.6 875.4h1M892.7 885.2h1M842.8 880.6h1M860.4 872.9h1M883.3 871.6h1M922.7 804.2h1M877.8 865.9h1M911.2 856.1h1M908.9 853.8h1M874.9 872.5h1M885.6 880.5h1M878.4 860.3h1M882.6 869.6h1M893.1 856.8h1M861.3 888.1h1M899.2 857.3h1M895.5 826.8h1M872.7 876.1h1M897.8 892.8h1M888.4 853.4h1M856.5 879.8h1M871.5 855.9h1M891.4 860.5h1M921.5 832.5h1M896.5 868.8h1M872.3 878.3h1M869.4 851.3h1M891.2 883.8h1M894.5 850.8h1M882.1 861.2h1M910.6 808.8h1M872.0 865.5h1M875.2 806.9h1M915.2 867.1h1M846.1 870.0h1M891.5 850.9h1M935.5 816.8h1M901.4 855.1h1M881.9 870.0h1M924.4 810.9h1M877.0 872.0h1M863.1 861.4h1M879.7 874.7h1M882.0 882.0h1M919.4 794.5h1M903.2 848.3h1M929.7 825.7h1M912.5 831.5h1M915.7 864.9h1M914.6 856.2h1M953.6 838.8h1M914.9 815.8h1M866.2 885.8h1M881.5 862.4h1M869.3 806.6h1M954.7 849.3h1M878.9 877.3h1M881.1 869.1h1M876.8 895.3h1M897.4 874.4h1M885.6 865.5h1M890.7 873.0h1M889.9 872.9h1M900.3 818.7h1M882.8 900.2h1M913.1 855.5h1M911.0 860.9h1M895.6 879.6h1M858.7 877.2h1M914.6 786.8h1M888.7 874.0h1M882.8 842.3h1M890.1 882.4h1M898.4 796.7h1M921.3 834.8h1M915.1 840.9h1M876.6 866.8h1M904.3 854.2h1M897.1 863.7h1M864.0 853.4h1M871.6 879.5h1M894.2 807.8h1M866.4 868.9h1M848.0 876.6h1M845.3 875.1h1M874.9 868.8h1M882.6 879.9h1M870.8 869.2h1M886.3 875.8h1M900.9 861.1h1M944.3 816.6h1M931.3 851.1h1M930.2 793.4h1M864.7 874.9h1M921.1 820.3h1M876.6 866.9h1M875.4 878.7h1M875.6 867.1h1M874.4 867.7h1M904.6 853.3h1M911.5 798.1h1M901.9 855.0h1M864.2 881.7h1M900.7 852.5h1M874.5 870.3h1M872.6 857.2h1M870.6 869.7h1M925.4 820.6h1M897.9 846.4h1M922.2 801.5h1M865.5 874.6h1M863.9 894.2h1M919.1 856.7h1M882.4 858.3h1M907.4 887.6h1M860.6 871.8h1M876.1 853.1h1M876.5 872.5h1M938.7 832.6h1M881.6 869.4h1M885.2 858.7h1M913.8 860.6h1M879.7 897.0h1M894.3 866.0h1M907.3 854.9h1M888.8 862.6h1M906.5 866.3h1M842.8 876.7h1M949.4 802.8h1M911.6 789.4h1M918.8 809.3h1M883.7 795.3h1M940.0 813.4h1M879.8 861.2h1M869.1 862.0h1M894.3 865.7h1M893.0 882.6h1M868.3 899.4h1M904.0 813.7h1M892.1 881.9h1M885.1 868.4h1M907.9 868.7h1M871.3 859.1h1M938.3 817.9h1M850.6 867.9h1M859.2 859.5h1M921.4 830.8h1M935.5 803.3h1M899.5 863.8h1M880.3 866.1h1M894.9 866.1h1M896.0 856.4h1M882.5 858.6h1M869.3 870.8h1M912.1 800.0h1M916.1 862.0h1M895.8 870.7h1M880.4 863.1h1M874.7 858.9h1M921.0 815.0h1M890.3 890.0h1M935.4 819.1h1M884.1 879.2h1M926.1 793.2h1M953.4 816.7h1M888.3 863.0h1M889.2 867.9h1M929.9 808.5h1M926.9 799.8h1M873.9 864.0h1M876.4 870.4h1M882.4 874.1h1M910.1 851.8h1M897.5 806.2h1M914.4 782.4h1M862.5 874.7h1M897.0 860.9h1M927.2 800.4h1M849.2 902.2h1M930.7 876.7h1M878.9 873.9h1M848.4 891.4h1M868.5 896.9h1M880.1 860.3h1M853.4 871.1h1M865.0 872.4h1M873.6 871.2h1M885.1 834.9h1M861.2 863.7h1M902.1 846.0h1M905.1 875.5h1M896.1 849.8h1M928.3 789.5h1M888.2 804.6h1M909.8 849.6h1M906.6 857.7h1M920.9 796.8h1M876.2 876.5h1M845.5 868.8h1M911.5 821.4h1M889.8 855.9h1M926.1 836.1h1M891.2 842.3h1M896.0 888.5h1M914.0 841.6h1M933.9 805.1h1M860.8 874.4h1M897.9 782.1h1M936.3 807.8h1M900.5 858.7h1M902.5 849.3h1M910.6 866.9h1M907.9 805.6h1M879.4 879.2h1M874.0 901.1h1M889.4 861.6h1M896.6 876.4h1M918.2 812.8h1M919.1 828.6h1M869.3 887.6h1M881.0 886.6h1M938.3 826.6h1M921.0 895.2h1M876.7 864.3h1M893.7 859.6h1M911.3 823.3h1M888.8 798.1h1M913.6 810.5h1M867.3 856.4h1M882.9 884.2h1M894.2 877.0h1M907.2 855.4h1M892.4 858.2h1M898.9 854.1h1M848.7 900.3h1M882.8 865.0h1M905.2 826.4h1M877.9 814.6h1M861.1 878.5h1M892.1 899.5h1M886.9 839.1h1M908.4 861.0h1M887.9 805.2h1M888.8 860.9h1M916.7 798.6h1M900.8 849.5h1M901.2 887.5h1M881.8 879.0h1M912.2 863.7h1M921.0 861.8h1M893.3 862.1h1M883.1 867.8h1M898.2 811.4h1M878.5 872.6h1M882.6 878.7h1M914.7 824.0h1M919.3 807.7h1M864.0 885.7h1M880.7 859.7h1M861.3 902.0h1M896.3 836.3h1M954.0 813.5h1M890.5 862.8h1M943.7 806.4h1M922.8 822.8h1M874.1 872.1h1M889.6 858.3h1M891.2 859.4h1M924.9 804.7h1M851.8 885.4h1M898.7 845.4h1M892.0 853.7h1M885.2 862.9h1M915.5 870.4h1M893.3 894.7h1M886.7 870.1h1M870.1 845.7h1M861.5 880.3h1M900.2 885.6h1M905.3 853.0h1M892.9 860.2h1M912.9 839.1h1M882.8 870.6h1M911.8 808.8h1M892.1 866.7h1M893.3 859.0h1M910.3 797.8h1M875.4 866.0h1M869.1 879.1h1M882.1 901.6h1M876.4 875.0h1M869.8 877.7h1M896.1 853.0h1M878.6 874.4h1M889.0 848.3h1M899.2 868.7h1M880.0 854.9h1M884.0 897.3h1M886.5 856.6h1M917.2 801.6h1M876.2 873.6h1M897.7 874.9h1M869.9 869.1h1M882.5 877.0h1M891.9 863.3h1M933.4 856.9h1M882.4 878.9h1M853.7 871.1h1M905.6 830.4h1M898.4 859.2h1M853.4 881.1h1M911.5 808.7h1M894.6 845.8h1M875.0 849.3h1M910.0 868.6h1M885.7 863.8h1M876.5 803.2h1M888.0 886.2h1M876.6 860.3h1M887.1 905.4h1M876.5 867.7h1M892.0 875.9h1M899.9 874.4h1M890.6 866.9h1M898.8 861.7h1M862.4 856.1h1M867.2 884.9h1M884.5 812.7h1M843.4 887.5h1M872.1 880.6h1M884.2 864.8h1M896.2 863.2h1M968.3 853.9h1M926.3 811.6h1M903.8 882.5h1M877.7 893.2h1M868.2 866.9h1M893.2 888.2h1M898.4 806.6h1M872.3 900.2h1M913.8 861.8h1M936.1 870.2h1M877.9 892.6h1M909.8 818.1h1M903.2 838.5h1M899.3 805.6h1M917.8 862.6h1M868.2 863.7h1M890.6 858.8h1M879.6 827.9h1M880.1 856.7h1M898.4 861.6h1M905.7 855.2h1M891.7 880.0h1M868.6 896.0h1M895.8 863.7h1M871.7 881.3h1M887.5 902.4h1M888.5 867.1h1M868.9 889.3h1M880.0 862.0h1M891.8 838.9h1M914.5 810.7h1M963.1 809.3h1M917.7 794.3h1M923.0 831.1h1M853.3 888.1h1M857.9 868.0h1M865.0 871.5h1M903.5 869.3h1M924.2 814.9h1M874.9 875.9h1M959.4 777.8h1M870.1 885.5h1M860.3 891.7h1M916.2 850.9h1M892.4 795.7h1M923.2 806.0h1M879.0 888.1h1M906.6 870.9h1M885.0 808.6h1M865.9 907.8h1M867.6 868.6h1M913.9 807.1h1M877.6 871.5h1M879.1 806.6h1M928.4 853.3h1M923.1 848.5h1M901.0 811.9h1M956.6 785.5h1M849.5 891.5h1M848.6 868.7h1M888.8 778.1h1M957.1 849.7h1M914.4 808.6h1M920.5 889.9h1M886.9 864.6h1M893.8 815.0h1M875.0 855.2h1M873.4 884.0h1M875.0 867.2h1M906.6 870.9h1M901.7 787.1h1M890.9 865.7h1M872.8 872.0h1M906.2 834.6h1M879.1 853.7h1M933.0 834.1h1M940.5 816.1h1M917.0 870.0h1M937.4 826.1h1M878.2 857.7h1M920.0 835.5h1M911.9 844.4h1M868.0 853.4h1M935.9 849.9h1M869.7 865.3h1M892.1 869.0h1M887.0 862.2h1M915.5 858.0h1M871.3 853.4h1M850.9 873.7h1M916.6 800.6h1M872.5 865.5h1M868.7 886.7h1M902.5 854.7h1M935.7 801.0h1M940.5 831.0h1M899.9 798.0h1M896.7 850.3h1M912.7 845.4h1M908.5 846.6h1M879.4 805.3h1M875.9 868.5h1M892.9 857.8h1M915.4 858.5h1M904.8 820.9h1M898.2 856.5h1M932.9 788.0h1M902.9 847.2h1M887.7 864.2h1M886.4 878.6h1M898.6 874.8h1M950.5 799.7h1M885.7 861.9h1M903.4 864.5h1M891.5 871.7h1M886.6 888.1h1M899.2 826.4h1M892.2 817.0h1M886.4 838.8h1M871.7 872.7h1M939.5 768.2h1M867.9 883.9h1M872.7 848.9h1M856.6 862.9h1M902.0 855.0h1M916.7 856.0h1M907.3 859.3h1M873.7 865.8h1M885.3 872.4h1M884.0 871.2h1M862.2 870.1h1M894.4 812.4h1M923.7 823.5h1M887.1 862.4h1M901.3 865.8h1M895.1 885.7h1M867.3 874.7h1M900.0 810.3h1M907.8 823.6h1M907.4 852.0h1M876.4 865.1h1M901.3 876.4h1M874.4 871.0h1M855.9 872.2h1M902.7 843.9h1M895.5 875.0h1M946.0 807.7h1M874.9 846.9h1M909.4 876.1h1M907.7 846.9h1M888.8 885.7h1M872.7 858.7h1M905.0 847.1h1M931.5 841.4h1M925.2 812.7h1M865.8 872.7h1M931.5 810.8h1M848.4 874.2h1M921.4 822.8h1M897.2 865.2h1M908.1 833.1h1M933.0 801.7h1M884.7 862.6h1M876.3 878.7h1M864.5 870.2h1M918.1 856.1h1M894.1 859.5h1M908.6 866.9h1M912.9 854.4h1M885.5 870.4h1M876.4 830.9h1M870.6 877.6h1M929.5 802.7h1M847.6 867.5h1M910.1 845.3h1M882.5 882.5h1M874.2 861.9h1M845.3 880.2h1M880.3 876.0h1M912.4 861.0h1M945.7 821.8h1M870.2 861.3h1M912.3 844.3h1M887.2 872.3h1M872.2 871.0h1M862.1 883.6h1M918.9 824.9h1M904.7 847.9h1M928.5 854.1h1M914.7 863.2h1M874.8 861.3h1M867.5 859.1h1M874.4 853.1h1M949.5 810.1h1M884.0 872.6h1M860.3 881.5h1M939.1 852.4h1M936.1 839.5h1M890.8 877.1h1M888.5 867.2h1M919.2 862.0h1M865.2 866.2h1M893.1 856.7h1M897.4 789.5h1M902.4 862.9h1M859.2 879.4h1M890.7 894.3h1M937.6 812.1h1M880.7 869.8h1M914.0 866.3h1M917.5 858.8h1M896.2 852.7h1M888.4 868.7h1M917.3 802.4h1M880.1 872.4h1M866.2 908.4h1M871.6 900.6h1M858.8 867.5h1M907.1 823.3h1M892.0 862.4h1M891.5 869.8h1M846.9 876.8h1M896.6 835.9h1M873.5 858.0h1M892.7 878.3h1M873.6 797.0h1M883.4 853.3h1M877.2 876.3h1M956.5 838.3h1M882.2 865.8h1M877.5 869.4h1M901.5 861.4h1M929.5 813.1h1M937.8 800.4h1M865.0 864.7h1M898.7 847.4h1M915.9 864.7h1M902.6 866.2h1M921.1 827.9h1M906.3 852.6h1M928.0 851.2h1M876.7 890.5h1M885.0 850.0h1M883.7 869.5h1M896.5 856.7h1M888.9 856.0h1M892.6 819.6h1M868.6 885.9h1M887.5 811.5h1M860.0 872.0h1M876.7 884.7h1M927.8 807.8h1M875.9 878.4h1M923.5 852.9h1M919.8 811.5h1M853.3 904.4h1M959.3 809.8h1M862.7 866.4h1M869.2 872.7h1M925.7 801.9h1M929.6 835.9h1M882.5 870.0h1M903.7 879.3h1M895.8 849.5h1M876.3 879.0h1M904.5 795.2h1M871.7 863.6h1M894.9 871.4h1M891.7 811.6h1M933.5 808.9h1M923.0 824.0h1M905.7 834.0h1M879.1 865.2h1M893.5 889.0h1M928.8 839.0h1M905.2 853.4h1M932.6 809.8h1M861.4 866.8h1M873.8 901.0h1M902.7 867.7h1M871.5 873.6h1M921.2 801.6h1M866.8 852.3h1M879.1 855.8h1M904.4 813.0h1M900.8 867.3h1M913.0 845.8h1M873.3 859.9h1M897.1 860.2h1M872.4 865.9h1M888.5 869.5h1M872.0 901.0h1M874.3 777.2h1M921.5 822.5h1M886.6 866.9h1M918.5 891.0h1M887.2 876.3h1M877.5 871.5h1M925.2 810.8h1M862.9 885.3h1M899.5 847.2h1M881.7 855.5h1M854.9 897.9h1M862.0 875.5h1M857.3 891.9h1M896.5 808.1h1M894.3 874.4h1M885.0 801.1h1M946.4 810.3h1M922.7 826.5h1M890.9 873.6h1M911.5 788.4h1M852.7 867.5h1M901.9 862.9h1M875.2 870.6h1M857.7 864.2h1M941.5 804.1h1M912.2 801.0h1M912.2 859.8h1M850.0 871.3h1M882.4 888.5h1M881.0 857.8h1M899.6 903.8h1M895.4 838.1h1M924.5 789.4h1M861.0 874.2h1M881.4 850.0h1M915.4 824.5h1M860.5 865.0h1M887.2 895.1h1M954.1 790.7h1M908.8 858.4h1M864.2 884.0h1M893.5 870.7h1M864.1 879.7h1M871.2 879.7h1M881.8 872.1h1M884.7 865.4h1M872.6 854.7h1M874.4 871.1h1M877.3 862.7h1M880.4 863.6h1M914.0 804.2h1M887.8 864.6h1M852.9 895.6h1M872.3 872.1h1M892.3 880.6h1M926.5 801.2h1M862.0 812.9h1M879.4 866.9h1M857.6 882.7h1M885.0 881.2h1M920.0 807.0h1M910.8 863.1h1M881.9 873.8h1M937.5 806.5h1M939.1 793.9h1M883.4 881.1h1M857.1 876.4h1M930.3 862.7h1M879.3 870.8h1M926.1 795.9h1M865.5 866.5h1" stroke="#ff2020" stroke-width="1" opacity="0.72"/>
<path d="M886.4 794.2h1M863.4 864.9h1M864.4 859.7h1M886.4 867.8h1M898.2 851.5h1M873.7 852.2h1M915.7 812.5h1M885.7 856.8h1M868.6 870.0h1M896.8 854.4h1M886.5 868.6h1M917.7 795.5h1M896.4 860.4h1M867.6 894.1h1M897.3 798.6h1M916.7 816.2h1M938.5 818.2h1M896.8 875.4h1M899.0 907.2h1M899.0 883.1h1M926.1 833.9h1M917.8 805.1h1M899.2 869.7h1M873.0 857.5h1M851.9 869.5h1M870.2 872.7h1M903.2 810.2h1M879.8 852.9h1M946.8 850.1h1M880.2 840.9h1M888.7 861.5h1M862.9 884.4h1M890.8 846.5h1M884.4 865.6h1M854.3 876.0h1M893.6 862.3h1M887.0 823.1h1M865.4 881.6h1M886.9 867.5h1M920.7 848.3h1M896.8 858.3h1M883.3 866.1h1M869.5 895.9h1M893.8 849.8h1M903.6 863.6h1M898.6 858.2h1M936.4 835.6h1M915.7 806.2h1M874.9 892.4h1M874.1 877.5h1M912.1 816.5h1M868.9 881.8h1M918.3 860.0h1M852.5 866.2h1M909.4 868.4h1M894.0 806.2h1M857.4 865.0h1M911.6 800.8h1M887.6 864.8h1M848.7 796.1h1M904.1 866.1h1M917.6 861.6h1M882.0 861.3h1M892.0 870.4h1M960.6 807.9h1M895.8 841.3h1M849.1 872.0h1M861.1 891.2h1M870.4 878.1h1M919.6 808.1h1M877.2 851.6h1M943.6 805.4h1M919.3 793.0h1M866.8 861.9h1M893.3 906.6h1M909.2 823.1h1M892.8 813.3h1M853.5 870.7h1M873.4 862.9h1M891.6 895.5h1M927.4 802.7h1M868.7 874.4h1M896.7 843.4h1M910.6 872.7h1M927.0 841.1h1M907.6 833.7h1M895.4 826.2h1M860.2 879.3h1M893.3 865.3h1M899.1 842.0h1M854.9 865.6h1M896.6 850.0h1M919.3 814.9h1M880.4 881.3h1M890.8 883.0h1M925.0 847.2h1M947.5 847.9h1M896.3 833.5h1M861.8 874.7h1M875.4 877.3h1M893.4 863.7h1M860.5 873.4h1M892.6 882.2h1M878.5 856.9h1M901.0 811.3h1M866.2 856.5h1M873.6 884.1h1M869.2 878.0h1M888.3 885.3h1M918.5 843.7h1M861.2 874.2h1M897.1 859.7h1M848.4 900.4h1M880.6 861.7h1M882.4 866.5h1M873.5 890.6h1M898.6 860.7h1M894.7 880.1h1M872.7 869.1h1M874.8 909.4h1M873.6 863.7h1M878.7 879.4h1M923.9 834.2h1M939.1 796.2h1M891.5 875.8h1M914.7 805.3h1M863.3 893.0h1M857.5 897.0h1M874.2 870.9h1M889.6 862.4h1M880.9 863.5h1M893.4 880.3h1M896.3 803.8h1M882.3 870.2h1M945.9 770.5h1M885.2 888.0h1M893.4 864.4h1M892.6 798.3h1M893.6 863.1h1M917.7 823.8h1M859.1 878.2h1M889.2 878.3h1M855.1 898.4h1M874.9 871.6h1M871.2 859.4h1M869.8 872.2h1M900.8 847.6h1M889.0 864.6h1M891.0 873.2h1M924.7 871.6h1M933.3 787.2h1M945.7 844.5h1M865.2 868.1h1M911.9 859.3h1M876.7 882.9h1M938.7 824.1h1M883.5 864.3h1M873.2 879.9h1M885.3 838.9h1M863.2 873.8h1M910.6 857.3h1M875.7 875.8h1M890.4 868.9h1M882.2 861.5h1M871.3 878.7h1M948.7 811.4h1M884.3 834.7h1M877.9 885.0h1M909.8 851.3h1M908.0 847.0h1M905.1 856.4h1M895.3 812.0h1M859.4 901.2h1M911.9 807.1h1M889.6 869.8h1M915.5 808.4h1M859.9 868.4h1M899.0 861.5h1M930.5 801.7h1M897.3 863.9h1M904.9 850.6h1M890.3 858.0h1M920.9 866.3h1M895.1 847.0h1M904.1 854.6h1M935.8 848.6h1M883.2 866.2h1M887.3 856.9h1M888.0 859.0h1M911.7 795.7h1M954.1 816.3h1M916.1 814.6h1M891.3 871.2h1M895.6 848.3h1M937.6 839.5h1M882.9 867.7h1M896.7 804.7h1M881.8 869.7h1M895.4 854.7h1M906.4 806.0h1M898.7 815.1h1M945.5 804.3h1M900.0 866.1h1M890.7 860.9h1M929.9 799.9h1M882.6 856.6h1M867.0 869.1h1M875.1 874.0h1M949.5 820.2h1M936.9 806.2h1M915.7 852.6h1M863.6 873.9h1M865.8 879.7h1M882.3 790.1h1M929.6 821.5h1M900.7 800.3h1M916.2 816.7h1M877.5 886.5h1M857.1 868.1h1M869.7 886.2h1M887.2 829.9h1M906.7 822.6h1M855.7 878.7h1M873.4 865.2h1M896.9 801.0h1M910.4 822.5h1M895.8 859.8h1M885.4 856.3h1M883.4 872.2h1M882.3 871.4h1M906.2 886.1h1M863.7 872.4h1M921.4 863.6h1M872.6 867.1h1M889.8 866.6h1M843.8 843.9h1M853.1 867.2h1M888.7 875.8h1M902.9 838.4h1M890.4 875.7h1M880.9 875.5h1M880.1 855.0h1M890.6 838.7h1M865.3 882.3h1M893.5 854.4h1M893.5 814.9h1M942.5 809.4h1M867.0 878.8h1M907.1 868.7h1M889.6 903.8h1M907.0 857.5h1M899.7 850.8h1M873.4 873.8h1M935.4 837.9h1M879.2 866.6h1M886.8 844.2h1M890.1 859.6h1M874.6 848.4h1M901.9 877.9h1M915.4 870.8h1M890.7 805.3h1M881.9 879.8h1M872.8 864.6h1M891.4 855.2h1M876.5 878.8h1M881.4 872.4h1M903.5 842.1h1M911.1 873.7h1M897.5 886.6h1M875.0 867.1h1M908.0 801.1h1M906.6 845.3h1M899.2 856.1h1M956.9 813.4h1M898.5 863.1h1M927.1 805.5h1M915.4 804.6h1M869.0 893.0h1M881.9 875.6h1M876.2 870.5h1M902.1 805.2h1M893.9 870.3h1M877.2 890.4h1M895.2 858.6h1M923.3 799.5h1M905.8 905.9h1M887.4 863.5h1M890.7 875.5h1M914.6 853.1h1M912.4 867.3h1M880.6 864.0h1M907.0 850.6h1M868.6 865.5h1M873.3 885.1h1M910.7 858.7h1M913.2 855.0h1M884.1 867.6h1M861.3 877.3h1M871.6 888.1h1M881.3 823.5h1M894.9 860.3h1M888.5 860.3h1M926.4 833.9h1M908.0 848.2h1M942.3 841.7h1M864.9 851.1h1M885.6 862.7h1M856.7 864.5h1M896.7 791.6h1M854.4 897.0h1M880.3 854.9h1M862.7 866.6h1M888.6 866.5h1M909.9 874.6h1M908.2 864.4h1M877.8 864.3h1M871.3 856.8h1M904.2 853.2h1M861.9 869.1h1M885.9 867.0h1M902.0 869.7h1M917.2 862.1h1M895.2 829.5h1M889.6 814.2h1M918.8 842.1h1M897.4 829.9h1M887.5 877.0h1M904.7 814.9h1M921.2 784.6h1M914.7 813.0h1M872.3 862.5h1M889.4 870.3h1M870.7 872.7h1M877.8 899.8h1M895.4 868.0h1M872.3 799.4h1M877.7 884.2h1M894.5 863.7h1M865.5 808.9h1M898.7 857.3h1M945.2 799.5h1M880.5 866.2h1M882.0 859.5h1M889.6 867.4h1M880.1 865.9h1M901.4 866.8h1M851.6 871.1h1M881.8 869.2h1M912.4 850.1h1M893.4 875.7h1M874.9 865.4h1M892.9 874.3h1M901.0 861.0h1M888.8 876.1h1M868.6 895.2h1M890.1 850.9h1M865.9 878.7h1M864.2 878.7h1M905.6 863.5h1M877.1 862.5h1M893.7 882.6h1M875.4 867.6h1M881.4 895.1h1M865.6 890.2h1M887.1 862.3h1M878.8 860.7h1M879.5 867.5h1M864.1 866.4h1M879.7 885.8h1M858.1 863.7h1M890.2 807.4h1M939.6 797.7h1M871.7 872.8h1M879.2 881.7h1M867.8 869.4h1M874.8 901.3h1M885.9 867.1h1M887.4 877.6h1M915.0 849.1h1M918.8 833.8h1M862.2 868.0h1M892.2 866.6h1M948.8 856.2h1M868.6 864.3h1M906.8 857.6h1M866.0 862.5h1M893.0 804.6h1M877.1 873.4h1M895.8 860.0h1M868.8 793.7h1M880.7 862.1h1M896.6 873.1h1M952.2 840.2h1M903.7 804.8h1M890.0 858.2h1M885.7 845.9h1M893.0 851.7h1M897.5 861.7h1M876.9 866.7h1M875.0 863.6h1M876.0 872.4h1M882.9 861.0h1M867.8 874.8h1M898.7 872.5h1M896.6 849.9h1M891.9 890.9h1M899.5 855.2h1M903.7 847.5h1M909.8 875.6h1M900.1 856.5h1M858.0 857.5h1M945.7 836.3h1M900.1 858.4h1M902.9 859.2h1M863.8 871.4h1M891.1 880.3h1M939.8 816.9h1M887.3 865.3h1M913.3 875.1h1M915.7 855.4h1M910.2 849.3h1M922.9 802.2h1M878.4 871.5h1M863.0 897.8h1M937.3 825.3h1M891.8 860.2h1M863.8 881.2h1M883.0 883.5h1M861.6 868.7h1M882.1 857.6h1M934.9 848.1h1M869.9 877.9h1M895.3 799.3h1M866.4 878.1h1M847.0 884.7h1M876.7 868.7h1M909.5 861.0h1M905.3 858.7h1M882.4 869.7h1M881.6 871.3h1M866.7 870.5h1M872.3 803.4h1M913.4 794.2h1M905.2 838.7h1M882.7 850.7h1M891.4 873.7h1M912.0 815.0h1M887.6 854.2h1M881.1 851.3h1M852.6 877.3h1M893.6 872.0h1M894.8 871.7h1M892.8 871.0h1M890.4 839.0h1M915.7 865.6h1M904.4 850.4h1M872.3 899.8h1M910.4 814.8h1M891.5 869.0h1M866.0 858.6h1M892.1 860.1h1M883.7 874.4h1M880.9 883.0h1M900.4 858.0h1M898.9 853.8h1M916.9 807.3h1M854.1 853.0h1M893.8 872.0h1M903.9 854.6h1M913.0 801.9h1M895.4 812.9h1M856.9 881.4h1M895.5 861.6h1M850.7 887.0h1M916.3 865.8h1M897.4 889.7h1M949.1 795.1h1M891.2 873.6h1M862.7 860.5h1M864.6 882.3h1M901.4 856.4h1M893.5 886.3h1M891.0 868.4h1M951.6 832.2h1M885.0 902.1h1M915.4 846.2h1M888.7 857.6h1M888.8 876.5h1M885.8 867.7h1M875.3 886.2h1M862.5 876.7h1M917.2 811.8h1M869.6 862.3h1M852.5 872.7h1M887.2 907.4h1M894.3 876.0h1M901.3 900.8h1M875.6 875.3h1M896.9 864.6h1M904.2 803.6h1M882.1 870.0h1M865.6 879.8h1M874.4 868.8h1M897.3 869.6h1M891.9 863.8h1M926.6 809.1h1M904.9 820.3h1M857.4 883.4h1M923.6 816.3h1M887.2 853.4h1M866.0 892.2h1M891.1 860.2h1M852.5 874.4h1M875.2 873.1h1M927.2 816.4h1M908.7 851.1h1M879.0 865.0h1M873.1 868.9h1M966.9 849.2h1M888.4 869.5h1M877.6 865.2h1M902.4 861.9h1M843.7 904.0h1M874.2 892.8h1M903.0 882.5h1M911.8 873.1h1M914.9 808.3h1M891.8 858.7h1M909.0 834.8h1M888.9 862.1h1M875.3 883.3h1M893.6 816.7h1M889.0 876.4h1M897.0 844.1h1M914.5 793.6h1M885.7 860.2h1M869.6 901.1h1M907.4 850.8h1M896.1 859.5h1M904.0 846.8h1M956.3 810.7h1M856.3 862.5h1M894.4 855.5h1M887.8 855.6h1M910.4 827.2h1M908.8 821.9h1M890.7 859.7h1M884.2 867.6h1M884.3 894.0h1M855.3 865.6h1M885.8 863.3h1M964.7 805.0h1M856.2 880.9h1M882.5 870.6h1M884.5 870.2h1M918.4 837.4h1M845.1 874.3h1M906.8 854.7h1M908.1 810.5h1M878.5 855.2h1M847.4 873.2h1M880.1 872.1h1M933.8 804.5h1M906.5 861.4h1M892.6 864.2h1M878.2 849.4h1M885.1 871.4h1M864.8 874.7h1M905.1 855.2h1M893.3 854.2h1M879.5 873.5h1M901.0 873.9h1M886.9 868.4h1M921.2 852.2h1M881.5 869.6h1M858.7 798.2h1M897.1 872.0h1M861.0 897.2h1M863.3 862.0h1M930.4 813.3h1M887.3 864.1h1M971.9 833.8h1M910.5 803.2h1M874.3 866.4h1M946.5 804.7h1M878.6 874.7h1M889.6 872.8h1M922.7 843.9h1M930.6 824.6h1M891.6 860.1h1M929.8 821.4h1M899.6 868.1h1M900.6 864.6h1M881.4 853.7h1M866.1 858.5h1M875.4 863.9h1M881.8 866.9h1M887.8 862.5h1M860.3 869.5h1M940.2 825.5h1M884.4 854.7h1M909.5 870.4h1M881.7 905.8h1M891.2 860.8h1M916.1 870.1h1M914.6 856.4h1M891.0 860.6h1M890.3 876.1h1M900.8 861.9h1M896.3 869.7h1M869.5 866.0h1M869.1 892.7h1M949.5 807.8h1M907.7 812.1h1M874.3 898.7h1M858.6 879.8h1M920.9 854.7h1M911.2 843.2h1M900.3 840.6h1M882.9 872.0h1M966.6 811.0h1M895.9 857.4h1M908.9 862.5h1M893.3 876.5h1M888.5 806.3h1M908.8 857.5h1M908.6 865.9h1M908.2 867.5h1M858.4 876.5h1M896.7 842.5h1M891.7 856.1h1M900.0 836.1h1M905.1 856.8h1M848.3 885.9h1M915.2 787.0h1M866.5 863.7h1M856.1 869.6h1M851.1 880.4h1M860.2 870.8h1M890.0 870.9h1M905.2 868.0h1M932.2 816.6h1M926.2 808.9h1M885.3 847.6h1M908.3 824.1h1M852.5 879.5h1M904.8 791.4h1M911.1 855.1h1M875.7 858.9h1M918.0 857.5h1M907.1 875.0h1M897.7 868.0h1M870.0 866.3h1M904.3 856.6h1M914.8 782.5h1M927.7 849.3h1M913.2 855.6h1M898.5 803.6h1M948.9 816.6h1M908.3 856.6h1M907.9 871.9h1M861.7 871.2h1M893.7 874.6h1M868.0 896.8h1M919.0 810.9h1M893.9 832.3h1M893.0 884.0h1M905.8 869.8h1M900.7 867.2h1M889.1 851.8h1M880.8 868.1h1M895.3 835.5h1M879.0 872.5h1M881.6 867.3h1M922.7 810.5h1M864.6 858.1h1M896.7 871.5h1M863.6 875.3h1M901.0 881.2h1M910.8 853.9h1M902.7 854.0h1M866.6 869.1h1M879.6 841.9h1M863.6 878.0h1M891.4 834.4h1M885.2 848.2h1M866.5 862.0h1M907.0 801.1h1M872.8 887.2h1M915.7 815.7h1M913.1 880.1h1M912.8 839.2h1M881.9 882.5h1M892.5 867.0h1M902.1 872.6h1M914.2 858.2h1M884.7 868.8h1M896.0 858.4h1M896.5 850.5h1M902.1 805.1h1M918.6 807.6h1M889.5 857.0h1M911.9 852.0h1M884.0 889.6h1M868.4 872.1h1M859.2 870.9h1M957.3 837.2h1M926.3 844.2h1M880.0 874.1h1M870.3 876.0h1M892.4 853.1h1M913.9 871.8h1M883.7 856.0h1M881.6 869.5h1M870.6 859.8h1M859.2 856.3h1M909.3 859.7h1M900.2 793.2h1M893.2 886.5h1M908.1 850.1h1M850.8 896.5h1M899.1 865.4h1M929.1 846.2h1M882.5 856.0h1M862.0 861.9h1M906.8 853.2h1M848.4 892.2h1M881.3 868.7h1M928.5 836.6h1M883.4 871.3h1M897.1 825.4h1M858.8 881.5h1M884.3 882.9h1M849.0 906.3h1M874.2 870.4h1M904.6 799.8h1M877.8 857.4h1M964.4 816.1h1M881.2 877.2h1M893.6 865.7h1M889.9 858.0h1M881.4 868.2h1M879.3 884.8h1M885.1 847.6h1M940.3 830.8h1M870.9 882.2h1M862.3 876.6h1M902.0 872.4h1M862.6 861.5h1M947.1 812.7h1M914.6 859.2h1M903.4 859.3h1M917.8 788.8h1M892.9 880.4h1M860.0 864.4h1M878.4 875.8h1M867.1 878.0h1M895.5 862.9h1M913.1 860.1h1M891.7 866.7h1M879.6 853.1h1M866.3 848.2h1M898.7 866.3h1M916.4 848.3h1M894.1 862.0h1M916.7 828.9h1M846.8 888.8h1M938.4 796.5h1M894.2 860.5h1M890.6 867.8h1M897.8 858.7h1M856.4 863.8h1M885.1 859.8h1M854.6 884.3h1M863.9 802.8h1M948.8 814.4h1M883.0 872.8h1M923.8 819.0h1M857.1 896.0h1M908.2 797.4h1M882.5 861.6h1M872.5 869.0h1M869.3 835.2h1M901.9 802.9h1M930.8 865.5h1M878.5 857.7h1M884.3 866.3h1M910.1 859.9h1M908.6 859.5h1M930.4 801.0h1M875.9 882.4h1M921.6 857.9h1M879.8 882.8h1M898.2 864.7h1M887.6 871.5h1M883.6 865.2h1M876.9 882.5h1M877.9 867.1h1M907.0 865.1h1M884.3 869.5h1M899.8 866.9h1M962.0 790.3h1M873.8 877.1h1M844.1 882.8h1M893.2 867.9h1M870.9 900.1h1M902.5 862.3h1M883.9 874.9h1M879.1 893.2h1M915.6 857.0h1M924.0 851.1h1M916.9 811.5h1M890.6 876.0h1M888.7 857.2h1M911.6 815.8h1M958.9 809.7h1M895.0 800.0h1M905.9 863.2h1M876.4 796.9h1M912.4 805.5h1M906.5 836.1h1M918.2 814.2h1M907.4 843.1h1M944.1 802.6h1M871.9 877.9h1M918.5 803.1h1M898.6 878.3h1M923.5 797.2h1M912.3 807.4h1M885.8 877.0h1M913.6 853.8h1M896.1 875.4h1M870.4 877.0h1M922.6 847.1h1M866.8 872.1h1M854.1 878.9h1M904.8 866.5h1M888.1 862.5h1M850.1 869.7h1M912.9 821.2h1M893.0 868.5h1M908.0 849.2h1M902.6 867.1h1M861.8 870.4h1M905.2 844.8h1M866.6 895.0h1M939.7 851.0h1M890.3 866.7h1M878.1 879.2h1M857.1 866.7h1M933.7 814.5h1M879.4 866.8h1M910.4 829.0h1M911.0 811.9h1M906.7 848.6h1M889.9 865.5h1M915.6 868.1h1M875.2 873.0h1M861.3 882.4h1M927.9 844.7h1M919.9 804.3h1M904.9 850.8h1M865.2 890.7h1M881.7 888.3h1M879.0 867.4h1M873.2 867.9h1M879.4 850.2h1M902.3 863.2h1M872.0 876.4h1M893.6 857.6h1M942.7 821.0h1M921.4 816.3h1M878.8 890.3h1M886.6 870.1h1M868.7 862.2h1" stroke="#ff2020" stroke-width="1" opacity="0.72"/>
<path d="M885.0 887.9h1M902.5 855.1h1M894.5 865.0h1M899.8 862.4h1M899.1 788.8h1M854.2 877.4h1M876.0 854.9h1M896.6 854.8h1M886.1 882.2h1M879.5 863.4h1M892.9 869.3h1M924.9 863.3h1M935.8 785.6h1M897.7 864.5h1M878.9 860.4h1M913.1 827.8h1M848.5 848.4h1M907.8 867.1h1M904.6 794.3h1M947.4 842.2h1M876.5 863.0h1M888.6 875.1h1M937.0 792.7h1M867.9 862.9h1M871.7 887.5h1M869.3 866.4h1M886.9 866.1h1M903.5 848.3h1M884.8 880.4h1M915.1 797.4h1M877.6 901.6h1M876.4 845.7h1M879.3 892.2h1M876.3 870.1h1M894.1 851.3h1M919.5 807.9h1M904.8 861.3h1M896.5 879.6h1M878.7 862.1h1M885.0 818.9h1M949.6 814.1h1M883.4 872.7h1M933.2 848.6h1M893.3 900.7h1M884.9 885.0h1M949.7 784.7h1M908.5 829.4h1M846.4 880.3h1M907.5 864.0h1M857.1 881.0h1M895.8 864.6h1M869.1 863.5h1M915.7 850.2h1M922.6 860.5h1M859.2 875.8h1M864.8 875.1h1M878.1 869.4h1M873.1 870.9h1M922.9 846.4h1M887.5 854.2h1M889.2 866.9h1M881.8 874.7h1M891.4 865.3h1M883.8 883.8h1M892.6 850.8h1M881.9 878.3h1M884.8 872.9h1M860.9 867.6h1M887.9 882.9h1M895.1 853.4h1M862.4 869.3h1M891.2 892.7h1M902.8 830.8h1M904.7 872.9h1M888.8 832.3h1M855.9 858.4h1M918.7 856.5h1M899.9 871.7h1M869.4 856.7h1M881.3 873.6h1M878.6 865.7h1M888.2 898.2h1M918.3 805.4h1M870.8 870.8h1M899.3 847.7h1M898.1 871.5h1M944.5 841.6h1M879.9 870.3h1M913.2 852.7h1M870.8 868.4h1M912.5 794.2h1M853.7 874.0h1M898.5 852.3h1M917.3 807.8h1M877.1 856.1h1M892.0 865.6h1M905.1 878.6h1M889.0 860.3h1M912.0 866.4h1M887.6 867.5h1M905.3 846.0h1M876.3 900.3h1M895.5 848.3h1M913.6 813.6h1M937.6 805.7h1M860.2 860.8h1M864.2 882.0h1M900.8 856.3h1M882.3 811.3h1M882.7 875.6h1M888.3 874.6h1M892.1 867.5h1M869.7 875.7h1M882.8 842.4h1M889.7 870.9h1M908.0 849.6h1M875.0 866.3h1M867.0 882.3h1M880.1 860.6h1M881.9 865.6h1M879.3 876.2h1M911.5 851.3h1M875.6 853.1h1M904.7 821.8h1M912.5 866.0h1M878.4 865.9h1M900.8 870.4h1M890.8 799.7h1M935.4 815.6h1M868.5 890.2h1M924.2 796.6h1M915.1 867.5h1M856.8 865.5h1M844.5 887.6h1M886.1 855.2h1M912.9 796.8h1M878.9 869.1h1M920.7 813.7h1M881.0 819.0h1M884.1 870.3h1M933.3 823.9h1M916.4 801.9h1M878.3 800.7h1M876.0 867.6h1M928.5 798.3h1M880.8 870.6h1M843.9 874.6h1M907.4 832.9h1M918.4 823.4h1M922.7 821.7h1M907.5 839.9h1M903.0 857.4h1M929.1 807.2h1M914.3 872.1h1M889.0 860.1h1M913.5 849.9h1M889.9 869.6h1M842.9 872.2h1M893.4 864.7h1M891.6 854.6h1M896.2 809.0h1M883.7 867.8h1M878.5 853.0h1M910.5 830.7h1M863.3 870.4h1M913.1 854.2h1M901.4 847.1h1M889.8 863.6h1M920.7 828.2h1M894.3 891.5h1M888.2 870.0h1M903.3 782.0h1M875.7 875.4h1M898.3 860.6h1M917.8 869.9h1M911.8 862.8h1M934.8 851.0h1M887.3 856.3h1M868.9 884.1h1M880.9 862.5h1M872.1 882.8h1M842.3 886.4h1M886.1 873.1h1M898.5 872.8h1M916.5 829.7h1M889.5 875.2h1M890.4 870.4h1M883.5 850.6h1M899.3 869.1h1M933.7 836.7h1M842.8 869.5h1M921.4 803.2h1M898.4 880.5h1M876.1 854.6h1M876.8 864.2h1M861.2 888.4h1M869.7 856.2h1M934.9 808.9h1M895.7 885.9h1M896.0 880.7h1M888.1 881.6h1M906.1 870.6h1M868.4 880.1h1M875.7 878.8h1M946.4 841.1h1M874.8 862.0h1M918.4 860.3h1M887.8 889.5h1M897.0 837.4h1M886.6 873.0h1M880.9 873.7h1M874.9 884.4h1M900.6 862.2h1M876.8 871.5h1M915.4 855.8h1M929.7 808.4h1M874.3 893.9h1M868.5 880.3h1M885.8 870.6h1M898.6 874.1h1M884.5 827.4h1M885.4 885.5h1M879.5 804.6h1M885.9 864.8h1M911.2 868.8h1M897.5 873.9h1M854.4 865.5h1M883.9 817.6h1M870.2 894.5h1M914.2 812.2h1M892.5 881.4h1M870.4 897.7h1M870.1 873.8h1M894.1 855.4h1M903.4 868.5h1M899.9 857.8h1M900.0 845.6h1M906.4 840.2h1M886.1 862.6h1M887.1 800.7h1M863.6 879.4h1M886.3 872.4h1M850.9 856.2h1M914.1 814.1h1M890.1 867.1h1M896.6 820.8h1M906.4 875.3h1M914.0 856.7h1M901.0 849.1h1M907.4 873.7h1M923.9 821.0h1M892.5 844.9h1M848.9 868.2h1M895.2 861.6h1M888.7 842.3h1M847.2 875.0h1M934.9 822.0h1M906.7 794.2h1M896.5 791.3h1M875.8 794.6h1M920.8 841.6h1M892.0 862.1h1M863.8 864.8h1M919.0 858.6h1M910.4 820.4h1M880.7 861.1h1M932.8 804.6h1M886.8 864.1h1M918.6 883.9h1M864.8 809.1h1M882.0 863.1h1M897.2 856.8h1M931.8 814.7h1M892.5 879.9h1M922.5 844.1h1M881.3 881.6h1M959.2 852.9h1M898.2 856.5h1M914.1 858.9h1M917.6 863.5h1M884.2 855.9h1M911.8 829.0h1M895.3 848.3h1M921.1 792.6h1M961.4 818.4h1M871.1 900.2h1M890.8 817.8h1M911.8 811.1h1M881.1 872.7h1M887.0 867.7h1M890.4 783.2h1M961.7 812.1h1M904.4 818.6h1M895.2 875.3h1M878.6 884.5h1M877.1 867.7h1M894.2 847.2h1M904.1 856.6h1M954.1 789.6h1M875.4 884.4h1M934.5 850.2h1M879.4 861.1h1M910.3 872.9h1M926.4 812.5h1M856.7 865.4h1M900.9 843.9h1M893.2 868.5h1M913.6 823.3h1M912.9 814.4h1M865.0 909.1h1M881.3 861.5h1M907.8 851.9h1M890.8 800.1h1M906.7 862.6h1M886.4 867.1h1M886.5 874.8h1M846.7 872.5h1M925.3 814.0h1M876.3 848.5h1M923.2 801.7h1M912.3 860.5h1M869.9 863.6h1M905.2 873.0h1M881.4 872.6h1M884.0 816.8h1M857.2 873.6h1M907.9 864.1h1M899.1 882.6h1M909.0 852.5h1M884.5 855.8h1M882.6 855.9h1M896.3 848.8h1M889.7 863.5h1M849.0 865.2h1M896.9 864.2h1M889.0 892.6h1M950.8 789.3h1M888.7 861.8h1M886.8 879.1h1M894.9 854.2h1M886.3 872.4h1M899.5 794.2h1M930.8 849.7h1M890.2 869.5h1M889.0 877.2h1M877.5 866.9h1M909.9 812.5h1M950.5 805.1h1M843.9 863.6h1M879.7 853.0h1M859.3 894.1h1M928.9 798.5h1M884.1 869.5h1M889.9 862.5h1M874.3 865.1h1M904.9 831.1h1M902.3 866.0h1M924.0 809.7h1M864.9 874.4h1M895.2 856.9h1M860.7 882.0h1M858.9 868.7h1M886.9 861.4h1M931.9 789.3h1M909.8 839.4h1M939.6 799.2h1M939.8 837.6h1M877.6 845.2h1M880.8 878.1h1M888.6 853.8h1M940.6 798.2h1M904.6 854.2h1M928.1 797.7h1M881.2 867.6h1M874.7 863.6h1M907.8 872.1h1M884.3 844.6h1M896.4 841.9h1M959.9 846.1h1M902.2 806.9h1M856.1 875.4h1M922.0 870.6h1M882.9 888.5h1M894.1 855.5h1M860.3 877.1h1M902.6 821.9h1M930.2 802.8h1M853.0 872.8h1M904.2 866.3h1M890.4 866.8h1M916.5 812.4h1M885.2 871.1h1M892.7 873.1h1M856.4 873.9h1M885.0 806.7h1M874.6 859.2h1M913.6 860.9h1M937.3 784.2h1M909.8 879.8h1M891.1 863.2h1M932.0 853.7h1M928.8 827.1h1M954.5 794.9h1M874.7 876.4h1M910.7 862.6h1M876.6 871.6h1M855.7 853.4h1M894.6 858.1h1M937.9 795.4h1M864.9 854.8h1M852.0 885.4h1M914.1 807.3h1M875.4 855.4h1M907.9 871.9h1M915.0 781.8h1M886.0 848.7h1M879.9 865.0h1M895.8 882.2h1M881.5 877.4h1M954.8 813.2h1M893.8 873.4h1M897.0 871.5h1M845.3 891.5h1M892.1 875.2h1M861.4 874.1h1M884.2 852.9h1M874.8 857.5h1M894.6 810.5h1M884.2 893.4h1M886.0 840.1h1M926.6 800.7h1M893.4 866.5h1M855.8 859.6h1M871.8 867.3h1M933.9 822.2h1M881.3 848.3h1M902.2 813.7h1M897.8 855.7h1M890.0 869.7h1M930.6 810.4h1M923.9 808.2h1M879.8 868.5h1M877.6 860.6h1M933.5 854.3h1M897.4 860.6h1M875.3 867.0h1M881.1 866.3h1M881.9 880.9h1M944.9 868.6h1M856.0 883.1h1M914.8 855.1h1M885.5 802.6h1M889.7 884.7h1M890.3 887.0h1M847.5 875.0h1M905.8 872.7h1M855.4 883.9h1M879.3 871.3h1M898.6 859.9h1M864.6 863.4h1M844.6 865.1h1M913.1 787.4h1M887.5 846.6h1M852.2 855.8h1M938.0 768.5h1M858.7 894.5h1M887.3 854.2h1M915.2 807.3h1M862.6 854.0h1M888.4 863.7h1M895.8 852.8h1M887.5 859.7h1M893.4 880.5h1M908.9 801.4h1M875.4 882.6h1M896.8 862.2h1M909.6 878.0h1M892.2 829.1h1M903.1 861.4h1M875.5 852.6h1M924.0 799.2h1M856.6 874.8h1M859.8 862.8h1M903.4 843.6h1M907.8 864.1h1M884.2 856.4h1M867.1 832.9h1M929.4 805.7h1M874.6 883.4h1M885.0 872.1h1M908.9 847.8h1M909.8 854.0h1M911.0 822.8h1M931.9 783.5h1M884.5 887.5h1M910.4 825.3h1M879.8 869.1h1M880.6 860.9h1M857.9 874.8h1M866.4 875.2h1M890.2 871.1h1M886.2 869.3h1M920.9 808.3h1M889.3 867.1h1M887.3 879.5h1M881.8 849.5h1M880.5 889.7h1M885.3 880.1h1M877.7 878.6h1M909.5 872.8h1M865.4 872.6h1M934.6 817.5h1M919.2 814.8h1M889.4 849.8h1M947.8 869.0h1M891.4 878.9h1M856.9 875.6h1M891.9 852.7h1M853.3 871.9h1M905.8 810.0h1M905.3 842.9h1M906.2 880.1h1M887.3 865.4h1M884.2 900.4h1M882.7 857.7h1M853.1 881.3h1M892.5 890.8h1M916.6 873.5h1M917.2 847.8h1M861.1 841.0h1M854.5 890.3h1M890.2 879.0h1M910.9 870.7h1M906.5 837.1h1M904.1 787.8h1M862.5 868.1h1M888.3 855.8h1M892.8 875.4h1M912.1 848.0h1M907.3 846.1h1M890.6 871.2h1M866.6 879.7h1M908.0 788.9h1M881.4 873.3h1M856.3 873.5h1M906.2 864.1h1M947.3 836.8h1M906.4 860.4h1M874.3 866.1h1M880.7 880.3h1M885.8 886.4h1M887.5 865.7h1M927.7 793.0h1M884.5 877.1h1M873.4 874.5h1M901.1 862.0h1M900.2 872.6h1M866.1 883.0h1M889.7 859.4h1M890.7 897.3h1M930.5 848.2h1M860.5 879.9h1M865.0 881.5h1M913.5 871.7h1M899.6 871.8h1M921.8 853.4h1M886.9 878.6h1M935.6 795.0h1M918.4 865.0h1M914.1 797.4h1M877.9 835.7h1M866.5 881.5h1M960.8 800.4h1M910.7 865.9h1M854.2 896.2h1M855.7 906.5h1M877.3 852.0h1M873.0 879.3h1M897.7 880.5h1M899.8 856.1h1M866.4 876.8h1M871.7 876.9h1M898.9 859.5h1M904.2 838.2h1M904.2 862.3h1M893.1 872.8h1M903.0 873.0h1M891.7 856.9h1M880.5 879.5h1M893.4 860.1h1M866.7 886.8h1M895.8 871.9h1M866.8 879.6h1M942.8 810.6h1M916.3 858.0h1M862.2 878.1h1M920.1 799.6h1M888.0 879.4h1M885.9 878.8h1M880.5 856.3h1M890.7 811.9h1M871.3 861.5h1M908.7 817.1h1M929.5 799.9h1M894.7 859.2h1M886.4 880.9h1M897.8 855.7h1M875.0 884.3h1M893.0 863.9h1M864.7 880.8h1M915.1 875.8h1M895.6 868.2h1M882.6 856.3h1M909.8 818.1h1M898.7 899.2h1M873.3 789.7h1M932.4 790.0h1M855.7 899.4h1M867.2 896.5h1M918.2 789.3h1M893.0 910.5h1M908.8 823.8h1M898.4 808.4h1M909.1 804.3h1M898.4 859.8h1M866.8 867.2h1M919.2 807.0h1M935.4 822.9h1M880.8 871.3h1M931.6 844.6h1M905.1 786.2h1M856.4 885.7h1M905.4 855.3h1M844.1 879.3h1M866.8 864.2h1M891.0 854.7h1M906.6 834.1h1M892.7 800.1h1M873.5 852.1h1M888.4 860.8h1M947.3 809.2h1M865.3 875.4h1M883.3 899.2h1M880.6 866.4h1M932.9 805.8h1M881.0 878.1h1M936.0 819.1h1M912.5 818.6h1M893.9 858.5h1M932.1 854.8h1M863.3 905.3h1M867.8 869.8h1M907.1 816.2h1M884.7 869.5h1M921.1 821.7h1M863.1 885.5h1M900.1 866.0h1M864.2 875.1h1M917.1 855.8h1M890.1 862.5h1M876.4 857.6h1M942.2 854.9h1M888.7 855.9h1M891.5 787.1h1M897.0 858.7h1M912.3 834.5h1M918.1 821.5h1M880.4 864.3h1M886.8 846.0h1M902.8 811.7h1M936.2 823.1h1M925.7 797.9h1M879.1 875.4h1M923.0 808.0h1M913.3 854.9h1M905.8 815.0h1M876.7 861.6h1M873.8 873.8h1M876.6 877.0h1M846.9 890.9h1M902.5 831.2h1M888.2 874.0h1M885.9 873.9h1M906.7 799.6h1M856.7 876.4h1M885.3 867.9h1M906.1 860.1h1M933.3 800.8h1M888.0 900.8h1M906.0 876.4h1M886.4 855.6h1M890.7 889.0h1M914.4 812.8h1M897.6 858.5h1M872.8 875.4h1M886.3 868.7h1M961.6 802.2h1M893.7 863.0h1M866.9 870.5h1M922.0 852.2h1M896.7 872.5h1M898.5 882.2h1M878.1 855.4h1M901.6 873.1h1M884.6 858.3h1M934.0 822.2h1M845.3 881.1h1M896.3 887.5h1M872.2 849.6h1M906.0 858.9h1M853.8 867.7h1M853.7 871.2h1M859.3 879.5h1M866.5 866.2h1M903.4 813.4h1M915.7 863.3h1M920.5 804.5h1M948.6 856.4h1M923.2 808.8h1M909.0 869.4h1M869.7 852.4h1M855.5 873.9h1M910.4 848.3h1M906.2 847.6h1M875.1 885.7h1M868.7 897.6h1M903.0 849.1h1M920.8 800.3h1M920.9 803.6h1M883.4 872.6h1M928.6 819.1h1M863.1 887.3h1M865.4 883.4h1M859.0 891.2h1M883.9 865.0h1M905.6 817.1h1M911.0 855.9h1M917.8 802.1h1M926.7 800.2h1M893.1 840.3h1M919.4 797.9h1M906.1 845.5h1M884.2 901.7h1M872.9 860.2h1M905.4 815.1h1M902.7 800.3h1M876.0 862.8h1M850.9 870.7h1M907.1 855.7h1M906.1 807.2h1M927.0 812.3h1M910.3 864.2h1M880.5 879.1h1M914.0 834.8h1M890.3 859.1h1M932.8 804.9h1M896.6 838.2h1M878.1 866.5h1M877.4 883.6h1M903.5 872.8h1M898.2 853.5h1M883.3 867.4h1M877.9 872.0h1M882.0 876.3h1M901.5 863.0h1M882.8 861.8h1M936.4 799.0h1M883.8 897.2h1M895.0 876.7h1M897.9 862.6h1M914.4 822.7h1M864.5 863.4h1M903.0 862.5h1M896.0 872.4h1M881.1 882.2h1M909.9 795.1h1M954.9 841.7h1M902.3 867.7h1M900.6 851.2h1M908.9 848.0h1M862.9 865.9h1M887.4 799.5h1M877.6 889.4h1M898.4 838.8h1M854.8 830.7h1M936.2 855.4h1M901.3 860.6h1M887.3 858.7h1M902.7 850.4h1M896.2 872.2h1M914.9 837.9h1M966.0 783.0h1M873.8 872.3h1M864.3 873.3h1M945.0 848.0h1M890.1 853.5h1M901.8 853.0h1M899.2 842.6h1M911.1 863.5h1M871.6 869.7h1M885.6 865.9h1M896.8 813.9h1M916.0 791.2h1M885.9 854.2h1M882.1 834.7h1M894.0 876.2h1M899.6 870.8h1M898.8 844.5h1M863.8 845.0h1M901.5 850.5h1M899.3 799.8h1M863.0 872.4h1M949.4 856.3h1M877.6 882.1h1M923.1 804.1h1M896.5 864.7h1M892.2 884.0h1M931.5 813.1h1M891.3 856.8h1M936.3 806.2h1M861.6 872.6h1M890.3 866.6h1M879.2 869.5h1M900.8 802.8h1M873.1 887.3h1M885.6 791.0h1M917.1 860.1h1M857.8 869.7h1M875.1 863.1h1M881.5 812.9h1M910.7 820.3h1M909.5 867.4h1M876.3 821.5h1M896.5 861.7h1M894.3 873.7h1M928.8 814.0h1M876.3 791.3h1M860.1 892.7h1M893.8 796.4h1M882.3 794.7h1M906.2 864.6h1M914.4 859.7h1M892.3 870.9h1M890.3 888.1h1M858.1 871.3h1M880.3 878.3h1M943.4 804.4h1M901.7 853.9h1M902.6 834.2h1M865.8 881.0h1M890.1 801.0h1M875.6 897.1h1M881.9 856.3h1M883.0 874.7h1M895.6 868.1h1M909.2 811.4h1M944.8 797.2h1M902.8 802.0h1M894.2 865.6h1M889.0 867.8h1M901.9 859.8h1M910.9 806.4h1M909.5 873.6h1M883.7 865.3h1M894.8 870.5h1M882.1 867.6h1M897.7 870.7h1M876.1 868.7h1M956.3 840.7h1M902.4 817.2h1M858.2 856.0h1M937.8 844.6h1M911.6 868.6h1M895.9 867.0h1M900.9 871.2h1" stroke="#ff2020" stroke-width="1" opacity="0.72"/>
</g>
<rect x="841.25" y="766.25" width="133.25" height="146.25" fill="none" stroke="#8a8a8a" stroke-width="1"/>
<path d="M907 766.25V912.5M841.25 840H974.5" stroke="#f03030" stroke-width="0.9" opacity="0.85"/>
<g fill="none" stroke="#f03030" stroke-width="0.8" opacity="0.8"><circle cx="907" cy="840" r="2"/><circle cx="907" cy="794.04" r="2"/><circle cx="951.85" cy="840" r="2"/></g>
<text class="san" x="841.25" y="763.25" font-size="8.35" fill="#5a5a5a" text-decoration="underline">Plot P02, gated on P01.R1</text>
<text class="sa" x="844.25" y="774.25" font-size="7" fill="#555">4.88%</text>
<text class="sa" x="971.5" y="774.25" font-size="7" text-anchor="end" fill="#555">11.14%</text>
<text class="sa" x="844.25" y="909" font-size="7" fill="#555">76.20%</text>
<text class="sa" x="971.5" y="909" font-size="7" text-anchor="end" fill="#555">7.80%</text>
<text class="san" fill="#5a5a5a" font-size="8.4" text-anchor="middle" x="842.25" y="923">10<tspan font-size="5.4" dy="-3.2">0</tspan></text>
<text class="san" fill="#5a5a5a" font-size="8.4" text-anchor="middle" transform="translate(837.75 913.5) rotate(-90)">10<tspan font-size="5.4" dy="-3.2">0</tspan></text>
<text class="san" fill="#5a5a5a" font-size="8.4" text-anchor="middle" x="875.56" y="923">10<tspan font-size="5.4" dy="-3.2">1</tspan></text>
<text class="san" fill="#5a5a5a" font-size="8.4" text-anchor="middle" transform="translate(837.75 876.94) rotate(-90)">10<tspan font-size="5.4" dy="-3.2">1</tspan></text>
<text class="san" fill="#5a5a5a" font-size="8.4" text-anchor="middle" x="908.88" y="923">10<tspan font-size="5.4" dy="-3.2">2</tspan></text>
<text class="san" fill="#5a5a5a" font-size="8.4" text-anchor="middle" transform="translate(837.75 840.38) rotate(-90)">10<tspan font-size="5.4" dy="-3.2">2</tspan></text>
<text class="san" fill="#5a5a5a" font-size="8.4" text-anchor="middle" x="942.19" y="923">10<tspan font-size="5.4" dy="-3.2">3</tspan></text>
<text class="san" fill="#5a5a5a" font-size="8.4" text-anchor="middle" transform="translate(837.75 803.81) rotate(-90)">10<tspan font-size="5.4" dy="-3.2">3</tspan></text>
<text class="san" fill="#5a5a5a" font-size="8.4" text-anchor="middle" x="975.5" y="923">10<tspan font-size="5.4" dy="-3.2">4</tspan></text>
<text class="san" fill="#5a5a5a" font-size="8.4" text-anchor="middle" transform="translate(837.75 767.25) rotate(-90)">10<tspan font-size="5.4" dy="-3.2">4</tspan></text>
<path d="M841.25 912.5v3M841.25 912.5h-3M874.56 912.5v3M841.25 875.94h-3M907.88 912.5v3M841.25 839.38h-3M941.19 912.5v3M841.25 802.81h-3M974.5 912.5v3M841.25 766.25h-3" stroke="#8a8a8a" stroke-width="0.8"/>
<text class="san" x="902.88" y="934" font-size="8.3" text-anchor="middle" fill="#5a5a5a">Annexin V-FITC (GRN-B-HLog)</text>
<text class="san" font-size="8.3" text-anchor="middle" fill="#5a5a5a" transform="translate(827.75 842.38) rotate(-90)">PI (RED-B-HLog)</text>
<text class="se" x="910.5" y="952.5" font-size="13.5" text-anchor="middle">TSA</text>
<clipPath id="fc3"><rect x="683.5" y="1398" width="126.25" height="139.75"/></clipPath>
<radialGradient id="fg3" gradientUnits="userSpaceOnUse" cx="727" cy="1491" r="39" gradientTransform="translate(727 1491) scale(1 0.62) translate(-727 -1491)"><stop offset="0" stop-color="#ff1010" stop-opacity="0.95"/><stop offset="0.45" stop-color="#ff2020" stop-opacity="0.55"/><stop offset="1" stop-color="#ff3030" stop-opacity="0"/></radialGradient>
<g clip-path="url(#fc3)">
<rect x="683" y="1461" width="88" height="60" fill="url(#fg3)"/>
<path d="M739.8 1489.6h1M726.8 1484.5h1M721.0 1488.2h1M784.9 1463.4h1M717.0 1503.3h1M710.3 1510.5h1M713.8 1491.2h1M727.8 1480.2h1M768.1 1470.2h1M745.3 1499.2h1M735.2 1493.0h1M694.2 1502.3h1M723.5 1481.9h1M720.6 1499.2h1M734.7 1482.3h1M738.8 1477.4h1M705.7 1505.2h1M747.7 1470.4h1M718.6 1493.6h1M719.4 1479.7h1M741.1 1484.8h1M712.3 1490.2h1M716.4 1523.5h1M731.4 1510.3h1M737.2 1488.5h1M725.5 1484.6h1M723.9 1494.1h1M749.2 1487.3h1M744.5 1486.7h1M750.8 1445.0h1M716.4 1502.5h1M691.8 1498.8h1M739.3 1484.7h1M707.0 1490.0h1M725.7 1495.9h1M737.6 1499.0h1M692.1 1483.7h1M701.8 1494.6h1M739.5 1473.8h1M699.4 1491.0h1M721.9 1494.2h1M712.4 1500.5h1M745.8 1500.4h1M703.2 1506.1h1M751.3 1483.4h1M719.1 1500.8h1M710.5 1492.8h1M714.6 1502.5h1M743.5 1466.7h1M735.9 1493.3h1M751.1 1494.5h1M703.6 1501.8h1M767.5 1428.6h1M724.0 1500.1h1M766.8 1485.8h1M697.5 1500.1h1M740.8 1452.6h1M779.1 1424.5h1M735.9 1468.8h1M738.9 1472.0h1M706.4 1504.3h1M715.4 1495.4h1M760.9 1462.1h1M773.5 1469.4h1M711.9 1487.7h1M737.3 1453.3h1M713.9 1513.6h1M706.9 1486.3h1M705.5 1497.5h1M699.1 1521.7h1M725.7 1493.5h1M709.0 1513.6h1M747.3 1486.6h1M721.3 1486.0h1M782.6 1438.5h1M715.5 1504.3h1M732.1 1522.1h1M750.5 1437.7h1M762.0 1487.6h1M723.0 1506.2h1M772.1 1475.6h1M715.5 1510.9h1M731.4 1478.9h1M738.3 1484.1h1M741.0 1490.0h1M792.4 1435.4h1M731.9 1474.3h1M762.6 1472.5h1M731.6 1495.9h1M711.2 1482.8h1M750.1 1492.8h1M732.5 1454.9h1M743.7 1464.8h1M707.4 1482.9h1M694.2 1499.4h1M754.6 1486.6h1M724.3 1490.0h1M733.1 1495.5h1M709.1 1530.9h1M705.1 1523.4h1M737.1 1497.5h1M737.7 1476.5h1M719.4 1514.4h1M730.6 1498.2h1M755.5 1456.1h1M724.2 1503.7h1M745.9 1478.7h1M731.7 1487.6h1M714.3 1476.5h1M729.1 1499.2h1M750.3 1492.9h1M724.1 1475.8h1M715.0 1492.6h1M691.7 1517.8h1M745.9 1503.3h1M740.3 1498.7h1M753.4 1500.1h1M733.5 1489.1h1M706.5 1483.0h1M706.4 1513.1h1M725.2 1494.0h1M731.2 1488.6h1M683.8 1499.0h1M725.8 1484.8h1M730.8 1505.3h1M711.6 1502.4h1M732.6 1492.2h1M716.3 1515.1h1M776.7 1450.6h1M702.4 1494.8h1M731.0 1499.9h1M709.0 1493.4h1M752.5 1456.7h1M734.4 1466.1h1M759.1 1493.5h1M745.6 1445.7h1M780.0 1471.0h1M731.4 1479.3h1M723.7 1487.0h1M698.2 1489.4h1M780.0 1453.1h1M709.2 1501.3h1M744.6 1432.9h1M698.7 1490.3h1M724.6 1513.7h1M739.7 1482.4h1M728.4 1506.7h1M707.3 1496.1h1M732.8 1495.0h1M714.5 1500.6h1M729.6 1440.3h1M732.4 1480.1h1M778.8 1493.6h1M749.6 1451.2h1M743.7 1480.2h1M752.0 1492.2h1M734.8 1475.1h1M701.7 1521.8h1M725.5 1498.5h1M720.9 1518.0h1M762.5 1474.2h1M720.3 1495.6h1M684.6 1503.1h1M738.9 1491.7h1M749.8 1474.3h1M749.7 1447.2h1M711.9 1502.7h1M692.8 1421.6h1M759.4 1481.5h1M724.2 1498.0h1M733.6 1430.2h1M723.3 1495.1h1M726.1 1487.8h1M711.2 1511.9h1M698.1 1506.0h1M740.5 1494.4h1M754.6 1436.4h1M700.4 1505.5h1M717.3 1493.1h1M732.9 1485.8h1M722.7 1498.3h1M735.5 1484.4h1M728.2 1482.7h1M732.1 1505.2h1M707.5 1505.3h1M736.5 1489.2h1M728.6 1425.2h1M768.3 1407.0h1M723.0 1475.9h1M735.0 1504.8h1M683.8 1483.3h1M747.0 1476.8h1M712.7 1504.9h1M706.4 1503.2h1M702.1 1488.5h1M725.4 1492.2h1M715.4 1486.0h1M714.3 1512.2h1M721.9 1499.9h1M700.2 1496.1h1M704.0 1517.5h1M745.2 1430.5h1M698.5 1493.2h1M773.4 1421.3h1M689.5 1491.4h1M708.2 1505.1h1M693.5 1515.8h1M713.9 1488.5h1M756.8 1448.7h1M721.0 1490.9h1M720.6 1496.3h1M705.1 1491.2h1M720.8 1498.5h1M743.7 1480.7h1M733.8 1484.2h1M719.4 1504.3h1M714.1 1499.2h1M736.2 1423.7h1M718.1 1502.6h1M691.8 1500.7h1M713.9 1496.2h1M793.6 1425.1h1M704.9 1476.9h1M753.8 1480.9h1M735.6 1469.8h1M723.9 1496.5h1M719.0 1509.6h1M730.8 1487.8h1M712.3 1504.3h1M758.3 1487.0h1M715.8 1472.0h1M704.9 1500.3h1M747.9 1489.2h1M736.7 1485.7h1M730.7 1495.3h1M764.7 1455.4h1M709.7 1485.9h1M720.2 1489.9h1M722.9 1501.6h1M755.5 1488.6h1M717.9 1522.7h1M700.5 1498.9h1M734.6 1510.8h1M739.8 1481.7h1M698.5 1499.5h1M736.8 1488.4h1M712.5 1493.6h1M736.4 1472.3h1M760.4 1457.1h1M703.1 1504.5h1M725.4 1490.6h1M703.3 1500.4h1M708.2 1504.6h1M740.6 1467.2h1M712.1 1483.1h1M734.7 1493.0h1M745.3 1486.9h1M704.5 1502.1h1M706.3 1473.1h1M760.1 1479.1h1M717.2 1499.1h1M698.1 1505.9h1M757.0 1485.8h1M738.8 1479.9h1M730.9 1489.3h1M720.2 1497.3h1M702.2 1495.5h1M728.6 1512.5h1M714.1 1497.3h1M736.1 1472.4h1M713.3 1493.8h1M704.7 1501.0h1M730.7 1473.7h1M711.0 1507.1h1M711.1 1501.3h1M752.8 1417.3h1M712.6 1478.7h1M722.9 1496.0h1M690.2 1510.2h1M762.2 1482.1h1M730.6 1507.7h1M711.6 1484.4h1M761.0 1459.1h1M730.2 1488.6h1M691.8 1494.3h1M716.2 1488.3h1M776.7 1443.6h1M740.8 1503.6h1M729.7 1491.2h1M689.1 1530.0h1M751.1 1488.1h1M711.0 1503.9h1M719.0 1497.8h1M749.9 1498.3h1M707.1 1507.0h1M729.4 1509.5h1M729.3 1482.5h1M711.3 1497.9h1M713.7 1494.0h1M707.2 1499.5h1M698.4 1508.2h1M710.5 1499.7h1M735.7 1502.1h1M707.6 1508.5h1M684.0 1422.5h1M758.0 1443.5h1M747.8 1462.3h1M711.0 1488.3h1M706.4 1494.3h1M729.4 1503.8h1M730.0 1492.9h1M708.9 1504.3h1M779.8 1467.0h1M741.0 1502.3h1M697.1 1506.2h1M737.5 1482.3h1M744.9 1497.9h1M797.7 1439.9h1M749.2 1477.2h1M752.2 1489.8h1M752.3 1484.5h1M691.4 1509.6h1M732.7 1477.9h1M739.4 1441.3h1M704.0 1492.3h1M691.4 1525.0h1M722.4 1500.9h1M725.2 1520.8h1M716.9 1501.5h1M749.7 1511.8h1M731.1 1508.9h1M770.6 1487.2h1M730.5 1496.1h1M747.5 1489.9h1M739.2 1483.3h1M748.9 1494.2h1M768.7 1477.5h1M741.5 1486.6h1M726.4 1508.2h1M750.0 1473.7h1M714.6 1511.0h1M732.0 1476.6h1M765.9 1452.2h1M719.7 1503.2h1M746.1 1490.2h1M746.8 1486.8h1M744.9 1486.9h1M705.6 1497.0h1M727.5 1529.7h1M705.0 1492.6h1M772.6 1485.5h1M722.4 1484.6h1M701.1 1507.0h1M728.6 1513.8h1M744.6 1481.4h1M721.2 1488.0h1M689.8 1502.6h1M713.4 1497.6h1M714.1 1505.1h1M728.4 1495.8h1M744.8 1459.7h1M716.2 1487.7h1M744.9 1439.7h1M691.0 1508.8h1M728.8 1509.2h1M714.1 1504.4h1M778.9 1495.7h1M751.3 1482.6h1M684.9 1524.7h1M730.5 1478.9h1M764.7 1409.8h1M766.0 1478.2h1M748.1 1433.1h1M742.6 1489.3h1M731.2 1501.4h1M778.4 1484.9h1M688.4 1488.0h1M729.4 1497.1h1M759.9 1484.5h1M733.9 1495.7h1M762.1 1478.2h1M768.7 1430.3h1M759.7 1496.4h1M724.1 1503.5h1M747.3 1488.0h1M719.4 1500.0h1M762.7 1457.3h1M735.2 1496.3h1M722.5 1532.5h1M738.0 1499.8h1M709.6 1492.8h1M708.3 1491.1h1M776.8 1480.5h1M747.6 1466.0h1M733.2 1406.0h1M719.0 1487.1h1M713.4 1514.1h1M727.1 1493.5h1M742.8 1500.7h1M728.6 1495.7h1M752.7 1485.6h1M711.1 1524.3h1M795.0 1427.0h1M748.9 1495.8h1M730.7 1498.5h1M714.0 1485.9h1M705.1 1527.6h1M691.2 1500.1h1M691.4 1493.6h1M753.1 1494.0h1M753.5 1501.2h1M737.9 1491.9h1M746.0 1499.2h1M739.5 1482.0h1M715.8 1506.1h1M713.8 1487.1h1M742.2 1497.4h1M713.3 1510.7h1M731.1 1489.7h1M730.1 1507.6h1M730.3 1485.4h1M710.9 1494.4h1M731.5 1492.1h1M694.3 1492.9h1M722.5 1511.0h1M737.6 1490.4h1M759.8 1474.4h1M746.5 1480.6h1M762.5 1444.8h1M753.5 1432.6h1M700.3 1475.3h1M707.2 1484.3h1M725.5 1495.8h1M774.9 1466.6h1M716.7 1507.8h1M734.2 1515.1h1M726.8 1493.0h1M753.6 1491.4h1M733.9 1481.8h1M706.5 1489.8h1M696.1 1496.9h1M742.6 1483.0h1M717.2 1492.0h1M766.7 1429.0h1M719.7 1496.1h1M798.8 1448.4h1M750.9 1476.1h1M705.3 1497.6h1M722.9 1484.1h1M755.2 1483.4h1M730.4 1499.6h1M719.3 1481.8h1M761.4 1461.8h1M693.5 1509.6h1M752.7 1477.4h1M721.0 1498.3h1M738.1 1487.3h1M709.2 1440.5h1M722.9 1482.5h1M746.4 1480.7h1M716.7 1484.4h1M776.0 1471.0h1M742.6 1483.0h1M720.6 1505.0h1M713.0 1482.4h1M717.4 1490.0h1M706.6 1480.1h1M742.8 1501.6h1M738.3 1496.8h1M721.3 1492.2h1M740.7 1489.0h1M725.3 1496.8h1M772.4 1483.5h1M708.1 1494.7h1M746.4 1480.7h1M715.2 1507.5h1M730.7 1463.4h1M755.1 1479.2h1M708.4 1488.3h1M750.0 1489.2h1M744.1 1437.9h1M720.4 1491.0h1M735.9 1495.5h1M725.6 1499.4h1M757.0 1475.3h1M747.6 1478.0h1M739.3 1462.8h1M776.7 1483.9h1M770.4 1471.5h1M725.5 1501.3h1M714.4 1503.9h1M712.6 1509.8h1M726.7 1481.1h1M778.2 1476.7h1M718.5 1493.2h1M756.2 1494.1h1M759.3 1445.5h1M708.7 1485.6h1M745.6 1434.8h1M710.2 1503.9h1M727.0 1474.7h1M719.6 1500.1h1M719.1 1498.9h1M744.0 1470.8h1M749.8 1492.1h1M688.8 1511.4h1M741.6 1438.7h1M732.5 1498.4h1M719.8 1511.4h1M740.7 1481.4h1M712.5 1506.2h1M754.1 1486.0h1M723.2 1445.8h1M704.1 1512.3h1M727.8 1489.6h1M714.0 1499.9h1M763.2 1423.3h1M736.2 1490.7h1M735.2 1455.0h1M722.6 1494.4h1M722.9 1496.0h1M742.9 1470.1h1M723.2 1489.8h1M768.5 1479.7h1M776.7 1461.7h1M696.8 1502.9h1M745.9 1477.8h1M721.4 1492.2h1M722.7 1508.1h1M722.0 1490.9h1M762.8 1483.3h1M738.6 1489.4h1M739.4 1450.7h1M733.2 1512.8h1M732.6 1511.1h1M725.0 1506.5h1M784.7 1479.4h1M707.0 1495.6h1M733.2 1487.2h1M744.1 1454.8h1M747.2 1496.8h1M738.2 1421.9h1M722.0 1501.5h1M729.5 1486.1h1M715.5 1494.2h1M686.6 1501.8h1M733.6 1510.1h1M708.5 1507.0h1M722.6 1489.0h1M746.5 1463.0h1M736.4 1440.5h1M709.8 1511.7h1M746.1 1457.8h1M721.5 1485.2h1M715.4 1499.1h1M699.7 1498.8h1M730.4 1470.3h1M720.1 1516.9h1M717.7 1482.7h1M728.3 1530.6h1M683.7 1505.6h1M722.6 1492.3h1M732.3 1484.4h1M701.8 1510.3h1M728.3 1489.4h1M704.0 1485.8h1M732.4 1434.3h1M744.3 1485.9h1M725.5 1470.8h1M735.4 1495.0h1M736.3 1478.6h1M694.4 1499.1h1M729.6 1494.1h1M728.0 1429.6h1M775.1 1484.8h1M696.7 1487.1h1M717.3 1499.7h1M769.4 1475.7h1M732.5 1473.4h1M741.8 1497.2h1M727.4 1492.7h1M712.1 1489.9h1M722.2 1477.5h1M696.6 1478.7h1M688.7 1533.5h1M744.5 1502.5h1M789.7 1425.7h1M780.6 1465.8h1M776.7 1460.5h1M700.7 1509.0h1M712.8 1492.6h1M698.1 1470.2h1M744.1 1498.0h1M723.3 1476.4h1M708.6 1495.2h1M731.6 1485.9h1M740.5 1479.7h1M711.7 1523.7h1M752.3 1481.3h1M733.4 1509.2h1M723.2 1492.9h1M731.9 1483.6h1M741.1 1468.5h1M685.7 1513.2h1M742.6 1481.3h1M709.3 1486.3h1M695.1 1507.0h1M765.8 1444.5h1M728.6 1499.0h1M759.6 1487.2h1M742.9 1489.7h1M762.3 1446.2h1M698.8 1508.8h1M774.1 1462.8h1M706.8 1506.5h1M728.0 1496.1h1M737.1 1508.4h1M711.9 1489.2h1M745.6 1471.1h1M777.7 1432.1h1M706.8 1498.1h1M737.7 1486.8h1M755.6 1434.9h1M763.3 1484.5h1M735.9 1491.2h1M725.6 1484.9h1M712.4 1506.4h1M731.1 1489.4h1M715.5 1489.3h1M708.2 1497.2h1M714.1 1495.1h1M717.1 1505.3h1M721.7 1491.8h1M711.3 1512.7h1M740.6 1526.9h1M749.5 1482.2h1M727.7 1488.5h1M701.8 1507.5h1M730.4 1485.6h1M774.1 1437.0h1M735.2 1492.9h1M707.9 1480.7h1M755.4 1488.5h1M737.1 1481.3h1M704.8 1500.7h1M733.0 1490.6h1M713.4 1536.5h1M748.5 1435.1h1M708.3 1482.2h1M711.3 1509.7h1M692.1 1507.8h1M739.6 1494.1h1M735.4 1489.7h1M748.7 1469.4h1M722.2 1502.5h1M744.0 1485.7h1M773.9 1464.8h1M704.2 1500.1h1M709.5 1490.0h1M693.3 1507.4h1M720.7 1512.8h1M723.7 1487.7h1M731.3 1484.8h1M717.2 1505.0h1M719.3 1491.8h1M734.3 1499.0h1M755.1 1480.2h1M732.2 1499.4h1M751.4 1429.0h1M692.3 1494.7h1M699.9 1507.0h1M709.5 1505.3h1M727.3 1501.5h1M741.9 1502.4h1M784.4 1501.1h1M753.3 1422.4h1M690.3 1499.7h1M705.0 1521.0h1M743.5 1482.6h1M710.7 1500.5h1M713.6 1508.6h1M738.3 1488.0h1M738.2 1497.1h1M730.2 1498.3h1M765.6 1482.1h1M777.4 1467.5h1M754.3 1493.0h1M754.3 1486.5h1M750.2 1470.3h1M734.0 1483.6h1M737.5 1503.2h1M729.8 1484.7h1M753.2 1473.8h1M753.0 1494.6h1M710.1 1510.0h1M724.8 1487.9h1M719.1 1488.3h1M702.9 1526.7h1M720.3 1494.2h1M707.5 1475.5h1M746.0 1439.1h1M708.3 1503.7h1M713.9 1489.3h1M744.3 1481.1h1M757.8 1470.3h1M779.5 1437.6h1M759.6 1441.1h1M756.9 1493.6h1M732.2 1525.1h1M721.2 1501.1h1M752.9 1455.0h1M726.7 1504.3h1M685.8 1502.6h1M731.7 1536.0h1M778.4 1475.4h1M719.4 1517.3h1M713.8 1495.3h1M714.1 1486.4h1M706.9 1490.1h1M794.9 1439.7h1M691.0 1490.5h1M701.0 1489.2h1M725.7 1497.0h1M703.2 1496.5h1M711.7 1497.5h1M745.7 1485.3h1M714.8 1493.6h1M707.0 1500.3h1M708.8 1521.0h1M714.7 1500.5h1M709.4 1491.2h1M724.4 1485.5h1M740.9 1471.5h1M751.9 1464.4h1M772.4 1472.5h1M705.6 1439.3h1M724.7 1498.7h1M734.7 1483.5h1M747.8 1430.4h1M697.8 1515.2h1M752.3 1447.2h1M698.9 1514.0h1M726.1 1488.0h1M716.1 1478.6h1M732.0 1490.6h1M696.1 1503.3h1M714.1 1495.5h1M707.3 1480.3h1M728.1 1504.6h1M733.6 1496.0h1M722.3 1474.9h1M802.4 1439.5h1M752.8 1451.5h1M756.8 1488.6h1M759.6 1438.9h1M724.3 1516.1h1M729.0 1512.3h1M746.6 1496.9h1M710.9 1504.0h1M737.2 1493.1h1M730.6 1491.7h1M719.3 1433.6h1M763.6 1443.7h1M745.7 1503.3h1M733.5 1490.8h1M735.4 1488.8h1M726.9 1493.3h1M759.5 1474.1h1M735.3 1501.5h1M756.3 1431.5h1M731.0 1502.3h1M714.4 1501.5h1M718.0 1425.2h1M733.3 1450.4h1M713.6 1507.7h1M706.7 1525.2h1M764.9 1423.1h1M708.9 1485.8h1M694.5 1512.9h1M726.1 1443.6h1M760.3 1435.4h1M765.3 1478.1h1M765.4 1444.0h1M763.2 1460.1h1M747.2 1469.6h1M727.8 1491.0h1M697.7 1501.4h1M741.1 1485.6h1M740.9 1429.6h1M721.6 1496.5h1M783.5 1475.6h1M723.1 1490.3h1M723.6 1509.3h1M745.4 1501.6h1M701.7 1435.8h1M734.9 1471.6h1M684.6 1498.5h1M740.5 1480.6h1M758.0 1488.1h1M719.9 1482.8h1M698.1 1498.3h1M733.9 1487.6h1M704.8 1500.2h1M731.1 1442.8h1M708.9 1498.1h1M734.5 1485.8h1M705.0 1483.1h1M715.9 1489.3h1M721.9 1505.2h1M727.7 1502.1h1M718.3 1501.8h1M721.2 1494.0h1M707.6 1499.1h1M683.7 1516.9h1M747.9 1516.7h1M759.2 1418.4h1M736.2 1471.5h1M701.9 1495.9h1M710.8 1512.2h1M709.0 1498.0h1M755.4 1424.0h1" stroke="#ff2020" stroke-width="1" opacity="0.72"/>
<path d="M721.3 1480.6h1M731.8 1484.7h1M735.0 1500.5h1M710.4 1499.1h1M731.0 1421.1h1M716.6 1458.6h1M728.6 1504.4h1M755.4 1426.0h1M691.2 1510.5h1M740.5 1466.2h1M732.6 1493.6h1M706.7 1496.4h1M714.0 1492.7h1M769.3 1490.2h1M772.9 1435.0h1M709.8 1506.9h1M727.2 1485.3h1M729.3 1475.8h1M733.8 1493.4h1M761.4 1435.6h1M728.8 1504.1h1M729.4 1502.0h1M767.1 1425.7h1M738.8 1495.4h1M710.3 1503.7h1M753.2 1443.2h1M706.8 1491.3h1M772.1 1452.8h1M724.9 1486.1h1M740.9 1499.2h1M727.0 1488.4h1M697.8 1498.9h1M760.4 1436.1h1M784.1 1451.8h1M751.0 1493.7h1M732.3 1475.3h1M698.1 1525.2h1M727.2 1502.1h1M715.0 1497.5h1M692.6 1507.7h1M780.5 1451.8h1M738.1 1485.9h1M792.8 1474.1h1M709.9 1492.8h1M749.0 1458.3h1M708.9 1506.0h1M715.8 1489.3h1M756.7 1486.0h1M728.3 1524.6h1M739.7 1486.0h1M705.3 1471.8h1M738.5 1484.8h1M714.5 1503.5h1M697.9 1493.1h1M723.6 1506.7h1M721.9 1500.3h1M743.9 1480.5h1M742.3 1505.8h1M721.0 1517.8h1M708.4 1498.9h1M716.7 1492.4h1M697.6 1519.4h1M720.7 1493.4h1M734.6 1478.2h1M709.7 1494.9h1M735.2 1434.9h1M747.6 1478.7h1M745.0 1496.0h1M739.4 1470.6h1M728.0 1487.7h1M767.5 1456.3h1M757.0 1477.3h1M737.5 1479.7h1M726.8 1475.7h1M785.4 1469.1h1M703.3 1479.6h1M717.4 1521.9h1M733.5 1500.7h1M713.6 1496.4h1M719.7 1513.0h1M742.1 1465.3h1M716.0 1512.9h1M768.0 1413.2h1M721.6 1485.7h1M754.6 1492.9h1M719.1 1484.1h1M731.4 1442.1h1M702.7 1498.8h1M711.6 1509.0h1M698.7 1508.4h1M704.0 1486.3h1M712.4 1496.2h1M709.4 1493.6h1M760.6 1450.9h1M737.9 1511.8h1M728.1 1500.8h1M719.5 1520.7h1M696.0 1473.1h1M732.5 1491.0h1M726.7 1503.1h1M761.6 1430.1h1M727.2 1514.1h1M700.1 1489.0h1M729.9 1468.1h1M714.5 1502.2h1M704.4 1506.6h1M702.1 1503.6h1M715.9 1515.4h1M738.9 1493.4h1M754.1 1460.8h1M719.5 1501.1h1M756.0 1473.8h1M717.3 1492.6h1M761.1 1477.9h1M765.9 1466.4h1M759.2 1490.9h1M684.6 1522.2h1M751.0 1420.1h1M713.5 1494.1h1M701.9 1497.0h1M763.3 1450.5h1M760.8 1488.3h1M756.7 1484.0h1M751.4 1487.6h1M733.0 1505.7h1M690.0 1514.1h1M735.6 1433.4h1M717.7 1484.3h1M715.7 1419.7h1M750.3 1483.8h1M746.2 1496.3h1M685.5 1515.8h1M706.8 1501.3h1M759.6 1433.9h1M712.1 1496.5h1M746.4 1441.7h1M720.3 1497.7h1M759.2 1468.1h1M722.6 1512.5h1M723.0 1493.5h1M737.7 1481.1h1M693.2 1533.6h1M701.6 1501.4h1M707.0 1490.8h1M750.2 1484.7h1M724.9 1500.3h1M702.7 1485.9h1M740.1 1434.9h1M720.6 1498.6h1M730.7 1498.5h1M740.7 1481.4h1M713.8 1478.0h1M741.4 1515.1h1M735.2 1493.6h1M710.8 1508.5h1M721.1 1501.8h1M738.3 1478.5h1M696.6 1519.9h1M770.0 1477.1h1M707.5 1504.3h1M699.8 1503.0h1M725.1 1479.7h1M721.2 1533.5h1M691.5 1494.1h1M752.3 1490.5h1M702.5 1495.0h1M708.7 1509.5h1M727.3 1489.3h1M731.0 1425.0h1M712.7 1493.7h1M717.4 1482.9h1M717.0 1502.7h1M739.2 1489.0h1M724.7 1502.0h1M725.3 1505.3h1M798.7 1413.7h1M744.2 1470.2h1M744.6 1499.3h1M731.9 1484.8h1M724.5 1485.8h1M778.8 1456.4h1M721.5 1506.9h1M707.2 1496.2h1M730.1 1493.9h1M750.9 1428.7h1M723.9 1505.2h1M698.4 1509.5h1M689.4 1475.1h1M726.0 1497.4h1M717.7 1500.6h1M738.2 1473.8h1M722.4 1506.3h1M701.2 1487.5h1M721.9 1535.7h1M788.9 1468.4h1M726.9 1482.7h1M756.3 1433.9h1M775.3 1473.9h1M747.2 1445.2h1M709.7 1496.4h1M740.4 1492.8h1M750.2 1488.4h1M728.6 1483.3h1M721.7 1420.0h1M716.6 1486.0h1M694.4 1495.3h1M736.9 1486.5h1M717.2 1489.7h1M712.1 1484.6h1M709.2 1491.0h1M772.3 1474.6h1M720.1 1509.6h1M731.1 1477.0h1M714.0 1486.9h1M716.1 1485.3h1M721.7 1529.3h1M729.0 1500.4h1M729.1 1476.7h1M721.2 1525.4h1M732.6 1489.1h1M717.2 1533.1h1M746.3 1466.1h1M706.3 1490.6h1M723.1 1498.6h1M730.8 1494.1h1M762.9 1421.4h1M741.3 1502.9h1M783.9 1447.1h1M726.0 1482.9h1M707.7 1511.7h1M702.7 1499.3h1M732.4 1492.7h1M738.4 1477.8h1M733.3 1432.4h1M784.0 1427.2h1M741.9 1436.9h1M741.4 1482.3h1M696.9 1496.1h1M728.6 1476.2h1M791.2 1484.6h1M709.4 1501.7h1M697.8 1482.3h1M771.9 1442.4h1M748.2 1477.4h1M735.5 1484.8h1M699.2 1500.4h1M719.4 1491.8h1M723.3 1494.7h1M759.1 1418.0h1M797.7 1444.0h1M731.7 1479.8h1M709.0 1487.4h1M721.6 1477.2h1M724.4 1495.1h1M742.0 1474.4h1M730.7 1493.4h1M732.5 1496.9h1M736.6 1488.4h1M689.0 1533.7h1M736.2 1502.9h1M756.3 1475.0h1M730.3 1482.2h1M704.3 1514.1h1M706.9 1513.4h1M725.8 1487.5h1M721.8 1468.0h1M717.8 1502.6h1M722.0 1470.7h1M754.7 1424.8h1M699.6 1503.4h1M737.0 1504.1h1M704.3 1509.4h1M739.8 1457.7h1M741.1 1428.8h1M753.9 1482.8h1M768.8 1440.2h1M714.1 1487.5h1M786.8 1462.3h1M722.6 1484.5h1M737.2 1495.1h1M759.7 1485.5h1M731.3 1494.1h1M702.2 1502.6h1M740.1 1454.8h1M719.4 1494.4h1M701.5 1525.4h1M757.5 1485.2h1M702.6 1495.7h1M741.3 1479.3h1M687.0 1500.0h1M717.7 1512.3h1M761.6 1468.2h1M752.1 1466.8h1M757.7 1481.3h1M743.1 1482.3h1M689.3 1504.0h1M717.2 1477.3h1M741.6 1478.9h1M709.6 1475.6h1M708.7 1514.2h1M767.5 1476.2h1M733.6 1475.8h1M753.1 1465.5h1M717.6 1502.3h1M748.1 1473.5h1M730.0 1489.7h1M744.3 1474.1h1M745.2 1482.8h1M794.7 1426.1h1M705.8 1508.5h1M707.1 1499.3h1M750.5 1445.3h1M709.1 1439.4h1M708.1 1487.2h1M755.6 1464.6h1M756.6 1507.9h1M697.4 1534.4h1M744.4 1496.9h1M724.4 1491.6h1M722.5 1493.0h1M757.8 1491.7h1M730.7 1513.1h1M764.2 1469.2h1M692.9 1498.1h1M742.1 1492.2h1M693.9 1499.6h1M775.2 1469.7h1M715.0 1507.5h1M699.5 1484.7h1M744.5 1471.8h1M730.1 1431.4h1M732.2 1487.6h1M738.1 1443.5h1M735.7 1495.4h1M723.0 1484.6h1M721.6 1499.2h1M725.2 1487.3h1M695.3 1518.3h1M721.3 1489.7h1M733.9 1491.9h1M717.0 1443.3h1M725.1 1498.7h1M711.9 1488.2h1M757.3 1435.3h1M702.1 1497.0h1M701.4 1512.7h1M724.3 1509.1h1M724.8 1460.5h1M704.3 1495.7h1M722.5 1487.9h1M798.4 1414.1h1M708.3 1520.8h1M750.4 1492.9h1M725.1 1495.8h1M752.4 1444.9h1M747.8 1497.6h1M720.2 1501.5h1M742.9 1420.9h1M720.4 1497.0h1M759.8 1486.9h1M717.1 1494.2h1M721.2 1503.1h1M739.2 1469.1h1M756.0 1477.3h1M721.8 1501.5h1M700.9 1521.8h1M722.8 1447.3h1M738.2 1427.3h1M740.3 1481.3h1M708.0 1484.1h1M776.3 1440.8h1M739.3 1429.2h1M706.1 1513.9h1M775.1 1473.5h1M752.1 1498.5h1M698.3 1516.9h1M747.6 1490.7h1M723.1 1513.0h1M705.5 1494.2h1M742.8 1479.9h1M725.5 1501.0h1M738.5 1488.8h1M750.7 1423.2h1M780.6 1442.3h1M702.6 1445.4h1M715.0 1500.5h1M714.6 1506.7h1M729.2 1485.4h1M736.7 1475.8h1M705.5 1494.6h1M720.6 1524.3h1M729.6 1493.2h1M712.4 1525.5h1M730.9 1498.6h1M749.0 1477.5h1M730.2 1478.0h1M694.8 1488.9h1M746.2 1469.6h1M756.6 1482.3h1M740.5 1495.0h1M740.6 1480.6h1M748.3 1516.9h1M718.0 1471.7h1M755.7 1447.2h1M692.9 1503.4h1M755.9 1479.3h1M721.6 1436.6h1M748.9 1474.1h1M717.2 1482.4h1M730.5 1486.5h1M730.0 1470.6h1M739.7 1432.9h1M773.6 1448.1h1M748.8 1479.9h1M723.3 1507.3h1M729.6 1486.8h1M720.7 1489.7h1M726.9 1496.6h1M735.8 1498.2h1M705.3 1472.3h1M718.6 1522.3h1M705.7 1510.5h1M746.3 1483.9h1M719.5 1436.2h1M737.5 1482.6h1M716.8 1504.2h1M705.7 1510.7h1M755.7 1515.1h1M770.6 1430.1h1M764.9 1443.2h1M754.1 1487.7h1M714.8 1516.8h1M736.3 1493.0h1M710.8 1487.4h1M684.5 1505.7h1M714.4 1511.8h1M759.6 1515.1h1M719.9 1485.2h1M699.8 1488.1h1M727.1 1497.7h1M692.9 1516.2h1M728.9 1489.4h1M724.2 1482.8h1M729.4 1489.9h1M720.4 1514.8h1M754.9 1475.4h1M743.0 1505.0h1M735.9 1479.7h1M705.8 1507.5h1M700.8 1515.1h1M751.9 1489.3h1M743.2 1497.4h1M708.2 1481.8h1M760.0 1437.0h1M710.4 1489.2h1M737.2 1496.1h1M713.7 1492.4h1M715.8 1506.8h1M755.8 1495.5h1M713.8 1483.0h1M747.4 1486.5h1M743.6 1502.6h1M717.5 1501.7h1M737.9 1504.8h1M717.3 1504.4h1M753.9 1496.8h1M754.6 1483.0h1M698.1 1500.0h1M728.7 1494.7h1M747.1 1496.0h1M729.6 1500.1h1M764.5 1465.8h1M693.1 1499.3h1M721.4 1489.6h1M720.6 1508.4h1M697.5 1513.6h1M761.0 1474.1h1M711.1 1494.0h1M720.6 1526.5h1M749.1 1437.9h1M712.9 1515.0h1M741.3 1491.8h1M691.6 1499.2h1M701.4 1502.8h1M707.3 1493.6h1M730.0 1503.5h1M755.2 1497.7h1M753.1 1465.9h1M780.4 1454.5h1M750.1 1484.5h1M729.3 1487.9h1M715.1 1487.7h1M779.8 1444.5h1M707.0 1501.7h1M705.4 1493.6h1M699.3 1500.0h1M715.7 1506.1h1M717.5 1496.4h1M729.7 1472.7h1M758.7 1483.7h1M721.7 1494.7h1M767.7 1420.5h1M759.1 1478.2h1M718.8 1481.9h1M755.3 1494.4h1M739.0 1499.6h1M721.2 1490.3h1M741.3 1501.5h1M773.5 1443.5h1M773.9 1446.9h1M753.4 1494.8h1M731.1 1478.5h1M734.2 1491.2h1M734.1 1506.7h1M767.6 1440.7h1M684.1 1507.9h1M754.6 1442.6h1M704.9 1485.3h1M706.9 1496.4h1M774.0 1454.3h1M740.0 1491.5h1M762.7 1470.0h1M758.6 1493.5h1M723.1 1492.1h1M713.6 1475.9h1M719.8 1503.4h1M753.2 1450.2h1M738.9 1500.4h1M737.8 1496.3h1M723.5 1493.6h1M783.2 1471.0h1M716.1 1515.4h1M727.8 1466.0h1M757.7 1471.7h1M749.8 1476.8h1M733.7 1486.4h1M725.3 1483.2h1M736.6 1487.0h1M778.4 1452.7h1M718.7 1503.6h1M710.8 1488.3h1M788.7 1442.4h1M781.9 1434.7h1M735.5 1514.7h1M699.9 1498.3h1M742.4 1479.6h1M723.1 1495.1h1M712.3 1496.5h1M735.0 1488.9h1M754.8 1477.5h1M706.1 1520.0h1M731.9 1491.8h1M710.9 1481.9h1M714.2 1507.4h1M728.9 1494.9h1M714.4 1502.0h1M742.9 1507.7h1M720.5 1491.3h1M731.1 1491.6h1M746.8 1422.8h1M721.7 1497.6h1M701.7 1495.2h1M731.3 1499.6h1M719.8 1491.0h1M757.6 1479.1h1M716.6 1411.9h1M773.8 1456.3h1M758.0 1485.8h1M731.9 1495.7h1M760.7 1427.9h1M702.9 1503.5h1M726.4 1491.0h1M738.1 1422.4h1M712.7 1484.1h1M745.9 1423.4h1M690.6 1498.3h1M727.3 1487.0h1M690.9 1482.4h1M718.0 1468.3h1M703.6 1486.5h1M733.9 1532.3h1M762.1 1442.8h1M758.0 1479.5h1M722.7 1487.5h1M719.0 1520.9h1M705.8 1507.3h1M732.0 1488.5h1M728.2 1496.6h1M740.5 1490.1h1M788.9 1466.0h1M686.4 1527.7h1M734.8 1483.6h1M750.3 1436.8h1M733.4 1532.1h1M726.4 1478.0h1M725.0 1484.3h1M701.8 1534.9h1M722.2 1498.1h1M732.4 1491.9h1M760.7 1469.7h1M741.9 1481.3h1M759.1 1510.4h1M711.4 1514.4h1M767.3 1458.1h1M727.2 1504.2h1M716.5 1490.7h1M752.7 1501.4h1M773.8 1469.1h1M704.7 1508.4h1M723.3 1521.7h1M725.0 1497.7h1M720.9 1513.5h1M758.1 1468.5h1M735.5 1482.2h1M695.3 1506.4h1M712.7 1485.4h1M735.3 1495.8h1M715.1 1500.1h1M754.3 1500.2h1M695.7 1511.4h1M728.2 1527.9h1M741.4 1482.3h1M730.1 1483.4h1M729.4 1440.2h1M727.1 1494.8h1M746.4 1488.9h1M727.4 1478.2h1M726.1 1470.1h1M703.3 1516.0h1M699.3 1518.5h1M731.9 1481.5h1M710.7 1516.2h1M693.0 1498.1h1M739.6 1481.2h1M721.5 1499.0h1M732.1 1481.2h1M777.4 1504.0h1M717.0 1489.8h1M712.3 1520.7h1M757.6 1444.2h1M731.8 1487.3h1M707.1 1509.4h1M737.7 1478.0h1M692.1 1521.6h1M771.7 1460.7h1M729.4 1521.9h1M696.1 1506.2h1M727.9 1496.7h1M728.5 1485.0h1M744.0 1488.2h1M753.7 1476.6h1M711.8 1517.2h1M715.3 1502.0h1M716.8 1504.9h1M756.4 1460.2h1M728.6 1486.2h1M689.0 1499.0h1M742.6 1501.7h1M762.8 1493.0h1M749.1 1474.2h1M801.9 1470.6h1M757.3 1495.1h1M752.3 1491.9h1M732.3 1483.3h1M760.9 1451.6h1M701.5 1516.4h1M736.4 1487.4h1M733.2 1461.1h1M739.6 1423.6h1M792.5 1463.7h1M746.7 1488.6h1M720.8 1493.2h1M724.6 1480.4h1M721.4 1477.0h1M729.5 1512.1h1M691.9 1498.2h1M744.0 1445.6h1M726.4 1497.6h1M719.7 1495.7h1M717.2 1533.2h1M720.9 1486.9h1M722.0 1503.7h1M713.8 1483.2h1M743.7 1471.1h1M708.4 1518.2h1M751.4 1482.0h1M708.9 1474.7h1M723.7 1501.9h1M721.8 1487.1h1M703.0 1517.7h1M695.9 1491.3h1M780.5 1470.4h1M692.4 1494.9h1M749.7 1477.0h1M748.3 1462.6h1M693.1 1507.5h1M710.1 1529.7h1M697.1 1498.3h1M765.3 1428.0h1M729.6 1461.6h1M722.6 1422.5h1M695.1 1500.1h1M767.7 1428.3h1M732.7 1473.0h1M708.5 1495.8h1M763.8 1448.2h1M746.2 1485.4h1M735.9 1483.6h1M704.1 1505.5h1M731.7 1489.7h1M763.4 1458.3h1M714.6 1484.7h1M739.0 1491.0h1M761.8 1433.5h1M765.6 1465.0h1M709.0 1504.6h1M762.9 1479.5h1M709.8 1500.3h1M740.3 1477.2h1M716.0 1499.3h1M742.5 1492.4h1M720.5 1500.0h1M735.0 1495.4h1M720.2 1487.9h1M732.8 1491.3h1M705.7 1497.0h1M709.0 1498.4h1M728.0 1515.5h1M757.9 1482.0h1M725.9 1481.1h1M726.2 1511.1h1M771.8 1472.2h1M734.0 1466.3h1M723.5 1491.6h1M722.1 1488.3h1M720.7 1517.7h1M742.3 1498.4h1M721.2 1501.7h1M744.7 1437.6h1M726.4 1504.6h1M722.8 1513.8h1M726.1 1432.6h1M736.6 1494.2h1M774.4 1445.3h1M714.2 1488.1h1M700.8 1511.2h1M722.6 1478.7h1M744.6 1476.4h1M732.8 1503.7h1M769.5 1453.0h1M723.2 1501.7h1M707.2 1491.4h1M766.5 1486.9h1M727.2 1474.9h1M744.1 1493.9h1M754.0 1469.0h1M722.0 1506.0h1M747.6 1440.0h1M742.9 1491.8h1M722.1 1431.3h1M764.3 1439.5h1M746.2 1480.5h1M766.5 1437.2h1M760.8 1477.9h1M757.8 1481.8h1M795.8 1456.0h1M693.5 1515.2h1M715.2 1503.2h1M722.9 1499.3h1M700.9 1484.3h1M737.6 1488.6h1M723.7 1449.5h1M738.2 1474.1h1M756.6 1491.2h1M708.1 1505.0h1M758.5 1431.6h1M776.3 1450.2h1M697.7 1502.7h1M709.5 1503.3h1M738.4 1477.9h1M767.5 1460.2h1M720.1 1493.4h1M749.6 1485.4h1M733.0 1444.1h1M712.7 1434.2h1M723.0 1500.4h1M750.1 1499.6h1M754.2 1492.5h1M748.5 1437.9h1M694.1 1512.1h1M746.4 1497.1h1M718.2 1486.2h1M709.4 1483.7h1M708.6 1494.2h1M715.3 1480.2h1M737.3 1488.4h1M724.1 1490.4h1M694.9 1509.9h1M731.8 1493.1h1M739.0 1505.4h1M709.8 1492.5h1M721.1 1491.1h1M732.8 1517.1h1M752.4 1431.6h1M747.4 1486.6h1M705.6 1481.4h1M722.4 1485.3h1M738.4 1437.6h1M703.3 1491.2h1M729.8 1493.7h1M732.6 1491.6h1M700.9 1500.2h1M769.0 1470.2h1M731.2 1488.8h1M721.8 1483.0h1" stroke="#ff2020" stroke-width="1" opacity="0.72"/>
<path d="M760.7 1453.8h1M748.8 1490.9h1M705.1 1495.6h1M745.6 1489.9h1M696.5 1517.8h1M711.4 1497.9h1M712.9 1474.1h1M764.2 1465.4h1M697.1 1499.1h1M755.6 1503.8h1M740.4 1500.6h1M740.5 1473.9h1M758.5 1466.0h1M701.3 1493.4h1M739.8 1490.9h1M737.3 1481.9h1M689.2 1508.1h1M732.7 1479.1h1M750.8 1438.3h1M721.9 1502.3h1M704.3 1501.7h1M740.6 1449.0h1M752.3 1421.2h1M694.8 1510.9h1M730.3 1503.4h1M729.7 1487.0h1M751.7 1495.5h1M714.7 1482.1h1M744.0 1490.2h1M775.1 1477.1h1M762.4 1432.9h1M692.6 1516.6h1M719.1 1500.3h1M747.9 1485.5h1M746.0 1472.0h1M697.9 1492.1h1M726.2 1511.5h1M763.6 1458.0h1M739.5 1488.5h1M765.5 1436.5h1M740.1 1496.0h1M735.3 1483.7h1M754.9 1496.7h1M778.7 1429.5h1M732.7 1425.1h1M702.3 1481.8h1M698.7 1510.1h1M739.9 1491.7h1M697.1 1500.8h1M709.9 1492.3h1M714.7 1499.2h1M746.7 1493.6h1M703.0 1505.3h1M764.1 1473.5h1M737.3 1494.8h1M740.2 1463.2h1M705.2 1430.0h1M725.7 1470.4h1M715.1 1505.9h1M731.8 1499.3h1M713.8 1513.4h1M718.3 1490.4h1M711.1 1489.9h1M728.5 1425.2h1M725.8 1493.0h1M770.4 1448.2h1M726.0 1494.6h1M723.4 1506.6h1M734.6 1478.2h1M737.9 1438.3h1M698.0 1502.8h1M713.1 1527.2h1M709.1 1507.7h1M713.1 1493.3h1M741.4 1460.1h1M762.3 1471.1h1M765.5 1437.5h1M758.6 1439.1h1M735.6 1437.1h1M703.5 1525.0h1M727.4 1475.4h1M725.2 1509.2h1M774.4 1463.2h1M697.1 1488.4h1M737.5 1493.4h1M729.2 1509.0h1M733.8 1470.0h1M750.4 1486.5h1M737.6 1472.0h1M719.1 1494.0h1M737.8 1485.6h1M733.0 1495.0h1M721.9 1503.6h1M733.7 1495.8h1M693.7 1490.9h1M709.4 1484.0h1M734.2 1473.7h1M717.5 1522.1h1M703.1 1486.4h1M717.0 1490.0h1M705.5 1507.4h1M724.4 1476.1h1M746.6 1490.5h1M722.0 1508.4h1M699.3 1499.2h1M728.4 1492.0h1M713.8 1505.8h1M690.3 1516.1h1M757.1 1452.6h1M764.8 1444.8h1M728.1 1485.7h1M760.0 1472.4h1M698.5 1522.2h1M729.1 1474.9h1M726.7 1491.6h1M768.5 1471.6h1M708.8 1493.3h1M738.1 1450.5h1M727.1 1501.8h1M702.6 1503.9h1M730.1 1431.5h1M744.9 1458.5h1M714.1 1504.0h1M745.7 1443.8h1M707.8 1506.4h1M746.6 1468.5h1M712.0 1500.1h1M698.9 1512.7h1M739.5 1497.5h1M723.4 1505.5h1M717.9 1492.1h1M730.5 1493.2h1M716.5 1477.1h1M756.5 1481.7h1M718.7 1495.2h1M723.4 1493.4h1M762.1 1425.3h1M728.5 1505.1h1M759.3 1443.4h1M720.5 1483.6h1M738.7 1492.4h1M756.4 1476.6h1M720.7 1477.6h1M739.7 1476.7h1M747.2 1446.8h1M718.5 1482.0h1M718.0 1440.6h1M729.8 1477.1h1M703.4 1491.3h1M734.1 1462.4h1M738.6 1449.8h1M729.3 1497.1h1M733.7 1492.0h1M727.0 1478.7h1M741.4 1432.5h1M698.0 1522.1h1M724.7 1521.4h1M720.3 1498.6h1M710.9 1506.6h1M738.6 1489.3h1M725.6 1483.9h1M731.1 1507.4h1M730.3 1481.9h1M728.0 1489.7h1M717.1 1487.7h1M690.3 1504.2h1M750.2 1463.3h1M735.8 1479.7h1M729.5 1413.5h1M715.9 1499.2h1M746.6 1479.7h1M723.3 1485.7h1M729.5 1493.1h1M732.4 1489.9h1M705.1 1495.7h1M720.8 1506.9h1M739.0 1434.1h1M753.3 1472.0h1M725.9 1518.6h1M741.1 1475.1h1M741.2 1499.8h1M703.9 1493.0h1M765.7 1417.8h1M693.3 1496.3h1M714.3 1483.6h1M716.1 1491.2h1M685.8 1510.3h1M711.2 1487.3h1M717.0 1514.9h1M729.0 1493.7h1M756.4 1482.1h1M717.6 1488.0h1M721.2 1482.7h1M721.5 1476.0h1M719.0 1491.9h1M740.6 1442.1h1M715.9 1500.5h1M710.1 1498.1h1M712.5 1499.3h1M753.4 1508.6h1M687.1 1517.8h1M711.7 1483.4h1M731.2 1482.8h1M722.6 1434.6h1M726.1 1495.5h1M754.7 1499.3h1M708.6 1506.1h1M738.8 1494.9h1M723.4 1497.5h1M691.1 1505.9h1M688.8 1518.2h1M709.1 1463.8h1M729.6 1498.8h1M757.9 1505.4h1M720.9 1496.8h1M738.7 1470.7h1M725.8 1489.4h1M758.2 1427.2h1M778.5 1449.0h1M718.9 1514.5h1M721.7 1486.1h1M800.9 1451.5h1M744.9 1483.7h1M703.8 1494.9h1M750.2 1480.7h1M731.3 1491.7h1M731.2 1472.7h1M793.7 1464.1h1M717.1 1489.5h1M738.2 1476.2h1M714.2 1510.7h1M736.7 1483.4h1M707.9 1484.1h1M720.8 1495.8h1M741.8 1488.6h1M716.2 1503.1h1M702.2 1492.7h1M704.8 1490.3h1M787.6 1433.2h1M727.7 1521.1h1M745.3 1456.8h1M727.2 1490.9h1M754.0 1506.3h1M718.7 1511.6h1M728.0 1486.7h1M720.0 1491.3h1M737.6 1488.1h1M734.7 1496.5h1M746.8 1439.3h1M685.6 1499.1h1M703.6 1514.5h1M718.5 1501.6h1M760.9 1426.5h1M744.3 1444.9h1M685.2 1511.7h1M726.9 1496.5h1M751.1 1450.1h1M714.4 1464.1h1M752.1 1478.8h1M770.1 1429.5h1M729.8 1498.1h1M719.4 1492.0h1M752.7 1474.3h1M720.7 1505.2h1M693.4 1516.4h1M709.4 1510.4h1M698.8 1527.3h1M740.4 1496.9h1M718.5 1418.8h1M718.7 1483.5h1M721.2 1493.1h1M742.5 1491.5h1M748.9 1478.6h1M713.6 1492.6h1M750.7 1486.3h1M721.8 1508.7h1M698.5 1519.5h1M759.1 1423.6h1M743.0 1478.7h1M720.5 1439.1h1M707.5 1502.4h1M707.0 1498.9h1M746.5 1477.0h1M712.8 1477.1h1M739.3 1495.9h1M692.6 1517.9h1M743.0 1498.1h1M756.7 1482.2h1M710.7 1512.0h1M744.9 1440.0h1M771.5 1415.4h1M731.4 1495.0h1M730.9 1496.5h1M719.4 1485.4h1M781.7 1481.9h1M738.9 1473.3h1M737.8 1469.0h1M713.2 1496.5h1M713.8 1499.6h1M693.9 1479.7h1M711.0 1503.8h1M718.0 1501.0h1M707.5 1490.1h1M774.3 1444.1h1M749.5 1489.4h1M747.3 1426.3h1M724.9 1488.8h1M727.3 1514.5h1M742.5 1427.1h1M765.6 1481.5h1M714.1 1488.1h1M720.8 1486.5h1M746.1 1448.3h1M788.3 1445.1h1M749.2 1510.4h1M758.9 1482.7h1M726.5 1495.4h1M699.5 1504.0h1M754.0 1427.4h1M726.7 1490.4h1M706.9 1500.0h1M730.9 1517.3h1M756.7 1418.1h1M732.0 1433.5h1M750.7 1438.2h1M721.7 1484.7h1M732.5 1478.0h1M763.1 1440.4h1M733.8 1490.8h1M750.5 1477.2h1M707.9 1480.4h1M732.3 1484.8h1M756.5 1488.0h1M752.8 1480.6h1M726.8 1499.3h1M730.1 1490.9h1M750.1 1498.6h1M739.5 1467.9h1M720.9 1493.7h1M726.1 1493.0h1M782.5 1477.8h1M719.3 1500.9h1M696.4 1504.6h1M741.9 1496.7h1M711.2 1489.8h1M771.5 1484.6h1M741.0 1494.5h1M720.6 1495.7h1M694.7 1498.4h1M730.8 1489.8h1M715.3 1500.9h1M715.7 1419.8h1M699.0 1507.9h1M700.1 1484.2h1M718.6 1493.3h1M731.0 1497.6h1M745.7 1495.4h1M721.5 1485.9h1M726.5 1490.6h1M729.2 1507.9h1M706.2 1482.0h1M752.9 1484.3h1M721.9 1485.5h1M685.6 1525.0h1M743.9 1470.6h1M756.2 1500.8h1M726.5 1512.6h1M724.0 1496.7h1M747.2 1474.3h1M742.8 1481.5h1M759.1 1459.1h1M753.0 1500.1h1M694.0 1518.9h1M737.6 1500.6h1M707.4 1489.5h1M743.0 1483.7h1M738.3 1489.8h1M723.8 1499.3h1M739.8 1502.4h1M734.5 1482.0h1M740.7 1465.5h1M724.9 1504.8h1M733.8 1495.0h1M718.9 1493.2h1M686.7 1493.9h1M711.8 1483.9h1M750.6 1430.7h1M731.2 1500.6h1M716.3 1498.0h1M756.9 1514.7h1M726.6 1500.5h1M697.9 1479.0h1M716.4 1499.4h1M733.5 1499.3h1M703.2 1497.0h1M756.7 1483.5h1M686.9 1506.0h1M751.1 1484.3h1M796.3 1426.6h1M697.8 1492.0h1M753.4 1483.2h1M747.1 1436.8h1M773.7 1446.3h1M699.1 1505.2h1M717.4 1494.8h1M756.2 1437.9h1M730.8 1485.5h1M721.1 1482.0h1M753.4 1506.7h1M729.3 1500.2h1M692.8 1530.2h1M731.0 1514.7h1M696.2 1497.6h1M693.3 1526.8h1M783.9 1475.8h1M705.7 1491.0h1M708.7 1505.2h1M771.2 1431.3h1M721.6 1488.7h1M732.6 1488.1h1M706.4 1496.8h1M722.9 1502.3h1M739.3 1474.2h1M684.2 1505.3h1M774.1 1479.5h1M709.0 1506.0h1M701.9 1491.6h1M737.9 1523.0h1M760.6 1482.2h1M756.2 1483.0h1M716.3 1500.9h1M731.3 1436.9h1M738.8 1477.6h1M728.4 1491.3h1M738.9 1484.3h1M720.9 1481.4h1M717.8 1510.8h1M733.5 1462.7h1M695.9 1514.7h1M719.2 1490.7h1M735.6 1496.1h1M744.5 1497.4h1M741.0 1497.3h1M708.8 1480.1h1M694.5 1497.0h1M738.9 1482.9h1M718.4 1510.0h1M684.0 1494.8h1M778.9 1449.1h1M727.3 1499.6h1M708.6 1526.2h1M744.2 1500.0h1M733.3 1492.0h1M744.6 1495.2h1M730.6 1491.6h1M761.7 1475.7h1M741.0 1472.6h1M778.7 1473.2h1M717.8 1483.7h1M746.0 1487.4h1M716.6 1492.4h1M734.7 1488.2h1M731.0 1481.6h1M735.4 1476.9h1M725.4 1481.3h1M711.2 1505.5h1M724.9 1498.0h1M726.6 1490.3h1M726.3 1496.5h1M749.3 1499.6h1M748.6 1426.1h1M716.6 1494.1h1M714.8 1494.8h1M713.3 1516.3h1M784.0 1433.4h1M734.7 1498.4h1M705.0 1484.3h1M689.7 1508.7h1M751.0 1478.3h1M735.4 1487.9h1M729.5 1489.3h1M756.5 1421.9h1M744.4 1497.7h1M757.5 1492.2h1M735.6 1480.1h1M755.6 1446.5h1M734.0 1500.9h1M723.1 1509.2h1M777.6 1435.7h1M713.8 1519.2h1M751.8 1444.8h1M743.1 1502.8h1M694.8 1506.1h1M758.1 1477.1h1M761.2 1448.1h1M728.6 1483.7h1M752.4 1449.8h1M743.6 1469.8h1M736.0 1475.2h1M733.5 1478.4h1M718.0 1501.3h1M710.6 1489.2h1M739.2 1487.0h1M725.4 1502.8h1M715.2 1504.4h1M728.2 1482.1h1M694.3 1497.2h1M742.1 1441.8h1M733.9 1421.6h1M741.3 1496.6h1M730.6 1430.2h1M743.5 1504.3h1M712.1 1460.5h1M752.6 1447.1h1M711.3 1483.2h1M718.5 1503.0h1M741.3 1488.6h1M700.5 1503.7h1M715.2 1493.3h1M726.6 1477.8h1M726.0 1485.0h1M737.6 1502.5h1M723.2 1488.4h1M720.5 1493.8h1M701.5 1522.3h1M727.0 1520.6h1M729.8 1478.6h1M726.6 1526.5h1M801.2 1426.0h1M730.5 1497.3h1M724.1 1479.2h1M708.7 1489.8h1M709.6 1507.2h1M710.7 1506.4h1M725.6 1483.2h1M783.4 1484.8h1M703.6 1502.9h1M712.4 1499.2h1M744.8 1485.8h1M736.4 1473.0h1M721.3 1504.4h1M727.9 1497.7h1M729.0 1492.9h1M742.9 1493.9h1M729.2 1505.5h1M732.5 1444.9h1M728.6 1504.8h1M741.8 1490.1h1M752.9 1471.6h1M742.0 1462.9h1M731.8 1484.4h1M740.4 1493.5h1M736.4 1485.9h1M733.7 1481.2h1M718.5 1497.6h1M782.4 1460.6h1M729.7 1524.6h1M723.7 1495.2h1M685.5 1505.9h1M751.3 1501.3h1M737.6 1483.3h1M729.6 1486.1h1M765.1 1444.5h1M728.5 1485.9h1M739.7 1498.4h1M728.4 1493.8h1M795.7 1434.7h1M713.1 1526.4h1M726.7 1511.6h1M733.9 1492.2h1M743.4 1517.0h1M704.6 1487.2h1M705.6 1508.4h1M757.6 1481.2h1M716.3 1518.8h1M716.6 1494.9h1M748.3 1462.8h1M732.4 1487.5h1M712.1 1516.0h1M723.3 1492.0h1M749.7 1480.6h1M698.0 1523.1h1M732.3 1491.1h1M745.0 1479.1h1M701.8 1498.1h1M687.1 1498.4h1M741.8 1503.7h1M742.2 1456.6h1M778.8 1492.2h1M701.2 1506.7h1M687.4 1510.6h1M729.4 1444.1h1M733.0 1510.7h1M753.9 1476.4h1M751.3 1485.7h1M745.6 1478.3h1M730.4 1512.1h1M748.6 1461.5h1M733.5 1487.2h1M723.4 1434.5h1M702.2 1502.4h1M754.3 1481.6h1M739.1 1457.3h1M743.6 1495.1h1M721.3 1497.3h1M693.4 1486.2h1M720.2 1492.6h1M721.5 1507.6h1M730.9 1510.2h1M736.4 1493.4h1M686.9 1526.7h1M721.8 1474.8h1M747.6 1474.6h1M729.9 1467.8h1M747.5 1431.1h1M703.8 1506.3h1M686.7 1487.9h1M762.7 1436.7h1M750.9 1469.9h1M703.1 1497.7h1M726.2 1502.7h1M708.9 1496.6h1M704.9 1500.4h1M740.6 1497.6h1M695.6 1500.2h1M735.2 1499.6h1M724.0 1503.6h1M712.1 1490.3h1M714.3 1503.8h1M733.5 1478.3h1M735.8 1466.6h1M775.1 1485.3h1M777.0 1485.1h1M746.5 1489.9h1M742.1 1481.5h1M713.0 1494.7h1M702.0 1498.9h1M737.7 1486.3h1M745.6 1429.7h1M684.3 1496.4h1M723.9 1516.7h1M700.7 1501.1h1M752.8 1455.4h1M695.2 1494.6h1M726.4 1501.0h1M742.4 1437.9h1M715.5 1437.0h1M703.8 1512.0h1M704.0 1440.7h1M710.2 1499.0h1M774.2 1449.3h1M761.6 1426.3h1M756.2 1466.4h1M774.1 1456.2h1M688.5 1420.8h1M725.6 1524.9h1M692.5 1494.2h1M750.7 1475.5h1M727.9 1497.7h1M742.5 1498.0h1M731.4 1528.3h1M703.0 1475.2h1M750.0 1495.2h1M728.5 1526.2h1M718.3 1495.0h1M728.1 1505.9h1M735.8 1486.6h1M729.4 1495.5h1M779.2 1455.0h1M730.4 1486.2h1M729.0 1494.7h1M764.3 1465.4h1M723.3 1468.1h1M692.2 1500.7h1M722.0 1473.3h1M740.4 1500.6h1M754.0 1477.0h1M763.0 1485.5h1M702.5 1498.9h1M715.3 1492.4h1M696.2 1500.5h1M715.4 1485.5h1M760.1 1496.7h1M753.3 1478.7h1M747.0 1492.5h1M710.4 1482.3h1M726.9 1493.9h1M752.3 1483.0h1M762.3 1450.4h1M721.9 1524.1h1M715.0 1490.4h1M758.2 1480.5h1M742.6 1445.2h1M757.0 1493.4h1M733.1 1491.1h1M751.5 1465.1h1M762.6 1478.4h1M719.7 1494.3h1M742.7 1494.7h1M777.0 1474.9h1M747.6 1472.6h1M730.6 1492.3h1M762.9 1472.6h1M764.1 1517.3h1M736.4 1492.9h1M728.3 1490.2h1M755.3 1438.5h1M763.3 1437.9h1M691.5 1528.8h1M748.5 1439.6h1M715.1 1489.1h1M738.8 1489.4h1M755.3 1486.5h1M758.2 1419.2h1M713.6 1492.4h1M709.1 1516.0h1M752.6 1466.4h1M717.2 1511.0h1M726.2 1501.6h1M724.9 1483.3h1M739.9 1489.1h1M719.7 1479.5h1M752.3 1499.5h1M717.6 1426.9h1M751.5 1502.6h1M728.0 1496.7h1M693.7 1508.4h1M731.4 1496.6h1M735.0 1491.6h1M752.4 1451.4h1M744.4 1498.3h1M746.9 1478.1h1M740.0 1473.6h1M787.9 1481.0h1M736.6 1436.7h1M763.0 1455.9h1M777.8 1443.0h1M723.7 1486.5h1M746.4 1488.6h1M771.0 1466.7h1M691.9 1482.4h1M731.1 1493.4h1M714.8 1492.9h1M733.4 1501.0h1M745.8 1477.4h1M710.5 1500.3h1M779.6 1488.9h1M692.2 1486.0h1M764.9 1437.2h1M723.7 1498.1h1M764.2 1462.9h1M732.4 1492.4h1M729.5 1482.3h1M703.9 1491.8h1M746.0 1487.3h1M726.5 1493.0h1M738.4 1482.4h1M707.4 1495.8h1M745.1 1491.5h1M733.2 1487.6h1M729.5 1485.6h1M731.3 1498.1h1M751.4 1479.0h1M783.2 1483.2h1M744.7 1492.3h1M722.9 1477.1h1M780.9 1431.4h1M713.3 1484.6h1M730.8 1483.8h1M700.6 1491.0h1M722.4 1489.5h1M727.8 1490.1h1M759.5 1427.8h1M738.7 1482.1h1M738.1 1482.1h1M726.9 1508.7h1M716.5 1503.6h1M746.3 1494.3h1M722.9 1501.0h1M717.2 1510.7h1M732.9 1492.7h1M738.2 1439.7h1M709.6 1502.0h1M713.2 1483.0h1M795.4 1423.7h1M712.5 1498.3h1M726.4 1498.4h1M741.9 1488.4h1M709.4 1500.5h1M761.5 1436.7h1M708.5 1496.1h1M744.8 1473.8h1M695.5 1506.9h1M718.8 1513.7h1M718.5 1492.9h1M710.2 1490.2h1M710.2 1500.9h1M715.3 1490.7h1M775.4 1438.9h1M754.4 1476.0h1M693.2 1494.9h1M744.1 1508.1h1M767.1 1476.8h1M797.3 1437.2h1M736.5 1483.5h1M713.9 1504.7h1M724.8 1495.0h1M732.7 1440.4h1M759.0 1444.1h1M711.0 1489.9h1M720.5 1503.5h1M732.0 1470.3h1M760.2 1474.6h1M712.4 1498.8h1M778.0 1480.2h1M764.3 1440.6h1M743.7 1474.9h1M732.4 1484.7h1M720.2 1505.4h1M743.5 1493.3h1M745.1 1487.6h1M730.0 1491.2h1M709.4 1489.7h1" stroke="#ff2020" stroke-width="1" opacity="0.72"/>
</g>
<rect x="682.5" y="1397" width="128.25" height="141.75" fill="none" stroke="#8a8a8a" stroke-width="1"/>
<path d="M747 1397V1538.75M682.5 1468H810.75" stroke="#f03030" stroke-width="0.9" opacity="0.85"/>
<g fill="none" stroke="#f03030" stroke-width="0.8" opacity="0.8"><circle cx="747" cy="1468" r="2"/><circle cx="747" cy="1423.93" r="2"/><circle cx="788.95" cy="1468" r="2"/></g>
<text class="san" x="682.5" y="1394" font-size="8.35" fill="#5a5a5a" text-decoration="underline">Plot P02, gated on P01.R1</text>
<text class="sa" x="685.5" y="1405" font-size="7" fill="#555">4.13%</text>
<text class="sa" x="807.75" y="1405" font-size="7" text-anchor="end" fill="#555">3.87%</text>
<text class="sa" x="685.5" y="1535.25" font-size="7" fill="#555">84.63%</text>
<text class="sa" x="807.75" y="1535.25" font-size="7" text-anchor="end" fill="#555">7.37%</text>
<text class="san" fill="#5a5a5a" font-size="8.4" text-anchor="middle" x="683.5" y="1549.25">10<tspan font-size="5.4" dy="-3.2">0</tspan></text>
<text class="san" fill="#5a5a5a" font-size="8.4" text-anchor="middle" transform="translate(679 1539.75) rotate(-90)">10<tspan font-size="5.4" dy="-3.2">0</tspan></text>
<text class="san" fill="#5a5a5a" font-size="8.4" text-anchor="middle" x="715.56" y="1549.25">10<tspan font-size="5.4" dy="-3.2">1</tspan></text>
<text class="san" fill="#5a5a5a" font-size="8.4" text-anchor="middle" transform="translate(679 1504.31) rotate(-90)">10<tspan font-size="5.4" dy="-3.2">1</tspan></text>
<text class="san" fill="#5a5a5a" font-size="8.4" text-anchor="middle" x="747.62" y="1549.25">10<tspan font-size="5.4" dy="-3.2">2</tspan></text>
<text class="san" fill="#5a5a5a" font-size="8.4" text-anchor="middle" transform="translate(679 1468.88) rotate(-90)">10<tspan font-size="5.4" dy="-3.2">2</tspan></text>
<text class="san" fill="#5a5a5a" font-size="8.4" text-anchor="middle" x="779.69" y="1549.25">10<tspan font-size="5.4" dy="-3.2">3</tspan></text>
<text class="san" fill="#5a5a5a" font-size="8.4" text-anchor="middle" transform="translate(679 1433.44) rotate(-90)">10<tspan font-size="5.4" dy="-3.2">3</tspan></text>
<text class="san" fill="#5a5a5a" font-size="8.4" text-anchor="middle" x="811.75" y="1549.25">10<tspan font-size="5.4" dy="-3.2">4</tspan></text>
<text class="san" fill="#5a5a5a" font-size="8.4" text-anchor="middle" transform="translate(679 1398) rotate(-90)">10<tspan font-size="5.4" dy="-3.2">4</tspan></text>
<path d="M682.5 1538.75v3M682.5 1538.75h-3M714.56 1538.75v3M682.5 1503.31h-3M746.62 1538.75v3M682.5 1467.88h-3M778.69 1538.75v3M682.5 1432.44h-3M810.75 1538.75v3M682.5 1397h-3" stroke="#8a8a8a" stroke-width="0.8"/>
<text class="san" x="741.62" y="1560.25" font-size="8.3" text-anchor="middle" fill="#5a5a5a">Annexin V-FITC (GRN-B-HLog)</text>
<text class="san" font-size="8.3" text-anchor="middle" fill="#5a5a5a" transform="translate(669 1470.88) rotate(-90)">PI (RED-B-HLog)</text>
<text class="se" x="748.75" y="1578" font-size="13" text-anchor="middle">siRNA-NC</text>
<clipPath id="fc4"><rect x="836.75" y="1396" width="126.75" height="141.25"/></clipPath>
<radialGradient id="fg4" gradientUnits="userSpaceOnUse" cx="880" cy="1502.5" r="33.15" gradientTransform="translate(880 1502.5) scale(1 0.62) translate(-880 -1502.5)"><stop offset="0" stop-color="#ff1010" stop-opacity="0.7"/><stop offset="0.45" stop-color="#ff2020" stop-opacity="0.55"/><stop offset="1" stop-color="#ff3030" stop-opacity="0"/></radialGradient>
<g clip-path="url(#fc4)">
<rect x="842.6" y="1477" width="74.8" height="51" fill="url(#fg4)"/>
<path d="M888.6 1505.2h1M890.8 1488.9h1M915.5 1422.8h1M863.9 1532.3h1M885.8 1429.6h1M880.4 1512.0h1M894.7 1495.7h1M868.5 1441.2h1M942.0 1475.2h1M861.3 1499.2h1M879.1 1524.2h1M872.2 1439.8h1M917.8 1452.5h1M849.3 1528.6h1M892.9 1499.6h1M870.9 1522.5h1M869.1 1507.0h1M858.0 1536.0h1M851.3 1507.7h1M879.7 1506.1h1M899.2 1502.0h1M892.2 1491.1h1M899.4 1502.9h1M897.5 1497.5h1M912.8 1419.9h1M902.2 1501.2h1M909.9 1425.7h1M873.5 1515.8h1M885.3 1499.1h1M913.3 1493.7h1M846.9 1477.5h1M910.4 1459.2h1M942.7 1443.6h1M871.2 1500.7h1M852.2 1511.5h1M848.1 1505.3h1M860.9 1517.9h1M893.3 1499.8h1M853.7 1522.8h1M922.5 1434.5h1M877.0 1489.9h1M865.2 1497.1h1M910.0 1425.1h1M882.0 1497.1h1M902.0 1492.7h1M867.7 1442.9h1M840.3 1528.8h1M942.8 1463.2h1M898.7 1496.0h1M902.6 1444.2h1M867.1 1487.1h1M877.2 1524.7h1M884.3 1530.2h1M915.2 1504.2h1M889.5 1421.1h1M912.2 1437.7h1M895.7 1522.0h1M870.1 1492.2h1M903.7 1516.2h1M882.6 1514.4h1M900.3 1425.0h1M896.2 1427.6h1M875.9 1522.9h1M887.3 1465.3h1M905.5 1422.0h1M880.1 1505.0h1M903.2 1421.6h1M899.9 1504.4h1M868.7 1508.7h1M867.8 1492.1h1M920.8 1457.8h1M937.8 1422.1h1M880.1 1495.0h1M918.3 1446.7h1M881.6 1528.4h1M881.0 1510.7h1M915.1 1433.1h1M867.1 1522.4h1M884.0 1434.5h1M869.4 1531.9h1M872.3 1507.6h1M881.4 1512.5h1M891.1 1489.7h1M863.7 1516.6h1M844.4 1514.9h1M922.2 1417.8h1M912.4 1511.5h1M878.6 1449.5h1M850.3 1529.0h1M897.8 1503.9h1M911.7 1433.8h1M872.9 1530.6h1M897.2 1424.5h1M846.1 1512.1h1M860.0 1512.6h1M910.5 1466.1h1M943.7 1452.6h1M879.5 1515.8h1M892.6 1493.1h1M915.3 1454.5h1M848.7 1516.2h1M859.7 1508.5h1M950.4 1468.9h1M886.6 1491.8h1M899.3 1427.6h1M923.2 1440.2h1M858.4 1509.9h1M900.5 1438.4h1M885.5 1465.4h1M861.8 1522.6h1M859.5 1502.8h1M886.8 1512.1h1M889.9 1492.4h1M860.4 1478.0h1M849.5 1514.8h1M876.5 1499.6h1M875.4 1488.4h1M916.5 1457.7h1M914.0 1430.8h1M922.0 1447.4h1M911.4 1426.0h1M915.9 1426.2h1M864.1 1531.5h1M928.5 1447.0h1M877.1 1442.2h1M851.1 1522.5h1M890.4 1487.6h1M894.5 1469.1h1M889.7 1510.5h1M922.3 1441.0h1M916.6 1456.2h1M855.0 1523.4h1M858.6 1494.9h1M904.0 1505.5h1M887.2 1481.9h1M866.5 1529.3h1M935.7 1468.8h1M916.0 1446.9h1M928.6 1424.5h1M859.0 1502.9h1M853.3 1515.0h1M904.3 1476.5h1M947.2 1439.5h1M917.3 1464.4h1M887.6 1432.2h1M893.4 1500.1h1M900.8 1503.9h1M864.5 1521.3h1M919.6 1441.0h1M864.5 1510.9h1M944.3 1412.4h1M873.7 1506.4h1M902.1 1471.1h1M872.1 1509.2h1M927.9 1423.4h1M907.2 1441.9h1M870.7 1501.6h1M919.8 1432.5h1M911.2 1490.2h1M928.8 1434.7h1M868.5 1495.6h1M871.4 1494.2h1M901.9 1503.6h1M927.1 1461.1h1M905.7 1520.8h1M888.9 1499.8h1M884.9 1507.6h1M863.9 1520.8h1M890.8 1485.1h1M881.1 1507.3h1M923.2 1497.2h1M852.6 1445.8h1M910.0 1492.8h1M868.5 1502.4h1M855.0 1520.8h1M904.7 1496.2h1M909.2 1475.8h1M869.9 1495.6h1M891.2 1499.3h1M899.0 1473.6h1M871.4 1511.8h1M904.6 1485.4h1M910.8 1498.7h1M902.9 1490.4h1M942.3 1433.8h1M879.2 1531.0h1M928.1 1449.3h1M893.0 1425.8h1M859.5 1439.0h1M921.8 1461.7h1M841.4 1519.2h1M873.0 1511.1h1M867.7 1525.9h1M942.0 1449.5h1M911.1 1445.3h1M890.3 1424.4h1M901.0 1496.0h1M901.2 1446.6h1M861.4 1508.8h1M898.4 1489.6h1M905.2 1440.2h1M877.3 1525.5h1M874.8 1495.0h1M878.4 1511.1h1M868.8 1513.4h1M897.1 1491.4h1M889.6 1408.8h1M840.0 1521.9h1M897.8 1433.0h1M887.6 1479.4h1M880.4 1515.2h1M901.4 1446.3h1M914.7 1479.0h1M883.4 1513.4h1M906.2 1448.4h1M873.2 1516.2h1M876.4 1481.9h1M869.4 1490.9h1M883.5 1506.6h1M851.9 1511.8h1M905.4 1434.1h1M875.8 1511.8h1M941.8 1435.9h1M855.3 1503.1h1M909.0 1442.1h1M907.4 1496.5h1M875.9 1500.2h1M865.8 1530.0h1M876.2 1488.2h1M906.5 1492.6h1M911.1 1459.3h1M945.9 1429.9h1M882.1 1487.5h1M867.1 1511.2h1M879.9 1441.3h1M874.8 1497.3h1M842.2 1516.2h1M901.4 1441.5h1M887.1 1509.1h1M879.6 1438.7h1M880.8 1496.4h1M900.9 1499.9h1M849.8 1487.6h1M895.6 1491.0h1M873.6 1511.8h1M843.9 1511.5h1M849.9 1529.0h1M910.9 1476.2h1M909.9 1516.2h1M849.4 1507.7h1M852.4 1534.1h1M858.6 1514.2h1M878.6 1503.2h1M905.2 1415.7h1M900.1 1493.4h1M903.3 1483.6h1M904.0 1422.7h1M875.5 1501.7h1M885.9 1506.8h1M909.5 1507.8h1M932.1 1466.2h1M889.2 1498.5h1M882.0 1417.1h1M912.8 1435.7h1M843.4 1515.8h1M875.1 1507.2h1M870.1 1502.1h1M859.4 1512.2h1M870.6 1523.5h1M876.1 1492.6h1M898.1 1445.9h1M885.4 1494.0h1M894.9 1444.0h1M890.8 1496.8h1M907.0 1457.4h1M885.3 1505.4h1M924.0 1421.7h1M843.6 1521.8h1M914.9 1439.3h1M897.7 1413.4h1M884.9 1524.5h1M865.0 1529.6h1M904.2 1504.8h1M840.6 1524.6h1M887.0 1504.8h1M871.2 1498.3h1M885.0 1508.3h1M897.9 1435.1h1M855.2 1523.6h1M889.8 1498.6h1M879.5 1490.1h1M899.4 1442.8h1M926.1 1443.9h1M853.1 1511.3h1M901.7 1491.8h1M877.7 1504.3h1M893.1 1477.3h1M873.3 1531.4h1M911.4 1488.3h1M844.5 1505.9h1M894.6 1496.7h1M849.1 1527.7h1M890.6 1477.8h1M861.3 1511.5h1M871.2 1515.7h1M898.9 1501.5h1M848.4 1505.0h1M858.8 1515.2h1M885.9 1508.4h1M853.4 1514.4h1M864.3 1518.3h1M911.4 1482.6h1M921.1 1416.7h1M857.4 1533.8h1M849.1 1498.1h1M863.6 1532.8h1M889.4 1475.5h1M870.7 1528.3h1M854.7 1501.9h1M891.6 1478.6h1M930.6 1436.0h1M911.4 1491.0h1M928.9 1450.7h1M894.3 1489.2h1M884.5 1521.9h1M895.3 1498.0h1M851.5 1507.5h1M866.2 1484.2h1M900.0 1505.4h1M892.5 1514.8h1M866.4 1514.6h1M898.3 1507.3h1M873.7 1495.1h1M883.7 1525.0h1M840.0 1520.1h1M907.8 1473.5h1M893.1 1502.6h1M885.1 1528.0h1M883.7 1480.2h1M888.6 1455.4h1M848.5 1504.8h1M872.4 1487.4h1M846.7 1505.5h1M883.0 1506.0h1M892.4 1493.4h1M896.6 1455.2h1M862.7 1515.8h1M845.4 1503.2h1M901.1 1506.3h1M910.2 1500.9h1M879.7 1486.5h1M876.2 1507.2h1M897.0 1510.2h1M884.7 1512.7h1M855.8 1508.7h1M896.0 1505.8h1M896.4 1534.6h1M865.1 1502.2h1M886.6 1481.8h1M869.9 1510.3h1M914.8 1444.2h1M887.9 1454.6h1M850.8 1514.1h1M898.8 1501.3h1M914.7 1449.8h1M937.7 1417.3h1M877.4 1496.1h1M936.4 1447.5h1M841.1 1498.7h1M896.9 1507.5h1M872.3 1506.7h1M888.0 1531.4h1M868.8 1523.4h1M908.0 1424.0h1M871.3 1510.8h1M868.5 1527.2h1M878.6 1532.2h1M891.1 1434.1h1M840.0 1497.3h1M899.3 1438.2h1M856.8 1505.3h1M895.4 1492.0h1M875.7 1510.9h1M894.2 1488.5h1M907.0 1444.0h1M904.2 1455.7h1M907.1 1503.1h1M953.0 1468.1h1M905.8 1514.7h1M924.2 1434.6h1M906.8 1498.9h1M857.9 1499.6h1M885.0 1477.4h1M870.5 1440.6h1M887.8 1504.3h1M871.0 1492.4h1M851.8 1505.9h1M877.6 1491.8h1M883.0 1490.0h1M930.5 1417.9h1M892.2 1476.2h1M897.5 1451.4h1M899.0 1497.7h1M855.1 1523.6h1M911.0 1434.9h1M891.4 1494.6h1M877.9 1506.0h1M894.7 1476.0h1M900.3 1439.4h1M912.7 1453.9h1M869.6 1494.7h1M867.5 1502.7h1M863.4 1503.9h1M901.3 1430.6h1M896.4 1499.9h1M905.7 1422.3h1M878.4 1514.1h1M877.9 1499.6h1M858.1 1497.0h1M901.5 1425.4h1M891.5 1505.8h1M861.5 1506.4h1M848.2 1509.3h1M900.4 1479.7h1M885.5 1437.9h1M913.3 1437.1h1M898.6 1412.3h1M922.7 1436.8h1M889.6 1480.7h1M909.7 1494.6h1M876.7 1519.6h1M862.2 1501.6h1M902.5 1438.2h1M888.9 1443.0h1M877.0 1479.9h1M880.1 1510.2h1M867.6 1506.9h1M918.0 1424.0h1M889.0 1495.7h1M897.7 1444.0h1M869.3 1519.8h1M872.5 1511.6h1M874.3 1511.6h1M887.7 1443.7h1M867.5 1504.8h1M917.3 1481.2h1M872.8 1486.8h1M889.1 1508.2h1M846.6 1509.2h1M888.5 1497.3h1M881.5 1495.1h1M850.3 1510.6h1M871.0 1509.5h1M899.6 1480.2h1M885.1 1438.5h1M895.3 1451.8h1M904.8 1495.9h1M879.7 1489.5h1M923.6 1438.4h1M861.4 1506.5h1M904.8 1508.7h1M929.5 1483.1h1M899.3 1502.2h1M903.0 1467.3h1M891.6 1520.0h1M872.6 1488.2h1M858.8 1513.1h1M898.4 1485.5h1M894.3 1501.6h1M883.7 1516.8h1M894.0 1465.0h1M872.5 1512.1h1M883.3 1503.3h1M864.5 1501.4h1M889.1 1448.6h1M858.3 1527.1h1M878.0 1502.0h1M860.2 1520.1h1M882.3 1500.9h1M879.4 1516.0h1M875.6 1522.1h1M880.2 1526.6h1M892.0 1446.5h1M865.5 1509.6h1M866.4 1502.9h1M873.1 1495.8h1M848.2 1516.0h1M869.0 1520.2h1M887.9 1503.1h1M900.4 1493.1h1M896.5 1481.2h1M889.7 1445.7h1M920.3 1435.1h1M865.4 1527.6h1M848.5 1512.7h1M876.9 1515.4h1M871.8 1504.3h1M871.3 1505.4h1M912.0 1491.8h1M895.3 1431.2h1M864.2 1510.0h1M931.0 1422.9h1M896.5 1520.1h1M894.6 1486.1h1M902.5 1487.0h1M882.8 1503.6h1M880.9 1523.8h1M881.8 1496.2h1M855.7 1536.2h1M899.8 1510.8h1M872.8 1524.5h1M890.0 1511.4h1M898.6 1510.7h1M869.9 1508.4h1M954.4 1428.2h1M881.0 1492.0h1M920.4 1432.2h1M850.8 1533.6h1M875.6 1518.5h1M927.5 1463.9h1M875.6 1511.9h1M880.5 1508.6h1M864.5 1505.2h1M930.4 1457.7h1M865.4 1508.9h1M863.6 1526.9h1M893.4 1494.8h1M880.0 1508.3h1M869.6 1493.1h1M872.6 1515.4h1M892.1 1440.4h1M867.1 1501.4h1M867.5 1501.2h1M873.1 1488.0h1M925.5 1442.4h1M910.3 1483.1h1M896.9 1504.7h1M869.5 1507.4h1M904.7 1433.8h1M894.6 1466.8h1M877.3 1515.0h1M849.8 1491.3h1M915.4 1438.1h1M887.2 1500.3h1M924.4 1482.8h1M868.4 1512.7h1M936.1 1477.8h1M919.4 1428.3h1M875.5 1528.4h1M859.8 1512.3h1M873.8 1524.7h1M891.8 1497.4h1M908.1 1496.2h1M880.7 1508.7h1M878.6 1442.4h1M848.3 1502.6h1M892.5 1479.3h1M887.0 1504.1h1M851.0 1522.6h1M919.9 1428.5h1M906.1 1501.6h1M903.3 1477.8h1M896.4 1417.9h1M903.4 1496.3h1M867.3 1496.4h1M867.3 1502.8h1M896.9 1514.8h1M892.2 1493.9h1M846.8 1517.2h1M886.1 1434.2h1M851.6 1507.4h1M902.3 1461.3h1M909.3 1478.4h1M910.9 1494.3h1M881.5 1503.3h1M886.6 1499.3h1M904.1 1453.7h1M902.5 1464.2h1M912.7 1427.7h1M846.9 1514.9h1M953.8 1474.5h1M904.0 1441.1h1M919.7 1435.6h1M864.5 1518.7h1M860.4 1507.9h1M890.4 1435.5h1M898.4 1502.1h1M929.7 1475.5h1M906.8 1493.3h1M858.4 1528.1h1M909.6 1491.8h1M845.9 1531.6h1M886.8 1489.6h1M862.8 1510.9h1M877.8 1423.1h1M894.1 1487.9h1M926.6 1493.0h1M854.1 1508.1h1M893.9 1421.2h1M915.0 1435.5h1M848.3 1508.6h1M888.8 1437.7h1M879.5 1507.3h1M866.0 1508.0h1M878.1 1505.8h1M844.9 1509.4h1M880.9 1500.0h1M855.5 1510.1h1M933.1 1462.9h1M875.1 1516.8h1M873.2 1493.4h1M894.5 1423.1h1M865.3 1492.0h1M874.7 1517.9h1M883.3 1516.5h1M896.1 1490.7h1M884.5 1497.3h1M894.9 1433.7h1M857.1 1516.9h1M867.2 1503.2h1M848.4 1514.0h1M845.5 1510.2h1M854.3 1503.5h1M887.9 1493.2h1M887.0 1514.4h1M881.7 1480.1h1M851.0 1500.0h1M877.8 1465.8h1M893.8 1508.3h1M869.4 1514.8h1M916.8 1435.7h1M865.9 1504.1h1M842.2 1494.7h1M851.7 1507.3h1M904.7 1473.6h1M913.5 1512.7h1M907.5 1503.3h1M912.3 1456.7h1M938.9 1436.0h1M855.9 1521.1h1M862.6 1512.8h1M879.6 1505.1h1M881.8 1508.6h1M903.2 1475.9h1M938.0 1444.2h1M892.5 1509.1h1M843.2 1515.0h1M866.3 1513.0h1M902.7 1524.2h1M892.3 1503.0h1M896.5 1504.7h1M901.4 1487.1h1M858.3 1517.6h1M874.7 1502.7h1M909.3 1434.8h1M870.5 1439.8h1M858.0 1493.7h1M927.2 1439.5h1M905.2 1436.1h1M887.1 1498.9h1M887.5 1470.8h1M925.6 1426.9h1M929.1 1444.7h1M889.0 1511.3h1M920.1 1445.9h1M880.8 1512.0h1M897.8 1448.4h1M890.1 1495.4h1M884.1 1491.9h1M893.7 1492.4h1M876.2 1495.3h1M889.9 1502.7h1M877.6 1522.0h1M909.6 1474.3h1M886.7 1485.9h1M910.9 1459.5h1M848.1 1521.5h1M888.7 1513.2h1M860.9 1508.4h1M878.2 1450.3h1M893.1 1432.8h1M889.2 1460.6h1M879.1 1511.1h1M959.4 1433.1h1M904.8 1493.6h1M921.1 1468.7h1M893.1 1516.9h1M920.2 1422.3h1M913.5 1436.8h1M891.2 1445.2h1M846.9 1510.9h1M893.3 1499.2h1M886.1 1436.8h1M894.8 1509.4h1M867.7 1498.2h1M879.4 1497.7h1M870.8 1486.8h1M878.2 1511.7h1M898.7 1465.7h1M904.3 1451.6h1M937.5 1469.8h1M881.8 1516.4h1M853.1 1514.8h1M851.5 1524.7h1M927.3 1431.8h1M924.4 1436.3h1M933.0 1481.8h1M920.0 1440.2h1M864.1 1501.6h1M862.0 1514.1h1M864.9 1501.7h1M878.2 1443.5h1M891.5 1496.9h1M885.3 1507.2h1M866.7 1507.0h1M877.7 1507.7h1M859.2 1517.1h1M854.8 1526.4h1M842.7 1530.3h1M902.4 1430.1h1M891.9 1434.7h1M872.1 1491.9h1M927.9 1447.9h1M895.9 1497.8h1M870.1 1496.9h1M912.1 1413.0h1M900.8 1495.9h1M867.9 1487.5h1M923.3 1440.3h1M891.0 1500.5h1M899.2 1488.8h1M895.1 1499.0h1" stroke="#ff2020" stroke-width="1" opacity="0.72"/>
<path d="M912.8 1494.2h1M886.7 1493.6h1M843.9 1527.4h1M888.6 1493.6h1M863.4 1527.8h1M906.6 1448.4h1M887.9 1511.1h1M855.5 1516.3h1M882.2 1509.9h1M886.0 1425.4h1M956.3 1473.3h1M929.5 1447.2h1M861.1 1504.6h1M881.3 1499.3h1M864.4 1516.3h1M881.6 1508.9h1M896.1 1503.7h1M891.6 1509.6h1M880.3 1512.0h1M870.1 1510.9h1M843.2 1520.6h1M855.9 1506.8h1M899.2 1428.9h1M929.6 1445.1h1M880.3 1449.7h1M886.6 1506.6h1M905.4 1488.0h1M906.5 1499.2h1M876.6 1496.2h1M905.1 1488.7h1M866.4 1522.9h1M845.9 1497.2h1M928.6 1431.6h1M862.1 1507.4h1M908.1 1505.3h1M873.1 1505.4h1M849.6 1505.1h1M908.6 1464.1h1M869.1 1505.0h1M895.3 1497.7h1M892.0 1506.3h1M908.5 1497.4h1M887.3 1483.6h1M878.2 1470.5h1M894.8 1528.9h1M885.5 1496.9h1M903.3 1536.1h1M873.2 1505.4h1M917.2 1484.5h1M848.4 1438.0h1M898.4 1515.2h1M879.3 1515.6h1M888.2 1510.9h1M877.3 1499.4h1M928.5 1466.7h1M913.8 1488.2h1M926.2 1458.9h1M890.2 1479.1h1M879.4 1503.4h1M879.9 1518.0h1M860.3 1512.7h1M884.2 1507.1h1M860.5 1520.3h1M844.4 1519.9h1M891.8 1432.1h1M890.0 1506.4h1M861.2 1505.5h1M897.5 1442.1h1M911.5 1454.5h1M869.9 1509.6h1M876.0 1427.8h1M900.5 1440.4h1M841.1 1527.9h1M942.6 1466.5h1M896.7 1495.0h1M871.3 1511.7h1M894.0 1478.9h1M873.1 1518.2h1M838.4 1515.8h1M931.8 1425.4h1M905.3 1501.7h1M883.8 1515.9h1M908.5 1497.1h1M930.3 1429.5h1M893.4 1500.3h1M870.0 1506.6h1M881.8 1493.2h1M903.5 1434.9h1M867.3 1510.3h1M909.8 1431.4h1M869.0 1514.8h1M877.9 1493.2h1M895.7 1463.7h1M880.1 1501.7h1M915.3 1477.4h1M901.4 1487.5h1M874.0 1509.6h1M922.2 1469.6h1M868.2 1507.3h1M876.7 1491.4h1M883.8 1507.9h1M912.4 1486.0h1M870.6 1523.6h1M874.9 1499.6h1M877.0 1512.8h1M887.5 1501.6h1M870.5 1466.5h1M873.2 1511.0h1M854.0 1515.4h1M949.8 1426.8h1M869.3 1521.0h1M880.3 1506.8h1M879.2 1505.9h1M943.9 1473.2h1M902.7 1508.0h1M928.0 1447.9h1M903.7 1437.2h1M874.5 1502.2h1M869.9 1497.5h1M912.6 1502.5h1M840.2 1521.2h1M847.5 1519.1h1M862.4 1514.8h1M839.6 1510.8h1M925.4 1427.3h1M903.5 1469.5h1M872.2 1513.8h1M897.5 1439.7h1M858.3 1504.9h1M880.5 1507.4h1M915.9 1432.9h1M890.6 1420.8h1M901.7 1484.8h1M871.8 1496.0h1M858.5 1496.0h1M872.5 1518.3h1M938.0 1464.0h1M873.4 1491.4h1M900.0 1428.5h1M899.5 1460.3h1M924.7 1447.2h1M930.6 1426.7h1M924.8 1460.9h1M855.5 1417.5h1M875.8 1508.9h1M894.4 1430.9h1M933.1 1470.2h1M901.0 1501.8h1M885.9 1433.3h1M869.6 1433.2h1M896.2 1527.6h1M861.0 1523.3h1M852.5 1511.1h1M902.5 1496.1h1M893.6 1488.6h1M854.0 1523.4h1M869.2 1520.0h1M912.9 1487.3h1M940.6 1432.0h1M892.0 1476.6h1M906.8 1418.7h1M847.5 1515.5h1M873.3 1500.3h1M909.3 1434.1h1M842.7 1523.1h1M865.3 1505.7h1M897.2 1502.0h1M891.4 1455.8h1M848.2 1493.9h1M890.7 1524.8h1M851.5 1527.2h1M943.3 1490.9h1M893.3 1510.2h1M882.1 1506.9h1M910.2 1470.5h1M873.7 1498.0h1M889.2 1499.8h1M893.6 1514.8h1M917.1 1437.5h1M841.4 1518.7h1M899.3 1522.2h1M908.9 1511.0h1M903.9 1526.2h1M896.3 1444.8h1M879.6 1528.0h1M888.4 1427.2h1M866.2 1496.3h1M905.4 1485.0h1M912.6 1435.7h1M921.0 1477.4h1M903.5 1475.3h1M872.5 1502.2h1M928.3 1430.6h1M886.7 1508.5h1M885.0 1528.6h1M888.3 1492.9h1M944.1 1452.7h1M850.3 1524.2h1M869.3 1516.3h1M882.2 1497.6h1M893.2 1489.2h1M863.1 1495.3h1M889.1 1434.3h1M895.5 1470.2h1M867.5 1504.6h1M884.9 1508.6h1M860.4 1505.0h1M891.9 1514.7h1M869.6 1510.7h1M893.4 1495.9h1M865.0 1481.6h1M876.6 1480.0h1M909.6 1411.1h1M874.6 1499.8h1M917.8 1433.5h1M889.6 1517.7h1M851.1 1480.0h1M904.1 1508.3h1M882.2 1484.6h1M892.9 1514.3h1M860.8 1519.9h1M837.9 1531.2h1M853.8 1523.1h1M837.7 1512.5h1M890.8 1493.6h1M872.5 1502.8h1M869.3 1518.0h1M865.9 1526.6h1M880.8 1438.0h1M872.6 1521.9h1M891.4 1494.7h1M888.3 1504.7h1M885.1 1514.1h1M854.9 1509.7h1M903.0 1447.2h1M880.2 1517.3h1M852.2 1515.0h1M882.3 1500.4h1M873.2 1503.6h1M863.2 1518.6h1M876.3 1510.0h1M877.3 1492.9h1M900.1 1495.4h1M872.2 1520.3h1M870.5 1504.1h1M925.5 1466.9h1M920.4 1475.1h1M861.0 1531.8h1M910.3 1467.4h1M894.7 1489.0h1M850.2 1528.5h1M924.3 1456.9h1M855.3 1522.6h1M864.1 1494.1h1M837.2 1520.2h1M878.9 1494.1h1M858.4 1504.4h1M895.7 1496.5h1M859.9 1515.8h1M844.1 1506.2h1M899.9 1436.6h1M889.8 1504.5h1M892.9 1503.4h1M864.5 1492.0h1M906.0 1484.9h1M882.1 1512.5h1M896.9 1417.8h1M891.4 1530.0h1M889.1 1504.6h1M900.7 1517.7h1M891.4 1509.1h1M894.2 1426.8h1M865.0 1513.6h1M865.8 1509.9h1M909.2 1444.0h1M864.7 1491.2h1M874.9 1522.7h1M871.7 1432.1h1M905.3 1499.8h1M911.0 1490.2h1M866.7 1502.1h1M865.6 1508.3h1M918.3 1443.0h1M903.0 1441.2h1M901.8 1453.1h1M918.6 1420.9h1M950.1 1464.6h1M859.4 1516.0h1M890.7 1508.7h1M903.6 1513.7h1M866.8 1496.0h1M896.9 1535.2h1M876.9 1519.3h1M860.3 1513.2h1M855.6 1509.1h1M901.9 1518.0h1M847.4 1522.9h1M857.5 1525.9h1M868.1 1503.7h1M910.2 1430.6h1M878.6 1531.3h1M911.3 1420.8h1M904.4 1485.2h1M860.9 1501.3h1M959.6 1415.8h1M852.6 1511.3h1M896.8 1440.5h1M885.8 1511.5h1M859.6 1497.9h1M899.0 1516.3h1M906.6 1500.9h1M839.2 1501.0h1M908.7 1444.2h1M880.4 1434.8h1M872.9 1492.8h1M847.4 1527.3h1M904.0 1447.6h1M949.5 1437.2h1M879.9 1495.9h1M934.1 1448.5h1M945.3 1469.4h1M887.6 1487.0h1M872.7 1481.3h1M875.7 1485.1h1M892.8 1446.0h1M871.5 1505.8h1M917.2 1421.5h1M894.3 1492.0h1M891.5 1497.2h1M904.0 1400.9h1M892.9 1506.9h1M915.2 1458.6h1M872.0 1509.6h1M886.8 1492.1h1M912.0 1509.9h1M885.5 1515.7h1M923.6 1423.6h1M878.3 1513.5h1M869.3 1509.8h1M870.8 1518.5h1M912.8 1422.3h1M882.7 1501.9h1M879.0 1512.2h1M935.2 1426.2h1M891.3 1486.7h1M872.1 1495.3h1M875.3 1495.9h1M933.0 1460.3h1M935.2 1465.0h1M879.6 1498.1h1M873.6 1515.2h1M864.1 1502.0h1M885.7 1515.7h1M879.3 1512.9h1M910.3 1429.0h1M915.0 1443.1h1M866.9 1516.5h1M952.4 1438.4h1M873.8 1506.9h1M870.1 1530.8h1M871.1 1491.0h1M877.3 1513.6h1M897.5 1441.6h1M890.5 1486.1h1M910.2 1438.3h1M907.2 1487.9h1M855.7 1509.4h1M877.2 1461.7h1M895.9 1503.5h1M863.7 1533.5h1M883.7 1498.5h1M857.9 1535.5h1M852.2 1507.1h1M905.5 1510.2h1M913.3 1491.4h1M883.5 1505.1h1M885.4 1498.3h1M911.6 1421.0h1M865.6 1504.9h1M858.0 1513.9h1M876.2 1483.3h1M869.5 1525.3h1M887.7 1491.1h1M885.0 1480.4h1M885.2 1423.6h1M936.4 1446.7h1M898.8 1499.6h1M893.0 1495.0h1M859.7 1519.3h1M870.3 1503.5h1M858.3 1520.8h1M919.3 1499.2h1M903.6 1505.8h1M897.5 1502.3h1M909.1 1488.0h1M870.7 1503.4h1M912.1 1517.7h1M869.4 1496.7h1M905.0 1421.5h1M902.5 1430.2h1M885.8 1517.0h1M858.4 1506.3h1M874.7 1428.1h1M901.0 1424.6h1M938.6 1425.6h1M960.1 1474.4h1M869.4 1499.4h1M857.6 1531.6h1M880.6 1517.2h1M852.9 1529.3h1M912.7 1445.6h1M896.0 1529.0h1M902.8 1430.9h1M879.7 1501.7h1M879.5 1512.5h1M862.3 1506.5h1M884.6 1503.0h1M842.0 1521.7h1M909.9 1421.6h1M876.0 1505.6h1M873.4 1511.7h1M883.2 1491.9h1M867.0 1506.5h1M870.9 1495.2h1M924.7 1468.0h1M909.6 1500.8h1M921.7 1438.8h1M894.0 1486.3h1M922.5 1442.5h1M862.3 1492.4h1M903.6 1524.5h1M865.6 1510.5h1M883.9 1493.0h1M937.7 1454.4h1M893.1 1489.9h1M868.5 1516.1h1M899.5 1524.0h1M895.3 1429.6h1M889.0 1495.9h1M901.4 1480.6h1M863.6 1495.5h1M933.7 1413.7h1M918.1 1422.2h1M861.0 1494.2h1M874.9 1487.4h1M881.2 1424.7h1M908.4 1439.9h1M911.9 1405.9h1M882.3 1504.5h1M885.4 1502.7h1M884.5 1425.8h1M872.5 1426.7h1M861.8 1503.6h1M903.4 1481.3h1M866.9 1518.9h1M913.6 1429.7h1M880.5 1464.2h1M876.9 1488.7h1M897.4 1500.8h1M876.5 1411.2h1M886.0 1499.8h1M926.0 1449.2h1M881.4 1498.6h1M895.5 1497.8h1M875.8 1511.3h1M865.5 1525.0h1M882.2 1518.3h1M837.9 1510.3h1M867.4 1518.8h1M945.7 1438.6h1M883.2 1506.6h1M944.8 1465.4h1M898.6 1498.5h1M838.7 1516.6h1M884.0 1448.9h1M882.2 1498.0h1M895.8 1498.8h1M884.0 1503.7h1M867.7 1498.4h1M882.5 1507.3h1M940.9 1427.2h1M951.6 1426.9h1M930.6 1417.9h1M884.5 1428.8h1M873.2 1515.3h1M910.0 1500.0h1M896.3 1454.1h1M859.3 1529.5h1M854.5 1514.7h1M870.5 1536.0h1M929.4 1417.8h1M907.2 1414.2h1M921.1 1422.2h1M901.7 1463.2h1M878.9 1512.6h1M846.8 1522.9h1M876.8 1496.2h1M919.7 1448.6h1M884.2 1518.0h1M858.8 1526.4h1M938.3 1436.5h1M865.3 1513.1h1M879.0 1516.1h1M859.1 1452.5h1M902.2 1472.2h1M846.3 1486.4h1M913.1 1459.8h1M886.9 1501.6h1M894.3 1420.7h1M869.9 1534.3h1M906.8 1442.8h1M884.5 1517.7h1M840.6 1518.8h1M865.3 1500.1h1M859.8 1517.8h1M881.1 1512.6h1M891.6 1510.7h1M894.0 1476.0h1M913.9 1465.5h1M900.5 1458.9h1M849.3 1509.6h1M912.9 1487.7h1M887.1 1505.5h1M870.9 1502.9h1M882.9 1504.8h1M893.3 1500.1h1M850.5 1520.2h1M900.3 1494.2h1M922.3 1426.6h1M887.0 1502.7h1M842.6 1531.3h1M885.2 1524.1h1M862.8 1471.2h1M852.6 1522.0h1M859.9 1501.3h1M853.9 1524.5h1M906.9 1452.5h1M915.1 1484.9h1M847.6 1471.7h1M944.0 1422.8h1M911.7 1436.0h1M914.2 1461.1h1M901.1 1434.9h1M913.9 1470.9h1M913.8 1445.0h1M867.5 1516.7h1M884.5 1472.6h1M871.5 1479.9h1M930.9 1473.5h1M850.0 1511.1h1M898.6 1483.6h1M876.0 1507.6h1M885.4 1514.1h1M871.3 1506.4h1M857.3 1505.7h1M849.1 1498.1h1M912.3 1426.0h1M920.9 1449.1h1M880.9 1521.5h1M879.6 1523.8h1M860.7 1501.8h1M885.8 1486.7h1M879.8 1508.0h1M862.9 1497.9h1M908.5 1427.7h1M911.1 1491.0h1M886.3 1507.2h1M904.3 1496.0h1M892.6 1514.9h1M953.5 1430.1h1M886.8 1497.1h1M870.2 1512.6h1M863.6 1534.6h1M909.8 1480.1h1M897.0 1498.3h1M918.7 1412.7h1M919.2 1437.3h1M894.6 1508.9h1M896.0 1473.9h1M894.7 1492.9h1M879.1 1504.5h1M934.8 1431.5h1M942.0 1402.1h1M901.7 1450.4h1M855.7 1509.9h1M863.0 1499.1h1M877.1 1486.1h1M878.3 1496.8h1M878.8 1503.2h1M881.9 1448.2h1M862.2 1502.4h1M893.6 1459.1h1M954.1 1422.4h1M937.0 1426.5h1M943.6 1449.1h1M920.1 1428.7h1M885.8 1515.1h1M901.7 1522.3h1M839.7 1518.9h1M873.1 1494.2h1M882.7 1497.1h1M921.0 1436.7h1M879.3 1514.9h1M907.7 1523.8h1M861.7 1502.1h1M866.4 1494.4h1M952.1 1448.8h1M900.5 1484.4h1M899.4 1495.1h1M906.8 1515.5h1M860.1 1529.6h1M858.8 1505.4h1M925.6 1428.9h1M896.8 1503.6h1M842.1 1508.8h1M904.2 1501.5h1M910.4 1449.5h1M931.6 1487.4h1M888.5 1495.2h1M893.2 1482.5h1M888.3 1509.3h1M871.6 1495.5h1M873.4 1527.8h1M916.7 1469.3h1M869.7 1530.7h1M878.9 1511.4h1M952.5 1450.3h1M881.7 1454.0h1M870.5 1526.1h1M858.3 1527.8h1M876.2 1497.9h1M880.2 1518.1h1M887.7 1498.7h1M859.1 1500.2h1M901.4 1507.8h1M917.4 1435.4h1M839.5 1516.3h1M883.3 1489.4h1M836.9 1512.7h1M889.5 1458.6h1M940.0 1411.8h1M913.7 1491.4h1M887.2 1411.8h1M918.2 1426.6h1M923.0 1449.1h1M883.2 1487.4h1M850.9 1517.2h1M909.2 1434.7h1M865.9 1503.7h1M896.7 1503.9h1M925.1 1465.0h1M884.4 1508.7h1M914.6 1523.1h1M848.8 1526.7h1M919.2 1440.9h1M959.3 1461.9h1M883.0 1434.4h1M941.6 1473.4h1M884.5 1498.7h1M887.6 1517.9h1M918.7 1429.9h1M903.8 1497.9h1M877.9 1516.0h1M913.4 1468.2h1M848.4 1488.6h1M871.7 1507.0h1M867.3 1506.5h1M914.7 1434.2h1M895.5 1488.6h1M882.0 1500.4h1M892.9 1507.0h1M877.3 1463.7h1M900.1 1510.6h1M853.9 1528.5h1M858.2 1514.3h1M884.7 1494.7h1M864.9 1496.9h1M938.1 1443.9h1M856.3 1510.7h1M901.5 1472.7h1M940.3 1432.0h1M884.7 1501.0h1M899.4 1443.7h1M882.8 1507.6h1M878.0 1501.6h1M918.2 1453.1h1M914.4 1447.5h1M894.1 1500.0h1M875.1 1502.5h1M892.9 1494.0h1M844.8 1512.7h1M860.7 1521.2h1M876.5 1490.5h1M870.1 1524.9h1M856.9 1520.7h1M928.4 1434.7h1M873.1 1521.8h1M908.0 1489.4h1M909.8 1451.8h1M961.6 1471.4h1M882.6 1490.0h1M878.3 1515.6h1M844.4 1524.7h1M939.9 1430.4h1M914.1 1439.6h1M886.4 1478.9h1M920.4 1457.5h1M905.3 1451.5h1M891.1 1501.3h1M866.8 1503.2h1M902.0 1477.9h1M862.3 1518.1h1M873.7 1533.5h1M878.1 1533.9h1M870.5 1510.4h1M936.7 1445.1h1M873.5 1505.4h1M861.6 1524.3h1M878.8 1512.2h1M917.4 1443.0h1M876.9 1476.9h1M862.9 1496.5h1M891.7 1503.8h1M849.4 1495.3h1M936.5 1447.7h1M878.8 1516.0h1M854.5 1522.7h1M874.5 1522.0h1M937.0 1427.6h1M843.9 1519.3h1M873.3 1510.8h1M904.0 1424.7h1M890.6 1429.3h1M876.3 1515.7h1M877.1 1501.5h1M868.9 1505.3h1M876.3 1498.5h1M868.7 1528.5h1" stroke="#ff2020" stroke-width="1" opacity="0.72"/>
<path d="M908.8 1507.9h1M843.5 1531.6h1M914.3 1431.4h1M875.4 1435.1h1M919.6 1445.6h1M878.7 1511.3h1M879.3 1428.7h1M881.8 1533.6h1M886.9 1433.2h1M899.3 1474.0h1M888.8 1420.6h1M900.4 1420.9h1M888.0 1484.2h1M878.2 1513.0h1M887.1 1469.5h1M887.6 1495.0h1M901.9 1500.1h1M859.4 1519.7h1M841.9 1511.8h1M916.7 1465.5h1M881.1 1500.3h1M870.6 1508.1h1M897.5 1506.3h1M861.5 1519.2h1M916.5 1474.9h1M919.5 1437.8h1M891.6 1504.0h1M837.1 1497.9h1M890.0 1438.7h1M858.8 1503.5h1M931.1 1432.5h1M896.9 1433.9h1M876.5 1530.5h1M867.7 1425.3h1M845.2 1507.6h1M899.7 1495.1h1M890.1 1501.9h1M861.5 1535.1h1M931.1 1428.7h1M877.7 1510.7h1M842.5 1506.2h1M933.2 1424.7h1M928.8 1441.2h1M873.2 1517.4h1M882.1 1463.2h1M877.8 1501.2h1M907.0 1445.1h1M890.6 1459.1h1M885.2 1508.6h1M857.6 1428.4h1M870.7 1519.7h1M881.7 1436.7h1M896.9 1490.2h1M902.6 1432.0h1M913.1 1460.3h1M856.8 1507.1h1M876.1 1495.2h1M868.1 1497.2h1M878.2 1506.1h1M890.4 1486.6h1M912.1 1493.9h1M894.1 1508.6h1M912.3 1504.4h1M897.7 1511.3h1M884.6 1506.4h1M910.7 1440.2h1M865.7 1512.9h1M900.1 1421.8h1M884.8 1492.7h1M872.2 1507.8h1M920.6 1443.6h1M873.8 1498.3h1M917.7 1445.8h1M916.5 1425.4h1M876.3 1496.7h1M874.3 1499.1h1M896.8 1513.3h1M888.8 1528.2h1M871.1 1509.7h1M883.1 1473.3h1M871.2 1506.2h1M865.4 1523.2h1M875.7 1517.7h1M883.6 1521.9h1M864.9 1504.3h1M941.3 1421.9h1M904.4 1409.0h1M879.1 1499.2h1M892.3 1490.1h1M908.0 1436.8h1M867.0 1505.9h1M928.2 1424.7h1M872.6 1515.6h1M902.4 1430.1h1M884.5 1515.7h1M840.0 1532.5h1M854.8 1516.4h1M899.1 1491.4h1M905.8 1503.0h1M959.6 1418.7h1M849.2 1508.3h1M884.4 1461.9h1M843.4 1505.5h1M845.1 1516.8h1M857.2 1526.9h1M898.6 1515.0h1M903.4 1433.5h1M886.7 1482.2h1M856.2 1528.7h1M871.0 1517.2h1M874.1 1498.0h1M868.5 1482.1h1M868.4 1498.6h1M912.3 1428.5h1M898.8 1436.7h1M865.3 1498.1h1M878.4 1512.2h1M900.2 1502.5h1M857.1 1510.9h1M842.9 1503.1h1M861.5 1508.6h1M879.1 1459.9h1M900.6 1479.3h1M890.1 1471.6h1M872.6 1491.0h1M913.9 1424.4h1M860.9 1524.7h1M906.9 1476.7h1M915.8 1478.9h1M885.2 1481.1h1M862.2 1501.3h1M852.2 1513.6h1M896.4 1496.9h1M863.7 1532.6h1M837.2 1531.0h1M864.0 1499.5h1M875.7 1441.9h1M892.7 1497.9h1M875.0 1508.9h1M842.3 1505.3h1M882.6 1501.8h1M884.1 1491.3h1M918.5 1471.4h1M872.3 1490.8h1M885.6 1451.9h1M899.5 1492.9h1M892.3 1440.2h1M883.4 1485.8h1M902.6 1489.3h1M864.9 1502.6h1M870.9 1524.9h1M906.2 1482.1h1M922.4 1428.3h1M924.3 1419.8h1M866.3 1507.3h1M911.0 1500.7h1M866.2 1509.0h1M876.3 1491.3h1M878.2 1482.4h1M904.4 1504.3h1M860.4 1506.2h1M883.1 1503.5h1M939.7 1457.5h1M875.1 1535.5h1M884.2 1496.8h1M881.1 1453.4h1M858.3 1514.1h1M885.3 1479.7h1M879.6 1490.4h1M873.5 1517.4h1M855.3 1516.2h1M868.8 1506.5h1M903.7 1478.9h1M901.9 1441.7h1M936.2 1451.1h1M881.3 1525.4h1M841.3 1506.4h1M872.3 1509.4h1M852.6 1524.4h1M871.1 1510.2h1M905.9 1461.3h1M875.7 1519.6h1M851.4 1504.4h1M845.7 1474.8h1M894.4 1494.4h1M915.7 1422.6h1M878.7 1493.0h1M892.6 1490.8h1M901.3 1459.4h1M882.7 1453.3h1M859.8 1507.6h1M904.1 1427.5h1M903.1 1497.8h1M863.7 1500.5h1M893.6 1445.0h1M881.0 1494.4h1M904.9 1454.1h1M861.6 1510.8h1M863.3 1533.8h1M881.5 1489.8h1M885.5 1473.4h1M917.6 1429.6h1M927.3 1443.5h1M877.5 1500.9h1M875.6 1505.1h1M919.2 1415.6h1M898.7 1500.0h1M890.3 1501.8h1M870.4 1519.5h1M903.2 1494.0h1M858.2 1504.2h1M873.7 1517.0h1M892.9 1505.8h1M852.8 1435.7h1M866.6 1508.9h1M863.5 1525.3h1M903.0 1490.8h1M878.6 1517.6h1M872.4 1457.4h1M896.8 1494.9h1M888.5 1508.4h1M873.7 1452.6h1M926.5 1454.6h1M886.9 1484.6h1M860.8 1520.8h1M843.6 1531.3h1M864.1 1511.0h1M859.9 1515.4h1M927.7 1424.7h1M883.6 1437.1h1M870.8 1526.5h1M838.1 1530.1h1M889.8 1490.9h1M891.0 1519.2h1M892.0 1495.1h1M851.0 1521.8h1M874.8 1512.5h1M874.2 1528.8h1M873.0 1508.7h1M847.4 1529.5h1M902.3 1446.5h1M878.5 1518.8h1M918.5 1436.2h1M861.7 1509.9h1M843.0 1505.2h1M913.0 1432.5h1M891.0 1500.8h1M881.1 1514.9h1M868.4 1493.1h1M916.5 1502.5h1M899.8 1506.5h1M922.4 1414.0h1M897.3 1482.8h1M925.8 1436.0h1M867.5 1518.3h1M891.9 1428.1h1M883.2 1507.1h1M863.5 1534.9h1M919.4 1472.4h1M875.0 1519.7h1M893.2 1470.4h1M888.7 1506.6h1M883.8 1474.7h1M898.4 1499.2h1M913.9 1468.3h1M899.7 1495.8h1M910.6 1456.3h1M897.4 1482.3h1M872.9 1508.7h1M864.6 1493.9h1M898.6 1494.0h1M887.7 1504.1h1M854.3 1524.1h1M913.4 1424.8h1M841.0 1505.7h1M852.6 1513.4h1M898.1 1434.5h1M916.0 1427.3h1M884.1 1426.8h1M882.3 1439.4h1M893.3 1446.1h1M875.3 1497.4h1M863.9 1514.5h1M869.6 1497.4h1M865.7 1480.4h1M911.2 1435.4h1M915.3 1474.7h1M953.6 1448.2h1M880.7 1506.9h1M874.2 1505.6h1M920.4 1453.0h1M882.5 1504.3h1M878.9 1523.7h1M843.5 1513.9h1M863.0 1504.2h1M901.0 1501.0h1M876.0 1434.7h1M938.8 1436.6h1M942.5 1425.7h1M878.7 1435.5h1M909.4 1488.8h1M884.1 1495.5h1M904.2 1495.3h1M879.9 1528.1h1M901.3 1437.9h1M900.1 1448.8h1M906.2 1438.3h1M887.5 1427.4h1M907.0 1459.0h1M875.1 1493.6h1M896.3 1516.6h1M872.8 1490.4h1M898.7 1499.4h1M870.6 1522.0h1M858.3 1521.8h1M896.4 1484.6h1M928.6 1443.0h1M868.0 1512.7h1M895.5 1510.6h1M887.6 1495.3h1M858.3 1497.3h1M877.7 1522.5h1M884.2 1512.6h1M886.9 1506.6h1M863.8 1501.9h1M860.0 1458.0h1M885.6 1511.7h1M870.0 1524.5h1M899.1 1508.6h1M897.0 1515.2h1M839.5 1510.1h1M933.6 1451.1h1M928.8 1481.3h1M927.3 1474.3h1M844.5 1454.9h1M866.0 1434.4h1M873.8 1504.3h1M925.1 1450.2h1M917.6 1413.3h1M890.7 1438.8h1M889.5 1496.7h1M885.1 1497.3h1M848.8 1495.9h1M888.5 1500.3h1M901.3 1472.6h1M887.7 1493.1h1M883.1 1436.7h1M851.8 1498.2h1M899.1 1501.4h1M887.7 1493.7h1M897.9 1450.1h1M885.2 1504.9h1M896.6 1486.2h1M877.2 1502.0h1M839.6 1523.0h1M897.9 1489.5h1M866.7 1512.8h1M885.4 1433.1h1M861.8 1506.0h1M843.2 1510.6h1M883.9 1437.1h1M890.4 1432.0h1M903.9 1511.5h1M859.3 1503.3h1M851.8 1496.6h1M883.0 1517.4h1M863.3 1500.2h1M873.7 1508.5h1M872.9 1517.8h1M858.4 1524.3h1M844.1 1503.4h1M856.6 1508.8h1M896.4 1488.8h1M877.8 1435.7h1M925.8 1477.3h1M929.0 1435.3h1M917.0 1437.8h1M857.8 1507.1h1M895.7 1494.9h1M876.9 1494.3h1M866.0 1497.8h1M899.5 1492.7h1M899.6 1501.4h1M902.9 1436.1h1M876.6 1520.5h1M874.6 1533.3h1M883.6 1512.9h1M909.6 1429.9h1M891.8 1437.6h1M863.8 1501.7h1M893.3 1493.3h1M908.7 1508.1h1M918.3 1436.8h1M847.2 1521.4h1M918.5 1447.5h1M875.7 1501.1h1M880.6 1496.9h1M879.2 1469.3h1M905.7 1433.2h1M897.4 1453.7h1M911.1 1501.5h1M865.3 1509.0h1M895.1 1478.3h1M915.1 1429.1h1M897.8 1432.1h1M910.6 1468.4h1M929.5 1412.2h1M894.3 1433.8h1M894.4 1484.3h1M871.4 1498.6h1M888.4 1510.2h1M897.0 1513.7h1M879.6 1490.3h1M867.4 1509.7h1M871.1 1490.6h1M901.4 1478.9h1M913.4 1489.6h1M846.4 1525.7h1M905.2 1497.0h1M864.0 1494.9h1M958.0 1426.0h1M881.0 1482.9h1M893.9 1520.5h1M859.6 1498.1h1M878.3 1515.8h1M851.3 1535.5h1M881.4 1516.6h1M948.8 1427.4h1M889.6 1496.3h1M860.6 1523.0h1M874.9 1497.2h1M905.7 1484.5h1M856.0 1529.2h1M907.3 1493.1h1M884.4 1478.7h1M874.2 1437.3h1M934.6 1424.8h1M876.2 1525.3h1M883.8 1506.2h1M876.4 1501.2h1M880.9 1519.0h1M876.0 1480.2h1M873.1 1503.9h1M888.9 1506.4h1M871.7 1506.6h1M923.8 1493.9h1M908.1 1496.1h1M867.1 1515.8h1M884.0 1484.7h1M905.4 1503.7h1M886.0 1491.1h1M912.2 1457.6h1M962.1 1482.3h1M947.3 1438.6h1M843.6 1517.5h1M892.2 1490.1h1M878.5 1522.7h1M894.3 1512.5h1M868.5 1492.4h1M895.1 1476.3h1M852.5 1496.6h1M874.4 1514.7h1M874.4 1504.8h1M907.5 1467.4h1M878.8 1494.0h1M932.0 1443.4h1M921.7 1480.7h1M906.4 1482.4h1M931.9 1447.3h1M856.9 1500.8h1M930.7 1417.5h1M879.3 1509.7h1M862.2 1522.2h1M883.1 1439.4h1M868.6 1471.2h1M888.3 1452.7h1M848.7 1532.0h1M874.3 1524.6h1M935.1 1446.5h1M915.3 1445.1h1M917.5 1435.3h1M898.6 1442.9h1M902.5 1485.5h1M887.5 1502.3h1M937.6 1418.2h1M909.3 1465.4h1M922.8 1437.3h1M882.0 1491.0h1M908.3 1485.9h1M854.5 1511.1h1M896.5 1483.0h1M908.5 1516.2h1M871.9 1517.7h1M895.3 1499.7h1M876.6 1493.1h1M882.6 1430.3h1M883.4 1515.6h1M871.1 1483.7h1M881.2 1511.6h1M938.1 1532.5h1M933.3 1445.3h1M933.3 1472.4h1M933.5 1428.4h1M904.7 1504.8h1M877.0 1519.5h1M901.8 1482.8h1M851.8 1508.8h1M903.2 1489.6h1M864.4 1521.7h1M875.5 1505.7h1M879.4 1512.8h1M899.2 1505.2h1M845.6 1508.0h1M886.1 1480.9h1M876.3 1527.9h1M913.0 1500.4h1M855.2 1493.5h1M893.9 1432.2h1M873.2 1452.2h1M892.0 1470.4h1M915.0 1478.3h1M911.5 1453.2h1M845.9 1514.6h1M891.1 1468.7h1M883.5 1505.5h1M888.7 1501.3h1M882.6 1503.5h1M886.0 1501.9h1M947.7 1432.8h1M862.0 1499.3h1M912.8 1442.4h1M892.0 1512.1h1M855.9 1513.7h1M888.5 1509.3h1M873.9 1506.8h1M849.4 1493.7h1M942.2 1438.3h1M866.3 1503.5h1M885.2 1489.7h1M952.5 1440.8h1M915.1 1448.9h1M921.6 1436.4h1M936.8 1429.1h1M896.8 1485.5h1M904.9 1526.3h1M882.9 1496.1h1M858.5 1521.1h1M888.6 1533.0h1M854.5 1514.3h1M889.9 1505.6h1M923.8 1433.2h1M882.6 1509.4h1M877.0 1495.7h1M922.1 1448.9h1M878.2 1517.5h1M918.3 1435.7h1M860.6 1492.7h1M900.3 1451.6h1M937.5 1419.7h1M887.0 1512.6h1M908.0 1486.5h1M873.0 1523.9h1M849.4 1509.1h1M883.5 1521.3h1M899.1 1437.3h1M879.6 1505.7h1M851.2 1512.3h1M880.9 1489.3h1M855.3 1526.2h1M844.2 1512.8h1M851.1 1535.5h1M851.5 1515.3h1M895.9 1501.6h1M853.6 1516.8h1M911.7 1448.3h1M904.0 1496.6h1M928.9 1444.4h1M852.1 1505.3h1M877.1 1496.0h1M913.3 1495.9h1M910.1 1513.2h1M868.7 1528.8h1M926.3 1423.0h1M863.0 1452.8h1M864.9 1511.6h1M879.8 1519.2h1M880.0 1509.1h1M889.7 1482.1h1M856.2 1510.1h1M864.9 1498.9h1M888.3 1507.9h1M876.4 1506.6h1M899.5 1499.9h1M891.0 1513.0h1M885.5 1503.7h1M881.2 1531.6h1M951.7 1426.4h1M892.9 1503.4h1M837.4 1509.5h1M877.7 1496.0h1M881.2 1479.0h1M916.5 1436.9h1M910.2 1440.2h1M864.3 1503.7h1M895.2 1433.7h1M876.2 1495.0h1M870.7 1502.0h1M860.6 1509.7h1M896.7 1436.8h1M867.1 1488.4h1M903.0 1466.0h1M883.0 1416.3h1M878.6 1520.7h1M860.6 1485.4h1M860.4 1485.9h1M883.3 1483.9h1M871.3 1434.5h1M889.6 1484.7h1M850.2 1503.8h1M915.6 1441.9h1M868.7 1513.5h1M879.1 1481.1h1M895.4 1509.7h1M844.0 1507.3h1M878.2 1505.4h1M901.7 1445.1h1M862.5 1502.6h1M861.2 1502.9h1M847.6 1515.3h1M871.1 1521.9h1M960.8 1414.3h1M911.9 1502.2h1M885.4 1471.1h1M898.5 1459.8h1M884.8 1516.7h1M899.2 1504.4h1M941.5 1494.5h1M875.6 1498.5h1M932.4 1431.9h1M877.5 1470.0h1M881.4 1502.6h1M915.3 1422.2h1M898.2 1506.7h1M891.7 1490.8h1M887.1 1507.2h1M921.6 1445.8h1M892.1 1500.2h1M846.7 1508.4h1M911.3 1494.4h1M884.7 1519.2h1M902.4 1461.2h1M859.2 1500.3h1M895.3 1450.6h1M882.7 1504.2h1M877.5 1509.8h1M909.6 1509.6h1M878.4 1500.6h1M899.0 1495.7h1M865.9 1527.4h1M860.1 1514.4h1M876.4 1523.7h1M906.8 1441.7h1M922.7 1454.2h1M894.9 1487.5h1M891.8 1497.7h1M885.2 1515.5h1M880.4 1513.4h1M928.6 1423.7h1M850.4 1508.1h1M905.3 1497.8h1M884.2 1497.5h1M913.0 1455.3h1M913.0 1473.5h1M897.2 1511.7h1M893.3 1501.7h1M878.9 1503.7h1M903.4 1514.6h1M848.9 1510.4h1M923.2 1478.4h1M911.2 1435.2h1M865.1 1523.7h1M847.8 1501.7h1M869.7 1530.8h1M912.8 1482.5h1M879.6 1463.6h1M901.9 1493.6h1M936.0 1421.2h1M848.9 1524.9h1M889.1 1463.4h1M842.8 1519.1h1M904.8 1424.6h1M868.3 1439.1h1M876.6 1506.9h1M890.1 1501.4h1M859.4 1502.0h1M847.2 1506.9h1M866.4 1512.0h1M909.4 1424.4h1M886.2 1502.0h1M909.2 1490.1h1M907.5 1511.4h1M882.3 1476.9h1M843.3 1478.8h1M913.4 1450.2h1M891.7 1425.2h1M917.5 1498.8h1M911.1 1424.9h1M881.6 1518.6h1M871.5 1519.8h1M891.4 1437.7h1M843.4 1533.0h1M877.3 1513.4h1M850.7 1512.2h1M884.9 1512.5h1M920.3 1461.6h1M849.7 1531.4h1M873.9 1506.3h1M886.9 1503.8h1M888.4 1500.3h1M888.6 1498.4h1M910.3 1496.4h1M909.1 1492.1h1M872.5 1502.8h1M884.8 1527.6h1M858.7 1520.3h1M877.9 1494.6h1M885.9 1499.5h1M905.1 1512.7h1M897.2 1520.8h1M875.7 1500.2h1M920.8 1445.3h1M878.8 1480.9h1M869.6 1507.5h1M874.4 1518.1h1M865.6 1508.2h1M903.7 1504.5h1M841.5 1517.7h1M864.7 1504.2h1M878.4 1502.9h1M875.1 1514.8h1M895.0 1497.5h1M892.3 1510.1h1M902.7 1421.6h1M865.7 1524.3h1M846.9 1498.1h1M876.1 1489.1h1M961.9 1490.0h1" stroke="#ff2020" stroke-width="1" opacity="0.72"/>
</g>
<rect x="835.75" y="1395" width="128.75" height="143.25" fill="none" stroke="#8a8a8a" stroke-width="1"/>
<path d="M900.75 1395V1538.25M835.75 1466.75H964.5" stroke="#f03030" stroke-width="0.9" opacity="0.85"/>
<g fill="none" stroke="#f03030" stroke-width="0.8" opacity="0.8"><circle cx="900.75" cy="1466.75" r="2"/><circle cx="900.75" cy="1422.22" r="2"/><circle cx="942.61" cy="1466.75" r="2"/></g>
<text class="san" x="835.75" y="1392" font-size="8.35" fill="#5a5a5a" text-decoration="underline">Plot P02, gated on P01.R1</text>
<text class="sa" x="838.75" y="1403" font-size="7" fill="#555">8.08%</text>
<text class="sa" x="961.5" y="1403" font-size="7" text-anchor="end" fill="#555">8.24%</text>
<text class="sa" x="838.75" y="1534.75" font-size="7" fill="#555">76.88%</text>
<text class="sa" x="961.5" y="1534.75" font-size="7" text-anchor="end" fill="#555">6.80%</text>
<text class="san" fill="#5a5a5a" font-size="8.4" text-anchor="middle" x="836.75" y="1548.75">10<tspan font-size="5.4" dy="-3.2">0</tspan></text>
<text class="san" fill="#5a5a5a" font-size="8.4" text-anchor="middle" transform="translate(832.25 1539.25) rotate(-90)">10<tspan font-size="5.4" dy="-3.2">0</tspan></text>
<text class="san" fill="#5a5a5a" font-size="8.4" text-anchor="middle" x="868.94" y="1548.75">10<tspan font-size="5.4" dy="-3.2">1</tspan></text>
<text class="san" fill="#5a5a5a" font-size="8.4" text-anchor="middle" transform="translate(832.25 1503.44) rotate(-90)">10<tspan font-size="5.4" dy="-3.2">1</tspan></text>
<text class="san" fill="#5a5a5a" font-size="8.4" text-anchor="middle" x="901.12" y="1548.75">10<tspan font-size="5.4" dy="-3.2">2</tspan></text>
<text class="san" fill="#5a5a5a" font-size="8.4" text-anchor="middle" transform="translate(832.25 1467.62) rotate(-90)">10<tspan font-size="5.4" dy="-3.2">2</tspan></text>
<text class="san" fill="#5a5a5a" font-size="8.4" text-anchor="middle" x="933.31" y="1548.75">10<tspan font-size="5.4" dy="-3.2">3</tspan></text>
<text class="san" fill="#5a5a5a" font-size="8.4" text-anchor="middle" transform="translate(832.25 1431.81) rotate(-90)">10<tspan font-size="5.4" dy="-3.2">3</tspan></text>
<text class="san" fill="#5a5a5a" font-size="8.4" text-anchor="middle" x="965.5" y="1548.75">10<tspan font-size="5.4" dy="-3.2">4</tspan></text>
<text class="san" fill="#5a5a5a" font-size="8.4" text-anchor="middle" transform="translate(832.25 1396) rotate(-90)">10<tspan font-size="5.4" dy="-3.2">4</tspan></text>
<path d="M835.75 1538.25v3M835.75 1538.25h-3M867.94 1538.25v3M835.75 1502.44h-3M900.12 1538.25v3M835.75 1466.62h-3M932.31 1538.25v3M835.75 1430.81h-3M964.5 1538.25v3M835.75 1395h-3" stroke="#8a8a8a" stroke-width="0.8"/>
<text class="san" x="895.12" y="1559.75" font-size="8.3" text-anchor="middle" fill="#5a5a5a">Annexin V-FITC (GRN-B-HLog)</text>
<text class="san" font-size="8.3" text-anchor="middle" fill="#5a5a5a" transform="translate(822.25 1469.62) rotate(-90)">PI (RED-B-HLog)</text>
<text class="se" x="901.25" y="1577" font-size="13" text-anchor="middle">HDAC1-siRNA</text>
<rect x="121.25" y="1127.5" width="136.25" height="20" fill="#0000FF"/>
<path d="M257.5 1137.5H268.75M268.75 1133V1142" stroke="#0000FF" stroke-width="1.2" fill="none"/>
<rect x="121.25" y="1158.75" width="96.25" height="20.5" fill="#FF0000"/>
<path d="M217.5 1169H228M228 1164.5V1173.5" stroke="#FF0000" stroke-width="1.2" fill="none"/>
<rect x="121.25" y="1190" width="73.25" height="20.5" fill="#00BA00"/>
<path d="M194.5 1200.25H200M200 1195.75V1204.75" stroke="#00BA00" stroke-width="1.2" fill="none"/>
<rect x="121.25" y="1221.25" width="105" height="20.75" fill="#A800E6"/>
<path d="M226.25 1231.62H234.5M234.5 1227.12V1236.12" stroke="#A800E6" stroke-width="1.2" fill="none"/>
<path d="M121.25 1252.5V1116.25M120.25 1116.25H326M121.25 1116.25V1109.25M189.15 1116.25V1109.25M257.05 1116.25V1109.25M325 1116.25V1109.25M112.75 1137.5H121.25M112.75 1169H121.25M112.75 1200.25H121.25M112.75 1231.62H121.25" stroke="#000" stroke-width="2" fill="none"/>
<text class="sa" font-size="14.5" text-anchor="end" transform="translate(116.05 1106) rotate(90)">0.0</text>
<text class="sa" font-size="14.5" text-anchor="end" transform="translate(183.95 1106) rotate(90)">0.5</text>
<text class="sa" font-size="14.5" text-anchor="end" transform="translate(251.85 1106) rotate(90)">1.0</text>
<text class="sa" font-size="14.5" text-anchor="end" transform="translate(319.8 1106) rotate(90)">1.5</text>
<text class="sa" font-size="15" text-anchor="end" transform="translate(99 1142) rotate(45)">siRNA-NC</text>
<text class="sa" font-size="15" text-anchor="end" transform="translate(99 1173.5) rotate(45)">HDAC1-siRNA1</text>
<text class="sa" font-size="15" text-anchor="end" transform="translate(99 1204.75) rotate(45)">HDAC1-siRNA2</text>
<text class="sa" font-size="15" text-anchor="end" transform="translate(99 1236.12) rotate(45)">HDAC1-siRNA3</text>
<text class="sa" x="75" y="1076.5" font-size="16.7">Relative expression (HDAC1/GAPDH)</text>
<text class="sa" font-size="13.5" text-anchor="middle" fill="#333" transform="translate(239.5 1169) rotate(90)">*</text>
<text class="sa" font-size="13.5" text-anchor="middle" fill="#333" transform="translate(208.5 1200.5) rotate(90)">**</text>
</svg></body></html>
